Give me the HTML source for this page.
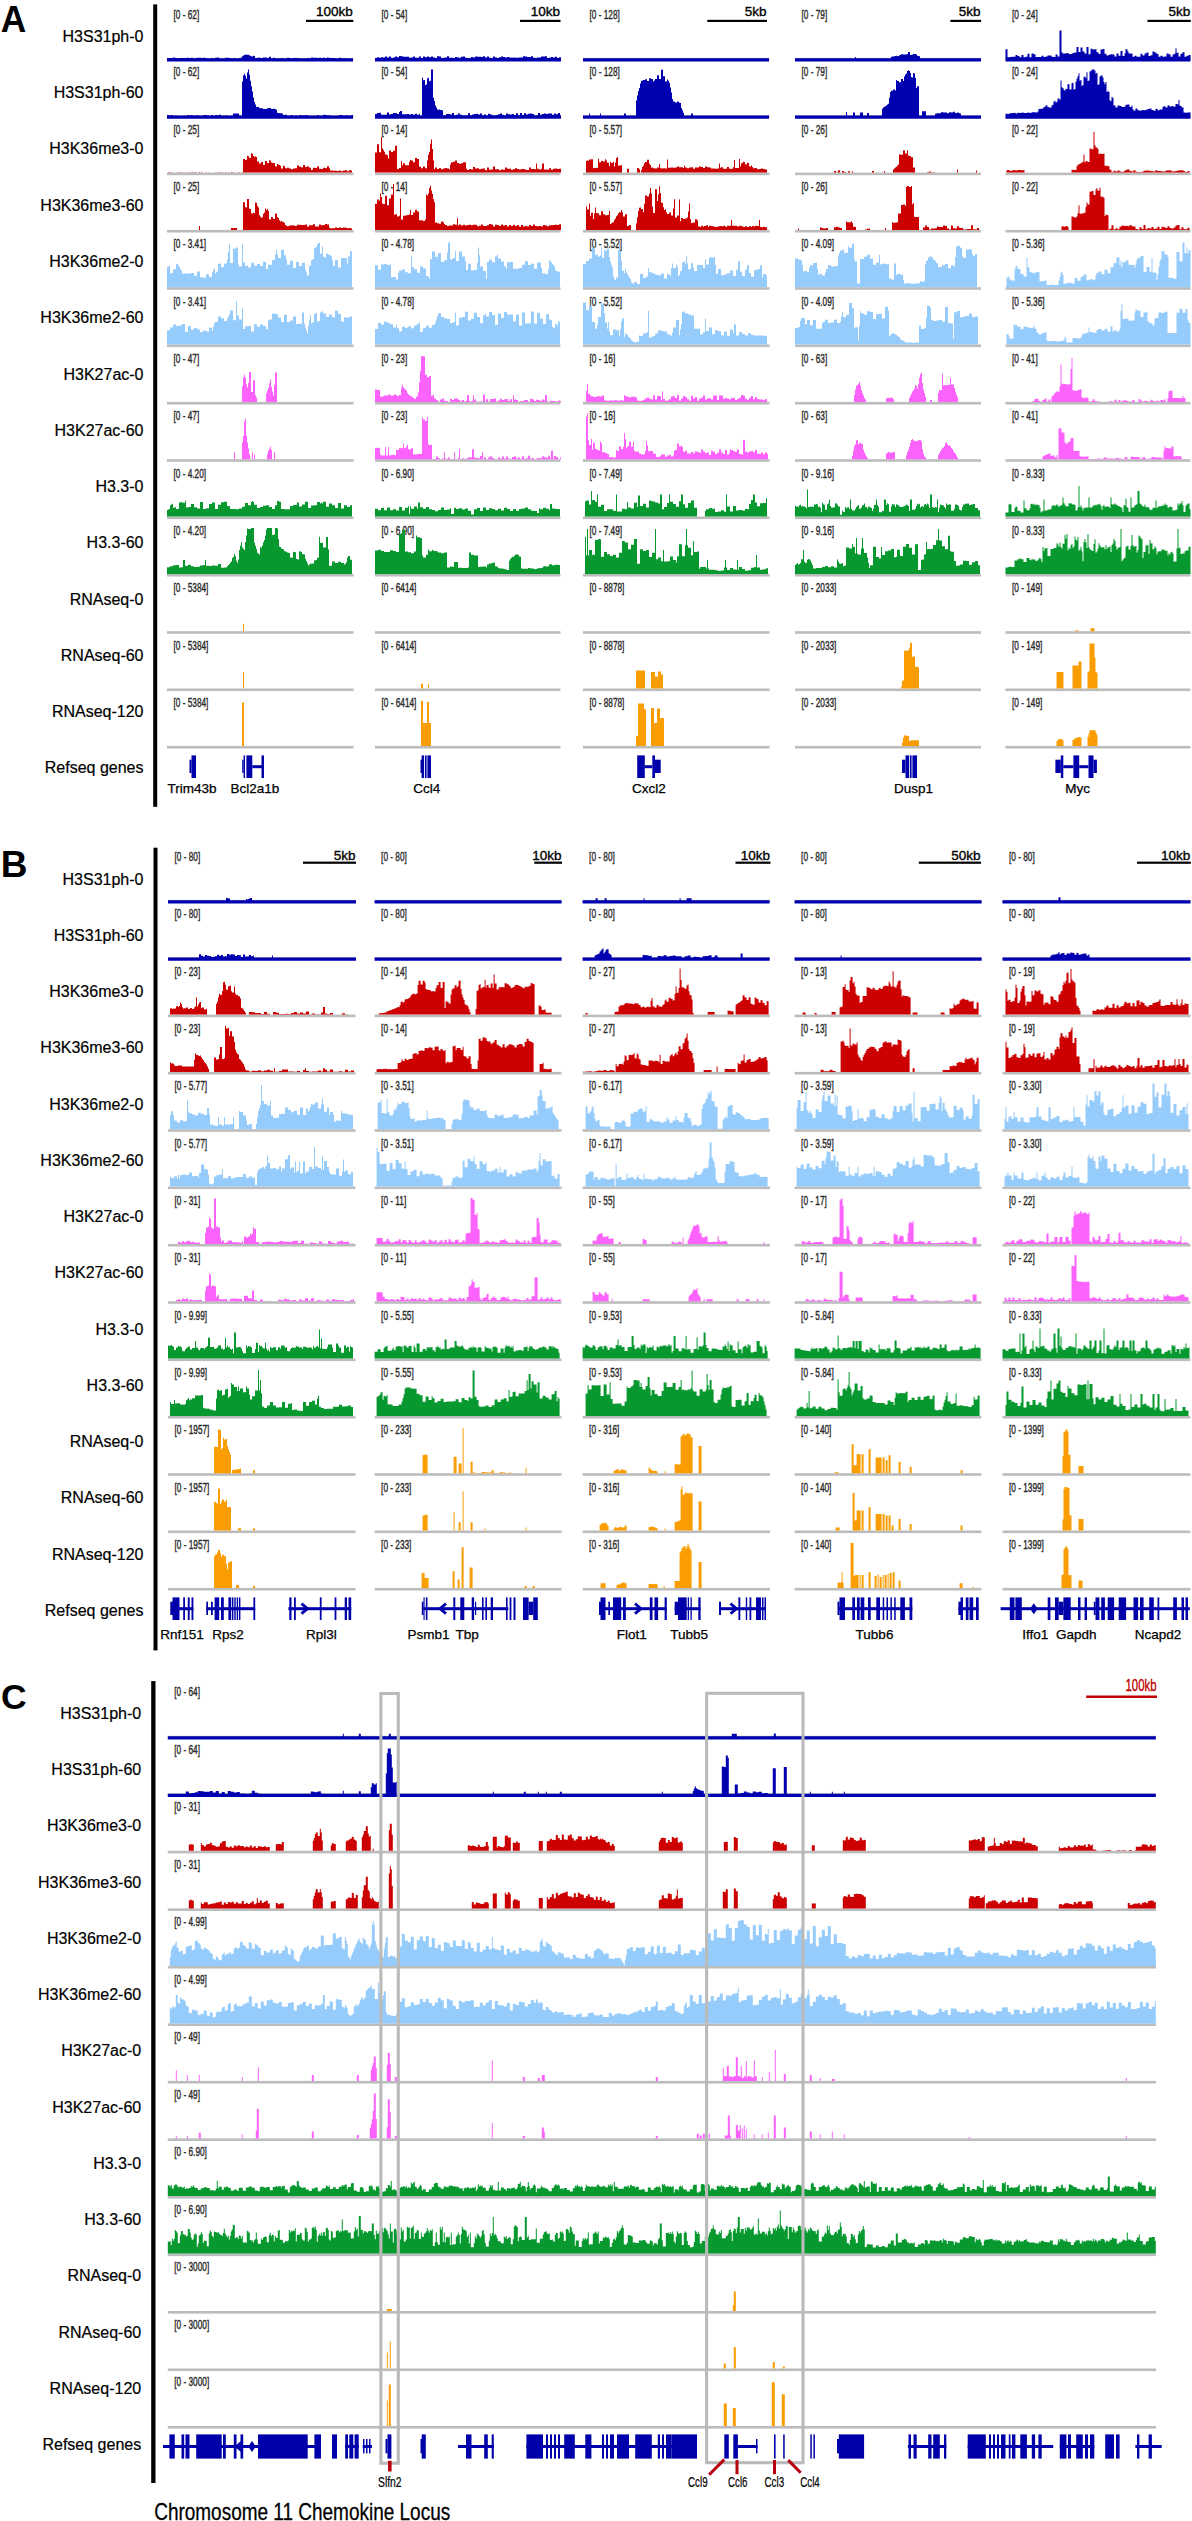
<!DOCTYPE html><html><head><meta charset="utf-8"><style>html,body{margin:0;padding:0;background:#fff;}svg{display:block;}text{font-family:"Liberation Sans",Arial,sans-serif;}</style></head><body>
<svg width="1192" height="2521" viewBox="0 0 1192 2521">
<rect width="1192" height="2521" fill="#fff"/>
<text x="0.8" y="32" font-size="37" font-weight="bold" textLength="25.5" lengthAdjust="spacingAndGlyphs">A</text>
<rect x="153.2" y="4.4" width="4" height="802.4" fill="#000"/>
<text x="143.5" y="41.9" font-size="16" text-anchor="end" stroke="#000" stroke-width="0.2">H3S31ph-0</text>
<text x="143.5" y="98.2" font-size="16" text-anchor="end" stroke="#000" stroke-width="0.2">H3S31ph-60</text>
<text x="143.5" y="154.4" font-size="16" text-anchor="end" stroke="#000" stroke-width="0.2">H3K36me3-0</text>
<text x="143.5" y="210.7" font-size="16" text-anchor="end" stroke="#000" stroke-width="0.2">H3K36me3-60</text>
<text x="143.5" y="267" font-size="16" text-anchor="end" stroke="#000" stroke-width="0.2">H3K36me2-0</text>
<text x="143.5" y="323.2" font-size="16" text-anchor="end" stroke="#000" stroke-width="0.2">H3K36me2-60</text>
<text x="143.5" y="379.5" font-size="16" text-anchor="end" stroke="#000" stroke-width="0.2">H3K27ac-0</text>
<text x="143.5" y="435.8" font-size="16" text-anchor="end" stroke="#000" stroke-width="0.2">H3K27ac-60</text>
<text x="143.5" y="492.1" font-size="16" text-anchor="end" stroke="#000" stroke-width="0.2">H3.3-0</text>
<text x="143.5" y="548.3" font-size="16" text-anchor="end" stroke="#000" stroke-width="0.2">H3.3-60</text>
<text x="143.5" y="604.6" font-size="16" text-anchor="end" stroke="#000" stroke-width="0.2">RNAseq-0</text>
<text x="143.5" y="660.9" font-size="16" text-anchor="end" stroke="#000" stroke-width="0.2">RNAseq-60</text>
<text x="143.5" y="717.1" font-size="16" text-anchor="end" stroke="#000" stroke-width="0.2">RNAseq-120</text>
<text x="143.5" y="773.4" font-size="16" text-anchor="end" stroke="#000" stroke-width="0.2">Refseq genes</text>
<text x="173.5" y="19" font-size="12.9" textLength="25.7" lengthAdjust="spacingAndGlyphs" fill="#2a2a2a" stroke="#2a2a2a" stroke-width="0.4">[0 - 62]</text>
<rect x="167" y="57.9" width="186.5" height="2.6" fill="#bcbcbc"/>
<path d="M167 61.5V58H168H169V57.9H170H171V58.1H172H173V57.6H174H175V57.9H176H177V58.3H178H179V58.1H180H181V58H182H183V58.1H184H185V58.1H186H187V57.8H188H189V57.9H190H191V57.8H192H193V58.2H194H195V58.1H196H197V57.7H198H199V57.7H200H201V58H202H203V57.8H204H205V57.9H206H207V58.3H208H209V58.2H210H211V58.1H212H213V58.2H214H215V57.8H216H217V57.6H218H219V58.2H220H221H222H223V58.3H224H225V57.7H226H227V57.8H228H229V58H230H231V58.2H232H233V58H234H235V58.2H236H237V58.3H238H239V58.1H240H241V57.6H242V56.2H243V55.6H244V55.1H245V54.6H246V54.8H247V54.7H248V54.8H249V55.5H250V55.7H251V56.3H252V56.4H253V55.7H254V55.9H255V58.1H256H257V57.7H258H259H260H261V57.9H262H263V57.6H264H265V57.6H266H267V57.9H268H269V56.8H270H271V58.3H272H273V57.8H274H275V58.2H276H277V58.3H278H279V58.2H280H281V58H282H283V58.2H284H285V58.3H286H287V57.7H288H289V58.1H290H291V58.3H292H293V58.1H294H295H296H297H298H299V58.3H300H301H302H303H304H305H306H307V58.1H308H309V58.2H310H311V57.5H312H313V57.7H314H315V57.8H316H317V58.1H318H319V57.8H320H321V58H322H323V57.8H324H325V58.1H326H327V57.5H328H329V58.1H330H331V58H332H333V57.9H334H335V58.2H336H337H338H339V57.7H340H341V58.3H342H343V58H344H345V58.3H346H347H348H349V58.2H350H351H352H353V61.5Z" fill="#0000b0"/>
<text x="173.5" y="76.3" font-size="12.9" textLength="25.7" lengthAdjust="spacingAndGlyphs" fill="#2a2a2a" stroke="#2a2a2a" stroke-width="0.4">[0 - 62]</text>
<rect x="167" y="115.2" width="186.5" height="2.6" fill="#bcbcbc"/>
<path d="M167 118.8V115H168H169V115.2H170H171V115H172H173V115.5H174H175V115.2H176H177V115.6H178H179V115.4H180H181V115.6H182H183H184H185V115.4H186H187V114.9H188H189V115.3H190H191V115H192H193V115.4H194H195V115.3H196H197H198H199V115.5H200H201V115.6H202H203V115.1H204H205H206H207V115.3H208H209V115.4H210H211V115.1H212H213V115.6H214H215V115H216H217V115.2H218H219V114.8H220H221V115.5H222H223H224H225V115.3H226H227V115.5H228H229V115.6H230H231V115.5H232H233V113.6H234H235H236H237H238H239V115.3H240H241V115.5H242V81.6H243V75.4H244V73.8H245V75.8H246V78.5H247V72.6H248V69.6H249V74.8H250V80.7H251V86.2H252V91.6H253V97.4H254V102.1H255V104.5H256V106.9H257V106.7H258V106.9H259V108.1H260V108.3H261H262H263V109.1H264H265V109H266H267V108.2H268H269V108H270H271V108.9H272H273V108.8H274H275V109.2H276V109.8H277V112.7H278V112.9H279V113.2H280V113.3H281V113.2H282V113.4H283V115H284H285V114.8H286H287V115.4H288H289V115.3H290H291V115.1H292H293V115.6H294H295V115.2H296H297V115.6H298H299V115.1H300H301V115.3H302H303H304H305V115.1H306H307V115.2H308H309V115.6H310H311V115.6H312H313H314H315H316H317V115.1H318H319V115.5H320H321V115.6H322H323V114.8H324H325V115H326H327V115.3H328H329H330H331V115.6H332H333V115.6H334H335H336H337V115.5H338H339V115.1H340H341V115.1H342H343V115.6H344H345V115.3H346H347V115.2H348H349V115.6H350H351V115H352H353V118.8Z" fill="#0000b0"/>
<text x="173.5" y="133.7" font-size="12.9" textLength="25.7" lengthAdjust="spacingAndGlyphs" fill="#2a2a2a" stroke="#2a2a2a" stroke-width="0.4">[0 - 25]</text>
<rect x="167" y="172.6" width="186.5" height="2.6" fill="#bcbcbc"/>
<path d="M167 172.6V172.4H168V172.3H169V172.3H170H171V172.2H172V172.4H173H174H175H176H177V172.1H178V172.4H179V172.3H180H181V172.3H182H183V172.4H184V172.5H185V172.2H186V172.4H187V172.5H188V172.3H189V172.5H190V172.1H191V172.4H192V172.3H193V172.3H194H195V172.1H196V172.5H197H198H199V172.1H200V172.5H201V172.1H202V172.4H203V172.5H204H205H206V172.2H207V172.6H208V172.4H209V172.2H210V172.4H211H212H213V172.5H214H215V172.2H216V172.5H217V172.1H218V172.5H219V172.3H220V172.2H221H222H223V172.5H224V172.5H225V172.2H226V172.5H227H228V172.2H229V172.5H230V172.5H231V172.1H232V172.2H233H234V172.4H235H236H237V172.5H238V172.3H239V172.2H240V172.4H241V172.3H242V172.2H243V159.1H244V158.9H245V160H246V159.8H247V155.8H248V156.2H249V157.7H250V158.1H251V153.2H252V153.7H253V156H254V156.7H255V156.4H256V157.1H257V161.4H258V161.6H259V163.4H260V163.5H261V162H262V162.1H263V164.9H264V165H265V160.9H266V161.1H267V163.1H268V163.2H269V160.3H270V160.5H271V162.6H272V162.7H273V162.9H274V163H275V166.3H276V166.5H277V163.9H278V164.6H279V165H280V165.8H281V168.4H282V168.6H283V165.7H284V166.1H285V168.1H286V168.4H287V167.8H288V167.8H289V168.6H290V168.6H291V169.2H292H293V168.5H294V168.4H295V168.3H296V168.2H297V165.6H298V165.5H299V166.7H300V166.6H301V167.4H302V167.3H303V165.1H304V165H305V166.9H306V167.1H307V166.2H308V166.6H309V167.4H310V167.7H311V169.9H312V169.8H313V167.8H314V167.7H315V168.1H316V168H317V166.5H318V166.3H319V168.7H320V168.7H321V169.1H322V169.1H323V167.8H324V167.7H325V168.2H326V168.1H327V166.3H328V166.2H329V168.3H330V170.4H331V170.5H332H333V170.7H334H335H336H337V171H338H339V170.4H340H341V171.2H342H343V170.5H344H345V170.3H346H347V171.2H348H349V170.2H350H351V170.4H352V172.6H353V172.6Z" fill="#cc0000"/>
<text x="173.5" y="191" font-size="12.9" textLength="25.7" lengthAdjust="spacingAndGlyphs" fill="#2a2a2a" stroke="#2a2a2a" stroke-width="0.4">[0 - 25]</text>
<rect x="167" y="229.9" width="186.5" height="2.6" fill="#bcbcbc"/>
<path d="M167 229.9V229.9H168H169H170H171H172H173H174H175H176H177H178H179H180H181H182H183H184H185H186H187H188H189H190H191H192H193H194H195H196H197H198H199V225.9H200V229.9H201H202H203H204H205H206H207H208H209H210H211H212H213H214H215H216H217H218H219H220H221H222H223H224H225H226H227H228H229H230H231V227.9H232H233H234H235H236H237V229.9H238H239H240H241H242H243V202.2H244H245V207.3H246H247V198.9H248H249V208.7H250V208.9H251V213.3H252V213.5H253V212.7H254V212.9H255V202.4H256V202.7H257V206H258V207.6H259V215.3H260V216.4H261V218H262V217H263V213.7H264V212.6H265V208.4H266V210.1H267V209H268V211H269V219.3H270V219.5H271V217H272V217.2H273V218.8H274V219H275V213.4H276V213.7H277V216.9H278V218.1H279V220.3H280V221.5H281V220.8H282V221.7H283V221.9H284V222.9H285V225H286V225.8H287V226.2H288H289V225.4H290H291V225.2H292H293V225.4H294H295V226H296H297V224.7H298H299V224.8H300H301V224.9H302H303H304H305V224.5H306H307V226.4H308H309V225.2H310H311H312H313V224.3H314H315V226.6H316H317V226.6H318H319V224.4H320H321V225.2H322H323V225.1H324H325V224.1H326H327V224.6H328H329V227.5H330V228.4H331V228.2H332H333H334H335V227.4H336H337V228H338H339V227.5H340H341V227.9H342H343V227.6H344H345V227.8H346H347V228.2H348H349V228.1H350H351V228.5H352V229.9H353V229.9Z" fill="#cc0000"/>
<text x="173.5" y="248.3" font-size="12.9" textLength="32.6" lengthAdjust="spacingAndGlyphs" fill="#2a2a2a" stroke="#2a2a2a" stroke-width="0.4">[0 - 3.41]</text>
<rect x="167" y="287.2" width="186.5" height="2.6" fill="#bcbcbc"/>
<path d="M167 287.2V267H168V266.5H169V266H170V273.6H171V273.3H172V273H173V269.7H174V269.3H175V268.9H176V264.2H177V263.8H178V265.6H179V266.9H180V268.8H181V270.8H182V273.6H183H184H185V273.4H186H187H188V273.6H189H190H191V273H192H193H194V275.7H195H196H197V271.4H198H199H200V277.2H201H202H203V277.8H204H205H206V274.2H207H208H209V277H210H211H212V271.9H213V270.3H214V268.6H215V273.5H216V272.3H217V271.2H218V264.1H219V263.8H220V263.6H221V267.3H222V267.2H223V267H224V263.7H225V263.5H226V263.3H227V259.3H228V251.7H229V244.1H230V263.1H231V263H232V262.9H233V248.8H234V248.7H235V248.6H236V247.6H237V247.5H238V264.5H239V266.6H240H241H242V244.2H243V262.6H244H245V265.8H246H247H248V267.4H249H250H251V262.7H252H253H254V265.8H255H256H257V263.9H258H259H260V265.9H261H262H263V261.8H264H265H266V269H267H268V264.4H269V264.8H270H271H272V260.1H273H274H275V254.2H276V249.2H277V254.2H278V258.1H279H280H281V249.8H282H283H284V255.2H285H286V259.5H287V264.8H288H289H290V260.8H291H292H293V268.1H294H295H296V261.9H297H298H299V265.9H300H301H302V262.8H303H304H305V269.6H306V272.6H307V275.7H308V275.1H309V265.9H310V265.5H311V260.2H312V259.6H313V259.1H314V248.3H315V247.6H316V246.9H317V244H318V243.2H319V242.5H320V254.1H321V253.5H322V246.2H323V256.4H324V257.1H325V257.8H326V253.2H327V254H328V254.8H329V254.6H330V255.4H331V256.2H332V260.5H333V265.9H334H335V260.1H336H337H338V267.4H339H340H341V258.1H342H343H344V257.9H345H346H347V263.5H348V256.6H349H350V250.9H351H352V287.2H353V287.2Z" fill="#96ccfc"/>
<text x="173.5" y="305.6" font-size="12.9" textLength="32.6" lengthAdjust="spacingAndGlyphs" fill="#2a2a2a" stroke="#2a2a2a" stroke-width="0.4">[0 - 3.41]</text>
<rect x="167" y="344.5" width="186.5" height="2.6" fill="#bcbcbc"/>
<path d="M167 344.5V330.2H168H169H170V327.4H171H172H173V324.6H174H175H176V325.9H177H178H179V325.6H180H181H182V324.1H183H184H185V331.8H186H187H188V326.1H189H190H191V329.6H192H193V329.7H194V327.8H195V327.9H196V328H197V329.2H198V329.3H199V329.4H200V331.9H201V331.9H202V332H203V330.6H204V330.7H205V330.8H206V331.3H207V331.4H208V331.5H209V327.6H210V327.7H211V327.8H212V330.7H213V326.8H214V322.8H215V322.2H216V322H217V321.8H218V316.8H219V316.5H220V316.3H221V318.6H222V318.4H223V318.1H224V321.3H225V321H226V320.8H227V318.7H228V316.6H229V314.6H230V310.6H231H232H233V320.3H234H235H236V301.5H237V315.4H238H239V319.5H240H241H242V308.5H243V329.1H244H245V326.2H246H247H248V326.1H249H250H251V331.5H252H253H254V324.3H255H256H257V326.8H258H259H260V324.5H261H262H263V326H264H265H266V329.3H267H268V320.3H269V319.5H270H271H272V313.4H273H274H275V314.1H276H277H278V317.6H279H280H281V322.1H282H283H284V314.7H285H286H287V322.1H288H289H290V320.5H291H292H293V316.6H294H295H296V324.1H297H298H299V323.8H300H301H302V312.5H303H304V323.7H305V327.6H306V330.6H307V333.6H308V325.6H309V320.3H310V314.9H311V323.2H312V322.8H313V322.3H314V314.2H315V313.6H316V312.9H317V321.8H318V321.3H319V320.9H320V312.4H321V311.8H322V311.2H323V313.2H324V313.4H325V313.6H326V316.7H327V316.9H328V317.1H329V314.4H330V314.6H331V314.8H332V317.1H333V317.3H334V317.6H335V310.6H336V310.8H337V311.1H338V313.7H339V313.9H340V314.1H341V321.4H342V321.6H343V321.7H344V317.2H345V317.4H346V317.7H347V317.2H348V317.4H349V317.6H350V316.1H351V316.4H352V344.5H353V344.5Z" fill="#96ccfc"/>
<text x="173.5" y="363" font-size="12.9" textLength="25.7" lengthAdjust="spacingAndGlyphs" fill="#2a2a2a" stroke="#2a2a2a" stroke-width="0.4">[0 - 47]</text>
<rect x="167" y="401.9" width="186.5" height="2.6" fill="#bcbcbc"/>
<path d="M167 401.9V401.9H168H169H170H171H172H173H174H175H176H177H178H179H180H181H182H183H184H185H186H187H188H189H190H191H192H193H194H195H196H197H198H199H200H201H202H203H204H205H206H207H208H209H210H211H212H213H214H215H216H217H218H219H220H221H222H223H224H225H226H227H228H229H230H231H232H233H234H235H236H237H238H239H240H241H242V386.2H243V377.6H244V374.7H245V377.5H246V384.2H247V387.2H248V383H249V371.9H250H251V391.9H252H253V380.2H254H255V395.2H256V397.5H257V401.9H258H259H260H261H262H263H264H265H266V393.3H267V390.8H268V388H269V383.2H270V379.5H271V386.7H272V391.5H273V395.3H274V385.1H275V372.6H276H277V401.9H278H279H280H281H282H283H284H285H286H287H288H289H290H291H292H293H294H295H296H297H298H299H300H301H302H303H304H305H306H307H308H309H310H311H312H313H314H315H316H317H318H319H320H321H322H323H324H325H326H327H328H329H330H331H332H333H334H335H336H337H338H339H340H341H342H343H344H345H346H347H348H349H350H351H352H353V401.9Z" fill="#fc62fc"/>
<text x="173.5" y="420.3" font-size="12.9" textLength="25.7" lengthAdjust="spacingAndGlyphs" fill="#2a2a2a" stroke="#2a2a2a" stroke-width="0.4">[0 - 47]</text>
<rect x="167" y="459.2" width="186.5" height="2.6" fill="#bcbcbc"/>
<path d="M167 459.2V459.2H168H169H170H171H172H173H174H175H176H177H178H179H180H181H182H183H184H185H186H187H188H189H190H191H192H193H194H195H196H197H198H199H200H201H202H203H204H205H206H207H208H209H210H211H212H213H214H215H216H217H218H219H220H221H222H223H224H225H226H227H228H229H230H231H232H233H234V452.2H235V459.2H236H237H238H239H240H241H242V442.2H243V435.9H244V421.8H245V418.8H246V435.6H247V442.5H248V448.7H249V454.2H250V459.2H251H252V452.2H253V459.2H254V454.2H255V459.2H256H257H258H259H260H261H262H263H264H265H266H267V454H268V450.5H269V448.9H270V446.7H271V450.1H272V459.2H273H274V452.2H275V459.2H276H277H278H279H280H281H282H283H284H285H286H287H288H289H290H291H292H293H294H295H296H297H298H299H300H301H302H303H304H305H306H307H308H309H310H311H312H313H314H315H316H317H318H319H320H321H322H323H324H325H326H327H328H329H330H331H332H333H334H335H336H337H338H339H340H341H342H343H344H345H346H347H348H349H350H351H352H353V459.2Z" fill="#fc62fc"/>
<text x="173.5" y="477.6" font-size="12.9" textLength="32.6" lengthAdjust="spacingAndGlyphs" fill="#2a2a2a" stroke="#2a2a2a" stroke-width="0.4">[0 - 4.20]</text>
<rect x="167" y="516.5" width="186.5" height="2.6" fill="#bcbcbc"/>
<path d="M167 516.5V510.1H168V509.6H169V509H170V505.3H171V504.6H172V503.8H173V507.7H174V507.5H175V507.3H176V509H177V508.9H178V508.7H179V502.6H180V502.4H181V502.1H182V502.6H183V502.8H184V503.1H185V500.7H186V507.4H187V507.5H188V506.9H189H190H191V503.9H192H193H194V507.2H195H196H197V508.4H198H199H200V502H201H202H203V509H204H205H206V508.2H207H208H209V503.9H210H211H212V502.4H213H214H215V509.1H216H217H218V504.8H219H220H221V502.3H222H223H224V501.7H225H226H227V505.9H228H229H230V508.9H231H232H233H234H235H236V509.3H237H238H239V508.6H240H241H242V506.7H243H244H245V502.9H246H247H248V505.2H249H250H251V501.9H252V501H253V501.9H254V504.7H255H256H257V508H258H259H260V507.1H261H262H263V505.7H264H265H266V505.3H267H268H269V507H270H271H272V509H273H274H275V505.2H276H277V501H278H279V501.8H280H281V509H282H283H284V509.2H285H286H287H288H289H290V506H291H292H293V505H294H295H296V504.7H297V502.5H298H299V506.4H300H301H302V504.5H303H304H305V501.7H306H307H308V508.1H309H310H311V505.6H312H313H314V505.3H315H316H317V501.9H318H319H320V503.6H321V502.5H322V503.6H323V501.8H324H325H326V506.8H327H328H329V503.6H330H331H332V505.2H333H334H335V507.9H336H337H338V502.9H339H340H341V508.6H342H343H344V505.2H345H346H347V507H348H349H350V505.3H351H352V516.5H353V516.5Z" fill="#07992f"/>
<text x="173.5" y="535" font-size="12.9" textLength="32.6" lengthAdjust="spacingAndGlyphs" fill="#2a2a2a" stroke="#2a2a2a" stroke-width="0.4">[0 - 4.20]</text>
<rect x="167" y="573.9" width="186.5" height="2.6" fill="#bcbcbc"/>
<path d="M167 573.9V567.3H168H169H170V566.3H171H172H173V565.3H174H175H176V565.1H177H178H179V567.4H180H181H182V567H183V559.9H184H185V565.7H186H187H188V564.8H189H190H191V566.3H192H193H194V566.9H195H196H197V566.7H198H199H200V565.5H201H202H203V564.9H204H205V559.9H206V565.7H207H208H209V566H210H211H212V565.5H213H214H215V565.7H216H217H218V564.1H219H220H221V567.8H222H223H224V567.6H225H226H227V566H228V565H229V564H230V562.6H231V561.5H232V558.1H233V556.9H234V553.9H235V556.3H236V560.7H237V562.8H238V559.6H239V550.1H240V545.8H241V542H242V547.4H243V548.8H244V550.1H245V542.2H246V535.4H247V528.6H248V529.1H249H250H251V527.9H252H253H254V542.6H255V545.7H256V548.9H257V552.7H258V553.6H259V554.4H260V547.3H261V547.6H262V545.6H263V542.2H264V540.1H265V535.6H266V529.5H267V527.9H268H269H270H271H272V535H273V534.8H274V534.6H275V527.9H276H277V528.4H278V539H279V546.6H280V546.9H281V548.6H282V548.9H283V549.2H284V551.1H285V551.4H286V551.7H287V552.4H288V552.7H289V552.9H290V557.4H291V557.6H292V557.8H293V551.7H294V551.9H295V552.3H296V558.9H297V559.2H298V559.4H299V551.2H300V551.5H301V551.9H302V553.9H303V554.2H304V554.6H305V558.7H306V560.9H307V563.2H308V565.5H309V564.5H310V563.5H311V563.7H312V563.6H313V563.5H314V560.4H315V560.2H316V560.1H317V557.8H318V557.6H319V536.7H320V542.7H321H322H323V547.5H324H325H326V536.9H327H328V549.6H329V565.8H330H331H332V561.6H333H334H335V563H336H337H338V561.7H339H340H341V563.1H342H343H344V564.4H345V563.8H346V562.2H347V557.8H348V555.9H349H350V559.7H351H352V573.9H353V573.9Z" fill="#07992f"/>
<text x="173.5" y="592.3" font-size="12.9" textLength="34.9" lengthAdjust="spacingAndGlyphs" fill="#2a2a2a" stroke="#2a2a2a" stroke-width="0.4">[0 - 5384]</text>
<rect x="167" y="631.2" width="186.5" height="2.6" fill="#bcbcbc"/>
<path d="M167 631.2V631.2H168H169H170H171H172H173H174H175H176H177H178H179H180H181H182H183H184H185H186H187H188H189H190H191H192H193H194H195H196H197H198H199H200H201H202H203H204H205H206H207H208H209H210H211H212H213H214H215H216H217H218H219H220H221H222H223H224H225H226H227H228H229H230H231H232H233H234H235H236H237H238H239H240H241H242H243V623.7H244V631.2H245H246H247H248H249H250H251H252H253H254H255H256H257H258H259H260H261H262H263H264H265H266H267H268H269H270H271H272H273H274H275H276H277H278H279H280H281H282H283H284H285H286H287H288H289H290H291H292H293H294H295H296H297H298H299H300H301H302H303H304H305H306H307H308H309H310H311H312H313H314H315H316H317H318H319H320H321H322H323H324H325H326H327H328H329H330H331H332H333H334H335H336H337H338H339H340H341H342H343H344H345H346H347H348H349H350H351H352H353V631.2Z" fill="#f99d03"/>
<text x="173.5" y="649.6" font-size="12.9" textLength="34.9" lengthAdjust="spacingAndGlyphs" fill="#2a2a2a" stroke="#2a2a2a" stroke-width="0.4">[0 - 5384]</text>
<rect x="167" y="688.5" width="186.5" height="2.6" fill="#bcbcbc"/>
<path d="M167 688.5V688.5H168H169H170H171H172H173H174H175H176H177H178H179H180H181H182H183H184H185H186H187H188H189H190H191H192H193H194H195H196H197H198H199H200H201H202H203H204H205H206H207H208H209H210H211H212H213H214H215H216H217H218H219H220H221H222H223H224H225H226H227H228H229H230H231H232H233H234H235H236H237H238H239H240H241H242H243V672.1H244V688.5H245H246H247H248H249H250H251H252H253H254H255H256H257H258H259H260H261H262H263H264H265H266H267H268H269H270H271H272H273H274H275H276H277H278H279H280H281H282H283H284H285H286H287H288H289H290H291H292H293H294H295H296H297H298H299H300H301H302H303H304H305H306H307H308H309H310H311H312H313H314H315H316H317H318H319H320H321H322H323H324H325H326H327H328H329H330H331H332H333H334H335H336H337H338H339H340H341H342H343H344H345H346H347H348H349H350H351H352H353V688.5Z" fill="#f99d03"/>
<text x="173.5" y="707" font-size="12.9" textLength="34.9" lengthAdjust="spacingAndGlyphs" fill="#2a2a2a" stroke="#2a2a2a" stroke-width="0.4">[0 - 5384]</text>
<rect x="167" y="745.9" width="186.5" height="2.6" fill="#bcbcbc"/>
<path d="M167 745.9V745.9H168H169H170H171H172H173H174H175H176H177H178H179H180H181H182H183H184H185H186H187H188H189H190H191H192H193H194H195H196H197H198H199H200H201H202H203H204H205H206H207H208H209H210H211H212H213H214H215H216H217H218H219H220H221H222H223H224H225H226H227H228H229H230H231H232H233H234H235H236H237H238H239H240H241H242V702.4H243H244V745.9H245H246H247H248H249H250H251H252H253H254H255H256H257H258H259H260H261H262H263H264H265H266H267H268H269H270H271H272H273H274H275H276H277H278H279H280H281H282H283H284H285H286H287H288H289H290H291H292H293H294H295H296H297H298H299H300H301H302H303H304H305H306H307H308H309H310H311H312H313H314H315H316H317H318H319H320H321H322H323H324H325H326H327H328H329H330H331H332H333H334H335H336H337H338H339H340H341H342H343H344H345H346H347H348H349H350H351H352H353V745.9Z" fill="#f99d03"/>
<text x="352.8" y="16.4" font-size="13.5" text-anchor="end" stroke="#000" stroke-width="0.35">100kb</text>
<rect x="306" y="19.8" width="47.3" height="2.2" fill="#000"/>
<rect x="189.5" y="759.7" width="2" height="13.3" fill="#0000aa"/>
<rect x="191.5" y="755.4" width="4.5" height="22.6" fill="#0000aa"/>
<rect x="242.2" y="759.7" width="1.4" height="13.3" fill="#0000aa"/>
<rect x="243.6" y="755.4" width="1.4" height="22.6" fill="#0000aa"/>
<rect x="246.4" y="755.4" width="5.9" height="22.6" fill="#0000aa"/>
<rect x="252.3" y="765.2" width="9.7" height="3" fill="#0000aa"/>
<rect x="261.5" y="755.4" width="2.5" height="22.6" fill="#0000aa"/>
<text x="192.1" y="793" font-size="13.5" text-anchor="middle" stroke="#000" stroke-width="0.25">Trim43b</text>
<text x="255" y="793" font-size="13.5" text-anchor="middle" stroke="#000" stroke-width="0.25">Bcl2a1b</text>
<text x="381.5" y="19" font-size="12.9" textLength="25.7" lengthAdjust="spacingAndGlyphs" fill="#2a2a2a" stroke="#2a2a2a" stroke-width="0.4">[0 - 54]</text>
<rect x="375" y="57.9" width="185.5" height="2.6" fill="#bcbcbc"/>
<path d="M375 61.5V57.9H376H377V57.3H378H379V57.8H380H381V57.2H382H383V57.5H384H385V56.4H386H387V57.6H388H389V56.5H390H391V57.9H392H393V57.4H394H395V56.4H396H397V57.2H398H399V56.1H400H401V56.3H402H403V56.8H404H405V56.7H406H407V56.7H408H409V57.8H410H411V57.5H412H413V56.6H414H415V57.8H416H417V57.7H418H419V56.4H420H421V57.9H422H423V56.6H424H425V57.3H426H427V56.6H428H429V57.2H430H431V56.6H432H433V57.4H434H435V58H436H437V56.2H438H439V56.5H440H441V58H442H443V57.8H444H445V57.5H446H447V56.3H448H449V57.8H450H451H452H453V58H454H455V57.1H456H457V57.4H458H459V57.8H460H461V56.8H462H463V56.5H464H465V57.8H466H467V57.9H468H469H470H471V56.9H472H473V57.5H474H475V56.6H476H477V56.8H478H479H480H481V56.9H482H483V56.2H484H485V57.6H486H487V56.5H488H489V57.7H490H491V57.9H492H493V56.4H494H495V57.4H496H497V57.9H498H499V57.3H500H501V56.6H502H503V57.1H504H505V57.5H506H507V57.1H508H509V57.5H510H511V57.7H512H513V57.6H514H515V57.8H516H517H518H519V57.6H520H521H522H523V56.2H524H525V56.4H526H527V57.1H528H529V57H530H531V56.3H532H533V57.8H534H535V57.9H536H537V57.4H538H539H540H541V56.4H542H543H544H545V56.2H546H547V58H548H549V57.8H550H551V57.1H552H553V57.6H554H555V56.8H556H557V57.9H558H559V57.2H560H561V61.5Z" fill="#0000b0"/>
<text x="381.5" y="76.3" font-size="12.9" textLength="25.7" lengthAdjust="spacingAndGlyphs" fill="#2a2a2a" stroke="#2a2a2a" stroke-width="0.4">[0 - 54]</text>
<rect x="375" y="115.2" width="185.5" height="2.6" fill="#bcbcbc"/>
<path d="M375 118.8V114H376H377V113.1H378H379V112.8H380H381V114.7H382H383V114.8H384H385V114.7H386H387V112.4H388H389V114.5H390H391V114H392H393V113H394H395H396H397V114.1H398H399V112.1H400V111.1H401H402V114.2H403H404H405H406H407V114.1H408H409V114.4H410H411V113.9H412H413V114.8H414H415V113.8H416H417V114.7H418H419V114.1H420V115.6H421H422V77.7H423V80.3H424V79.9H425V84.9H426V84.6H427V78.4H428V77.7H429V81.3H430V80.7H431V69.6H432H433V97.7H434V100.9H435V105.4H436V107.5H437V109.4H438V109.8H439V109.5H440V109.9H441V109.9H442V110.3H443V115.3H444V115.2H445H446V114H447H448V114.1H449H450V114.4H451H452V112.9H453H454V115.3H455H456V114.8H457H458V113.4H459H460V114.8H461H462V115.3H463H464H465H466V115.2H467H468V113.2H469H470V115.2H471H472V114.4H473H474V113.9H475H476V113.7H477H478V114.6H479H480V113.4H481H482V115.2H483H484V114.4H485H486V115.2H487H488V113.7H489H490V114.5H491H492V115.3H493H494H495H496V114.9H497H498V114.3H499H500V113.4H501H502V114.7H503H504V115.3H505H506V113.6H507H508V114.3H509H510V114.4H511H512V114.1H513H514V115.1H515H516V113.2H517H518V115.2H519H520V112.9H521H522V115H523H524V113.2H525H526V114.5H527H528V113.7H529H530V113.5H531H532V113.9H533H534V115.3H535H536V115.2H537H538V113.1H539H540V114.7H541H542V114H543H544V113.6H545H546V113.9H547H548V113.5H549H550V113.4H551H552V114.7H553H554V113.5H555H556V114.2H557H558V113H559H560V115.2H561V118.8Z" fill="#0000b0"/>
<text x="381.5" y="133.7" font-size="12.9" textLength="25.7" lengthAdjust="spacingAndGlyphs" fill="#2a2a2a" stroke="#2a2a2a" stroke-width="0.4">[0 - 14]</text>
<rect x="375" y="172.6" width="185.5" height="2.6" fill="#bcbcbc"/>
<path d="M375 172.6V152.5H376H377V144.2H378H379V152.3H380H381V137.1H382V148.2H383V149.9H384V151.8H385V154.6H386H387V155.2H388V158.4H389V150.7H390V150.2H391V151.9H392H393V150.7H394H395V145.8H396H397V168.9H398H399V167.9H400H401V161.1H402V165.3H403V163.3H404H405V165.3H406H407H408H409V161.8H410V160.1H411V160.5H412V160.4H413V162.3H414V162.2H415V158.1H416V158H417V159.1H418V158.9H419V166.8H420H421V168.2H422H423V166.4H424H425V168.3H426H427V160.6H428V154.8H429V151.7H430V143.8H431V139.6H432V149H433V160.6H434V169.2H435V167.4H436H437V169H438H439V167.9H440H441V169.2H442H443V168.4H444H445V167.9H446H447V168.6H448H449V169.3H450V164.5H451V162.3H452V162.4H453V161.7H454V161.8H455V160.4H456V160.5H457V162.9H458V163H459V163.7H460V163.8H461V163.3H462V163.3H463V162.3H464V162.3H465V162.2H466V168.5H467V170.1H468H469V168.9H470H471V169.4H472H473V167.1H474H475V168.4H476H477V168.3H478H479V169.2H480H481V168.8H482H483V168.5H484H485V170.3H486H487V167.6H488H489V169.7H490H491V169.4H492H493V166.6H494H495V169.2H496H497V169.3H498H499V170.3H500H501V169.5H502H503V169.7H504H505V167.5H506H507V168.7H508H509H510H511V169.8H512H513V169.3H514H515V168.2H516H517V169H518H519V169.6H520H521V169.1H522H523V169H524H525V169.7H526H527V169.9H528H529V167.6H530H531V169H532H533V169H534H535V169.2H536V163.6H537V168.7H538H539V169.4H540H541V168.7H542V163.6H543H544V169.5H545V169.6H546H547V169.7H548H549V168.3H550H551V169.8H552H553V168.8H554H555V168.4H556H557V169H558H559V168.8H560H561V172.6Z" fill="#cc0000"/>
<text x="381.5" y="191" font-size="12.9" textLength="25.7" lengthAdjust="spacingAndGlyphs" fill="#2a2a2a" stroke="#2a2a2a" stroke-width="0.4">[0 - 14]</text>
<rect x="375" y="229.9" width="185.5" height="2.6" fill="#bcbcbc"/>
<path d="M375 229.9V203.7H376H377V199.5H378H379V200.7H380V193.6H381V197.1H382V203.6H383V203.9H384H385V195.7H386H387V205.2H388H389V198.5H390H391V194.5H392H393V183.9H394V214.7H395V214.3H396H397V216.4H398H399V215.7H400V198.5H401V219.6H402H403V215.8H404H405V215.4H406H407V215.1H408H409V214.6H410V209.8H411V214.9H412H413V212.4H414H415V209.8H416H417V211.4H418H419V220.3H420H421V220.2H422H423V221H424H425V219.6H426V194.4H427V195.6H428V193.4H429V188.1H430V185.7H431V190.6H432V194H433V199.1H434V202.3H435V222.6H436H437V223.3H438H439V223.8H440H441V221.6H442H443V222.5H444V224H445V225H446H447V226.1H448H449V225.6H450H451V225.4H452H453V224.2H454H455V224.7H456H457V218.2H458V225.4H459V224.6H460H461V225.6H462H463V224.7H464H465V225.4H466H467V225.1H468H469V224.7H470H471V225.2H472H473V224.8H474H475H476H477V226.3H478H479V225.7H480H481V224.6H482H483V226.1H484H485V226.1H486H487V225.2H488H489V224.1H490H491V224.6H492H493V226.4H494H495V224.8H496H497V225.1H498H499V226H500H501V224.6H502H503V225.6H504H505V224.9H506H507V226.4H508H509V224.9H510H511V225.9H512H513V224.7H514H515V226H516H517V224.9H518H519V226.7H520H521V225H522H523V226.5H524H525V226H526H527V226.5H528H529V224.9H530H531V225.9H532H533V224.5H534H535V225.9H536H537V226.2H538H539V226H540H541V226.4H542H543V224.9H544H545V225.6H546H547V226.2H548H549V225.3H550H551H552H553V225H554H555V224.7H556H557V224.9H558H559V224.2H560H561V229.9Z" fill="#cc0000"/>
<text x="381.5" y="248.3" font-size="12.9" textLength="32.6" lengthAdjust="spacingAndGlyphs" fill="#2a2a2a" stroke="#2a2a2a" stroke-width="0.4">[0 - 4.78]</text>
<rect x="375" y="287.2" width="185.5" height="2.6" fill="#bcbcbc"/>
<path d="M375 287.2V265.3H376H377H378V269.8H379H380H381V264.4H382H383H384V264.1H385H386H387V265.1H388H389H390V263.9H391V277.2H392H393V277H394H395H396V279.4H397H398V273.1H399V270.4H400H401H402V269.6H403H404H405V272.3H406H407H408V273.2H409H410H411V256.2H412V267H413H414V269.3H415H416H417V272.7H418H419H420V266.6H421H422H423V268.4H424H425H426V276.3H427H428H429V278.8H430V259.2H431H432V251.4H433H434H435V256.7H436H437H438V253.3H439H440H441V261.9H442H443H444V260.2H445H446H447V252.6H448V242.6H449H450V259.3H451H452H453V258.1H454H455V251.2H456V261H457H458H459V251.5H460H461H462V256.6H463H464H465V261.3H466V269.9H467H468V263.8H469H470H471V270.5H472H473H474V270H475H476H477V263.1H478V247.4H479V255.2H480V266.5H481H482H483V271H484H485H486V278.8H487V261.9H488H489V259.7H490H491H492V262.3H493H494H495V256.6H496H497V254.2H498V258.6H499H500H501V261.6H502H503H504V266.3H505H506V268.7H507V262.2H508H509H510V262H511H512H513V268.7H514H515H516H517H518H519V268H520H521H522V264.8H523H524H525V261.2H526H527H528V265.1H529H530H531V263.8H532H533H534V268.7H535H536H537V262.4H538H539H540V262.6H541V268H542V273.3H543V273.4H544H545H546V274.3H547H548V269.3H549V260.1H550V261.3H551V262.4H552V264H553V265.1H554V266.3H555V270.3H556V271.3H557H558V271.7H559H560V287.2H561V287.2Z" fill="#96ccfc"/>
<text x="381.5" y="305.6" font-size="12.9" textLength="32.6" lengthAdjust="spacingAndGlyphs" fill="#2a2a2a" stroke="#2a2a2a" stroke-width="0.4">[0 - 4.78]</text>
<rect x="375" y="344.5" width="185.5" height="2.6" fill="#bcbcbc"/>
<path d="M375 344.5V329H376H377H378V322.8H379H380H381V324.5H382H383H384V321.7H385H386H387V322.7H388H389H390V324.2H391H392H393V327.6H394H395H396V324.5H397V328.2H398V328H399V331.6H400V331.4H401V331.2H402V327H403V326.8H404V326.6H405V327.9H406V327.7H407V327.5H408V326.6H409V326.4H410V326.1H411V328.5H412V328.3H413V328.1H414V325.7H415V325.5H416V325.3H417V323.6H418V323.4H419V323.2H420V332.1H421V332H422V331.8H423V328.2H424V328H425V327.8H426V325.8H427V325.7H428V325.5H429V328H430V327.8H431V327.6H432V325.1H433V325H434V324.8H435V322.5H436V319.2H437V315.9H438V313.2H439H440H441V317H442H443H444V318.4H445H446H447V318.9H448H449H450V323.1H451H452H453V322H454H455V312.5H456V325.4H457H458H459V317.8H460H461H462V317.1H463H464H465V311.7H466H467H468V320.4H469H470H471V318.7H472H473H474V312.8H475H476H477V317H478H479H480V323.3H481H482H483V315.2H484H485V313.5H486V316.6H487H488H489V312H490H491H492V315H493H494H495V324.7H496H497H498V313.4H499H500H501V318.1H502H503H504V312H505H506H507V314.5H508H509H510V314.6H511H512H513V321.2H514H515H516V314.4H517H518H519V325.5H520H521H522V312.6H523H524H525V323.6H526H527H528V323.2H529H530H531V311.6H532H533H534V323.6H535H536H537V312.8H538H539H540V318.5H541H542H543V324.1H544H545H546V314.3H547H548H549V319.5H550H551V320.3H552V327.1H553V327.7H554V328.4H555V323.7H556V324.6H557V325.5H558V321.1H559V322.2H560V344.5H561V344.5Z" fill="#96ccfc"/>
<text x="381.5" y="363" font-size="12.9" textLength="25.7" lengthAdjust="spacingAndGlyphs" fill="#2a2a2a" stroke="#2a2a2a" stroke-width="0.4">[0 - 23]</text>
<rect x="375" y="401.9" width="185.5" height="2.6" fill="#bcbcbc"/>
<path d="M375 401.9V389.5H376H377V390.1H378H379V389.9H380V396.7H381H382V396.4H383V395.9H384V395.6H385V395.5H386H387V395.2H388H389V393.9H390V395.1H391V395.8H392H393V394.9H394H395V393.9H396V395.3H397V395.9H398H399V394.9H400H401V387.7H402V384.7H403V387.2H404V388.8H405V389.4H406V390.6H407V393.1H408V394.2H409V395.2H410V396.3H411V396.3H412V397H413V398H414V398.5H415V399.1H416V396.9H417V395.9H418V392.3H419V382.2H420V371H421V355.9H422H423V356.6H424H425V374.8H426H427V377.3H428H429V376.1H430H431V395.7H432H433V394.8H434V398.6H435H436V400H437H438V401.7H439H440V399.5H441H442V398.6H443H444V400.7H445H446V401.1H447H448V401.9H449H450V399.1H451H452V400.1H453H454V398.5H455H456V398.4H457H458V399.8H459H460V401.2H461H462V399.9H463H464V401.6H465H466V400.5H467V394.9H468H469V401H470V401.6H471H472V400.7H473V394.9H474V399.4H475H476V401.8H477H478H479H480V401.4H481H482V401.8H483V394.4H484H485V401.8H486V399.2H487H488V401.8H489H490V399H491H492V398.9H493H494V398.5H495H496V401.4H497H498V400.6H499H500V398.7H501H502V400.1H503H504V399.2H505H506V398.9H507H508V401H509H510V399.2H511H512V401.9H513V394.9H514V399.4H515H516V400.1H517H518V401.7H519H520V401H521H522V401.2H523H524V400.1H525H526V399.9H527H528V401.8H529H530V398.7H531H532V399.6H533H534V401.1H535H536V399.8H537H538V399.9H539H540V400.9H541H542V399.5H543H544V400.4H545V394.9H546H547V401.7H548H549H550V400.8H551H552V401H553H554V401.1H555H556V401.8H557H558V400.4H559H560V401.1H561V401.9Z" fill="#fc62fc"/>
<text x="381.5" y="420.3" font-size="12.9" textLength="25.7" lengthAdjust="spacingAndGlyphs" fill="#2a2a2a" stroke="#2a2a2a" stroke-width="0.4">[0 - 23]</text>
<rect x="375" y="459.2" width="185.5" height="2.6" fill="#bcbcbc"/>
<path d="M375 459.2V447.8H376H377V448H378H379V447.8H380V454.6H381V455.4H382H383V455.6H384H385V447.2H386V455.8H387V455.3H388V447.2H389V455.6H390H391V455H392H393V454.8H394H395V455.4H396V449.8H397V450.1H398H399V447.9H400H401V448.2H402H403V443.3H404V447.9H405V448.1H406V446.4H407V444.7H408V449.1H409V449.4H410H411V448.3H412H413V454.6H414H415V454.4H416H417V454.1H418H419H420H421V453.7H422V417.2H423V419.6H424H425V421.1H426H427V417H428V444.1H429V444.9H430H431V444.7H432V459.1H433H434V459.1H435H436V456.4H437H438V458.3H439H440V459.2H441H442V458.4H443H444V452.2H445V458.8H446H447H448V457.6H449H450V459.2H451H452V458.9H453H454V452.2H455V459.1H456V459.2H457H458V458H459V449.2H460V459.2H461H462V458.3H463H464V459.1H465H466V458.6H467H468V457.3H469H470V457.5H471H472V449.2H473H474V457.5H475H476V458H477H478V458.2H479H480V456.1H481H482V452.2H483V459H484V457.3H485H486V459.2H487H488V457.6H489H490V456.2H491H492V458H493H494V458.9H495H496V459.2H497H498V457.6H499H500V458.6H501H502V456.6H503H504V458.5H505H506V456.6H507H508V458.6H509H510V459H511H512V456.9H513H514V456.5H515H516V458.4H517H518V457.6H519H520V458.8H521H522V456.2H523H524V458.8H525H526V458.2H527H528V455.8H529H530V458.4H531H532V458.1H533H534V459.2H535H536V458.4H537H538V458H539H540V458.3H541H542V456.3H543H544V457.3H545H546V457.8H547H548V455.8H549H550V458.5H551V450.7H552H553V458.5H554V456H555H556V456.9H557H558V458.9H559H560V457.5H561V459.2Z" fill="#fc62fc"/>
<text x="381.5" y="477.6" font-size="12.9" textLength="32.6" lengthAdjust="spacingAndGlyphs" fill="#2a2a2a" stroke="#2a2a2a" stroke-width="0.4">[0 - 6.90]</text>
<rect x="375" y="516.5" width="185.5" height="2.6" fill="#bcbcbc"/>
<path d="M375 516.5V508.8H376H377H378V510.3H379H380H381V507.9H382H383H384V510.2H385H386H387V507.6H388H389H390V510.2H391H392H393V509.2H394H395H396V510.6H397H398H399V507.1H400H401H402V510.4H403H404H405V507.7H406H407H408V506.2H409V513.9H410V506.2H411V508.8H412H413H414V506.4H415H416H417V508.8H418V502.5H419H420V507.2H421H422H423V508.7H424H425H426V507.1H427H428H429V509.2H430H431H432V509.9H433H434H435V511.2H436H437H438V509.9H439H440H441V507.6H442H443H444V510.1H445H446H447V509.6H448H449H450V507.9H451V514.1H452H453H454V507.8H455H456V508.9H457H458H459V508.2H460H461H462V509.5H463H464H465V508.5H466H467H468V510.7H469H470H471V514.6H472H473H474V509.3H475H476H477V508.1H478H479H480V511H481H482H483V507.5H484H485H486V510.1H487H488H489V508.3H490H491H492V508.9H493H494H495V510.3H496H497H498V508.8H499H500H501V510.6H502H503H504V507.7H505H506H507V509.1H508H509H510V511.1H511H512H513V508.9H514H515H516V510.7H517H518H519V509.1H520H521H522V508.4H523H524H525V507.5H526H527H528V509.2H529H530H531V510.7H532H533H534V510.9H535H536H537V513H538H539V508.2H540V509.3H541H542H543V507.7H544H545H546V508.8H547H548H549V510.3H550V504H551H552V508.4H553H554H555V509.1H556H557H558V509H559H560V516.5H561V516.5Z" fill="#07992f"/>
<text x="381.5" y="535" font-size="12.9" textLength="32.6" lengthAdjust="spacingAndGlyphs" fill="#2a2a2a" stroke="#2a2a2a" stroke-width="0.4">[0 - 6.90]</text>
<rect x="375" y="573.9" width="185.5" height="2.6" fill="#bcbcbc"/>
<path d="M375 573.9V550.6H376H377H378V549.8H379H380H381V551H382H383H384V552H385H386H387V551.9H388H389H390V550.3H391H392H393V551.1H394H395H396V551.9H397H398H399V534H400H401H402V529.7H403H404H405V551.4H406H407H408V552.2H409H410H411V553.2H412H413H414V551.4H415H416V535.6H417V537.2H418H419H420V538H421H422V555.4H423V557.6H424H425H426V554.8H427H428V549.5H429V551.2H430H431H432V549.7H433V550.7H434V551H435H436V551.3H437V551.6H438V552.4H439V552.5H440H441V553.3H442H443H444V552.6H445H446H447V567.4H448H449H450V566.5H451H452H453V566.9H454V561.9H455H456V562H457H458V567.9H459V567.8H460H461H462V568H463H464H465V567.9H466H467H468V567.2H469V552.6H470H471V554.7H472H473H474V555.5H475H476H477V555.2H478V567H479H480V566.7H481H482H483V566.4H484H485H486V567.6H487V564.4H488H489V563.6H490H491H492V562.7H493H494H495V566.3H496V566.6H497V566.8H498V568.1H499V568.3H500V568.5H501V568.4H502V568.6H503V568.8H504V568.9H505V569.2H506V569.4H507V569.9H508V570.1H509V560.8H510V558.9H511V557.8H512V556.7H513V556.8H514V555.8H515V554.8H516V554.2H517V554.6H518V555.1H519V556.4H520V556.8H521V568.3H522V568.7H523V568.7H524V568.8H525V568.7H526V568.8H527V568.8H528V568H529V568.1H530V568.2H531V568.4H532V568.4H533V568.5H534V569.1H535V569.2H536V568.9H537V568.4H538V568.2H539V567.9H540V568.2H541V567.9H542V567.7H543V566.5H544V566.2H545V566H546V566.7H547V566.4H548V566.2H549V564.5H550V564.2H551H552V565.3H553H554H555V564.7H556H557H558V565H559H560V573.9H561V573.9Z" fill="#07992f"/>
<text x="381.5" y="592.3" font-size="12.9" textLength="34.9" lengthAdjust="spacingAndGlyphs" fill="#2a2a2a" stroke="#2a2a2a" stroke-width="0.4">[0 - 6414]</text>
<rect x="375" y="631.2" width="185.5" height="2.6" fill="#bcbcbc"/>
<text x="381.5" y="649.6" font-size="12.9" textLength="34.9" lengthAdjust="spacingAndGlyphs" fill="#2a2a2a" stroke="#2a2a2a" stroke-width="0.4">[0 - 6414]</text>
<rect x="375" y="688.5" width="185.5" height="2.6" fill="#bcbcbc"/>
<path d="M375 688.5V688.5H376H377H378H379H380H381H382H383H384H385H386H387H388H389H390H391H392H393H394H395H396H397H398H399H400H401H402H403H404H405H406H407H408H409H410H411H412H413H414H415H416H417H418H419H420H421V683.8H422H423V688.5H424H425H426H427H428V683.8H429V688.5H430H431H432H433H434H435H436H437H438H439H440H441H442H443H444H445H446H447H448H449H450H451H452H453H454H455H456H457H458H459H460H461H462H463H464H465H466H467H468H469H470H471H472H473H474H475H476H477H478H479H480H481H482H483H484H485H486H487H488H489H490H491H492H493H494H495H496H497H498H499H500H501H502H503H504H505H506H507H508H509H510H511H512H513H514H515H516H517H518H519H520H521H522H523H524H525H526H527H528H529H530H531H532H533H534H535H536H537H538H539H540H541H542H543H544H545H546H547H548H549H550H551H552H553H554H555H556H557H558H559H560H561V688.5Z" fill="#f99d03"/>
<text x="381.5" y="707" font-size="12.9" textLength="34.9" lengthAdjust="spacingAndGlyphs" fill="#2a2a2a" stroke="#2a2a2a" stroke-width="0.4">[0 - 6414]</text>
<rect x="375" y="745.9" width="185.5" height="2.6" fill="#bcbcbc"/>
<path d="M375 745.9V745.9H376H377H378H379H380H381H382H383H384H385H386H387H388H389H390H391H392H393H394H395H396H397H398H399H400H401H402H403H404H405H406H407H408H409H410H411H412H413H414H415H416H417H418H419H420H421V700.9H422H423V722.9H424H425H426H427V701.9H428H429V722.9H430H431V745.9H432H433H434H435H436H437H438H439H440H441H442H443H444H445H446H447H448H449H450H451H452H453H454H455H456H457H458H459H460H461H462H463H464H465H466H467H468H469H470H471H472H473H474H475H476H477H478H479H480H481H482H483H484H485H486H487H488H489H490H491H492H493H494H495H496H497H498H499H500H501H502H503H504H505H506H507H508H509H510H511H512H513H514H515H516H517H518H519H520H521H522H523H524H525H526H527H528H529H530H531H532H533H534H535H536H537H538H539H540H541H542H543H544H545H546H547H548H549H550H551H552H553H554H555H556H557H558H559H560H561V745.9Z" fill="#f99d03"/>
<text x="560" y="16.4" font-size="13.5" text-anchor="end" stroke="#000" stroke-width="0.35">10kb</text>
<rect x="520" y="19.8" width="40.5" height="2.2" fill="#000"/>
<rect x="420.5" y="759.7" width="2" height="13.3" fill="#0000aa"/>
<rect x="421.6" y="755.4" width="2.4" height="22.6" fill="#0000aa"/>
<rect x="424.9" y="755.4" width="1.7" height="22.6" fill="#0000aa"/>
<rect x="427.4" y="755.4" width="3.6" height="22.6" fill="#0000aa"/>
<text x="426.7" y="793" font-size="13.5" text-anchor="middle" stroke="#000" stroke-width="0.25">Ccl4</text>
<text x="589.5" y="19" font-size="12.9" textLength="30.3" lengthAdjust="spacingAndGlyphs" fill="#2a2a2a" stroke="#2a2a2a" stroke-width="0.4">[0 - 128]</text>
<rect x="583" y="57.9" width="186.5" height="2.6" fill="#bcbcbc"/>
<path d="M583 61.5V58.3H584H585H586H587H588H589H590H591H592H593H594H595H596H597H598H599H600H601H602H603H604H605H606H607H608H609H610H611H612H613H614H615H616H617H618H619H620H621H622H623H624H625H626H627H628H629H630H631H632H633H634H635H636H637H638H639H640H641H642H643H644H645H646H647H648H649H650H651H652H653H654H655H656H657H658H659H660H661H662H663H664H665H666H667H668H669H670H671H672H673H674H675H676H677H678H679H680H681H682H683H684H685H686H687H688H689H690H691H692H693H694H695H696H697H698H699H700H701H702H703H704H705H706H707H708H709H710H711H712H713H714H715H716H717H718H719H720H721H722H723H724H725H726H727H728H729H730H731H732H733H734H735H736H737H738H739H740H741H742H743H744H745H746H747H748H749H750H751H752H753H754H755H756H757H758H759H760H761H762H763H764H765H766H767H768H769V61.5Z" fill="#0000b0"/>
<text x="589.5" y="76.3" font-size="12.9" textLength="30.3" lengthAdjust="spacingAndGlyphs" fill="#2a2a2a" stroke="#2a2a2a" stroke-width="0.4">[0 - 128]</text>
<rect x="583" y="115.2" width="186.5" height="2.6" fill="#bcbcbc"/>
<path d="M583 118.8V115.6H584H585H586H587H588H589V113.6H590V115.6H591H592H593H594H595H596H597H598H599H600V113.6H601V115.6H602H603H604H605H606H607H608H609H610H611H612H613H614H615H616H617H618H619H620H621H622H623H624V113.6H625H626V115.6H627H628H629H630H631H632H633H634H635H636V100.4H637V95.6H638V91H639V88.1H640V83.6H641V80.8H642H643V80.1H644H645V79.3H646H647V80.9H648H649V78.2H650H651V79.1H652H653V81.5H654V80.6H655V79.1H656H657V75.3H658H659V79.1H660H661V69.8H662H663V76.3H664H665V81.6H666H667V79.6H668V80.7H669V82.8H670V87.6H671V92.4H672V99H673V101.4H674V101.5H675V102.4H676V102.5H677V101.6H678V101.7H679V102.8H680V102.9H681V108.1H682V110.3H683V112.8H684V115.6H685H686H687H688H689H690H691V113.6H692H693V115.6H694H695H696H697H698H699H700H701H702H703H704H705H706H707H708H709H710H711H712H713H714H715H716H717H718H719H720H721H722H723H724H725H726H727H728H729H730H731H732H733H734H735H736H737H738H739H740H741H742H743H744H745H746H747H748H749H750H751H752H753H754H755H756H757H758H759H760H761H762H763H764H765H766H767H768H769V118.8Z" fill="#0000b0"/>
<text x="589.5" y="133.7" font-size="12.9" textLength="32.6" lengthAdjust="spacingAndGlyphs" fill="#2a2a2a" stroke="#2a2a2a" stroke-width="0.4">[0 - 5.57]</text>
<rect x="583" y="172.6" width="186.5" height="2.6" fill="#bcbcbc"/>
<path d="M583 172.6V172.6H584H585H586V161H587V160.6H588H589V159.5H590H591V159.2H592H593V168.3H594V168.1H595V167.9H596V167.7H597V167.9H598V158.8H599V162.2H600H601V161H602H603V161.6H604H605V159.2H606V160.5H607V162.7H608H609V165.8H610V161.8H611V162.9H612H613V161.7H614V166.5H615V162.4H616V158.1H617V157.1H618V165.8H619V165.6H620H621V164.9H622V172.6H623H624H625H626H627V168.8H628H629V172.6H630H631H632H633H634H635H636H637V167.9H638H639V169.2H640V172.6H641V169.9H642V167.1H643V165.6H644V163.3H645V162H646H647V159.8H648H649V163.7H650V165.1H651V167.5H652H653V168.3H654H655V168.5H656H657V167.6H658H659V163.9H660V167.9H661V168.5H662H663V168.2H664H665V168.5H666H667V159.4H668V167.8H669V167.7H670H671V167.5H672H673V167.7H674H675V167.5H676H677V166.6H678H679V167.2H680H681V167.3H682H683V167.9H684V165.4H685V167.5H686H687V168.2H688H689V167.6H690H691V167.2H692H693V168.7H694H695V167.5H696H697V167.4H698H699V166.5H700H701V166.9H702H703V168.1H704H705V166.5H706H707V167.3H708H709V167.6H710H711V168.6H712H713V168.4H714H715V168.8H716H717V168.5H718H719V163.6H720V167.7H721V167.3H722H723V168.8H724H725V168.7H726H727V166.9H728H729V168.8H730H731H732H733V167.3H734V160.1H735V167.9H736H737V168H738H739V159.1H740V166.2H741V163.4H742V162.7H743V161.8H744V162.1H745V164.2H746V164.5H747V162.7H748V163H749V166.3H750V166.5H751V165.6H752V167H753V168.3H754H755V168H756H757V169.2H758H759V168.9H760H761V168.5H762H763V168.9H764H765V169.5H766H767V172.6H768H769V172.6Z" fill="#cc0000"/>
<text x="589.5" y="191" font-size="12.9" textLength="32.6" lengthAdjust="spacingAndGlyphs" fill="#2a2a2a" stroke="#2a2a2a" stroke-width="0.4">[0 - 5.57]</text>
<rect x="583" y="229.9" width="186.5" height="2.6" fill="#bcbcbc"/>
<path d="M583 229.9V229.9H584H585H586V206.6H587V209.6H588H589V203.5H590V215.7H591V212.7H592H593V218.9H594V213.4H595V207.5H596V212.9H597V213.2H598H599V215.2H600H601V211.3H602H603V214.3H604H605V215.2H606H607V215.1H608H609V211.1H610V224H611V223.2H612V222.4H613V222H614V219.8H615V218.4H616V216.3H617V215.3H618V213.3H619V212.2H620H621V209.9H622V212.5H623V216.5H624H625V214.3H626H627V226.1H628H629V224.9H630H631V229.9H632H633H634H635H636V223.5H637V217.3H638V211.1H639V207.7H640V207.5H641V209.3H642V209.1H643V212.2H644V203.7H645V195.5H646H647V196.6H648H649V193.6H650V187.9H651V193.8H652V206.5H653V213H654H655V189.3H656H657V201H658V194.6H659V186.2H660V193H661V202.7H662H663V207.3H664V209.9H665V209.2H666V212.3H667V214.1H668H669V212.6H670H671V215.5H672H673V208.4H674V199.2H675V217.4H676H677V215.4H678H679V199.4H680V221.2H681V218H682H683V219H684H685V218.5H686H687V217.6H688V211.5H689V203.4H690V218.9H691V223H692H693V222.5H694H695V219.2H696H697V220.5H698V226.3H699V226.6H700V227H701V225.8H702H703V226.7H704V225.9H705H706V225.2H707H708V227H709V225.7H710H711V226H712H713V226.4H714H715V227.1H716H717V226.6H718H719V226.2H720V226.1H721H722V226.5H723V225.7H724H725V226.5H726V227.1H727V225.7H728H729H730H731V219.9H732V225.8H733H734H735H736H737V226.4H738H739V225.8H740H741V226.3H742H743V227.1H744H745V226.2H746H747V227.1H748H749V226.2H750H751V226.8H752V225.9H753H754V226.5H755V225.8H756H757V226H758H759V219.9H760V226.8H761V227.3H762H763V226.8H764H765V227.3H766H767V229.9H768H769V229.9Z" fill="#cc0000"/>
<text x="589.5" y="248.3" font-size="12.9" textLength="32.6" lengthAdjust="spacingAndGlyphs" fill="#2a2a2a" stroke="#2a2a2a" stroke-width="0.4">[0 - 5.52]</text>
<rect x="583" y="287.2" width="186.5" height="2.6" fill="#bcbcbc"/>
<path d="M583 287.2V264.1H584H585H586V261H587H588H589V258.5H590H591H592V247.6H593H594H595V254.7H596H597H598V256.9H599V256.2H600V255.5H601V247.2H602V257.7H603V258.1H604V250H605V250.5H606V250.9H607V248.8H608V249.3H609V257H610V261.5H611V264.7H612V268H613V276.5H614V278.7H615V280H616V277.5H617H618V250H619V243.7H620V251.3H621V260.8H622V270.8H623H624V273.2H625V268.9H626V272.6H627V274.1H628V276.1H629V277.5H630V278.9H631V282.3H632V283.1H633V283.9H634V282.1H635H636H637V284H638H639H640V273.9H641H642H643V278H644H645H646V276.4H647H648V268.3H649V272.2H650H651H652V273.2H653H654H655V274.7H656H657H658V275.3H659H660H661V273.6H662H663H664V278.6H665H666H667V274.3H668H669H670V275.8H671V268H672V263.4H673V267.9H674H675H676V264.4H677V267.1H678V276.2H679V274.8H680V271.2H681V270.9H682V262.4H683V262.1H684V261.7H685V263.8H686V256.2H687V263.2H688V269.6H689V269.3H690V269.1H691V263.2H692V262.9H693V267.6H694V271.2H695V271.1H696V271H697V265.1H698V265H699V264.8H700V265.1H701V265H702V264.9H703V268H704V267.9H705V259.2H706V264.7H707V264.6H708V264.5H709V257.5H710V257.4H711V257.2H712V257.5H713V257.4H714V257.2H715V264.7H716V274.1H717H718V269.1H719H720H721V275.3H722H723H724V274.5H725H726H727V273.3H728H729H730V270.4H731H732H733V276H734H735H736V269.8H737H738V261.2H739H740V271.8H741H742V275.9H743H744H745V269.7H746H747V265.2H748H749V273H750H751V276.8H752H753H754V270.3H755H756H757V269.2H758H759H760V265.2H761H762V277.2H763V274.1H764H765H766V275.4H767V287.2H768H769V287.2Z" fill="#96ccfc"/>
<text x="589.5" y="305.6" font-size="12.9" textLength="32.6" lengthAdjust="spacingAndGlyphs" fill="#2a2a2a" stroke="#2a2a2a" stroke-width="0.4">[0 - 5.52]</text>
<rect x="583" y="344.5" width="186.5" height="2.6" fill="#bcbcbc"/>
<path d="M583 344.5V302.4H584H585H586V310.2H587H588H589V305.7H590H591H592V322.1H593H594H595V328.8H596H597V324.4H598V317H599H600H601V303.4H602H603H604V313.6H605V322.6H606H607V328.4H608V321.9H609V331.6H610V335.2H611H612H613V329.6H614H615H616V330.3H617H618H619V336.1H620V329.6H621V321.4H622V318.6H623H624V336.7H625V333.1H626V334H627V334.9H628V336.7H629V337.5H630V338.3H631V340.2H632V341H633V341.9H634V342.2H635H636H637V341.8H638H639V335.5H640V336.1H641H642H643V333.4H644H645H646V332.5H647H648V310.7H649V337.5H650V337.4H651V337.2H652V336.4H653V336.2H654V336.1H655V333.7H656V333.6H657V333.4H658V330.5H659V330.3H660V330.1H661V331H662H663H664V331.6H665H666H667V334.3H668H669H670V335.6H671H672V332.8H673V327.6H674H675H676V319.9H677H678H679V334.9H680V329.5H681V324.1H682V311.7H683H684H685V313.4H686H687H688V314.5H689H690H691V315.5H692H693H694V328.8H695H696H697H698H699H700V334.2H701H702H703V332.2H704H705V318.4H706V331H707V331.1H708V331.2H709V327.3H710V327.4H711V327.5H712V334.2H713V334.2H714V334.3H715V330.1H716V330.2H717V330.3H718V331.1H719V331.2H720V331.3H721V335.2H722V335.3H723V335.4H724V331.6H725V331.7H726V331.8H727V335.7H728V335.7H729V335.8H730V329.5H731V329.6H732V329.7H733V333.3H734V324H735V324.8H736V335.4H737H738H739V332.1H740H741H742V334.1H743H744H745V335.5H746H747H748V333.2H749H750H751V335H752H753H754V335.5H755H756H757V335.6H758H759H760H761H762H763V335.7H764H765H766V336.1H767V344.5H768H769V344.5Z" fill="#96ccfc"/>
<text x="589.5" y="363" font-size="12.9" textLength="25.7" lengthAdjust="spacingAndGlyphs" fill="#2a2a2a" stroke="#2a2a2a" stroke-width="0.4">[0 - 16]</text>
<rect x="583" y="401.9" width="186.5" height="2.6" fill="#bcbcbc"/>
<path d="M583 401.9V401.9H584H585H586V390.7H587V383.9H588V394.1H589H590V395.5H591V396.3H592H593V396.8H594V396.9H595H596H597V396H598H599V396.6H600H601H602V395.5H603H604V400.2H605V400.4H606H607V400.8H608H609V400.5H610H611V400.6H612H613H614H615V400.1H616H617V400.7H618H619V400.4H620H621V400.2H622H623V400.8H624V394.9H625V396.2H626H627V396.7H628H629V397.6H630H631V396.7H632H633H634H635V397.3H636H637V400.6H638H639V401.1H640H641V400.8H642H643V399.7H644H645V398.3H646H647V397.6H648H649V398.7H650H651V399.6H652H653V395.2H654H655V399.4H656H657V396.1H658H659H660H661V400.3H662V391.2H663V399.1H664H665V400.8H666H667V400.4H668H669V399.3H670H671V396.3H672H673V396.2H674H675V398H676H677V395H678H679V400.7H680H681V398.4H682H683V396.1H684H685V396.9H686H687V399.3H688H689V400.7H690H691V395.7H692H693V398.6H694H695V396.9H696H697V400.8H698H699V398.4H700H701V397.8H702H703V395.4H704H705V399.4H706H707V398.5H708H709V398.2H710H711V399.4H712H713V395.6H714H715V395.4H716H717V400.1H718H719V395.3H720H721V395.6H722H723V398.8H724H725V398.1H726H727V398.7H728H729V399.2H730H731V398.1H732H733H734H735V399.9H736H737V399.1H738H739V397.8H740H741V395H742H743V395.7H744H745V398.8H746H747V399.7H748H749V397.7H750H751V396H752H753V399.2H754H755V396.9H756H757V399H758H759V399.5H760H761V399.6H762H763V400.3H764H765V399H766H767V401.9H768H769V401.9Z" fill="#fc62fc"/>
<text x="589.5" y="420.3" font-size="12.9" textLength="25.7" lengthAdjust="spacingAndGlyphs" fill="#2a2a2a" stroke="#2a2a2a" stroke-width="0.4">[0 - 16]</text>
<rect x="583" y="459.2" width="186.5" height="2.6" fill="#bcbcbc"/>
<path d="M583 459.2V459.2H584H585H586V416.5H587V413.2H588V440.4H589V444.9H590H591V439H592V449.7H593V442.3H594V443.2H595V449H596H597V450.1H598H599V450.4H600V441.6H601V443.3H602V452.3H603V452.2H604H605V452.9H606H607V453.9H608H609V457.3H610H611V456.9H612H613V457.7H614H615V457.2H616V450H617V451.3H618V451.1H619V446.5H620V446.1H621V449.2H622V448.9H623V446.8H624V432.8H625V439.3H626V447.9H627V446.2H628H629V441.4H630H631V446.7H632H633V442H634V450.8H635V451.7H636H637V451.5H638H639V453.6H640H641V454.4H642H643V454.2H644H645V450.8H646V440.8H647V445.6H648V451.3H649V451.1H650H651V451H652H653V453.5H654H655V453.8H656V456.8H657V456.9H658H659V456.6H660H661V454.5H662H663V454.6H664H665V456.7H666H667V455.6H668H669V454.9H670H671V456.4H672H673V455.3H674V450.6H675V450.1H676H677V443.4H678H679V446.4H680H681V445.6H682V446.9H683V451.8H684H685V450.7H686H687V453.4H688H689V453.6H690H691V452.1H692H693V453.2H694H695V451.3H696H697V451.9H698H699V452.7H700H701V449.5H702H703V451.5H704H705V453H706H707V452.4H708H709V455H710H711V450.7H712H713V451.8H714H715V454H716H717V452.8H718H719V449.2H720H721V452.6H722H723V453.9H724H725V450.1H726H727V454.4H728H729V452.7H730V449.2H731V449.9H732H733V451.1H734H735V452H736H737V449.4H738H739V453.9H740H741V454.4H742H743V439.7H744H745V451.4H746H747V452.4H748H749V451.5H750H751V450.9H752H753V452.3H754H755V449.9H756H757V453.8H758H759H760H761V452.5H762H763V454.3H764H765V452.2H766H767V454H768V459.2H769V459.2Z" fill="#fc62fc"/>
<text x="589.5" y="477.6" font-size="12.9" textLength="32.6" lengthAdjust="spacingAndGlyphs" fill="#2a2a2a" stroke="#2a2a2a" stroke-width="0.4">[0 - 7.49]</text>
<rect x="583" y="516.5" width="186.5" height="2.6" fill="#bcbcbc"/>
<path d="M583 516.5V516.5H584H585V501.2H586V500.7H587V500.6H588V500.5H589V504.4H590H591V491H592V500.2H593V500.1H594V500.1H595V501.8H596V501.8H597V494.5H598V506.7H599H600H601V504.8H602H603H604V511H605H606H607V509.2H608H609H610V509.3H611H612H613V510.8H614H615H616V494.5H617V511.4H618H619V511.6H620H621H622V508.7H623H624H625V509.3H626H627V502.1H628V507.6H629H630H631V508.6H632H633H634V502.7H635H636H637V506.8H638V495.5H639H640V506H641H642H643V503.7H644H645H646V507.5H647H648H649V500.8H650H651H652V501.5H653H654H655V502.5H656H657H658V503.6H659H660V494.5H661H662V509.3H663H664V506.9H665H666H667V503H668H669V494.5H670V501.7H671H672H673V504H674H675H676V506.7H677H678H679V501.2H680H681V494.5H682H683V504.2H684H685V507.8H686H687H688V502.9H689H690H691V500.5H692H693H694V507.8H695H696H697V516.5H698H699H700H701H702H703H704H705V511H706V509.3H707H708H709V507.9H710H711H712V508.8H713H714H715V512.1H716H717H718V511.6H719H720H721V510.3H722H723H724V511.8H725H726V494.5H727V506.6H728H729H730V511.5H731H732H733V505.9H734H735H736V510.5H737H738H739V509.9H740H741H742V510.4H743H744H745V509H746H747H748V509.3H749V503.9H750H751V500.1H752H753V494.5H754H755V502.5H756H757V506.3H758H759H760V503.2H761H762H763V503.1H764H765H766V498.3H767V516.5H768H769V516.5Z" fill="#07992f"/>
<text x="589.5" y="535" font-size="12.9" textLength="32.6" lengthAdjust="spacingAndGlyphs" fill="#2a2a2a" stroke="#2a2a2a" stroke-width="0.4">[0 - 7.49]</text>
<rect x="583" y="573.9" width="186.5" height="2.6" fill="#bcbcbc"/>
<path d="M583 573.9V573.9H584H585V536.8H586V555.3H587V528.9H588V555.4H589V549.9H590H591H592V554.7H593H594H595V539.8H596V539.9H597V539.9H598V539.1H599V539.1H600V539.2H601V556.7H602H603H604V551.9H605H606H607V554.2H608H609H610V556H611H612H613V554.8H614H615H616V557.6H617H618H619V552.7H620H621H622V541.1H623V541.1H624V541.2H625V542.5H626H627H628V549.3H629H630H631V544.8H632H633H634V539H635V539H636V539.1H637V563.7H638H639H640V549.3H641H642H643V551.1H644H645H646V550.1H647H648H649V557H650H651H652V552.7H653H654H655V528.9H656V559.2H657H658V557.5H659H660H661V561.2H662H663V549.9H664V561.6H665H666H667V561.3H668H669H670V556.4H671H672H673V560.1H674H675H676V562.6H677V556.2H678H679V544.3H680H681H682V556.3H683H684H685V545.2H686V528.9H687V545.2H688V547.7H689H690H691V555.3H692H693V540.9H694V551.9H695H696H697V551.5H698H699V568.8H700V566.9H701H702H703H704H705H706V568.4H707V559.9H708V568.4H709V569.7H710H711H712H713H714H715V570.2H716H717H718V571H719H720H721V570.5H722H723H724V567.4H725V559.9H726V567.4H727V570H728H729H730V568.1H731H732H733V569.5H734H735H736V569.8H737V559.9H738V569.8H739V567.1H740H741H742V568.9H743H744H745V570.8H746H747H748V570.2H749H750H751V567.8H752H753H754V566.9H755H756V554.9H757V567.5H758H759H760V569.7H761H762H763V569.3H764H765H766V568.2H767H768V573.9H769V573.9Z" fill="#07992f"/>
<text x="589.5" y="592.3" font-size="12.9" textLength="34.9" lengthAdjust="spacingAndGlyphs" fill="#2a2a2a" stroke="#2a2a2a" stroke-width="0.4">[0 - 8878]</text>
<rect x="583" y="631.2" width="186.5" height="2.6" fill="#bcbcbc"/>
<text x="589.5" y="649.6" font-size="12.9" textLength="34.9" lengthAdjust="spacingAndGlyphs" fill="#2a2a2a" stroke="#2a2a2a" stroke-width="0.4">[0 - 8878]</text>
<rect x="583" y="688.5" width="186.5" height="2.6" fill="#bcbcbc"/>
<path d="M583 688.5V688.5H584H585H586H587H588H589H590H591H592H593H594H595H596H597H598H599H600H601H602H603H604H605H606H607H608H609H610H611H612H613H614H615H616H617H618H619H620H621H622H623H624H625H626H627H628H629H630H631H632H633H634H635H636V670.5H637H638H639H640H641H642H643H644H645V688.5H646H647H648H649H650H651V672.1H652H653H654H655V676.5H656H657H658V671.5H659H660H661V674.5H662H663V688.5H664H665H666H667H668H669H670H671H672H673H674H675H676H677H678H679H680H681H682H683H684H685H686H687H688H689H690H691H692H693H694H695H696H697H698H699H700H701H702H703H704H705H706H707H708H709H710H711H712H713H714H715H716H717H718H719H720H721H722H723H724H725H726H727H728H729H730H731H732H733H734H735H736H737H738H739H740H741H742H743H744H745H746H747H748H749H750H751H752H753H754H755H756H757H758H759H760H761H762H763H764H765H766H767H768H769V688.5Z" fill="#f99d03"/>
<text x="589.5" y="707" font-size="12.9" textLength="34.9" lengthAdjust="spacingAndGlyphs" fill="#2a2a2a" stroke="#2a2a2a" stroke-width="0.4">[0 - 8878]</text>
<rect x="583" y="745.9" width="186.5" height="2.6" fill="#bcbcbc"/>
<path d="M583 745.9V745.9H584H585H586H587H588H589H590H591H592H593H594H595H596H597H598H599H600H601H602H603H604H605H606H607H608H609H610H611H612H613H614H615H616H617H618H619H620H621H622H623H624H625H626H627H628H629H630H631H632H633H634H635H636V735.9H637H638V703.4H639H640H641H642H643H644V709.3H645H646V745.9H647H648H649H650H651V707.9H652H653H654V722.9H655H656H657V708.5H658H659H660V717.9H661H662H663H664V745.9H665H666H667H668H669H670H671H672H673H674H675H676H677H678H679H680H681H682H683H684H685H686H687H688H689H690H691H692H693H694H695H696H697H698H699H700H701H702H703H704H705H706H707H708H709H710H711H712H713H714H715H716H717H718H719H720H721H722H723H724H725H726H727H728H729H730H731H732H733H734H735H736H737H738H739H740H741H742H743H744H745H746H747H748H749H750H751H752H753H754H755H756H757H758H759H760H761H762H763H764H765H766H767H768H769V745.9Z" fill="#f99d03"/>
<text x="766.5" y="16.4" font-size="13.5" text-anchor="end" stroke="#000" stroke-width="0.35">5kb</text>
<rect x="707.3" y="19.8" width="59.7" height="2.2" fill="#000"/>
<rect x="637.2" y="755.4" width="7.6" height="22.6" fill="#0000aa"/>
<rect x="644.8" y="765.2" width="7.5" height="3" fill="#0000aa"/>
<rect x="652.3" y="755.4" width="2.7" height="22.6" fill="#0000aa"/>
<rect x="655" y="759.7" width="5.7" height="13.3" fill="#0000aa"/>
<text x="649" y="793" font-size="13.5" text-anchor="middle" stroke="#000" stroke-width="0.25">Cxcl2</text>
<text x="801.5" y="19" font-size="12.9" textLength="25.7" lengthAdjust="spacingAndGlyphs" fill="#2a2a2a" stroke="#2a2a2a" stroke-width="0.4">[0 - 79]</text>
<rect x="795" y="57.9" width="186" height="2.6" fill="#bcbcbc"/>
<path d="M795 61.5V58.3H796H797H798H799H800H801H802H803H804H805H806H807H808H809H810H811H812H813H814H815H816H817H818H819H820H821H822H823H824H825H826H827H828H829H830H831H832H833H834H835H836H837H838H839H840H841H842H843H844H845H846H847H848H849H850H851H852H853H854H855V57.1H856V58.3H857H858H859H860H861H862H863H864H865H866H867H868H869H870H871H872H873H874H875H876H877H878H879H880H881H882H883H884H885H886H887H888H889H890H891V56.8H892V56.6H893V56.5H894V56.3H895V55.9H896V55.7H897V56.2H898V56H899V55.2H900V55H901V54.3H902H903V54.4H904H905H906H907V54.1H908V51.9H909H910V55H911V54.7H912H913V54.1H914H915H916V54.5H917V55.8H918V56.1H919V56.2H920V58.3H921H922H923H924H925H926H927H928H929H930H931H932H933H934H935H936H937H938H939H940H941H942H943H944H945H946H947H948H949H950H951H952H953H954H955H956H957H958H959H960H961H962H963H964H965H966H967H968H969H970H971H972H973H974H975H976H977H978H979H980H981V61.5Z" fill="#0000b0"/>
<text x="801.5" y="76.3" font-size="12.9" textLength="25.7" lengthAdjust="spacingAndGlyphs" fill="#2a2a2a" stroke="#2a2a2a" stroke-width="0.4">[0 - 79]</text>
<rect x="795" y="115.2" width="186" height="2.6" fill="#bcbcbc"/>
<path d="M795 118.8V115.6H796H797H798H799H800H801H802H803H804H805H806H807H808H809H810H811H812H813H814H815H816H817H818H819H820H821H822H823H824H825H826H827H828H829H830H831H832H833H834H835H836H837H838H839H840H841H842H843H844H845H846V112.1H847V115.6H848H849H850H851H852H853V112.6H854H855V115.6H856H857H858H859H860V112.6H861H862H863V115.6H864H865H866H867V113.1H868H869V115.6H870H871H872H873H874H875H876H877H878H879H880H881H882V108.8H883V107.5H884V106.7H885V106.3H886V105.5H887V104.6H888V103.8H889V97.7H890V92.1H891V90.7H892H893V89.4H894H895V90.5H896V80.1H897V81.1H898H899V82.3H900H901V79.1H902H903V80.9H904V76.5H905V74.4H906V73.6H907V71.1H908V70.3H909V71.1H910V73.1H911V77.1H912V77.6H913V73.1H914V73.6H915V78.1H916V87.9H917V86.3H918H919V115.6H920H921H922V111.2H923H924H925H926V115.6H927H928H929H930H931H932H933H934H935V113.7H936V113.6H937V113.3H938V113.2H939V113.3H940V113.2H941V112.2H942V112H943V112.6H944H945V112.4H946H947V113.2H948H949V112.3H950H951V112.5H952H953V111.8H954H955V112.9H956V113.1H957V112.5H958V112.7H959V113.3H960V113.5H961V115.6H962H963H964H965H966H967H968H969H970H971H972H973H974H975H976H977H978H979H980H981V118.8Z" fill="#0000b0"/>
<text x="801.5" y="133.7" font-size="12.9" textLength="25.7" lengthAdjust="spacingAndGlyphs" fill="#2a2a2a" stroke="#2a2a2a" stroke-width="0.4">[0 - 26]</text>
<rect x="795" y="172.6" width="186" height="2.6" fill="#bcbcbc"/>
<path d="M795 172.6V172.6H796H797H798H799H800H801H802H803H804H805H806H807H808H809H810H811H812H813H814H815H816H817H818H819H820H821H822H823H824H825H826H827H828H829H830H831H832H833H834V171.1H835H836V172.3H837H838V170.2H839H840V172.4H841H842V171H843H844V172H845H846V172.5H847H848V171.3H849H850V172.4H851H852V171.3H853V172.6H854H855H856H857H858H859H860H861H862H863H864H865H866H867H868H869H870H871H872V171.1H873H874V172.6H875H876H877H878H879H880H881H882H883H884V171.1H885V172.6H886H887H888H889H890H891H892H893V169.4H894V168.4H895V167.6H896V166.7H897V165.4H898V164.4H899V154.4H900H901V154.8H902H903V150.6H904H905V153.4H906H907V150.2H908V155.5H909V156H910H911V157.2H912H913V167.6H914H915V172.6H916H917H918H919H920H921H922H923H924H925H926H927V171.9H928H929V171.4H930H931V172.2H932H933V172.3H934H935V172.6H936H937H938H939H940H941H942H943H944H945H946H947H948H949H950H951H952H953H954H955H956H957V169.6H958V172.6H959H960H961H962H963H964H965H966H967H968H969H970H971H972H973H974H975H976V170.6H977V172.6H978H979H980H981V172.6Z" fill="#cc0000"/>
<text x="801.5" y="191" font-size="12.9" textLength="25.7" lengthAdjust="spacingAndGlyphs" fill="#2a2a2a" stroke="#2a2a2a" stroke-width="0.4">[0 - 26]</text>
<rect x="795" y="229.9" width="186" height="2.6" fill="#bcbcbc"/>
<path d="M795 229.9V229.9H796H797H798V228.4H799V229.9H800H801H802H803H804H805H806H807H808H809H810H811H812H813H814H815H816H817H818H819H820V227.6H821H822V228.2H823H824V228.5H825H826V227.9H827H828V229.9H829H830H831H832H833H834V227.3H835H836V226.7H837H838V227.5H839H840V228.1H841H842V229.9H843H844H845H846V221.4H847V222.3H848H849H850H851V221.3H852V222.9H853V226.7H854H855V227.1H856V229.9H857H858H859H860H861H862H863H864H865V229.5H866H867V228.7H868H869V228.6H870V229.9H871H872H873H874H875H876H877H878H879H880H881H882H883H884H885V227.9H886V229.9H887H888H889H890H891H892V222.2H893V222.7H894H895V222.4H896H897V222.2H898V213.4H899H900H901V205H902H903V204.6H904H905V205.8H906V187H907V186.1H908H909V186.9H910H911V186H912V204.3H913V202.9H914V216.8H915V217H916H917H918H919V229.9H920H921H922H923V227.4H924H925V225.5H926H927V226.9H928H929V229.4H930H931V228.6H932H933V228.6H934H935V228.3H936H937V226.6H938H939V227.1H940H941V226.9H942H943V225.5H944H945V226H946H947V228.6H948H949V229.4H950H951V225.5H952H953V228.3H954H955V228.6H956H957V226.3H958H959V227.7H960H961V227.9H962H963V229.4H964H965H966H967V229.1H968H969V228.9H970H971V225.2H972H973V229.2H974H975V229.4H976H977V228H978H979V229.9H980H981V229.9Z" fill="#cc0000"/>
<text x="801.5" y="248.3" font-size="12.9" textLength="32.6" lengthAdjust="spacingAndGlyphs" fill="#2a2a2a" stroke="#2a2a2a" stroke-width="0.4">[0 - 4.09]</text>
<rect x="795" y="287.2" width="186" height="2.6" fill="#bcbcbc"/>
<path d="M795 287.2V258.6H796H797H798V259.4H799H800H801V260.5H802V264.7H803V271.8H804V270.9H805H806H807V272.2H808H809V267.2H810V265.3H811H812H813V263.1H814H815H816V262.6H817V268.7H818V274.9H819V273.8H820H821H822V275.6H823H824H825V272.3H826V269.1H827H828V265H829H830H831V266.5H832H833H834V266.3H835H836H837V265.5H838V255.6H839V252.6H840V250.4H841H842H843V248.9H844V253.1H845H846V252.7H847H848V246.3H849V247.8H850H851H852V243.8H853H854V259.6H855V261.4H856H857V283.5H858H859H860V258.9H861H862H863H864V256.7H865H866H867V254.8H868H869H870V258.7H871H872H873V264.8H874H875H876V262.7H877H878H879V254.8H880V264.2H881V264.4H882V263.6H883V263.7H884V263.8H885V263.9H886V264.1H887V264.2H888V264.3H889V278.5H890H891V279.4H892H893H894V263.6H895H896V274.9H897V273.8H898H899H900V274.7H901H902H903V279.9H904V283.4H905H906V283.3H907H908H909V283.5H910H911H912V283.7H913H914H915V283.6H916H917H918V283.2H919H920V281.1H921V281.7H922H923H924V280.7H925V264.5H926V260.9H927V260.4H928V257.1H929V257.8H930V256.1H931V256.8H932V257.5H933V259.6H934V260.2H935V260.9H936V262.8H937V263.4H938V267.3H939V266.9H940H941H942V265H943H944H945V264H946H947H948V268.2H949H950H951V265.2H952H953H954V267.1H955V257H956V246.9H957V245.8H958H959H960V247.7H961H962V256.2H963V257.8H964H965H966V249.4H967H968H969V249.2H970H971H972V254.2H973V256H974H975V253.9H976H977V287.2H978H979H980H981V287.2Z" fill="#96ccfc"/>
<text x="801.5" y="305.6" font-size="12.9" textLength="32.6" lengthAdjust="spacingAndGlyphs" fill="#2a2a2a" stroke="#2a2a2a" stroke-width="0.4">[0 - 4.09]</text>
<rect x="795" y="344.5" width="186" height="2.6" fill="#bcbcbc"/>
<path d="M795 344.5V328.1H796H797H798V327.1H799H800V321.1H801V317.9H802H803H804V318.6H805V324.2H806H807V319.9H808H809H810V325.3H811H812H813V319.9H814H815H816V328.8H817H818H819V328.7H820H821H822V323H823V321.8H824H825V319.8H826H827H828V322.9H829H830H831V322.6H832H833H834V319.8H835H836H837V323H838H839H840V321.7H841V316.3H842V312.4H843V317.2H844H845H846V314.8H847H848H849V302.9H850H851H852V308.2H853H854V328.2H855V327.3H856H857H858V340.6H859V325.9H860V311.2H861V313.5H862H863H864V314.8H865H866H867V311.2H868H869H870V312.1H871H872H873V319H874H875H876V314.3H877H878H879V313.7H880H881H882V318.6H883H884H885V306.7H886H887H888V310.6H889V336.3H890V335.3H891V334H892V332.9H893V333.4H894V333.7H895V334.2H896V334.8H897V335.9H898V336.4H899V337.3H900V339.2H901V340H902V340.7H903H904V341.6H905V342.5H906V342.6H907H908H909V342.5H910H911H912V342.7H913H914H915V342.5H916H917H918V342.5H919V325.7H920H921V328.9H922H923H924V328.2H925H926V317.8H927V305.8H928H929H930V307.9H931V319.7H932H933V320.9H934H935H936V320.6H937H938H939V320.1H940H941H942V321.4H943H944H945V306.9H946H947H948V323H949H950H951V323.5H952H953V338.2H954V312.2H955H956H957V310.9H958H959H960V317.3H961H962H963V316.6H964H965H966V316.1H967H968H969V313.5H970H971H972V317.2H973H974H975V316.6H976H977H978V344.5H979H980H981V344.5Z" fill="#96ccfc"/>
<text x="801.5" y="363" font-size="12.9" textLength="25.7" lengthAdjust="spacingAndGlyphs" fill="#2a2a2a" stroke="#2a2a2a" stroke-width="0.4">[0 - 63]</text>
<rect x="795" y="401.9" width="186" height="2.6" fill="#bcbcbc"/>
<path d="M795 401.9V401.9H796H797H798H799H800H801H802H803H804H805H806H807H808H809H810H811H812H813H814H815H816H817H818H819H820H821H822H823H824H825H826H827H828H829H830H831H832H833H834H835H836H837H838H839H840H841H842H843H844H845H846H847H848H849H850H851H852H853H854V395H855V389.4H856V385.7H857V385.1H858V383.7H859V382.3H860V385.3H861V389.9H862V392.9H863V395.5H864V397.9H865V399.8H866V401.9H867H868H869H870H871H872H873H874H875H876H877H878H879H880H881H882H883H884H885H886V398.4H887V398.1H888H889V397.7H890H891V397.7H892H893V399.3H894V401.9H895H896H897H898H899H900H901H902H903H904H905H906H907H908H909V398.1H910V395.7H911V393.7H912V391.4H913V390.6H914V388.7H915V385.1H916V386.1H917V388.7H918V384.3H919V377.7H920V374.3H921V372.7H922V382.9H923V389.4H924V393H925V396.9H926V401.9H927H928H929H930V399.9H931H932V401.9H933H934H935H936H937H938V393.1H939V390H940H941V390.2H942V373.6H943V385.3H944H945H946H947V385H948H949V384.7H950V378.1H951V384.4H952H953V384.5H954V387.9H955V391.6H956V394.5H957V397.3H958V401.9H959H960H961H962H963H964H965H966H967H968H969H970H971H972H973H974H975H976H977H978H979H980H981V401.9Z" fill="#fc62fc"/>
<text x="801.5" y="420.3" font-size="12.9" textLength="25.7" lengthAdjust="spacingAndGlyphs" fill="#2a2a2a" stroke="#2a2a2a" stroke-width="0.4">[0 - 63]</text>
<rect x="795" y="459.2" width="186" height="2.6" fill="#bcbcbc"/>
<path d="M795 459.2V459.2H796H797H798H799H800H801H802H803H804H805H806H807H808H809H810H811H812H813H814H815H816H817H818H819H820H821H822H823H824H825H826H827H828H829H830H831H832H833H834H835H836H837H838H839H840H841H842H843H844H845H846H847H848H849H850H851H852V455.9H853V450.2H854V445.7H855V444.3H856V440.6H857V440.1H858V444.5H859V442.8H860H861V443.9H862H863V449.8H864V452.2H865V454.7H866V456.5H867V458.2H868V459.2H869H870H871H872H873H874H875H876H877H878H879H880H881H882H883H884H885H886V453.7H887V452.7H888V451.8H889V452.5H890V452.4H891H892V452.4H893V452.2H894V452.1H895V459.2H896H897H898H899H900H901H902H903H904H905H906V455.2H907V452.1H908V449.8H909V447.1H910V443.1H911V440H912V439.1H913V440.5H914H915V441.2H916H917V440.7H918V440.4H919V440.1H920V439.9H921V441.4H922V449.2H923V453.6H924V456.4H925V457.3H926V459.2H927H928H929H930H931H932H933H934H935H936H937H938V455H939V453.2H940V451.6H941V449.5H942V447.7H943V447.7H944V446H945V443.2H946V442.3H947V444.5H948V445.6H949V445.2H950V446.4H951V447.9H952V449H953V451.2H954V452.8H955V453.6H956V455.4H957V457.6H958V459.2H959H960H961H962H963H964H965H966H967H968H969H970H971H972H973H974H975H976H977H978H979H980H981V459.2Z" fill="#fc62fc"/>
<text x="801.5" y="477.6" font-size="12.9" textLength="32.6" lengthAdjust="spacingAndGlyphs" fill="#2a2a2a" stroke="#2a2a2a" stroke-width="0.4">[0 - 9.16]</text>
<rect x="795" y="516.5" width="186" height="2.6" fill="#bcbcbc"/>
<path d="M795 516.5V505.7H796V506.7H797V506.6H798V506.7H799V505.3H800V504.8H801V506.6H802V506H803V506.6H804V506.5H805V507.1H806V508.6H807V489.5H808V507H809H810V506.8H811H812V506.6H813V506.9H814V504.6H815V504.5H816V504H817V504.4H818V507.1H819V506.4H820V507.8H821V512.3H822V502.7H823V504.3H824V504.8H825V509.7H826H827V504.3H828V503.6H829V499.5H830V505.9H831V507.4H832H833H834V507.3H835V503.5H836V503.3H837V504.7H838V506.6H839V506.4H840V514.8H841H842V510.5H843V512H844H845V506.9H846V508.2H847V507.4H848V507.3H849V509H850V499.5H851V509H852V510.5H853H854H855V508.8H856V507H857V506H858V504.9H859V508.8H860V508.6H861V507.4H862V505.2H863V504.9H864V503.4H865V507.1H866V506.8H867V508.5H868V506.6H869H870V507.8H871V507.8H872V510.9H873V508.7H874V505H875V504.7H876V499.5H877V504.9H878V506.8H879V512.2H880H881H882V510.9H883H884V499.5H885H886V505H887V503.3H888V504.3H889V511.8H890H891V506.2H892V503.9H893V504.6H894H895V507H896V504.5H897H898V505.5H899V506.3H900V507.1H901H902H903V506.6H904V505.9H905V505.4H906V504.6H907V505.2H908V505.9H909V510.7H910V499.5H911H912V509.7H913H914H915V508.7H916V505.9H917V503.7H918V504.6H919V503.7H920V507.6H921V506.3H922V506.2H923V506.9H924V504.4H925V503.9H926V505H927V503.6H928V504.6H929V508H930V494.5H931H932V506.9H933V507.4H934V508.1H935V507.1H936V507.4H937V499.5H938V512.3H939V507.4H940V504.4H941V505H942V505.2H943V505.6H944V507.1H945V508.5H946V503.5H947V505.1H948V504.7H949V504.2H950V504.7H951V510.8H952H953H954V508.8H955V504.5H956V504.5H957V505H958V506.1H959V509.5H960V510.2H961H962V506.9H963V504.5H964H965V503.7H966V503.8H967V503.4H968V503.5H969V505.3H970V505.1H971V504.5H972H973V504H974H975V508.1H976H977H978V510.2H979H980V516.5H981V516.5Z" fill="#07992f"/>
<text x="801.5" y="535" font-size="12.9" textLength="32.6" lengthAdjust="spacingAndGlyphs" fill="#2a2a2a" stroke="#2a2a2a" stroke-width="0.4">[0 - 9.16]</text>
<rect x="795" y="573.9" width="186" height="2.6" fill="#bcbcbc"/>
<path d="M795 573.9V565.1H796V564.1H797V563.1H798V564.7H799V563.9H800V563.1H801V559.2H802H803V549.9H804V561.4H805V563.1H806V562.8H807V559.7H808V559.3H809V559H810V560.6H811V562.8H812V565H813V568.5H814H815H816V568H817H818H819V567.9H820H821H822V567.1H823H824H825V566.1H826H827H828V567.2H829H830H831V566.3H832H833H834V567.4H835H836H837V559.4H838V561.5H839V563.5H840V563.9H841V563.4H842V562.9H843V566.2H844V565.8H845V565.5H846V547.5H847H848H849V548.4H850H851H852V543.9H853V547.1H854H855V553.4H856V537.9H857V553.4H858V554.4H859H860H861V548.4H862V537.9H863V548.4H864V553.1H865H866H867V557.6H868V562.8H869V568H870V565.3H871H872H873V546.7H874H875H876V557.1H877H878H879V558.4H880H881V546.9H882V555.1H883H884H885V551.3H886H887H888V550.6H889H890H891V548.9H892H893H894V557.3H895H896V556.7H897V549.8H898H899H900V556H901H902H903V546.8H904H905H906V544.1H907H908H909V547.7H910H911H912V554.4H913H914H915V544.3H916H917H918V570H919H920H921V559.8H922V559.7H923V559.5H924V554.4H925V554.2H926V541.9H927V549.3H928V549.1H929V548.8H930V549.2H931V548.9H932V548.7H933V544.9H934H935H936V540.2H937H938V528.9H939V540.6H940H941H942V546.2H943H944H945V549.2H946H947H948V535.8H949H950V551H951V551.7H952H953H954V561.1H955H956V566.1H957V565.6H958H959H960V564.5H961H962H963V560.8H964H965H966V560.9H967H968H969V564.8H970H971H972V562.3H973H974H975V561H976H977H978V565.2H979H980V573.9H981V573.9Z" fill="#07992f"/>
<text x="801.5" y="592.3" font-size="12.9" textLength="34.9" lengthAdjust="spacingAndGlyphs" fill="#2a2a2a" stroke="#2a2a2a" stroke-width="0.4">[0 - 2033]</text>
<rect x="795" y="631.2" width="186" height="2.6" fill="#bcbcbc"/>
<text x="801.5" y="649.6" font-size="12.9" textLength="34.9" lengthAdjust="spacingAndGlyphs" fill="#2a2a2a" stroke="#2a2a2a" stroke-width="0.4">[0 - 2033]</text>
<rect x="795" y="688.5" width="186" height="2.6" fill="#bcbcbc"/>
<path d="M795 688.5V688.5H796H797H798H799H800H801H802H803H804H805H806H807H808H809H810H811H812H813H814H815H816H817H818H819H820H821H822H823H824H825H826H827H828H829H830H831H832H833H834H835H836H837H838H839H840H841H842H843H844H845H846H847H848H849H850H851H852H853H854H855H856H857H858H859H860H861H862H863H864H865H866H867H868H869H870H871H872H873H874H875H876H877H878H879H880H881H882H883H884H885H886H887H888H889H890H891H892H893H894H895H896H897H898H899H900H901V686.6H902V680.7H903V680.6H904V650.8H905V650.5H906H907V650.6H908H909V647.7H910V642.5H911V643.2H912V656.8H913V656.4H914H915V666.8H916H917V667.2H918H919V688.5H920H921H922H923H924H925H926H927H928H929H930H931H932H933H934H935H936H937H938H939H940H941H942H943H944H945H946H947H948H949H950H951H952H953H954H955H956H957H958H959H960H961H962H963H964H965H966H967H968H969H970H971H972H973H974H975H976H977H978H979H980H981V688.5Z" fill="#f99d03"/>
<text x="801.5" y="707" font-size="12.9" textLength="34.9" lengthAdjust="spacingAndGlyphs" fill="#2a2a2a" stroke="#2a2a2a" stroke-width="0.4">[0 - 2033]</text>
<rect x="795" y="745.9" width="186" height="2.6" fill="#bcbcbc"/>
<path d="M795 745.9V745.9H796H797H798H799H800H801H802H803H804H805H806H807H808H809H810H811H812H813H814H815H816H817H818H819H820H821H822H823H824H825H826H827H828H829H830H831H832H833H834H835H836H837H838H839H840H841H842H843H844H845H846H847H848H849H850H851H852H853H854H855H856H857H858H859H860H861H862H863H864H865H866H867H868H869H870H871H872H873H874H875H876H877H878H879H880H881H882H883H884H885H886H887H888H889H890H891H892H893H894H895H896H897H898H899H900H901H902V742.2H903V737.6H904V735.6H905V735.4H906H907V736.1H908H909V740.7H910H911V740.3H912H913H914H915V740.2H916H917V740.3H918H919V745.9H920H921H922H923H924H925H926H927H928H929H930H931H932H933H934H935H936H937H938H939H940H941H942H943H944H945H946H947H948H949H950H951H952H953H954H955H956H957H958H959H960H961H962H963H964H965H966H967H968H969H970H971H972H973H974H975H976H977H978H979H980H981V745.9Z" fill="#f99d03"/>
<text x="980.6" y="16.4" font-size="13.5" text-anchor="end" stroke="#000" stroke-width="0.35">5kb</text>
<rect x="950.4" y="19.8" width="30.7" height="2.2" fill="#000"/>
<rect x="902" y="759.7" width="3.5" height="13.3" fill="#0000aa"/>
<rect x="905.5" y="755.4" width="3.5" height="22.6" fill="#0000aa"/>
<rect x="909.8" y="755.4" width="1.8" height="22.6" fill="#0000aa"/>
<rect x="912.4" y="755.4" width="4.6" height="22.6" fill="#0000aa"/>
<text x="913.5" y="793" font-size="13.5" text-anchor="middle" stroke="#000" stroke-width="0.25">Dusp1</text>
<text x="1012" y="19" font-size="12.9" textLength="25.7" lengthAdjust="spacingAndGlyphs" fill="#2a2a2a" stroke="#2a2a2a" stroke-width="0.4">[0 - 24]</text>
<rect x="1005.5" y="57.9" width="185" height="2.6" fill="#bcbcbc"/>
<path d="M1005.5 61.5V49.3H1006.5H1007.5V57.3H1008.5H1009.5V57H1010.5H1011.5V56.8H1012.5H1013.5H1014.5H1015.5V55.1H1016.5H1017.5V56.1H1018.5H1019.5V57.3H1020.5H1021.5V54.9H1022.5H1023.5V57.3H1024.5H1025.5V56.8H1026.5H1027.5V53.7H1028.5H1029.5V57.3H1030.5H1031.5V53.6H1032.5H1033.5V54.3H1034.5H1035.5V56.9H1036.5H1037.5V57H1038.5H1039.5H1040.5H1041.5V55.8H1042.5H1043.5V56.9H1044.5H1045.5V56.4H1046.5H1047.5V55.4H1048.5H1049.5V55.4H1050.5H1051.5V56.7H1052.5H1053.5V57H1054.5H1055.5V54.4H1056.5H1057.5V56.6H1058.5H1059.5V30.6H1060.5H1061.5V52.3H1062.5V53.5H1063.5H1064.5H1065.5H1066.5V53.1H1067.5H1068.5V54.1H1069.5H1070.5V54H1071.5H1072.5V52.9H1073.5H1074.5V52.4H1075.5H1076.5V46.9H1077.5H1078.5V52H1079.5H1080.5V47.6H1081.5H1082.5V51.6H1083.5H1084.5V53.4H1085.5H1086.5V46.9H1087.5H1088.5V54.3H1089.5H1090.5V48.7H1091.5H1092.5V49.6H1093.5H1094.5V49.3H1095.5H1096.5V52.2H1097.5H1098.5V53.9H1099.5H1100.5V49.6H1101.5H1102.5V49H1103.5H1104.5V53.8H1105.5H1106.5V55.6H1107.5H1108.5V54.7H1109.5H1110.5V54.3H1111.5H1112.5V54.5H1113.5H1114.5V56.5H1115.5H1116.5V53.4H1117.5H1118.5V55.7H1119.5H1120.5V50.9H1121.5H1122.5V55.9H1123.5H1124.5V53.6H1125.5V49.3H1126.5H1127.5V51.6H1128.5V53.4H1129.5H1130.5H1131.5H1132.5V56.7H1133.5H1134.5V55.7H1135.5H1136.5V56.7H1137.5H1138.5H1139.5H1140.5V53.7H1141.5H1142.5V55.6H1143.5H1144.5V53.4H1145.5H1146.5V52.6H1147.5H1148.5V55.9H1149.5H1150.5V55.3H1151.5H1152.5V51.6H1153.5H1154.5V52.6H1155.5H1156.5V53.9H1157.5H1158.5V56.7H1159.5H1160.5V55.8H1161.5H1162.5V56.8H1163.5H1164.5V56.5H1165.5H1166.5V53.6H1167.5H1168.5V54.2H1169.5H1170.5V56.7H1171.5H1172.5V54.5H1173.5H1174.5V53.4H1175.5V48.3H1176.5V52.8H1177.5H1178.5V56.6H1179.5H1180.5V53.7H1181.5H1182.5V52.2H1183.5H1184.5V56.7H1185.5H1186.5V55.7H1187.5H1188.5V54.9H1189.5H1190.5V61.5Z" fill="#0000b0"/>
<text x="1012" y="76.3" font-size="12.9" textLength="25.7" lengthAdjust="spacingAndGlyphs" fill="#2a2a2a" stroke="#2a2a2a" stroke-width="0.4">[0 - 24]</text>
<rect x="1005.5" y="115.2" width="185" height="2.6" fill="#bcbcbc"/>
<path d="M1005.5 118.8V113.8H1006.5H1007.5V113.9H1008.5H1009.5V113.2H1010.5V113.2H1011.5V113H1012.5V113H1013.5V112.9H1014.5V112.8H1015.5V113.4H1016.5H1017.5V112.8H1018.5V112.7H1019.5V112.9H1020.5H1021.5V112.6H1022.5V112.5H1023.5V113H1024.5H1025.5V113.1H1026.5H1027.5V112.6H1028.5H1029.5V112.9H1030.5H1031.5V112.3H1032.5H1033.5V112.3H1034.5H1035.5V112.5H1036.5H1037.5V111.4H1038.5V109.1H1039.5V109.1H1040.5V108.8H1041.5V108.7H1042.5V108.5H1043.5V106.9H1044.5V106.7H1045.5V105.5H1046.5V105.2H1047.5V107.2H1048.5V107H1049.5V107.7H1050.5V107.5H1051.5V105.4H1052.5V104.7H1053.5V101.5H1054.5V100.7H1055.5V102.5H1056.5V101.8H1057.5V98.4H1058.5H1059.5V99.7H1060.5V80.4H1061.5V87.2H1062.5V87.9H1063.5V89.9H1064.5V90.6H1065.5V88.7H1066.5V88.9H1067.5V84.1H1068.5V84.3H1069.5V89.4H1070.5V89.6H1071.5V83.3H1072.5V82.8H1073.5V89.6H1074.5V89.2H1075.5V81.8H1076.5V78.8H1077.5V76.3H1078.5V73.3H1079.5V80.8H1080.5V79.9H1081.5V85.9H1082.5V85.1H1083.5V77.3H1084.5V76.3H1085.5V78H1086.5V72.3H1087.5V81H1088.5V80.5H1089.5V71.6H1090.5V71H1091.5V69.6H1092.5H1093.5H1094.5V70.7H1095.5V73.8H1096.5V72.8H1097.5V84.9H1098.5V84.2H1099.5V76.5H1100.5V75.7H1101.5V75.3H1102.5V77.5H1103.5V82.1H1104.5V84.2H1105.5V81.9H1106.5V91.9H1107.5V90.7H1108.5V92.1H1109.5V100.2H1110.5V101.2H1111.5V96.7H1112.5V98H1113.5V105.6H1114.5H1115.5V107.6H1116.5H1117.5V105.6H1118.5H1119.5V106.1H1120.5H1121.5V106.9H1122.5H1123.5V106.7H1124.5H1125.5V104.8H1126.5H1127.5V104.6H1128.5H1129.5V107H1130.5H1131.5V105.6H1132.5V109.2H1133.5V110.5H1134.5H1135.5V108.6H1136.5H1137.5V110.2H1138.5H1139.5V110.8H1140.5H1141.5V110H1142.5H1143.5V110.2H1144.5H1145.5V109.7H1146.5H1147.5V108.9H1148.5H1149.5V108.5H1150.5H1151.5V110.1H1152.5H1153.5V110.7H1154.5H1155.5V108.7H1156.5H1157.5V110.2H1158.5H1159.5V109.6H1160.5H1161.5V109.5H1162.5V107H1163.5V106.3H1164.5V106.2H1165.5V107.5H1166.5V107.4H1167.5V105.5H1168.5V105.5H1169.5V106.5H1170.5V106.5H1171.5V106.2H1172.5V106.1H1173.5V106.8H1174.5V106.8H1175.5V104H1176.5V103.9H1177.5V104.4H1178.5V99.9H1179.5V105.8H1180.5V106.1H1181.5V107.3H1182.5V107.6H1183.5V112.6H1184.5H1185.5V112.7H1186.5H1187.5V112.4H1188.5H1189.5V112.3H1190.5V118.8Z" fill="#0000b0"/>
<text x="1012" y="133.7" font-size="12.9" textLength="25.7" lengthAdjust="spacingAndGlyphs" fill="#2a2a2a" stroke="#2a2a2a" stroke-width="0.4">[0 - 22]</text>
<rect x="1005.5" y="172.6" width="185" height="2.6" fill="#bcbcbc"/>
<path d="M1005.5 172.6V172.6H1006.5V170.2H1007.5V170.1H1008.5H1009.5V170.9H1010.5H1011.5V170.4H1012.5H1013.5V170.1H1014.5H1015.5V170.4H1016.5H1017.5V170H1018.5H1019.5V170H1020.5H1021.5V170.2H1022.5H1023.5V170.1H1024.5V172.6H1025.5H1026.5H1027.5H1028.5H1029.5H1030.5H1031.5H1032.5H1033.5H1034.5H1035.5H1036.5H1037.5H1038.5H1039.5H1040.5H1041.5H1042.5H1043.5H1044.5H1045.5H1046.5H1047.5H1048.5H1049.5H1050.5H1051.5H1052.5H1053.5H1054.5H1055.5H1056.5H1057.5H1058.5H1059.5H1060.5H1061.5H1062.5H1063.5H1064.5H1065.5H1066.5H1067.5H1068.5H1069.5H1070.5H1071.5V169.8H1072.5H1073.5V170.1H1074.5H1075.5H1076.5V166.2H1077.5V164.8H1078.5V164.3H1079.5V163.7H1080.5V163.2H1081.5V162.4H1082.5V161.8H1083.5V154.5H1084.5V162.4H1085.5V160.9H1086.5H1087.5V162H1088.5H1089.5V148.4H1090.5H1091.5V149.2H1092.5H1093.5V131.7H1094.5V145.3H1095.5V147.5H1096.5H1097.5V149.1H1098.5V154.3H1099.5V153.6H1100.5H1101.5V153.9H1102.5H1103.5V153.4H1104.5V165.7H1105.5H1106.5H1107.5V166.2H1108.5H1109.5V169.7H1110.5H1111.5V171.9H1112.5H1113.5V170.8H1114.5H1115.5V171.4H1116.5H1117.5V170.4H1118.5H1119.5V171.6H1120.5H1121.5V172H1122.5H1123.5V171.1H1124.5H1125.5V169.7H1126.5H1127.5V169.6H1128.5H1129.5V170.9H1130.5H1131.5V171.4H1132.5H1133.5V170.2H1134.5H1135.5V171.7H1136.5H1137.5V171.9H1138.5H1139.5V172H1140.5H1141.5V171.7H1142.5H1143.5V170.8H1144.5H1145.5V170.6H1146.5H1147.5V170.5H1148.5H1149.5V170.9H1150.5H1151.5V171.3H1152.5H1153.5V171.4H1154.5H1155.5V170.2H1156.5H1157.5V171.1H1158.5H1159.5V171H1160.5H1161.5V171.5H1162.5H1163.5V171.4H1164.5H1165.5V170.5H1166.5H1167.5V170.6H1168.5H1169.5V170.3H1170.5H1171.5V171.5H1172.5H1173.5V171.2H1174.5H1175.5V171.1H1176.5H1177.5V170.5H1178.5H1179.5V170.2H1180.5H1181.5V170.3H1182.5H1183.5V171.3H1184.5H1185.5V172H1186.5H1187.5V171H1188.5H1189.5V172.6H1190.5V172.6Z" fill="#cc0000"/>
<text x="1012" y="191" font-size="12.9" textLength="25.7" lengthAdjust="spacingAndGlyphs" fill="#2a2a2a" stroke="#2a2a2a" stroke-width="0.4">[0 - 22]</text>
<rect x="1005.5" y="229.9" width="185" height="2.6" fill="#bcbcbc"/>
<path d="M1005.5 229.9V229.9H1006.5H1007.5H1008.5H1009.5H1010.5H1011.5H1012.5H1013.5H1014.5H1015.5H1016.5H1017.5H1018.5H1019.5H1020.5H1021.5H1022.5H1023.5H1024.5H1025.5H1026.5H1027.5H1028.5H1029.5H1030.5H1031.5H1032.5H1033.5H1034.5H1035.5H1036.5H1037.5H1038.5H1039.5H1040.5H1041.5H1042.5H1043.5H1044.5H1045.5H1046.5H1047.5H1048.5H1049.5H1050.5H1051.5H1052.5H1053.5H1054.5H1055.5H1056.5H1057.5H1058.5H1059.5H1060.5H1061.5V226.2H1062.5H1063.5V226.7H1064.5H1065.5V226.1H1066.5H1067.5V227.1H1068.5V229.9H1069.5H1070.5H1071.5V216.4H1072.5H1073.5V217.2H1074.5H1075.5V217.8H1076.5V216.2H1077.5V213.2H1078.5V205.3H1079.5V213.7H1080.5H1081.5V213.5H1082.5H1083.5V212.8H1084.5H1085.5V207H1086.5V202.5H1087.5V204.6H1088.5H1089.5V191.7H1090.5H1091.5V191H1092.5H1093.5V195H1094.5H1095.5V189.6H1096.5V187.9H1097.5V190.9H1098.5V190.3H1099.5V187.8H1100.5V196.4H1101.5V196.7H1102.5H1103.5V197.8H1104.5V215.9H1105.5V214.8H1106.5H1107.5V215.3H1108.5V229.9H1109.5V228.8H1110.5H1111.5V225.3H1112.5H1113.5V229.4H1114.5H1115.5V228.2H1116.5H1117.5V229.3H1118.5H1119.5V226.8H1120.5H1121.5V225.5H1122.5H1123.5V226H1124.5H1125.5V225.8H1126.5H1127.5V226.3H1128.5H1129.5V224.9H1130.5H1131.5V226.2H1132.5H1133.5V226.5H1134.5H1135.5V229.1H1136.5H1137.5V229.4H1138.5H1139.5V227.2H1140.5H1141.5V229.1H1142.5H1143.5V225.1H1144.5H1145.5V229.3H1146.5H1147.5V228H1148.5H1149.5V228.6H1150.5H1151.5V226.9H1152.5H1153.5V229H1154.5H1155.5V228.6H1156.5H1157.5V226.7H1158.5H1159.5V228.9H1160.5H1161.5V226.7H1162.5H1163.5V227.2H1164.5H1165.5V228H1166.5H1167.5V226.2H1168.5H1169.5V228.1H1170.5H1171.5V228.7H1172.5H1173.5V227.5H1174.5H1175.5V225.4H1176.5H1177.5V225.1H1178.5H1179.5V229.2H1180.5H1181.5V227.2H1182.5H1183.5V229.3H1184.5H1185.5H1186.5H1187.5V227.8H1188.5H1189.5V229.9H1190.5V229.9Z" fill="#cc0000"/>
<text x="1012" y="248.3" font-size="12.9" textLength="32.6" lengthAdjust="spacingAndGlyphs" fill="#2a2a2a" stroke="#2a2a2a" stroke-width="0.4">[0 - 5.36]</text>
<rect x="1005.5" y="287.2" width="185" height="2.6" fill="#bcbcbc"/>
<path d="M1005.5 287.2V287.2H1006.5V277.6H1007.5H1008.5V276.2H1009.5V279.5H1010.5H1011.5V280.6H1012.5H1013.5H1014.5V269.5H1015.5V266.1H1016.5H1017.5V268.9H1018.5H1019.5H1020.5V273.8H1021.5H1022.5H1023.5V276.6H1024.5H1025.5H1026.5V257.7H1027.5V267.2H1028.5V267.5H1029.5V272.1H1030.5V272.3H1031.5V272.5H1032.5V272.9H1033.5V273.1H1034.5V273.4H1035.5V271.9H1036.5V272.1H1037.5V272.4H1038.5V272H1039.5V281.2H1040.5H1041.5H1042.5H1043.5H1044.5V280.4H1045.5H1046.5V285H1047.5H1048.5H1049.5H1050.5V284.8H1051.5H1052.5H1053.5V285H1054.5H1055.5H1056.5H1057.5H1058.5V280.7H1059.5V276.9H1060.5V272.7H1061.5V271.5H1062.5V274.7H1063.5V283.9H1064.5H1065.5V283H1066.5H1067.5H1068.5V282.8H1069.5H1070.5H1071.5V283.6H1072.5H1073.5H1074.5V278H1075.5H1076.5H1077.5V280.7H1078.5H1079.5H1080.5V277.5H1081.5V276.3H1082.5H1083.5V274.4H1084.5H1085.5H1086.5V280.6H1087.5V280.3H1088.5V280H1089.5V279.5H1090.5V279.2H1091.5V279H1092.5V279.9H1093.5V279.7H1094.5V279.4H1095.5V275.1H1096.5V272.9H1097.5H1098.5V271.5H1099.5H1100.5H1101.5V274.2H1102.5H1103.5H1104.5V269.8H1105.5H1106.5H1107.5V273.3H1108.5H1109.5H1110.5V267.4H1111.5V267.2H1112.5V267H1113.5V263.2H1114.5V263H1115.5V262.8H1116.5V257.8H1117.5V257.5H1118.5V257.3H1119.5V265.3H1120.5V260.6H1121.5V266.9H1122.5V262.1H1123.5V262.2H1124.5V262.3H1125.5V260.3H1126.5V260.4H1127.5V260.5H1128.5V264.8H1129.5V264.8H1130.5V264.9H1131.5H1132.5V264.9H1133.5V265H1134.5V267.8H1135.5V263.6H1136.5V259.4H1137.5V257.9H1138.5H1139.5H1140.5V256.1H1141.5H1142.5H1143.5V272H1144.5H1145.5H1146.5V267.1H1147.5H1148.5H1149.5V271.7H1150.5H1151.5V257.7H1152.5V272.6H1153.5H1154.5H1155.5V272.9H1156.5V279.7H1157.5V274.3H1158.5V266.9H1159.5V260.9H1160.5V259.1H1161.5V251.3H1162.5H1163.5H1164.5V254.5H1165.5H1166.5H1167.5V256.9H1168.5V278.1H1169.5H1170.5V277.7H1171.5H1172.5H1173.5V278.7H1174.5H1175.5H1176.5V251.9H1177.5H1178.5H1179.5V261.5H1180.5H1181.5H1182.5V242.6H1183.5H1184.5V252.9H1185.5V253.6H1186.5V247.6H1187.5V253.6H1188.5V250.2H1189.5H1190.5V287.2Z" fill="#96ccfc"/>
<text x="1012" y="305.6" font-size="12.9" textLength="32.6" lengthAdjust="spacingAndGlyphs" fill="#2a2a2a" stroke="#2a2a2a" stroke-width="0.4">[0 - 5.36]</text>
<rect x="1005.5" y="344.5" width="185" height="2.6" fill="#bcbcbc"/>
<path d="M1005.5 344.5V344.5H1006.5V334H1007.5H1008.5V335.7H1009.5V339H1010.5H1011.5V338.5H1012.5H1013.5V324H1014.5V325.2H1015.5H1016.5H1017.5V326.8H1018.5H1019.5H1020.5V329.2H1021.5H1022.5H1023.5V326.6H1024.5H1025.5H1026.5V327.3H1027.5H1028.5H1029.5V328.1H1030.5H1031.5H1032.5V327.7H1033.5V326H1034.5V328.5H1035.5V328.7H1036.5V332.5H1037.5H1038.5V334.6H1039.5H1040.5H1041.5V333.3H1042.5H1043.5H1044.5V332H1045.5H1046.5V340.3H1047.5V341.3H1048.5H1049.5H1050.5V340.9H1051.5H1052.5H1053.5V341H1054.5H1055.5H1056.5V341.4H1057.5H1058.5H1059.5V341.1H1060.5H1061.5H1062.5V340.4H1063.5H1064.5V336.8H1065.5V338.6H1066.5V342.7H1067.5H1068.5V342.3H1069.5H1070.5H1071.5V342.7H1072.5V338H1073.5H1074.5V337.9H1075.5H1076.5H1077.5V338.4H1078.5H1079.5H1080.5V337.4H1081.5V335.4H1082.5V333.4H1083.5H1084.5H1085.5H1086.5V332.7H1087.5H1088.5V327.5H1089.5V331.9H1090.5H1091.5H1092.5V332.7H1093.5H1094.5H1095.5V333H1096.5V329.9H1097.5H1098.5V329.1H1099.5H1100.5H1101.5V330.7H1102.5H1103.5H1104.5V328.7H1105.5H1106.5H1107.5V331.7H1108.5H1109.5H1110.5V326.3H1111.5V326.7H1112.5V331.7H1113.5V330.5H1114.5H1115.5H1116.5V331.6H1117.5H1118.5H1119.5V328.8H1120.5V310.9H1121.5V304.3H1122.5V318.9H1123.5H1124.5H1125.5V318.6H1126.5H1127.5H1128.5V320.7H1129.5H1130.5H1131.5V320.4H1132.5H1133.5H1134.5V312.5H1135.5V309H1136.5V310.2H1137.5V310.8H1138.5H1139.5H1140.5V316.9H1141.5H1142.5H1143.5V312.5H1144.5H1145.5H1146.5V311.8H1147.5V321.6H1148.5H1149.5V323.3H1150.5H1151.5H1152.5V325.4H1153.5H1154.5V318.6H1155.5V318.1H1156.5H1157.5H1158.5V312.5H1159.5H1160.5H1161.5V312.9H1162.5H1163.5H1164.5V311.7H1165.5H1166.5H1167.5V332.9H1168.5H1169.5H1170.5V333.1H1171.5H1172.5H1173.5V333H1174.5H1175.5H1176.5V312.8H1177.5H1178.5H1179.5V308.7H1180.5H1181.5H1182.5V312.8H1183.5H1184.5H1185.5V309.1H1186.5H1187.5V319.9H1188.5V322.7H1189.5H1190.5V344.5Z" fill="#96ccfc"/>
<text x="1012" y="363" font-size="12.9" textLength="25.7" lengthAdjust="spacingAndGlyphs" fill="#2a2a2a" stroke="#2a2a2a" stroke-width="0.4">[0 - 41]</text>
<rect x="1005.5" y="401.9" width="185" height="2.6" fill="#bcbcbc"/>
<path d="M1005.5 401.9V401.9H1006.5H1007.5H1008.5H1009.5H1010.5H1011.5H1012.5H1013.5H1014.5H1015.5H1016.5H1017.5H1018.5H1019.5H1020.5H1021.5H1022.5H1023.5H1024.5H1025.5H1026.5H1027.5H1028.5H1029.5H1030.5H1031.5H1032.5V401.2H1033.5H1034.5V399H1035.5H1036.5V398.7H1037.5H1038.5V401.1H1039.5H1040.5V401.9H1041.5H1042.5V400.1H1043.5H1044.5V398.6H1045.5H1046.5V401.4H1047.5H1048.5V399.5H1049.5H1050.5V401.9H1051.5V396.6H1052.5V395.8H1053.5V394.2H1054.5V393.3H1055.5V392H1056.5V391.1H1057.5V391.8H1058.5H1059.5V385.9H1060.5V364.5H1061.5V383.8H1062.5H1063.5V384.1H1064.5H1065.5V384.3H1066.5H1067.5V384.4H1068.5H1069.5V384.1H1070.5V369.1H1071.5V357.9H1072.5V390.3H1073.5V390.4H1074.5H1075.5V390.9H1076.5H1077.5V390H1078.5H1079.5V389.2H1080.5H1081.5V397.6H1082.5H1083.5V398.3H1084.5H1085.5V397.6H1086.5H1087.5V397.8H1088.5V401.6H1089.5H1090.5V401.5H1091.5H1092.5V399.3H1093.5H1094.5V400.9H1095.5H1096.5V401.4H1097.5H1098.5V401.8H1099.5H1100.5V401.7H1101.5H1102.5V401.9H1103.5H1104.5V401.7H1105.5H1106.5V401.9H1107.5H1108.5V401.6H1109.5H1110.5V401.3H1111.5H1112.5V401.8H1113.5H1114.5V399.8H1115.5H1116.5V401.8H1117.5H1118.5V400H1119.5H1120.5V401.8H1121.5H1122.5V400.6H1123.5H1124.5V400.3H1125.5H1126.5V400.9H1127.5H1128.5V401.8H1129.5H1130.5V401.5H1131.5H1132.5V400.1H1133.5H1134.5V401.9H1135.5H1136.5H1137.5H1138.5V399.2H1139.5H1140.5V400.8H1141.5H1142.5V401.7H1143.5H1144.5V400.8H1145.5H1146.5V401.2H1147.5H1148.5V401.8H1149.5H1150.5V399.8H1151.5H1152.5V401H1153.5H1154.5V401.7H1155.5H1156.5V400.4H1157.5H1158.5V401.4H1159.5H1160.5V399.9H1161.5H1162.5V400.6H1163.5H1164.5V399H1165.5V401.9H1166.5H1167.5V398H1168.5V391.5H1169.5V390.5H1170.5H1171.5V391.3H1172.5V397.9H1173.5H1174.5H1175.5V398.1H1176.5H1177.5V397.9H1178.5H1179.5V398.2H1180.5H1181.5V398H1182.5V395.9H1183.5V397.9H1184.5H1185.5V401.9H1186.5H1187.5H1188.5H1189.5H1190.5V401.9Z" fill="#fc62fc"/>
<text x="1012" y="420.3" font-size="12.9" textLength="25.7" lengthAdjust="spacingAndGlyphs" fill="#2a2a2a" stroke="#2a2a2a" stroke-width="0.4">[0 - 41]</text>
<rect x="1005.5" y="459.2" width="185" height="2.6" fill="#bcbcbc"/>
<path d="M1005.5 459.2V459.2H1006.5H1007.5H1008.5H1009.5H1010.5H1011.5H1012.5H1013.5H1014.5H1015.5H1016.5H1017.5H1018.5H1019.5H1020.5H1021.5H1022.5H1023.5H1024.5H1025.5H1026.5H1027.5H1028.5H1029.5H1030.5H1031.5H1032.5H1033.5H1034.5H1035.5H1036.5H1037.5H1038.5H1039.5H1040.5H1041.5H1042.5V456.2H1043.5H1044.5V455.1H1045.5H1046.5V454.3H1047.5H1048.5V453.5H1049.5H1050.5V455.8H1051.5H1052.5V455.6H1053.5H1054.5V457.2H1055.5H1056.5V454.9H1057.5V459.2H1058.5V428.3H1059.5V428.5H1060.5H1061.5V432.5H1062.5H1063.5V432.4H1064.5V442.3H1065.5V443.8H1066.5H1067.5V442.2H1068.5H1069.5V441.3H1070.5V438.2H1071.5V437.9H1072.5H1073.5V450.9H1074.5H1075.5H1076.5H1077.5V451.1H1078.5H1079.5V456.5H1080.5H1081.5V456.5H1082.5H1083.5V456.7H1084.5H1085.5V456.4H1086.5H1087.5V456.2H1088.5V458.9H1089.5H1090.5H1091.5H1092.5H1093.5H1094.5H1095.5H1096.5H1097.5V458.4H1098.5H1099.5H1100.5V459.1H1101.5H1102.5H1103.5V457.5H1104.5H1105.5H1106.5V458.6H1107.5H1108.5H1109.5H1110.5H1111.5H1112.5V458.8H1113.5H1114.5H1115.5V458.1H1116.5H1117.5H1118.5V458.6H1119.5H1120.5H1121.5V459H1122.5H1123.5H1124.5V457.2H1125.5H1126.5H1127.5V459.2H1128.5H1129.5H1130.5V456.8H1131.5H1132.5H1133.5V456.9H1134.5H1135.5H1136.5V457.1H1137.5H1138.5H1139.5V458.8H1140.5H1141.5H1142.5V457.2H1143.5H1144.5H1145.5V459.1H1146.5H1147.5H1148.5V458.4H1149.5H1150.5H1151.5V457.1H1152.5H1153.5H1154.5V457.5H1155.5H1156.5H1157.5V457.6H1158.5H1159.5H1160.5V457.8H1161.5H1162.5V459.2H1163.5V450.8H1164.5V446.3H1165.5V448.1H1166.5H1167.5V448.2H1168.5H1169.5V448.4H1170.5H1171.5V446.4H1172.5H1173.5V456.5H1174.5H1175.5V456H1176.5H1177.5V456.3H1178.5H1179.5V456.2H1180.5H1181.5V459.2H1182.5H1183.5H1184.5H1185.5H1186.5H1187.5H1188.5H1189.5H1190.5V459.2Z" fill="#fc62fc"/>
<text x="1012" y="477.6" font-size="12.9" textLength="32.6" lengthAdjust="spacingAndGlyphs" fill="#2a2a2a" stroke="#2a2a2a" stroke-width="0.4">[0 - 8.33]</text>
<rect x="1005.5" y="516.5" width="185" height="2.6" fill="#bcbcbc"/>
<path d="M1005.5 516.5V512.6H1006.5H1007.5H1008.5V504.4H1009.5V503.8H1010.5V504.6H1011.5V512.1H1012.5H1013.5H1014.5V507.9H1015.5V506.3H1016.5V507H1017.5V510.8H1018.5H1019.5H1020.5V512.5H1021.5H1022.5H1023.5V500.5H1024.5V508.2H1025.5H1026.5V510.2H1027.5H1028.5H1029.5V508.3H1030.5V503.9H1031.5V503.8H1032.5V504.5H1033.5V503.8H1034.5V505.2H1035.5V504.6H1036.5H1037.5V505.3H1038.5V505.1H1039.5V507.4H1040.5V512.6H1041.5V511.2H1042.5H1043.5V499.5H1044.5V510.6H1045.5H1046.5H1047.5V509.6H1048.5H1049.5H1050.5V509H1051.5V506.1H1052.5V505.5H1053.5V504.9H1054.5V506.2H1055.5V505.1H1056.5V504.3H1057.5V505.7H1058.5V507.1H1059.5V505.5H1060.5V505.8H1061.5V504.7H1062.5V497.5H1063.5V503.1H1064.5V504.8H1065.5V506.6H1066.5V506H1067.5V506.4H1068.5V503.3H1069.5V503.5H1070.5V503.3H1071.5V503.7H1072.5V504.7H1073.5V504.3H1074.5V504.9H1075.5V510.4H1076.5H1077.5V507.5H1078.5V486H1079.5V507.1H1080.5V505.6H1081.5V507.7H1082.5V510.4H1083.5V507.8H1084.5H1085.5H1086.5V507.6H1087.5H1088.5V497.5H1089.5V507.5H1090.5H1091.5H1092.5V505.4H1093.5V505.8H1094.5V504.8H1095.5V505.6H1096.5V504.7H1097.5V504.1H1098.5V504.7H1099.5V503.8H1100.5V505.9H1101.5V509.8H1102.5V506.1H1103.5V504.7H1104.5V507H1105.5V506.4H1106.5V506.5H1107.5V506.4H1108.5H1109.5V508H1110.5V497.5H1111.5V504.1H1112.5V505.1H1113.5V504.1H1114.5V503.2H1115.5V504.9H1116.5V504.5H1117.5V505.9H1118.5H1119.5V506.9H1120.5H1121.5V508.4H1122.5V512H1123.5V505.3H1124.5H1125.5V498.5H1126.5V507H1127.5V507.9H1128.5V511.7H1129.5H1130.5V497.5H1131.5V507.5H1132.5H1133.5H1134.5V505.3H1135.5V505.1H1136.5V503.9H1137.5V491H1138.5H1139.5V503.5H1140.5V504.2H1141.5V505.3H1142.5V506.4H1143.5H1144.5V504.4H1145.5V507.2H1146.5H1147.5V506.9H1148.5V507.8H1149.5V509.8H1150.5H1151.5H1152.5V507.8H1153.5H1154.5H1155.5V500.5H1156.5V508.2H1157.5V506.6H1158.5H1159.5V506.2H1160.5H1161.5V505.9H1162.5V504.8H1163.5V505.8H1164.5V503.5H1165.5V504.8H1166.5V504.9H1167.5V507.6H1168.5H1169.5V506.2H1170.5V507.1H1171.5V507.2H1172.5V510.8H1173.5V510.3H1174.5H1175.5H1176.5V509.5H1177.5V503.4H1178.5V505.6H1179.5V503.6H1180.5H1181.5V501H1182.5V505.2H1183.5V512.1H1184.5H1185.5V505.4H1186.5V504.6H1187.5V503.5H1188.5H1189.5V509.3H1190.5V516.5Z" fill="#07992f"/>
<text x="1012" y="535" font-size="12.9" textLength="32.6" lengthAdjust="spacingAndGlyphs" fill="#2a2a2a" stroke="#2a2a2a" stroke-width="0.4">[0 - 8.33]</text>
<rect x="1005.5" y="573.9" width="185" height="2.6" fill="#bcbcbc"/>
<path d="M1005.5 573.9V567.6H1006.5H1007.5H1008.5V566.7H1009.5H1010.5H1011.5V566.9H1012.5H1013.5H1014.5V560.4H1015.5H1016.5H1017.5V559.3H1018.5H1019.5V558H1020.5V559.2H1021.5H1022.5H1023.5V562H1024.5H1025.5H1026.5V558.1H1027.5H1028.5H1029.5V560.1H1030.5V560.3H1031.5V558.8H1032.5V559.4H1033.5H1034.5H1035.5V561H1036.5H1037.5V560.1H1038.5V558.4H1039.5V557.8H1040.5V559.3H1041.5V562.2H1042.5V547.1H1043.5V550.9H1044.5V548.3H1045.5H1046.5H1047.5V556H1048.5H1049.5H1050.5V549.1H1051.5H1052.5H1053.5V548.1H1054.5H1055.5V547.8H1056.5V543.3H1057.5V544.5H1058.5V546.7H1059.5V542.6H1060.5V546.9H1061.5V548.7H1062.5V543.6H1063.5V543.9H1064.5V535.1H1065.5V538.7H1066.5V533.9H1067.5V550.3H1068.5V547.8H1069.5V549.1H1070.5V545.2H1071.5V543.9H1072.5V548.1H1073.5V546.2H1074.5V536.4H1075.5V539.7H1076.5V540.5H1077.5V537H1078.5V550.5H1079.5V549.6H1080.5V546.7H1081.5V551.2H1082.5V561.2H1083.5V542H1084.5V538.9H1085.5V542.6H1086.5V548.1H1087.5V533.9H1088.5V547.3H1089.5V548.9H1090.5V550H1091.5V550.7H1092.5V551H1093.5V544H1094.5V539.2H1095.5V552.7H1096.5V551.6H1097.5V548.4H1098.5V543.2H1099.5V545.6H1100.5V547.2H1101.5H1102.5H1103.5H1104.5V549.4H1105.5V544.9H1106.5V549H1107.5V547.3H1108.5V547.2H1109.5V546.6H1110.5V552H1111.5V545.3H1112.5V543.4H1113.5V538.8H1114.5V541.1H1115.5V546.2H1116.5V549.8H1117.5V548.1H1118.5V547.5H1119.5V547.1H1120.5V528.9H1121.5V561.2H1122.5V559.4H1123.5V558.5H1124.5V557.5H1125.5V547.3H1126.5V546.1H1127.5V545.8H1128.5V549.5H1129.5V549.8H1130.5V546H1131.5V534.9H1132.5V545H1133.5V546.7H1134.5V546.5H1135.5V546.1H1136.5V552.6H1137.5V549.9H1138.5V535.6H1139.5V536.5H1140.5V538H1141.5V539.3H1142.5V557.9H1143.5V551.9H1144.5H1145.5V544.7H1146.5V546H1147.5V544.8H1148.5V554.1H1149.5V540H1150.5V543.4H1151.5V543.3H1152.5V549.5H1153.5V548.8H1154.5V546.2H1155.5V547.9H1156.5V554.2H1157.5V551.5H1158.5V551.6H1159.5V551.1H1160.5V551.6H1161.5V549.4H1162.5H1163.5H1164.5V550.8H1165.5H1166.5H1167.5V555.3H1168.5V553.1H1169.5V554.4H1170.5V552.2H1171.5V551.7H1172.5V553.6H1173.5V561.5H1174.5H1175.5H1176.5V548.5H1177.5V528.9H1178.5V548.3H1179.5V547.6H1180.5V554.1H1181.5H1182.5V552.7H1183.5V554H1184.5V551.4H1185.5V550.4H1186.5H1187.5H1188.5V546.8H1189.5H1190.5V573.9Z" fill="#07992f"/>
<text x="1012" y="592.3" font-size="12.9" textLength="30.3" lengthAdjust="spacingAndGlyphs" fill="#2a2a2a" stroke="#2a2a2a" stroke-width="0.4">[0 - 149]</text>
<rect x="1005.5" y="631.2" width="185" height="2.6" fill="#bcbcbc"/>
<path d="M1005.5 631.2V631.2H1006.5H1007.5H1008.5H1009.5H1010.5H1011.5H1012.5H1013.5H1014.5H1015.5H1016.5H1017.5H1018.5H1019.5H1020.5H1021.5H1022.5H1023.5H1024.5H1025.5H1026.5H1027.5H1028.5H1029.5H1030.5H1031.5H1032.5H1033.5H1034.5H1035.5H1036.5H1037.5H1038.5H1039.5H1040.5H1041.5H1042.5H1043.5H1044.5H1045.5H1046.5H1047.5H1048.5H1049.5H1050.5H1051.5H1052.5H1053.5H1054.5H1055.5H1056.5H1057.5H1058.5H1059.5H1060.5H1061.5H1062.5H1063.5H1064.5H1065.5H1066.5H1067.5H1068.5H1069.5H1070.5H1071.5H1072.5H1073.5H1074.5H1075.5V630.2H1076.5H1077.5H1078.5V631.2H1079.5H1080.5H1081.5H1082.5H1083.5H1084.5H1085.5H1086.5H1087.5H1088.5H1089.5H1090.5V628.2H1091.5H1092.5H1093.5H1094.5V631.2H1095.5H1096.5H1097.5H1098.5H1099.5H1100.5H1101.5H1102.5H1103.5H1104.5H1105.5H1106.5H1107.5H1108.5H1109.5H1110.5H1111.5H1112.5H1113.5H1114.5H1115.5H1116.5H1117.5H1118.5H1119.5H1120.5H1121.5H1122.5H1123.5H1124.5H1125.5H1126.5H1127.5H1128.5H1129.5H1130.5H1131.5H1132.5H1133.5H1134.5H1135.5H1136.5H1137.5H1138.5H1139.5H1140.5H1141.5H1142.5H1143.5H1144.5H1145.5H1146.5H1147.5H1148.5H1149.5H1150.5H1151.5H1152.5H1153.5H1154.5H1155.5H1156.5H1157.5H1158.5H1159.5H1160.5H1161.5H1162.5H1163.5H1164.5H1165.5H1166.5H1167.5H1168.5H1169.5H1170.5H1171.5H1172.5H1173.5H1174.5H1175.5H1176.5H1177.5H1178.5H1179.5H1180.5H1181.5H1182.5H1183.5H1184.5H1185.5H1186.5H1187.5H1188.5H1189.5H1190.5V631.2Z" fill="#f99d03"/>
<text x="1012" y="649.6" font-size="12.9" textLength="30.3" lengthAdjust="spacingAndGlyphs" fill="#2a2a2a" stroke="#2a2a2a" stroke-width="0.4">[0 - 149]</text>
<rect x="1005.5" y="688.5" width="185" height="2.6" fill="#bcbcbc"/>
<path d="M1005.5 688.5V688.5H1006.5H1007.5H1008.5H1009.5H1010.5H1011.5H1012.5H1013.5H1014.5H1015.5H1016.5H1017.5H1018.5H1019.5H1020.5H1021.5H1022.5H1023.5H1024.5H1025.5H1026.5H1027.5H1028.5H1029.5H1030.5H1031.5H1032.5H1033.5H1034.5H1035.5H1036.5H1037.5H1038.5H1039.5H1040.5H1041.5H1042.5H1043.5H1044.5H1045.5H1046.5H1047.5H1048.5H1049.5H1050.5H1051.5H1052.5H1053.5H1054.5H1055.5H1056.5V672.1H1057.5H1058.5H1059.5H1060.5H1061.5H1062.5H1063.5V688.5H1064.5H1065.5H1066.5H1067.5H1068.5H1069.5H1070.5H1071.5H1072.5V665.5H1073.5H1074.5H1075.5H1076.5H1077.5H1078.5V661.5H1079.5H1080.5H1081.5V688.5H1082.5H1083.5H1084.5H1085.5H1086.5H1087.5V671.5H1088.5H1089.5V643.5H1090.5H1091.5H1092.5H1093.5H1094.5V657.5H1095.5V672.5H1096.5H1097.5V688.5H1098.5H1099.5H1100.5H1101.5H1102.5H1103.5H1104.5H1105.5H1106.5H1107.5H1108.5H1109.5H1110.5H1111.5H1112.5H1113.5H1114.5H1115.5H1116.5H1117.5H1118.5H1119.5H1120.5H1121.5H1122.5H1123.5H1124.5H1125.5H1126.5H1127.5H1128.5H1129.5H1130.5H1131.5H1132.5H1133.5H1134.5H1135.5H1136.5H1137.5H1138.5H1139.5H1140.5H1141.5H1142.5H1143.5H1144.5H1145.5H1146.5H1147.5H1148.5H1149.5H1150.5H1151.5H1152.5H1153.5H1154.5H1155.5H1156.5H1157.5H1158.5H1159.5H1160.5H1161.5H1162.5H1163.5H1164.5H1165.5H1166.5H1167.5H1168.5H1169.5H1170.5H1171.5H1172.5H1173.5H1174.5H1175.5H1176.5H1177.5H1178.5H1179.5H1180.5H1181.5H1182.5H1183.5H1184.5H1185.5H1186.5H1187.5H1188.5H1189.5H1190.5V688.5Z" fill="#f99d03"/>
<text x="1012" y="707" font-size="12.9" textLength="30.3" lengthAdjust="spacingAndGlyphs" fill="#2a2a2a" stroke="#2a2a2a" stroke-width="0.4">[0 - 149]</text>
<rect x="1005.5" y="745.9" width="185" height="2.6" fill="#bcbcbc"/>
<path d="M1005.5 745.9V745.9H1006.5H1007.5H1008.5H1009.5H1010.5H1011.5H1012.5H1013.5H1014.5H1015.5H1016.5H1017.5H1018.5H1019.5H1020.5H1021.5H1022.5H1023.5H1024.5H1025.5H1026.5H1027.5H1028.5H1029.5H1030.5H1031.5H1032.5H1033.5H1034.5H1035.5H1036.5H1037.5H1038.5H1039.5H1040.5H1041.5H1042.5H1043.5H1044.5H1045.5H1046.5H1047.5H1048.5H1049.5H1050.5H1051.5H1052.5H1053.5H1054.5H1055.5H1056.5V740.9H1057.5V739.9H1058.5V738.9H1059.5H1060.5H1061.5H1062.5V740.5H1063.5V745.9H1064.5H1065.5H1066.5H1067.5H1068.5H1069.5H1070.5H1071.5H1072.5V739.9H1073.5V739.2H1074.5V738.5H1075.5V737.9H1076.5V737.5H1077.5V737.2H1078.5V736.9H1079.5V737.3H1080.5V737.7H1081.5V745.9H1082.5H1083.5H1084.5H1085.5H1086.5H1087.5V736.9H1088.5V733.6H1089.5V730.3H1090.5H1091.5H1092.5H1093.5H1094.5H1095.5V732.6H1096.5V734.9H1097.5V745.9H1098.5H1099.5H1100.5H1101.5H1102.5H1103.5H1104.5H1105.5H1106.5H1107.5H1108.5H1109.5H1110.5H1111.5H1112.5H1113.5H1114.5H1115.5H1116.5H1117.5H1118.5H1119.5H1120.5H1121.5H1122.5H1123.5H1124.5H1125.5H1126.5H1127.5H1128.5H1129.5H1130.5H1131.5H1132.5H1133.5H1134.5H1135.5H1136.5H1137.5H1138.5H1139.5H1140.5H1141.5H1142.5H1143.5H1144.5H1145.5H1146.5H1147.5H1148.5H1149.5H1150.5H1151.5H1152.5H1153.5H1154.5H1155.5H1156.5H1157.5H1158.5H1159.5H1160.5H1161.5H1162.5H1163.5H1164.5H1165.5H1166.5H1167.5H1168.5H1169.5H1170.5H1171.5H1172.5H1173.5H1174.5H1175.5H1176.5H1177.5H1178.5H1179.5H1180.5H1181.5H1182.5H1183.5H1184.5H1185.5H1186.5H1187.5H1188.5H1189.5H1190.5V745.9Z" fill="#f99d03"/>
<text x="1190.3" y="16.4" font-size="13.5" text-anchor="end" stroke="#000" stroke-width="0.35">5kb</text>
<rect x="1147.5" y="19.8" width="43.3" height="2.2" fill="#000"/>
<rect x="1055.4" y="759.7" width="5.4" height="13.3" fill="#0000aa"/>
<rect x="1060.8" y="755.4" width="2.5" height="22.6" fill="#0000aa"/>
<rect x="1063.3" y="765.2" width="10.1" height="3" fill="#0000aa"/>
<rect x="1073.4" y="755.4" width="5.8" height="22.6" fill="#0000aa"/>
<rect x="1079.2" y="765.2" width="9.3" height="3" fill="#0000aa"/>
<rect x="1088.5" y="755.4" width="5" height="22.6" fill="#0000aa"/>
<rect x="1093.5" y="759.7" width="3.4" height="13.3" fill="#0000aa"/>
<text x="1077.6" y="793" font-size="13.5" text-anchor="middle" stroke="#000" stroke-width="0.25">Myc</text>
<text x="0.8" y="876.6" font-size="37" font-weight="bold">B</text>
<rect x="153.5" y="847.7" width="4" height="802.7" fill="#000"/>
<text x="143.5" y="884.5" font-size="16" text-anchor="end" stroke="#000" stroke-width="0.2">H3S31ph-0</text>
<text x="143.5" y="940.8" font-size="16" text-anchor="end" stroke="#000" stroke-width="0.2">H3S31ph-60</text>
<text x="143.5" y="997" font-size="16" text-anchor="end" stroke="#000" stroke-width="0.2">H3K36me3-0</text>
<text x="143.5" y="1053.2" font-size="16" text-anchor="end" stroke="#000" stroke-width="0.2">H3K36me3-60</text>
<text x="143.5" y="1109.5" font-size="16" text-anchor="end" stroke="#000" stroke-width="0.2">H3K36me2-0</text>
<text x="143.5" y="1165.8" font-size="16" text-anchor="end" stroke="#000" stroke-width="0.2">H3K36me2-60</text>
<text x="143.5" y="1222" font-size="16" text-anchor="end" stroke="#000" stroke-width="0.2">H3K27ac-0</text>
<text x="143.5" y="1278.2" font-size="16" text-anchor="end" stroke="#000" stroke-width="0.2">H3K27ac-60</text>
<text x="143.5" y="1334.5" font-size="16" text-anchor="end" stroke="#000" stroke-width="0.2">H3.3-0</text>
<text x="143.5" y="1390.8" font-size="16" text-anchor="end" stroke="#000" stroke-width="0.2">H3.3-60</text>
<text x="143.5" y="1447" font-size="16" text-anchor="end" stroke="#000" stroke-width="0.2">RNAseq-0</text>
<text x="143.5" y="1503.2" font-size="16" text-anchor="end" stroke="#000" stroke-width="0.2">RNAseq-60</text>
<text x="143.5" y="1559.5" font-size="16" text-anchor="end" stroke="#000" stroke-width="0.2">RNAseq-120</text>
<text x="143.5" y="1615.8" font-size="16" text-anchor="end" stroke="#000" stroke-width="0.2">Refseq genes</text>
<text x="174.5" y="861" font-size="12.9" textLength="25.7" lengthAdjust="spacingAndGlyphs" fill="#2a2a2a" stroke="#2a2a2a" stroke-width="0.4">[0 - 80]</text>
<rect x="168" y="899.9" width="187.5" height="2.6" fill="#bcbcbc"/>
<path d="M168 903.5V900.3H169H170H171H172H173H174H175H176H177H178H179H180H181H182H183H184H185H186H187H188H189H190H191H192H193H194H195H196H197H198H199H200H201H202H203H204H205H206H207H208H209H210H211H212H213H214H215H216H217H218H219H220H221H222H223H224H225H226V898H227H228V898.6H229H230V900.3H231H232H233H234H235H236H237H238H239H240H241H242H243H244H245H246V898.9H247V899.5H248V899H249V898.5H250V898.1H251H252V900.3H253H254H255H256H257H258H259H260H261H262H263H264H265H266H267H268H269H270H271H272H273H274H275H276H277H278H279H280H281H282H283H284H285H286H287H288H289H290H291H292H293H294H295H296H297H298H299H300H301H302H303H304H305H306H307H308H309H310H311H312H313H314H315H316H317H318H319H320H321H322H323H324H325H326H327H328H329H330H331H332H333H334H335H336H337H338H339H340H341H342H343H344H345H346H347H348H349H350H351H352H353H354H355H356V903.5Z" fill="#0000b0"/>
<text x="174.5" y="918.3" font-size="12.9" textLength="25.7" lengthAdjust="spacingAndGlyphs" fill="#2a2a2a" stroke="#2a2a2a" stroke-width="0.4">[0 - 80]</text>
<rect x="168" y="957.2" width="187.5" height="2.6" fill="#bcbcbc"/>
<path d="M168 960.8V957.6H169H170H171H172H173H174H175H176H177H178H179H180H181H182H183H184H185H186H187H188H189H190H191H192H193H194H195H196H197H198H199V954.2H200H201V955.7H202H203V956.6H204H205V955H206H207V955.8H208H209V956H210H211V957H212H213V956.7H214H215V956.2H216H217V954.8H218H219V955.8H220H221V955H222H223V956.6H224H225V956.2H226H227V953.9H228H229V954.7H230H231V954.3H232H233V954.5H234H235V955.9H236H237V955.1H238H239V955.2H240H241V957H242H243V954.4H244H245V956.6H246H247H248H249V955.1H250H251V956.3H252H253V955.4H254V957.6H255H256H257H258H259H260H261H262H263H264H265H266H267H268H269H270H271H272V955.6H273V957.6H274H275H276H277H278H279H280H281H282H283H284H285H286H287H288H289H290H291H292H293H294H295H296H297H298H299H300H301H302H303H304H305H306H307H308H309H310H311H312H313H314H315H316H317H318H319H320H321H322H323H324H325H326H327H328H329H330H331H332H333H334H335H336H337H338H339H340H341H342H343H344H345H346H347H348H349H350H351H352H353H354H355H356V960.8Z" fill="#0000b0"/>
<text x="174.5" y="975.7" font-size="12.9" textLength="25.7" lengthAdjust="spacingAndGlyphs" fill="#2a2a2a" stroke="#2a2a2a" stroke-width="0.4">[0 - 23]</text>
<rect x="168" y="1014.6" width="187.5" height="2.6" fill="#bcbcbc"/>
<path d="M168 1014.6V1014.6H169H170V1008.6H171V1008.2H172V1008.9H173V1008.5H174V1008.7H175V1008.4H176V1006.3H177V1005.9H178V1007H179V1006H180V1002.6H181V1004.2H182V1007.3H183V1008.6H184V1008.2H185H186V1007.4H187H188V1008.9H189H190V1008.1H191H192V1009.1H193H194V1007.5H195V1006.5H196V997.6H197V1006.6H198V1004.4H199V1002.4H200V1002H201V1008.3H202V1007.5H203H204V1009.4H205H206V1008.7H207V1014.6H208H209H210H211H212H213H214H215H216V1004H217V1001.7H218V997.2H219V993.4H220V995H221V994.8H222V990.9H223V982.3H224V981.8H225V984.7H226V989.6H227V989.8H228V986.3H229H230V985.6H231V991.3H232V992.5H233H234V986.4H235V993.4H236V995H237H238V996.3H239H240V998.5H241V1007.7H242V1008.2H243V1009.5H244V1010.9H245V1012.7H246V1014.5H247H248H249V1012H250H251H252V1012.3H253H254H255V1013.1H256H257H258V1013.1H259H260H261V1014H262H263H264V1012.1H265H266H267V1013.7H268H269H270V1014.5H271H272H273V1011.9H274H275H276V1012.8H277H278H279V1014H280H281H282V1014.1H283H284H285V1013.7H286H287H288V1013.9H289H290H291V1012.9H292H293H294V1012.1H295H296H297V1013.6H298H299H300V1012.5H301H302H303V1013.5H304H305H306V1011.6H307H308H309V1014.2H310H311H312V1013.4H313H314H315V1014.2H316H317H318V1014.2H319H320H321V1012.4H322H323V1006.9H324H325V1013.4H326H327V1014H328H329H330V1013.1H331H332H333V1014.5H334H335H336H337H338H339H340H341H342V1013.3H343H344H345V1014.3H346H347H348V1014.5H349H350H351V1014.4H352H353H354V1014.6H355H356V1014.6Z" fill="#cc0000"/>
<text x="174.5" y="1033" font-size="12.9" textLength="25.7" lengthAdjust="spacingAndGlyphs" fill="#2a2a2a" stroke="#2a2a2a" stroke-width="0.4">[0 - 23]</text>
<rect x="168" y="1071.9" width="187.5" height="2.6" fill="#bcbcbc"/>
<path d="M168 1071.9V1071.9H169H170V1062.6H171V1063.5H172V1063.2H173V1063.7H174V1065.6H175V1066.1H176H177V1066.1H178V1065.6H179V1065.6H180V1065.5H181V1065.5H182V1066.4H183V1066.5H184H185V1066.5H186H187V1066.6H188V1066.5H189V1066.5H190V1066.4H191V1066.4H192V1066.5H193V1066.6H194V1059.8H195V1053.2H196V1055.1H197H198V1055.5H199V1056.1H200V1055.6H201V1057.2H202V1058.9H203V1060.3H204V1062H205V1063.3H206V1064.5H207V1066.6H208V1068.7H209V1071.9H210H211H212H213H214V1057.4H215H216V1059.5H217H218V1059.1H219V1054.6H220V1047.1H221H222V1058.9H223H224V1058.3H225V1025.9H226V1028.5H227H228V1027.8H229V1036.1H230V1031.3H231H232V1036.5H233H234V1042H235V1049.4H236V1052.3H237V1054H238V1054.2H239V1059.1H240V1059.8H241V1061.2H242V1062.6H243V1064H244V1066.4H245V1069.2H246V1070.4H247H248H249V1071.5H250H251H252V1070.7H253H254H255V1070.9H256H257H258V1070.2H259H260H261V1071.3H262H263H264V1070.5H265H266H267V1069.8H268H269H270V1070.7H271H272H273V1071.8H274V1068.2H275V1071.8H276V1071.7H277H278H279V1071H280H281H282V1069.6H283H284H285H286H287H288V1071.5H289H290H291H292H293H294V1071.7H295H296H297V1071H298H299H300V1071.9H301H302H303V1070.1H304H305V1068.2H306V1071H307H308H309V1071.7H310H311H312V1071.5H313H314H315V1071.4H316H317H318V1070.5H319H320H321V1071.4H322H323V1068.2H324H325V1069.8H326H327V1071.5H328H329H330V1069.5H331H332H333V1071.7H334H335H336V1071.8H337H338H339V1071.2H340H341H342V1071.7H343H344H345V1069.8H346H347H348V1071.5H349H350H351V1070.4H352H353H354V1071.9H355H356V1071.9Z" fill="#cc0000"/>
<text x="174.5" y="1090.3" font-size="12.9" textLength="32.6" lengthAdjust="spacingAndGlyphs" fill="#2a2a2a" stroke="#2a2a2a" stroke-width="0.4">[0 - 5.77]</text>
<rect x="168" y="1129.2" width="187.5" height="2.6" fill="#bcbcbc"/>
<path d="M168 1129.2V1129.2H169H170V1115.1H171V1111.3H172H173V1115.4H174V1120.5H175H176H177V1122.6H178H179H180V1120.3H181H182H183V1121.5H184H185H186V1120.8H187V1100.5H188V1111.4H189V1113.2H190H191H192V1114.4H193H194H195V1115.4H196H197H198V1112.8H199H200H201V1113.8H202H203H204V1115H205H206H207V1108.3H208H209V1114.3H210V1124.4H211H212H213V1125.5H214H215H216V1126H217H218V1117.2H219V1124.4H220H221H222V1125.7H223H224V1117.2H225V1124.6H226H227H228H229H230H231V1124.3H232H233V1117.2H234V1129.2H235H236H237H238H239V1111.1H240V1111.9H241H242H243V1115.4H244H245H246V1120.4H247V1125H248H249V1124.1H250H251H252V1129.2H253H254H255H256V1124.1H257V1117.8H258V1111.1H259V1108.1H260V1105.1H261V1085.2H262V1101.1H263H264V1103.9H265H266H267V1105.4H268H269H270V1101.2H271V1115.4H272H273V1117.9H274H275H276V1117.8H277H278H279V1114.1H280H281H282V1113.8H283H284H285V1107.4H286H287H288V1110.1H289H290H291V1112.2H292H293H294V1110.7H295H296H297V1114.8H298H299H300V1107.5H301H302H303V1114.9H304H305H306V1108.4H307H308V1111.8H309V1109.9H310V1107H311V1104.1H312V1104.6H313H314H315V1102.4H316H317H318V1108.6H319H320H321V1104.3H322V1098.5H323V1104.3H324V1111.7H325H326H327V1107.4H328H329V1115H330V1112.1H331H332H333V1114.5H334V1121.4H335H336V1120.6H337H338H339V1120.7H340H341V1111.1H342V1113.2H343H344H345V1113.7H346H347H348V1114.5H349H350H351V1115H352H353V1129.2H354H355H356V1129.2Z" fill="#96ccfc"/>
<text x="174.5" y="1147.6" font-size="12.9" textLength="32.6" lengthAdjust="spacingAndGlyphs" fill="#2a2a2a" stroke="#2a2a2a" stroke-width="0.4">[0 - 5.77]</text>
<rect x="168" y="1186.5" width="187.5" height="2.6" fill="#bcbcbc"/>
<path d="M168 1186.5V1186.5H169H170V1176.5H171V1178.1H172H173H174V1176.2H175H176H177V1178.5H178V1174.4H179V1178.4H180V1175.1H181V1175H182V1174.8H183V1174.7H184V1174.6H185V1174.5H186V1175.2H187V1175.1H188V1175H189V1172.7H190V1172.6H191V1172.4H192V1176.2H193V1176.1H194V1176H195V1176.1H196V1176.1H197V1176H198V1177.7H199V1172.9H200H201V1164.6H202H203H204V1169.1H205H206H207V1170.1H208V1174.6H209V1183.5H210V1184.2H211H212H213V1183.1H214V1176.5H215H216V1175.2H217H218H219V1174.4H220H221H222V1169.5H223V1178.3H224H225V1178.2H226H227H228V1176.2H229H230H231V1178.5H232H233H234V1177.5H235H236H237V1177.1H238H239H240V1177H241H242H243V1174.1H244H245H246V1177.7H247H248H249V1176.4H250H251H252V1177.8H253H254H255V1184.9H256H257V1172.4H258V1169.8H259V1168.9H260V1168H261V1168.4H262V1167.5H263V1166.7H264V1168.9H265V1167.1H266V1165.3H267V1155.4H268V1162.7H269H270V1168.4H271H272H273V1167.9H274H275H276V1169.2H277H278H279V1166.5H280H281V1171.5H282V1168.6H283H284H285V1159.2H286H287H288V1155.1H289H290V1168.9H291V1167.6H292V1167.5H293V1167.3H294V1172.6H295V1161.5H296V1172.4H297V1170.8H298V1170.7H299V1161.5H300V1173.4H301V1173.3H302V1173.3H303V1161.5H304H305V1173.5H306V1171.6H307V1171.5H308V1171.4H309V1167H310V1166.9H311V1166.8H312V1169H313H314V1147.1H315V1166.4H316H317H318V1167.9H319H320H321V1169.8H322V1156.5H323V1169.8H324V1161.1H325H326H327V1167H328H329V1171.9H330V1174.3H331H332H333V1174.5H334H335H336V1168.5H337H338H339V1175.8H340H341H342V1171.7H343V1159.5H344V1171.7H345V1170.4H346H347H348V1174.3H349H350H351V1171.7H352H353V1186.5H354H355H356V1186.5Z" fill="#96ccfc"/>
<text x="174.5" y="1205" font-size="12.9" textLength="25.7" lengthAdjust="spacingAndGlyphs" fill="#2a2a2a" stroke="#2a2a2a" stroke-width="0.4">[0 - 31]</text>
<rect x="168" y="1243.9" width="187.5" height="2.6" fill="#bcbcbc"/>
<path d="M168 1243.9V1243.9H169H170H171H172H173H174H175H176H177H178V1241.8H179H180V1242.7H181H182V1241.3H183H184V1242.2H185H186V1241.3H187H188V1240.7H189H190V1242.3H191H192V1241.8H193H194V1242.5H195H196V1242.8H197H198V1242.6H199H200V1243.9H201H202H203H204H205V1233.1H206V1227.5H207H208V1226.5H209V1217.8H210V1219H211V1227.3H212V1228.6H213H214V1198.4H215H216V1226.6H217H218V1227.6H219H220V1237.4H221V1242.1H222V1240.6H223H224V1242.9H225H226V1242.3H227H228V1240.4H229H230V1240.7H231H232V1242.3H233H234H235H236H237H238V1242.5H239H240V1242.8H241H242V1241.2H243V1243.9H244V1236.4H245H246V1237.5H247H248V1236.6H249H250V1233.6H251V1234.9H252V1233.6H253V1227.2H254V1228.7H255H256V1241.9H257H258H259V1243.8H260H261H262V1242.3H263H264H265V1241.8H266H267H268V1241.4H269H270H271V1242H272H273H274V1242.5H275H276H277V1241.8H278H279H280V1241H281H282H283V1241.8H284H285H286V1241.8H287H288H289V1242H290H291H292V1241.1H293H294H295V1240.8H296H297H298V1243.1H299H300H301V1240.8H302H303H304V1243.8H305H306H307H308H309H310V1242.5H311H312H313V1242.9H314H315H316V1243.8H317H318H319V1241.5H320H321H322V1243.5H323H324H325V1243.8H326H327H328V1241.1H329H330H331V1242.4H332H333H334V1243.5H335H336H337V1241.6H338H339H340V1240.8H341H342H343V1242H344H345H346V1241.7H347H348H349V1243.8H350H351H352V1243.7H353H354V1243.9H355H356V1243.9Z" fill="#fc62fc"/>
<text x="174.5" y="1262.3" font-size="12.9" textLength="25.7" lengthAdjust="spacingAndGlyphs" fill="#2a2a2a" stroke="#2a2a2a" stroke-width="0.4">[0 - 31]</text>
<rect x="168" y="1301.2" width="187.5" height="2.6" fill="#bcbcbc"/>
<path d="M168 1301.2V1301.2H169H170H171H172H173H174H175H176V1300.1H177H178V1299.2H179H180V1300.2H181H182V1298.6H183H184V1299.2H185H186V1298.4H187H188V1300.2H189H190V1299.6H191H192V1300.2H193H194H195H196V1300H197H198V1300.1H199H200V1299.9H201H202V1301.2H203H204H205V1290.6H206V1286.2H207H208V1285.5H209V1273.4H210V1275.1H211V1286.4H212V1285.5H213V1285.8H214V1286.3H215H216V1297.3H217V1295.8H218V1294.8H219V1299.4H220V1299.2H221H222H223H224V1299.2H225H226V1299.1H227V1300.8H228H229H230V1298.8H231H232H233V1298.6H234H235H236V1298.8H237H238H239V1299H240H241H242V1301.1H243H244V1295.7H245H246H247H248V1298.3H249H250H251V1298.4H252V1290.6H253H254V1300.1H255H256H257V1301H258H259H260V1299.6H261H262H263V1301.2H264H265H266V1300.9H267H268H269V1301.2H270H271H272H273H274H275H276H277H278V1299.7H279H280H281V1300.2H282H283H284V1298.8H285H286H287V1299.5H288H289H290V1300.4H291H292H293V1300.1H294H295H296V1301H297H298H299V1299.4H300H301H302V1300.5H303H304H305V1298.3H306H307H308V1300.5H309H310H311V1298.3H312H313H314V1300.9H315H316H317V1300H318H319H320V1300.6H321H322H323V1301H324H325H326V1299.6H327H328H329V1300.7H330H331H332V1299.3H333H334H335V1299.7H336H337H338V1300.3H339H340H341V1300.1H342H343H344V1301H345H346H347V1301.1H348H349H350V1300.1H351H352H353V1299.1H354V1301.2H355H356V1301.2Z" fill="#fc62fc"/>
<text x="174.5" y="1319.6" font-size="12.9" textLength="32.6" lengthAdjust="spacingAndGlyphs" fill="#2a2a2a" stroke="#2a2a2a" stroke-width="0.4">[0 - 9.99]</text>
<rect x="168" y="1358.5" width="187.5" height="2.6" fill="#bcbcbc"/>
<path d="M168 1358.5V1345.5H169V1345.7H170V1345.6H171V1345H172V1346H173V1347.1H174V1350H175H176V1347.5H177V1347.4H178V1345.7H179V1346.5H180H181V1347.3H182V1350.7H183V1351.2H184H185V1349.3H186V1348.3H187V1347.5H188V1346.5H189H190V1349.4H191H192V1347.9H193H194H195V1341H196V1347.5H197H198V1349.4H199V1350.2H200V1348.4H201V1347.9H202H203H204V1349.3H205V1347.8H206V1347.1H207V1346.1H208V1337.7H209H210V1347H211V1347.1H212H213V1346.7H214V1348.5H215V1348.7H216V1348.2H217V1347.5H218V1345.5H219H220H221V1348.8H222V1348.4H223V1349.8H224V1349H225V1337.7H226V1347.6H227V1345.4H228V1347.6H229V1346.7H230V1348.9H231V1349.4H232V1348.7H233V1353.3H234V1332.5H235H236V1347.6H237V1347.4H238V1347H239H240V1347.2H241V1348.8H242V1351.2H243V1353.3H244H245H246V1345.5H247V1347.5H248V1346.1H249V1346.5H250H251V1347.4H252V1352.9H253H254H255V1348.9H256V1342.7H257H258V1351.9H259V1345.1H260V1346.2H261V1346.1H262V1347.4H263V1348.2H264V1348.5H265V1342.7H266V1348.5H267V1350.5H268V1349.5H269V1351.4H270V1347.1H271V1347.9H272V1348.1H273V1347.3H274H275H276V1350.2H277H278V1347H279V1347.5H280V1348.8H281V1345.5H282H283H284V1346.3H285V1347.9H286V1347H287V1350.9H288V1351.2H289H290V1349.2H291V1348H292V1347.3H293V1348H294V1347.8H295V1347.4H296V1346H297V1346.7H298V1346.5H299V1347.5H300H301V1347.3H302V1349H303V1346.7H304H305H306V1347.3H307V1348.1H308V1347.5H309H310H311V1347.7H312V1349.3H313V1346.1H314V1347.8H315V1347.4H316V1346.6H317V1345.7H318V1347.2H319V1329.5H320V1348.3H321V1338.5H322V1348.8H323H324V1349.1H325H326H327V1347.3H328V1344.5H329H330H331H332V1347.6H333V1352.1H334H335H336V1343.5H337H338V1345.6H339V1347.7H340V1347.6H341V1352.7H342V1352.8H343H344V1345.5H345H346V1347.9H347V1346.8H348V1347H349V1351.6H350V1346.2H351V1346.9H352V1347.4H353V1358.5H354H355H356V1358.5Z" fill="#07992f"/>
<text x="174.5" y="1377" font-size="12.9" textLength="32.6" lengthAdjust="spacingAndGlyphs" fill="#2a2a2a" stroke="#2a2a2a" stroke-width="0.4">[0 - 9.99]</text>
<rect x="168" y="1415.9" width="187.5" height="2.6" fill="#bcbcbc"/>
<path d="M168 1415.9V1415.9H169H170V1401.9H171V1403.9H172H173H174V1399.9H175V1403.5H176H177V1403.3H178H179H180V1404.5H181H182H183V1404.7H184H185V1403.8H186V1400.3H187V1399.2H188V1398.1H189V1400.3H190V1399.4H191H192V1398.2H193H194H195V1395.5H196H197H198V1395.4H199H200H201V1395H202H203V1407.7H204V1408.5H205H206H207V1408.8H208H209H210V1409.7H211H212H213V1410.6H214H215H216V1398.6H217V1389.9H218V1389.6H219V1391H220V1390.6H221V1390.3H222V1395.4H223V1395.1H224V1394.8H225V1389.5H226V1389.2H227V1388.8H228V1397.8H229V1396.8H230V1395.7H231V1383H232V1384.6H233H234V1386.9H235H236H237V1390.9H238V1386.4H239V1390.9H240V1388.4H241H242H243V1392.2H244H245H246V1386.4H247V1388.5H248H249V1394.5H250V1399.4H251H252V1396.3H253H254H255V1390.5H256H257H258V1369.9H259V1390.2H260V1379.9H261V1393.2H262V1406.4H263V1406.7H264V1407.8H265V1408H266H267V1405.5H268H269H270V1402H271H272H273V1405.5H274H275H276V1407.5H277H278H279V1407.3H280H281H282V1402H283H284H285V1407.8H286H287H288V1403.7H289H290H291V1402.9H292V1410H293H294V1409.5H295H296H297V1410.6H298H299H300V1411H301H302H303V1401.9H304H305H306V1405.8H307H308H309V1401.9H310H311H312V1400.7H313H314H315V1404.6H316H317V1398.7H318V1395.8H319V1406.7H320H321V1408.1H322H323H324V1408.9H325H326H327V1408.7H328H329H330H331H332H333V1406.7H334H335H336H337H338H339V1404.8H340H341H342V1406.6H343H344H345V1406.3H346H347H348V1405.5H349H350H351V1407.1H352H353V1415.9H354H355H356V1415.9Z" fill="#07992f"/>
<text x="174.5" y="1434.3" font-size="12.9" textLength="34.9" lengthAdjust="spacingAndGlyphs" fill="#2a2a2a" stroke="#2a2a2a" stroke-width="0.4">[0 - 1957]</text>
<rect x="168" y="1473.2" width="187.5" height="2.6" fill="#bcbcbc"/>
<path d="M168 1473.2V1473.2H169H170H171H172H173H174H175H176H177H178H179H180H181H182H183H184H185H186H187H188H189H190H191H192H193H194H195H196H197H198H199H200H201H202H203H204H205H206H207H208H209H210H211H212H213H214V1446.7H215H216V1446.9H217H218V1429.5H219H220V1430.3H221V1449.4H222V1447.9H223V1437.7H224V1439.5H225H226V1439.1H227V1445.9H228V1449H229V1451.9H230V1454.7H231V1473.2H232V1470.1H233V1469.9H234V1469.8H235V1469.5H236V1469.6H237V1469.5H238V1469.1H239V1469H240V1468.6H241V1473.2H242H243H244H245H246H247H248H249H250H251H252H253V1470.2H254H255V1473.2H256H257H258H259H260H261H262H263H264H265H266H267H268H269H270H271H272H273H274H275H276H277H278H279H280H281H282H283H284H285H286H287H288H289H290H291H292H293H294H295H296H297H298H299H300H301H302H303H304H305H306H307H308H309H310H311H312H313H314H315H316H317H318H319H320H321H322H323H324H325H326H327H328H329H330H331H332H333H334H335H336H337H338H339H340H341H342H343H344H345H346H347H348H349H350H351H352H353H354H355H356V1473.2Z" fill="#f99d03"/>
<text x="174.5" y="1491.6" font-size="12.9" textLength="34.9" lengthAdjust="spacingAndGlyphs" fill="#2a2a2a" stroke="#2a2a2a" stroke-width="0.4">[0 - 1957]</text>
<rect x="168" y="1530.5" width="187.5" height="2.6" fill="#bcbcbc"/>
<path d="M168 1530.5V1530.5H169H170H171H172H173H174H175H176H177H178H179H180H181H182H183H184H185H186H187H188H189H190H191H192H193H194H195H196H197H198H199H200H201H202H203H204H205H206H207H208H209H210H211H212H213H214V1501.9H215H216V1503.2H217H218V1488.6H219H220V1504.3H221V1501.7H222V1499.5H223H224V1501.6H225H226V1499.4H227V1507.2H228V1507.1H229H230V1507H231V1530.5H232H233H234H235H236H237H238V1528.2H239H240H241V1530.5H242H243H244H245H246H247H248H249H250H251H252H253V1528.5H254H255V1530.5H256H257H258H259H260H261H262H263H264H265H266H267H268H269H270H271H272H273H274H275H276H277H278H279H280H281H282H283H284H285H286H287H288H289H290H291H292H293H294H295H296H297H298H299H300H301H302H303H304H305H306H307H308H309H310H311H312H313H314H315H316H317H318H319H320H321H322H323H324H325H326H327H328H329H330H331H332H333H334H335H336H337H338H339H340H341H342H343H344H345H346H347H348H349H350H351H352H353H354H355H356V1530.5Z" fill="#f99d03"/>
<text x="174.5" y="1549" font-size="12.9" textLength="34.9" lengthAdjust="spacingAndGlyphs" fill="#2a2a2a" stroke="#2a2a2a" stroke-width="0.4">[0 - 1957]</text>
<rect x="168" y="1587.9" width="187.5" height="2.6" fill="#bcbcbc"/>
<path d="M168 1587.9V1587.9H169H170H171H172H173H174H175H176H177H178H179H180H181H182H183H184H185H186H187H188H189H190H191H192H193H194H195H196H197H198H199H200H201H202H203H204H205H206H207H208H209H210H211H212H213H214V1556.2H215V1554.4H216V1554.3H217V1552.3H218V1549.8H219V1550.1H220V1553H221V1557.1H222V1554.7H223H224V1556.2H225H226V1564H227V1569.3H228V1562.6H229H230V1561.3H231H232V1587.9H233H234H235H236V1584.9H237H238H239V1587.9H240H241H242H243H244H245H246H247H248H249H250H251H252H253V1585.9H254H255V1587.9H256H257H258H259H260H261H262H263H264H265H266H267H268H269H270H271H272H273H274H275H276H277H278H279H280H281H282H283H284H285H286H287H288H289H290H291H292H293H294H295H296H297H298H299H300H301H302H303H304H305H306H307H308H309H310H311H312H313H314H315H316H317H318H319H320H321H322H323H324H325H326H327H328H329H330H331H332H333H334H335H336H337H338H339H340H341H342H343H344H345H346H347H348H349H350H351H352H353H354H355H356V1587.9Z" fill="#f99d03"/>
<text x="355.5" y="860.4" font-size="13.5" text-anchor="end" stroke="#000" stroke-width="0.35">5kb</text>
<rect x="303" y="861.6" width="53" height="2.2" fill="#000"/>
<rect x="172" y="1607.2" width="21.4" height="3" fill="#0000aa"/>
<rect x="170.3" y="1601.7" width="2.7" height="13.3" fill="#0000aa"/>
<rect x="172.5" y="1597.4" width="7" height="22.6" fill="#0000aa"/>
<rect x="183.2" y="1597.4" width="1.8" height="22.6" fill="#0000aa"/>
<rect x="187.8" y="1597.4" width="1.9" height="22.6" fill="#0000aa"/>
<rect x="191.5" y="1597.4" width="1.9" height="22.6" fill="#0000aa"/>
<rect x="206.3" y="1607.2" width="48.9" height="3" fill="#0000aa"/>
<rect x="206.3" y="1601.7" width="1.7" height="13.3" fill="#0000aa"/>
<rect x="211" y="1601.7" width="1.8" height="13.3" fill="#0000aa"/>
<rect x="214.6" y="1597.4" width="4.6" height="22.6" fill="#0000aa"/>
<rect x="221" y="1597.4" width="2.8" height="22.6" fill="#0000aa"/>
<rect x="228.4" y="1597.4" width="2.8" height="22.6" fill="#0000aa"/>
<rect x="232" y="1597.4" width="1.4" height="22.6" fill="#0000aa"/>
<rect x="234.3" y="1597.4" width="1.4" height="22.6" fill="#0000aa"/>
<rect x="236.7" y="1597.4" width="1.4" height="22.6" fill="#0000aa"/>
<rect x="239" y="1597.4" width="1.4" height="22.6" fill="#0000aa"/>
<rect x="253.4" y="1597.4" width="1.8" height="22.6" fill="#0000aa"/>
<rect x="288.4" y="1607.2" width="62.8" height="3" fill="#0000aa"/>
<rect x="289.3" y="1597.4" width="2.2" height="22.6" fill="#0000aa"/>
<rect x="294" y="1597.4" width="1.8" height="22.6" fill="#0000aa"/>
<polyline points="301.5,1603.7 307.5,1608.7 301.5,1613.7" fill="none" stroke="#0000aa" stroke-width="2.8"/>
<rect x="319.8" y="1597.4" width="1.8" height="22.6" fill="#0000aa"/>
<rect x="334.6" y="1597.4" width="1.8" height="22.6" fill="#0000aa"/>
<rect x="344.7" y="1597.4" width="2.3" height="22.6" fill="#0000aa"/>
<rect x="348.5" y="1597.4" width="2.7" height="22.6" fill="#0000aa"/>
<text x="182.1" y="1639.2" font-size="13.5" text-anchor="middle" stroke="#000" stroke-width="0.25">Rnf151</text>
<text x="228" y="1639.2" font-size="13.5" text-anchor="middle" stroke="#000" stroke-width="0.25">Rps2</text>
<text x="321.5" y="1639.2" font-size="13.5" text-anchor="middle" stroke="#000" stroke-width="0.25">Rpl3l</text>
<text x="381.1" y="861" font-size="12.9" textLength="25.7" lengthAdjust="spacingAndGlyphs" fill="#2a2a2a" stroke="#2a2a2a" stroke-width="0.4">[0 - 80]</text>
<rect x="374.6" y="899.9" width="186.9" height="2.6" fill="#bcbcbc"/>
<path d="M374.6 903.5V900.3H375.6H376.6H377.6H378.6H379.6H380.6H381.6H382.6H383.6H384.6H385.6H386.6H387.6H388.6H389.6H390.6H391.6H392.6H393.6H394.6H395.6H396.6H397.6H398.6H399.6H400.6H401.6H402.6H403.6H404.6H405.6H406.6H407.6H408.6H409.6H410.6H411.6H412.6H413.6H414.6H415.6H416.6H417.6H418.6H419.6H420.6H421.6H422.6H423.6H424.6H425.6H426.6H427.6H428.6H429.6H430.6H431.6H432.6H433.6H434.6H435.6H436.6H437.6H438.6H439.6H440.6H441.6H442.6H443.6H444.6H445.6H446.6H447.6H448.6H449.6H450.6H451.6H452.6H453.6H454.6H455.6H456.6H457.6H458.6H459.6H460.6H461.6H462.6H463.6H464.6H465.6H466.6H467.6H468.6H469.6H470.6H471.6H472.6H473.6H474.6H475.6H476.6H477.6H478.6H479.6H480.6H481.6H482.6H483.6H484.6H485.6H486.6H487.6H488.6H489.6H490.6H491.6H492.6H493.6H494.6H495.6H496.6H497.6H498.6H499.6H500.6H501.6H502.6H503.6H504.6H505.6H506.6H507.6H508.6H509.6H510.6H511.6H512.6H513.6H514.6H515.6H516.6H517.6H518.6H519.6H520.6H521.6H522.6H523.6H524.6H525.6H526.6H527.6H528.6H529.6H530.6H531.6H532.6H533.6H534.6H535.6H536.6H537.6H538.6H539.6H540.6H541.6H542.6H543.6H544.6H545.6H546.6H547.6H548.6H549.6H550.6H551.6H552.6H553.6H554.6H555.6H556.6H557.6H558.6H559.6H560.6H561.6V903.5Z" fill="#0000b0"/>
<text x="381.1" y="918.3" font-size="12.9" textLength="25.7" lengthAdjust="spacingAndGlyphs" fill="#2a2a2a" stroke="#2a2a2a" stroke-width="0.4">[0 - 80]</text>
<rect x="374.6" y="957.2" width="186.9" height="2.6" fill="#bcbcbc"/>
<path d="M374.6 960.8V957.6H375.6H376.6H377.6H378.6H379.6H380.6H381.6H382.6H383.6H384.6H385.6H386.6H387.6H388.6H389.6H390.6H391.6H392.6H393.6H394.6H395.6H396.6H397.6H398.6H399.6H400.6H401.6H402.6H403.6H404.6H405.6H406.6H407.6H408.6H409.6H410.6H411.6H412.6H413.6H414.6H415.6H416.6H417.6H418.6H419.6H420.6H421.6H422.6H423.6H424.6H425.6H426.6H427.6H428.6H429.6H430.6H431.6H432.6H433.6H434.6H435.6H436.6H437.6H438.6H439.6H440.6H441.6H442.6H443.6H444.6H445.6H446.6H447.6H448.6H449.6H450.6H451.6H452.6H453.6H454.6H455.6H456.6H457.6H458.6H459.6H460.6H461.6H462.6H463.6H464.6H465.6H466.6H467.6H468.6H469.6H470.6H471.6H472.6H473.6H474.6H475.6H476.6H477.6H478.6H479.6H480.6H481.6H482.6H483.6H484.6H485.6H486.6H487.6H488.6H489.6H490.6H491.6H492.6H493.6H494.6H495.6H496.6H497.6H498.6H499.6H500.6H501.6H502.6H503.6H504.6H505.6H506.6H507.6H508.6H509.6H510.6H511.6H512.6H513.6H514.6H515.6H516.6H517.6H518.6H519.6H520.6H521.6H522.6H523.6H524.6H525.6H526.6H527.6H528.6H529.6H530.6H531.6H532.6H533.6H534.6H535.6H536.6H537.6H538.6H539.6H540.6H541.6H542.6H543.6H544.6H545.6H546.6H547.6H548.6H549.6H550.6H551.6H552.6H553.6H554.6H555.6H556.6H557.6H558.6H559.6H560.6H561.6V960.8Z" fill="#0000b0"/>
<text x="381.1" y="975.7" font-size="12.9" textLength="25.7" lengthAdjust="spacingAndGlyphs" fill="#2a2a2a" stroke="#2a2a2a" stroke-width="0.4">[0 - 14]</text>
<rect x="374.6" y="1014.6" width="186.9" height="2.6" fill="#bcbcbc"/>
<path d="M374.6 1014.6V1014.6H375.6H376.6H377.6H378.6V1013.5H379.6V1013.3H380.6V1013.2H381.6V1013.1H382.6V1012.9H383.6V1012.7H384.6H385.6V1012.3H386.6V1011.5H387.6V1011.1H388.6V1010.7H389.6V1010.3H390.6V1010.1H391.6V1009.7H392.6V1009.1H393.6V1008.7H394.6V1008.4H395.6V1008.1H396.6V1007.4H397.6V1007H398.6V1007.3H399.6V1005.2H400.6V1001.9H401.6V1001.2H402.6V1002.7H403.6V1002.1H404.6V999.4H405.6V998.9H406.6V999.3H407.6V998.8H408.6V998.1H409.6V997.3H410.6V995.3H411.6V994.5H412.6V993.9H413.6V993.2H414.6V994.6H415.6V993.9H416.6V993.6H417.6V985H418.6V980.8H419.6H420.6V984.5H421.6H422.6V980.7H423.6H424.6V982.7H425.6V988.9H426.6V989.8H427.6V989.7H428.6V990H429.6V989.9H430.6V991.2H431.6V991.2H432.6V991.3H433.6V991.2H434.6V991.5H435.6V987.9H436.6V985.2H437.6H438.6V981.9H439.6H440.6V988.1H441.6H442.6V982H443.6H444.6V1007.9H445.6V1001.3H446.6V1001.8H447.6H448.6V1003.5H449.6H450.6V994.4H451.6V989.6H452.6V988.6H453.6H454.6V985.2H455.6H456.6V987.4H457.6V985.9H458.6V980.7H459.6V980.4H460.6V989.1H461.6V994.6H462.6V997.7H463.6V1000H464.6V1003.9H465.6V1005.2H466.6V1004.9H467.6V1006.5H468.6V1009.2H469.6V1012.2H470.6V1014.6H471.6H472.6H473.6H474.6H475.6V1008.9H476.6V991H477.6V990.2H478.6V985H479.6V984H480.6V988.4H481.6V987.6H482.6V987.5H483.6V986.8H484.6V979.7H485.6V987.5H486.6V985.1H487.6H488.6V987.8H489.6H490.6V983.5H491.6H492.6V988.1H493.6V974.5H494.6V983.5H495.6H496.6V989.4H497.6H498.6V987.3H499.6V987.2H500.6H501.6V987.1H502.6V987.3H503.6V987.2H504.6V983.2H505.6V983H506.6V984.2H507.6V984H508.6V985.8H509.6V985.7H510.6V988.2H511.6V988.1H512.6V987.2H513.6V987.1H514.6V985.1H515.6V985.2H516.6V984.8H517.6V984.9H518.6V985.8H519.6V985.9H520.6V986.8H521.6V986.9H522.6V988.2H523.6V988.3H524.6V986.7H525.6V986.8H526.6H527.6V986.9H528.6V985.8H529.6V985.9H530.6V983.1H531.6V983.3H532.6V984H533.6V984.1H534.6V1014.6H535.6H536.6H537.6H538.6V1005.5H539.6H540.6V1006.7H541.6V1009.9H542.6V1010H543.6H544.6V1009.3H545.6V1012.5H546.6V1012.7H547.6H548.6V1012.7H549.6H550.6V1012.7H551.6V1014.6H552.6H553.6H554.6H555.6H556.6H557.6H558.6H559.6H560.6H561.6V1014.6Z" fill="#cc0000"/>
<text x="381.1" y="1033" font-size="12.9" textLength="25.7" lengthAdjust="spacingAndGlyphs" fill="#2a2a2a" stroke="#2a2a2a" stroke-width="0.4">[0 - 14]</text>
<rect x="374.6" y="1071.9" width="186.9" height="2.6" fill="#bcbcbc"/>
<path d="M374.6 1071.9V1071.9H375.6H376.6V1069.2H377.6H378.6V1069.1H379.6H380.6V1069.2H381.6H382.6V1069H383.6H384.6V1068.8H385.6H386.6V1069.2H387.6H388.6V1069.1H389.6H390.6V1069.2H391.6H392.6H393.6H394.6V1069.1H395.6H396.6H397.6V1063.1H398.6V1062.9H399.6H400.6V1061.8H401.6V1059.2H402.6V1061H403.6H404.6V1058.8H405.6H406.6V1059.9H407.6H408.6V1058.9H409.6H410.6V1058.8H411.6H412.6V1053.9H413.6V1053.7H414.6V1053.3H415.6V1053H416.6V1054.5H417.6V1054.3H418.6V1051.1H419.6V1050.8H420.6V1050.5H421.6V1050.2H422.6V1051.1H423.6V1050.8H424.6V1048.1H425.6H426.6V1048.3H427.6H428.6V1047.3H429.6H430.6V1047.8H431.6H432.6V1050.3H433.6H434.6V1046.7H435.6H436.6V1046.5H437.6H438.6V1050.4H439.6H440.6V1048.9H441.6H442.6V1050.8H443.6H444.6V1050.2H445.6V1063.2H446.6V1061.7H447.6H448.6V1062.6H449.6H450.6V1062.1H451.6H452.6V1046.3H453.6H454.6V1045.6H455.6V1050.3H456.6V1047.9H457.6H458.6V1048H459.6H460.6V1050.1H461.6H462.6V1046.8H463.6V1056H464.6V1056.4H465.6H466.6V1058.4H467.6H468.6V1056.2H469.6H470.6V1064H471.6V1068.7H472.6V1069.1H473.6H474.6V1068.9H475.6H476.6V1069.1H477.6V1060.6H478.6V1039.1H479.6V1038.6H480.6V1040.9H481.6V1040.4H482.6V1037.5H483.6V1037H484.6V1038.3H485.6V1037.9H486.6V1040.9H487.6V1041.6H488.6V1041.5H489.6H490.6V1043.7H491.6H492.6V1042.6H493.6H494.6V1040.1H495.6H496.6V1044.5H497.6H498.6V1045.9H499.6H500.6V1047.4H501.6H502.6V1044.2H503.6H504.6V1047.5H505.6H506.6V1045.8H507.6H508.6V1044.3H509.6H510.6V1044.4H511.6H512.6V1045.6H513.6H514.6V1047.5H515.6H516.6V1045.1H517.6H518.6V1044.1H519.6H520.6H521.6H522.6V1046.4H523.6H524.6V1041.9H525.6H526.6V1038.8H527.6H528.6V1041.1H529.6H530.6V1042.1H531.6H532.6V1043H533.6V1071.9H534.6H535.6H536.6H537.6H538.6H539.6V1064.1H540.6V1064H541.6H542.6V1062.8H543.6V1068.8H544.6V1068.9H545.6H546.6V1069.2H547.6H548.6H549.6H550.6V1068.6H551.6V1071.9H552.6H553.6H554.6H555.6H556.6H557.6H558.6H559.6H560.6H561.6V1071.9Z" fill="#cc0000"/>
<text x="381.1" y="1090.3" font-size="12.9" textLength="32.6" lengthAdjust="spacingAndGlyphs" fill="#2a2a2a" stroke="#2a2a2a" stroke-width="0.4">[0 - 3.51]</text>
<rect x="374.6" y="1129.2" width="186.9" height="2.6" fill="#bcbcbc"/>
<path d="M374.6 1129.2V1129.2H375.6H376.6H377.6V1102.4H378.6H379.6H380.6V1099.8H381.6V1113.1H382.6H383.6V1113.5H384.6H385.6H386.6V1099H387.6V1112.3H388.6H389.6V1115.5H390.6H391.6H392.6V1114.5H393.6V1110.1H394.6V1108.8H395.6V1110.3H396.6V1106H397.6V1102.6H398.6V1104.3H399.6H400.6H401.6V1101.7H402.6H403.6H404.6V1103H405.6H406.6H407.6V1102.6H408.6V1107.9H409.6V1116.6H410.6V1119.1H411.6H412.6H413.6V1118.1H414.6V1121.4H415.6H416.6V1120.5H417.6H418.6H419.6V1120.5H420.6H421.6H422.6V1120.1H423.6H424.6H425.6V1120.4H426.6V1110.6H427.6V1118.2H428.6V1119H429.6H430.6H431.6V1118.5H432.6H433.6H434.6V1118H435.6H436.6H437.6V1117.7H438.6H439.6H440.6V1118.3H441.6H442.6H443.6V1120.3H444.6H445.6V1129.2H446.6H447.6H448.6H449.6H450.6H451.6V1123.7H452.6V1119.8H453.6V1119.6H454.6V1119.3H455.6H456.6V1119H457.6V1118.8H458.6V1120H459.6V1119.8H460.6V1120H461.6V1113.7H462.6V1101.4H463.6V1099H464.6V1099.8H465.6H466.6H467.6V1100.5H468.6H469.6V1105.8H470.6V1107.5H471.6H472.6H473.6V1110.1H474.6H475.6H476.6V1108.5H477.6H478.6H479.6V1111H480.6H481.6H482.6V1110.9H483.6H484.6H485.6V1110H486.6V1114.8H487.6V1117.3H488.6V1118H489.6H490.6H491.6V1118.2H492.6H493.6H494.6V1114.4H495.6H496.6H497.6V1116.1H498.6H499.6H500.6V1114.8H501.6H502.6H503.6V1117.9H504.6H505.6H506.6V1117.7H507.6H508.6H509.6V1117H510.6H511.6H512.6V1114.6H513.6H514.6H515.6V1114.8H516.6H517.6H518.6V1118.3H519.6H520.6H521.6V1117.9H522.6H523.6H524.6V1116.7H525.6H526.6H527.6V1118.1H528.6H529.6V1115.6H530.6V1115.6H531.6H532.6H533.6V1110.4H534.6H535.6H536.6V1114.8H537.6V1096.2H538.6H539.6V1090H540.6H541.6V1095.5H542.6V1101H543.6H544.6H545.6V1108.5H546.6H547.6H548.6V1107.6H549.6H550.6H551.6V1106.2H552.6V1112.7H553.6V1114.2H554.6V1116.1H555.6V1117.6H556.6V1119.1H557.6V1120H558.6V1129.2H559.6H560.6H561.6V1129.2Z" fill="#96ccfc"/>
<text x="381.1" y="1147.6" font-size="12.9" textLength="32.6" lengthAdjust="spacingAndGlyphs" fill="#2a2a2a" stroke="#2a2a2a" stroke-width="0.4">[0 - 3.51]</text>
<rect x="374.6" y="1186.5" width="186.9" height="2.6" fill="#bcbcbc"/>
<path d="M374.6 1186.5V1186.5H375.6H376.6V1147.7H377.6V1152.2H378.6H379.6V1164H380.6V1164H381.6V1164.1H382.6V1164.2H383.6V1163.6H384.6V1163.7H385.6V1163.8H386.6V1170.7H387.6V1170.8H388.6V1170.9H389.6V1162.9H390.6V1163H391.6V1163.1H392.6V1169.2H393.6V1169.3H394.6V1169.3H395.6V1159.7H396.6V1159.8H397.6V1159.9H398.6V1163.1H399.6V1163.2H400.6V1163.3H401.6V1168.6H402.6V1168.7H403.6V1168.7H404.6V1161.8H405.6V1169.2H406.6V1169.3H407.6V1175.1H408.6H409.6H410.6V1171.3H411.6V1171.4H412.6V1171.4H413.6V1169.7H414.6V1169.7H415.6V1169.8H416.6V1176.3H417.6H418.6H419.6V1171.2H420.6V1171.2H421.6V1171.3H422.6V1174.4H423.6V1174.5H424.6V1174.5H425.6V1173.6H426.6V1173.7H427.6V1173.8H428.6V1174.2H429.6V1174.3H430.6V1174.3H431.6V1173.7H432.6V1173.8H433.6V1173.9H434.6V1175.6H435.6H436.6H437.6V1175.5H438.6H439.6H440.6V1178H441.6H442.6V1185.8H443.6V1185.7H444.6H445.6H446.6V1185.5H447.6H448.6H449.6V1185.6H450.6H451.6V1181.5H452.6V1177.8H453.6H454.6H455.6V1176.4H456.6H457.6H458.6V1178.1H459.6H460.6H461.6V1177.1H462.6V1160.7H463.6H464.6V1167.3H465.6H466.6H467.6V1158.5H468.6V1159.3H469.6H470.6V1161.2H471.6H472.6H473.6V1156.5H474.6V1164H475.6H476.6V1168.7H477.6H478.6H479.6V1161.2H480.6H481.6H482.6V1164.2H483.6H484.6H485.6V1162.1H486.6V1171H487.6H488.6V1171.6H489.6H490.6H491.6V1170.5H492.6H493.6H494.6V1168.8H495.6H496.6H497.6V1172.4H498.6H499.6V1166.5H500.6V1172.5H501.6H502.6H503.6V1169.5H504.6H505.6H506.6V1176.6H507.6H508.6H509.6V1174.3H510.6H511.6H512.6V1176.5H513.6H514.6H515.6V1172.2H516.6H517.6H518.6V1173.4H519.6H520.6H521.6V1170.7H522.6H523.6H524.6V1170.6H525.6H526.6H527.6V1169.5H528.6H529.6H530.6V1169.6H531.6H532.6H533.6V1168.4H534.6H535.6H536.6V1172.1H537.6V1169.5H538.6V1161H539.6V1153.1H540.6V1165.5H541.6H542.6V1159.2H543.6H544.6H545.6V1161.6H546.6H547.6H548.6V1161.3H549.6H550.6H551.6V1175.7H552.6H553.6H554.6V1178.5H555.6H556.6H557.6V1173.9H558.6H559.6V1186.5H560.6H561.6V1186.5Z" fill="#96ccfc"/>
<text x="381.1" y="1205" font-size="12.9" textLength="25.1" lengthAdjust="spacingAndGlyphs" fill="#2a2a2a" stroke="#2a2a2a" stroke-width="0.4">[0 - 11]</text>
<rect x="374.6" y="1243.9" width="186.9" height="2.6" fill="#bcbcbc"/>
<path d="M374.6 1243.9V1243.9H375.6H376.6V1237.9H377.6H378.6H379.6H380.6H381.6H382.6V1241.8H383.6H384.6V1241.6H385.6H386.6V1238.9H387.6H388.6V1241.3H389.6H390.6V1242.8H391.6H392.6V1242.2H393.6H394.6V1241.3H395.6H396.6H397.6H398.6V1239.3H399.6H400.6V1242.2H401.6H402.6V1239.9H403.6H404.6V1240.4H405.6H406.6V1242.7H407.6H408.6V1240.1H409.6H410.6V1241.7H411.6H412.6V1242.8H413.6H414.6V1240.4H415.6H416.6V1242.6H417.6H418.6V1242.3H419.6H420.6V1241.3H421.6H422.6V1240.2H423.6H424.6V1241.4H425.6H426.6V1242.9H427.6H428.6V1239.4H429.6H430.6V1240.6H431.6H432.6V1241.7H433.6H434.6V1240.3H435.6H436.6V1242.8H437.6H438.6V1241.5H439.6H440.6V1240.3H441.6H442.6V1242.4H443.6H444.6V1239.7H445.6H446.6V1242.3H447.6H448.6V1239.2H449.6H450.6V1241.6H451.6H452.6V1242.3H453.6H454.6V1240.2H455.6H456.6V1239.5H457.6H458.6V1242.6H459.6H460.6V1242H461.6H462.6V1240.3H463.6H464.6V1241.9H465.6V1233.7H466.6V1232.9H467.6H468.6V1232.7H469.6H470.6V1197.9H471.6H472.6V1199.7H473.6H474.6V1214.9H475.6H476.6V1212.9H477.6V1228.5H478.6V1229.4H479.6V1242.9H480.6H481.6V1242.7H482.6H483.6V1241.9H484.6H485.6V1240.5H486.6H487.6V1241.6H488.6H489.6V1242.7H490.6H491.6V1241.3H492.6H493.6V1242.2H494.6H495.6H496.6H497.6V1242.9H498.6H499.6V1240.3H500.6H501.6V1239.9H502.6H503.6V1239.2H504.6H505.6V1241H506.6H507.6V1242.4H508.6H509.6V1242.7H510.6H511.6V1242.5H512.6H513.6V1242.7H514.6H515.6V1239.6H516.6H517.6V1241H518.6H519.6V1242.3H520.6H521.6V1242.5H522.6H523.6V1240.6H524.6H525.6V1242.9H526.6H527.6V1240.7H528.6H529.6V1242.8H530.6H531.6V1237.4H532.6V1237H533.6H534.6V1236.7H535.6H536.6V1218H537.6H538.6V1222.4H539.6V1234.8H540.6V1241.7H541.6V1242.6H542.6H543.6V1239.6H544.6H545.6V1239.4H546.6H547.6V1242.9H548.6H549.6V1242H550.6H551.6V1240.2H552.6H553.6V1240.3H554.6H555.6V1240.8H556.6H557.6V1242.8H558.6H559.6H560.6V1243.9H561.6V1243.9Z" fill="#fc62fc"/>
<text x="381.1" y="1262.3" font-size="12.9" textLength="25.1" lengthAdjust="spacingAndGlyphs" fill="#2a2a2a" stroke="#2a2a2a" stroke-width="0.4">[0 - 11]</text>
<rect x="374.6" y="1301.2" width="186.9" height="2.6" fill="#bcbcbc"/>
<path d="M374.6 1301.2V1301.2H375.6H376.6V1292.2H377.6H378.6H379.6H380.6H381.6H382.6V1296.8H383.6H384.6V1299H385.6H386.6V1298.9H387.6H388.6V1300H389.6H390.6V1299H391.6H392.6V1299.5H393.6H394.6V1300.2H395.6H396.6V1299.1H397.6H398.6V1300H399.6H400.6V1296.8H401.6H402.6V1297.2H403.6H404.6V1300.1H405.6H406.6V1298.6H407.6H408.6V1300.2H409.6H410.6V1298.3H411.6H412.6V1299.1H413.6H414.6V1298.7H415.6H416.6V1300H417.6H418.6V1298.2H419.6H420.6V1299.7H421.6H422.6V1298.7H423.6H424.6V1300.1H425.6H426.6V1300.2H427.6H428.6V1297.2H429.6H430.6V1298.2H431.6H432.6V1300.2H433.6H434.6V1299.3H435.6H436.6V1299.7H437.6H438.6V1298.8H439.6H440.6V1298H441.6H442.6V1300.2H443.6H444.6H445.6H446.6H447.6H448.6V1297.5H449.6H450.6V1298.5H451.6H452.6V1298.7H453.6H454.6V1298.6H455.6H456.6V1300.1H457.6H458.6V1297.6H459.6H460.6V1299.3H461.6H462.6V1298H463.6H464.6V1300.2H465.6H466.6V1297H467.6H468.6V1286.2H469.6H470.6V1284.6H471.6V1279.3H472.6V1281.7H473.6H474.6V1287.7H475.6H476.6V1287.4H477.6H478.6V1286.8H479.6V1297.9H480.6V1300H481.6H482.6V1298.1H483.6H484.6V1297H485.6H486.6V1294H487.6H488.6V1300H489.6H490.6V1298.3H491.6H492.6V1296.8H493.6H494.6V1298H495.6H496.6V1300.1H497.6H498.6H499.6H500.6V1297.4H501.6H502.6V1296.8H503.6H504.6V1297.4H505.6H506.6V1299H507.6V1296.2H508.6V1299.5H509.6H510.6V1300.2H511.6H512.6V1299H513.6H514.6V1298.6H515.6H516.6V1299.6H517.6H518.6V1299.8H519.6H520.6V1300.2H521.6H522.6H523.6H524.6V1299.8H525.6H526.6V1298H527.6H528.6V1299.9H529.6H530.6V1298.9H531.6V1296.2H532.6H533.6H534.6V1277.2H535.6H536.6H537.6V1300.1H538.6V1299.4H539.6H540.6V1297.6H541.6H542.6V1299.5H543.6H544.6V1298.7H545.6H546.6V1297.4H547.6H548.6V1299.3H549.6H550.6V1297.5H551.6H552.6V1299.8H553.6H554.6V1300.2H555.6H556.6V1299.9H557.6H558.6V1299H559.6H560.6V1301.2H561.6V1301.2Z" fill="#fc62fc"/>
<text x="381.1" y="1319.6" font-size="12.9" textLength="32.6" lengthAdjust="spacingAndGlyphs" fill="#2a2a2a" stroke="#2a2a2a" stroke-width="0.4">[0 - 5.55]</text>
<rect x="374.6" y="1358.5" width="186.9" height="2.6" fill="#bcbcbc"/>
<path d="M374.6 1358.5V1351.7H375.6H376.6H377.6V1349.3H378.6H379.6H380.6V1352H381.6H382.6H383.6V1348.3H384.6V1346.8H385.6V1346.6H386.6V1345.8H387.6V1350.7H388.6H389.6V1350.8H390.6H391.6V1349.6H392.6V1347.8H393.6V1349.5H394.6V1350.6H395.6V1346.7H396.6V1346.4H397.6V1346.1H398.6V1346H399.6V1346.5H400.6H401.6H402.6V1352.3H403.6V1345.8H404.6V1345.5H405.6V1345.9H406.6V1347.4H407.6V1347.6H408.6V1345.9H409.6V1345.8H410.6V1346H411.6V1352H412.6H413.6V1345.4H414.6V1347.6H415.6V1352.3H416.6V1343.5H417.6H418.6H419.6V1351.7H420.6H421.6H422.6V1349H423.6H424.6H425.6V1350.8H426.6V1347.2H427.6V1347.7H428.6V1347H429.6V1347.5H430.6H431.6V1346.9H432.6V1350.3H433.6H434.6V1351.8H435.6V1347.3H436.6V1346.5H437.6H438.6V1348.1H439.6V1347.3H440.6V1349.6H441.6V1349.3H442.6V1348.6H443.6V1349.3H444.6V1339.5H445.6H446.6V1348.9H447.6V1348.8H448.6V1349H449.6V1347.4H450.6H451.6H452.6V1347.6H453.6H454.6V1341H455.6H456.6V1345.5H457.6V1345.9H458.6V1347.3H459.6V1346H460.6V1346.7H461.6V1345H462.6V1346.8H463.6V1348.2H464.6V1349.6H465.6H466.6H467.6V1349.7H468.6V1347.5H469.6V1348.1H470.6V1346.7H471.6V1347.9H472.6V1346.2H473.6V1347.2H474.6V1347.5H475.6H476.6V1351.7H477.6V1347.8H478.6V1347.3H479.6V1346.9H480.6V1348H481.6V1351.4H482.6V1351.6H483.6H484.6V1346.3H485.6V1347.5H486.6V1347.9H487.6V1347.7H488.6V1348.6H489.6H490.6H491.6V1351.4H492.6V1346.7H493.6V1346.8H494.6V1346.5H495.6V1347.2H496.6V1347.6H497.6V1352.7H498.6H499.6H500.6V1348.6H501.6H502.6H503.6V1352.7H504.6V1347.5H505.6V1345.1H506.6V1346.5H507.6V1346.1H508.6V1345.8H509.6V1347.6H510.6V1346.5H511.6V1348H512.6V1345.9H513.6V1351.6H514.6H515.6V1350.5H516.6H517.6H518.6V1349.9H519.6H520.6H521.6V1350.7H522.6H523.6V1346.9H524.6V1347.5H525.6V1346.5H526.6V1346.8H527.6V1351H528.6V1347.5H529.6V1346.1H530.6V1346.6H531.6V1346.5H532.6V1348.6H533.6V1348.7H534.6V1349.6H535.6V1350.1H536.6V1348.9H537.6H538.6V1347.7H539.6V1347.6H540.6V1347.8H541.6V1347.3H542.6V1346.5H543.6V1346.6H544.6V1347.5H545.6H546.6V1349.4H547.6H548.6V1346.3H549.6V1346.5H550.6V1345.9H551.6V1347.8H552.6V1346.1H553.6V1347.2H554.6V1347.7H555.6V1348.3H556.6V1348.9H557.6V1349H558.6V1352.8H559.6V1358.5H560.6H561.6V1358.5Z" fill="#07992f"/>
<text x="381.1" y="1377" font-size="12.9" textLength="32.6" lengthAdjust="spacingAndGlyphs" fill="#2a2a2a" stroke="#2a2a2a" stroke-width="0.4">[0 - 5.55]</text>
<rect x="374.6" y="1415.9" width="186.9" height="2.6" fill="#bcbcbc"/>
<path d="M374.6 1415.9V1415.9H375.6H376.6V1396.8H377.6V1396.6H378.6V1395.5H379.6V1394.4H380.6V1392.3H381.6H382.6V1399.7H383.6V1395.8H384.6V1396.2H385.6V1396.5H386.6V1395.1H387.6V1404.3H388.6H389.6V1404.6H390.6H391.6H392.6V1406H393.6H394.6H395.6V1405.9H396.6H397.6H398.6V1404.4H399.6H400.6H401.6V1401.6H402.6V1397.9H403.6V1394.3H404.6V1388.7H405.6V1387.5H406.6H407.6H408.6H409.6H410.6V1388.4H411.6H412.6H413.6V1388.8H414.6H415.6H416.6V1393.7H417.6H418.6H419.6V1395.3H420.6H421.6H422.6V1401.8H423.6H424.6H425.6V1396.5H426.6H427.6H428.6V1399.9H429.6H430.6H431.6V1396H432.6V1398.2H433.6H434.6V1402.6H435.6H436.6H437.6V1401H438.6H439.6H440.6V1398.8H441.6H442.6H443.6V1402.1H444.6H445.6H446.6V1401.4H447.6H448.6H449.6H450.6H451.6H452.6V1401.3H453.6H454.6H455.6V1399.2H456.6H457.6H458.6V1402.2H459.6H460.6H461.6V1398H462.6H463.6H464.6V1400.1H465.6H466.6H467.6V1401.1H468.6V1397.3H469.6H470.6V1398.6H471.6H472.6V1370.4H473.6H474.6V1396.7H475.6H476.6V1400H477.6H478.6V1406H479.6V1406.8H480.6H481.6H482.6V1406.6H483.6H484.6H485.6V1405.6H486.6H487.6H488.6V1407.1H489.6H490.6H491.6V1405.3H492.6H493.6H494.6V1399.4H495.6H496.6H497.6V1401.9H498.6H499.6H500.6V1399.5H501.6H502.6H503.6V1398.3H504.6H505.6H506.6V1401.6H507.6H508.6V1389.9H509.6V1396.9H510.6V1396.7H511.6V1396.5H512.6V1392.1H513.6V1391.8H514.6H515.6V1396.2H516.6H517.6H518.6V1393.6H519.6H520.6H521.6V1393.5H522.6H523.6H524.6V1391H525.6H526.6V1380.3H527.6V1389.9H528.6V1373.9H529.6H530.6V1388.5H531.6V1381.3H532.6H533.6V1384.4H534.6H535.6H536.6V1392.5H537.6V1382.2H538.6H539.6V1398.4H540.6H541.6H542.6V1395.7H543.6H544.6H545.6V1397.4H546.6H547.6H548.6V1399.5H549.6H550.6H551.6V1394.3H552.6H553.6H554.6V1390.9H555.6H556.6V1401.2H557.6V1397H558.6V1398.7H559.6V1415.9H560.6H561.6V1415.9Z" fill="#07992f"/>
<text x="381.1" y="1434.3" font-size="12.9" textLength="30.3" lengthAdjust="spacingAndGlyphs" fill="#2a2a2a" stroke="#2a2a2a" stroke-width="0.4">[0 - 233]</text>
<rect x="374.6" y="1473.2" width="186.9" height="2.6" fill="#bcbcbc"/>
<path d="M374.6 1473.2V1473.2H375.6H376.6H377.6H378.6H379.6H380.6H381.6H382.6H383.6H384.6H385.6H386.6H387.6H388.6H389.6H390.6H391.6H392.6H393.6H394.6H395.6H396.6H397.6H398.6H399.6H400.6H401.6H402.6H403.6H404.6H405.6H406.6H407.6H408.6H409.6H410.6H411.6H412.6H413.6H414.6H415.6H416.6H417.6H418.6H419.6H420.6H421.6H422.6V1455.1H423.6H424.6V1454.6H425.6H426.6V1455.2H427.6V1473.2H428.6H429.6H430.6H431.6H432.6H433.6H434.6H435.6H436.6H437.6H438.6H439.6H440.6H441.6H442.6H443.6H444.6H445.6H446.6H447.6H448.6H449.6H450.6H451.6H452.6H453.6V1456.8H454.6H455.6H456.6V1473.2H457.6H458.6V1463.5H459.6H460.6H461.6V1473.2H462.6V1428.2H463.6V1473.2H464.6H465.6H466.6H467.6H468.6H469.6H470.6V1461.8H471.6H472.6V1472.4H473.6H474.6H475.6V1473H476.6H477.6H478.6H479.6H480.6H481.6V1472.1H482.6H483.6H484.6V1472.3H485.6H486.6H487.6V1472.6H488.6H489.6H490.6V1472.4H491.6V1470.2H492.6H493.6V1473H494.6H495.6H496.6V1473.1H497.6H498.6H499.6V1472.3H500.6H501.6H502.6V1472.4H503.6H504.6H505.6V1473H506.6H507.6H508.6V1472.7H509.6H510.6H511.6V1473.2H512.6H513.6H514.6H515.6H516.6H517.6H518.6H519.6H520.6H521.6H522.6H523.6H524.6H525.6V1467.7H526.6V1473.2H527.6H528.6H529.6H530.6H531.6H532.6H533.6H534.6H535.6H536.6H537.6H538.6H539.6H540.6H541.6H542.6H543.6H544.6H545.6H546.6H547.6H548.6H549.6H550.6H551.6H552.6H553.6H554.6H555.6H556.6H557.6H558.6H559.6H560.6H561.6V1473.2Z" fill="#f99d03"/>
<text x="381.1" y="1491.6" font-size="12.9" textLength="30.3" lengthAdjust="spacingAndGlyphs" fill="#2a2a2a" stroke="#2a2a2a" stroke-width="0.4">[0 - 233]</text>
<rect x="374.6" y="1530.5" width="186.9" height="2.6" fill="#bcbcbc"/>
<path d="M374.6 1530.5V1530.5H375.6H376.6H377.6H378.6H379.6H380.6H381.6H382.6H383.6H384.6H385.6H386.6H387.6H388.6H389.6H390.6H391.6H392.6H393.6H394.6H395.6H396.6H397.6H398.6H399.6H400.6H401.6H402.6H403.6H404.6H405.6H406.6H407.6H408.6H409.6H410.6H411.6H412.6H413.6H414.6H415.6H416.6H417.6H418.6H419.6H420.6H421.6H422.6V1515.5H423.6H424.6V1514.7H425.6H426.6H427.6V1530.5H428.6H429.6H430.6H431.6H432.6H433.6H434.6H435.6H436.6H437.6H438.6H439.6H440.6H441.6H442.6H443.6H444.6H445.6H446.6H447.6H448.6H449.6H450.6H451.6H452.6H453.6V1512.2H454.6V1530.5H455.6H456.6H457.6H458.6V1522.3H459.6H460.6V1530.5H461.6H462.6V1491.2H463.6V1530.5H464.6H465.6H466.6H467.6H468.6H469.6H470.6V1522.3H471.6H472.6V1530.5H473.6H474.6H475.6H476.6H477.6H478.6H479.6H480.6H481.6H482.6H483.6H484.6V1528.5H485.6V1530.5H486.6H487.6H488.6H489.6H490.6H491.6H492.6H493.6H494.6H495.6H496.6H497.6H498.6H499.6H500.6H501.6H502.6H503.6H504.6H505.6H506.6H507.6H508.6H509.6H510.6H511.6H512.6H513.6H514.6H515.6H516.6H517.6H518.6H519.6H520.6H521.6H522.6H523.6H524.6H525.6V1527.5H526.6V1530.5H527.6H528.6H529.6H530.6H531.6H532.6H533.6H534.6H535.6H536.6H537.6H538.6H539.6H540.6H541.6H542.6H543.6H544.6H545.6H546.6H547.6H548.6H549.6H550.6H551.6H552.6H553.6H554.6H555.6H556.6H557.6H558.6H559.6H560.6H561.6V1530.5Z" fill="#f99d03"/>
<text x="381.1" y="1549" font-size="12.9" textLength="30.3" lengthAdjust="spacingAndGlyphs" fill="#2a2a2a" stroke="#2a2a2a" stroke-width="0.4">[0 - 233]</text>
<rect x="374.6" y="1587.9" width="186.9" height="2.6" fill="#bcbcbc"/>
<path d="M374.6 1587.9V1587.9H375.6H376.6H377.6H378.6H379.6H380.6H381.6H382.6H383.6H384.6H385.6H386.6H387.6H388.6H389.6H390.6H391.6H392.6H393.6H394.6H395.6H396.6H397.6H398.6H399.6H400.6H401.6H402.6H403.6H404.6H405.6H406.6H407.6H408.6H409.6H410.6H411.6H412.6H413.6H414.6H415.6H416.6H417.6H418.6H419.6H420.6H421.6V1573.1H422.6H423.6H424.6V1577.9H425.6H426.6H427.6H428.6V1587.9H429.6H430.6H431.6H432.6H433.6H434.6H435.6H436.6H437.6H438.6H439.6H440.6H441.6H442.6H443.6H444.6H445.6H446.6H447.6H448.6H449.6H450.6H451.6H452.6V1571.3H453.6H454.6V1587.9H455.6H456.6H457.6V1579.6H458.6H459.6V1587.9H460.6H461.6V1547.3H462.6H463.6V1587.9H464.6H465.6H466.6H467.6H468.6H469.6V1567.6H470.6H471.6H472.6V1587.9H473.6H474.6H475.6H476.6H477.6H478.6H479.6H480.6H481.6H482.6H483.6H484.6H485.6H486.6H487.6H488.6H489.6H490.6H491.6H492.6H493.6H494.6H495.6H496.6H497.6H498.6H499.6H500.6H501.6H502.6H503.6H504.6H505.6H506.6H507.6H508.6H509.6H510.6H511.6H512.6H513.6H514.6H515.6H516.6H517.6H518.6H519.6H520.6H521.6H522.6H523.6H524.6V1585.9H525.6H526.6V1587.9H527.6H528.6H529.6H530.6H531.6H532.6V1585.9H533.6H534.6V1587.9H535.6H536.6H537.6H538.6H539.6H540.6H541.6H542.6H543.6H544.6H545.6H546.6H547.6H548.6H549.6H550.6H551.6H552.6H553.6H554.6H555.6H556.6H557.6H558.6H559.6H560.6H561.6V1587.9Z" fill="#f99d03"/>
<text x="561.5" y="860.4" font-size="13.5" text-anchor="end" stroke="#000" stroke-width="0.35">10kb</text>
<rect x="534.3" y="861.6" width="27.7" height="2.2" fill="#000"/>
<rect x="423.4" y="1607.2" width="84.9" height="3" fill="#0000aa"/>
<rect x="421.8" y="1601.7" width="1.7" height="13.3" fill="#0000aa"/>
<rect x="423.5" y="1597.4" width="1.1" height="22.6" fill="#0000aa"/>
<rect x="425.8" y="1597.4" width="1.7" height="22.6" fill="#0000aa"/>
<polyline points="446,1603.7 440,1608.7 446,1613.7" fill="none" stroke="#0000aa" stroke-width="2.8"/>
<rect x="453.3" y="1597.4" width="2" height="22.6" fill="#0000aa"/>
<rect x="460.3" y="1597.4" width="4" height="22.6" fill="#0000aa"/>
<rect x="471.7" y="1597.4" width="2.4" height="22.6" fill="#0000aa"/>
<rect x="475" y="1601.7" width="1.2" height="13.3" fill="#0000aa"/>
<rect x="482" y="1597.4" width="1.6" height="22.6" fill="#0000aa"/>
<rect x="485.4" y="1597.4" width="1.6" height="22.6" fill="#0000aa"/>
<rect x="490.7" y="1597.4" width="2.3" height="22.6" fill="#0000aa"/>
<rect x="506" y="1597.4" width="1.6" height="22.6" fill="#0000aa"/>
<rect x="509.6" y="1597.4" width="1.8" height="22.6" fill="#0000aa"/>
<rect x="513.5" y="1597.4" width="2" height="22.6" fill="#0000aa"/>
<rect x="523" y="1597.4" width="5.6" height="22.6" fill="#0000aa"/>
<rect x="528.6" y="1601.7" width="4.6" height="13.3" fill="#0000aa"/>
<rect x="533.2" y="1597.4" width="4.6" height="22.6" fill="#0000aa"/>
<text x="428.5" y="1639.2" font-size="13.5" text-anchor="middle" stroke="#000" stroke-width="0.25">Psmb1</text>
<text x="467.2" y="1639.2" font-size="13.5" text-anchor="middle" stroke="#000" stroke-width="0.25">Tbp</text>
<text x="589.1" y="861" font-size="12.9" textLength="25.7" lengthAdjust="spacingAndGlyphs" fill="#2a2a2a" stroke="#2a2a2a" stroke-width="0.4">[0 - 80]</text>
<rect x="582.6" y="899.9" width="187.4" height="2.6" fill="#bcbcbc"/>
<path d="M582.6 903.5V900.3H583.6H584.6H585.6H586.6H587.6H588.6H589.6H590.6H591.6H592.6H593.6H594.6H595.6V898.3H596.6H597.6V900.3H598.6H599.6H600.6H601.6H602.6H603.6H604.6V898.3H605.6H606.6V900.3H607.6H608.6H609.6H610.6H611.6H612.6H613.6H614.6H615.6H616.6H617.6H618.6H619.6H620.6H621.6H622.6H623.6H624.6H625.6H626.6H627.6H628.6H629.6H630.6H631.6H632.6H633.6H634.6H635.6H636.6H637.6H638.6H639.6H640.6H641.6H642.6H643.6V898.3H644.6V900.3H645.6H646.6H647.6H648.6H649.6H650.6H651.6H652.6H653.6H654.6H655.6H656.6H657.6H658.6H659.6H660.6H661.6H662.6H663.6H664.6H665.6H666.6H667.6H668.6H669.6H670.6H671.6H672.6H673.6H674.6H675.6H676.6H677.6H678.6H679.6V898.3H680.6V900.3H681.6H682.6H683.6H684.6H685.6H686.6V898.3H687.6H688.6H689.6H690.6H691.6V900.3H692.6H693.6H694.6H695.6H696.6H697.6H698.6H699.6H700.6H701.6H702.6H703.6H704.6H705.6H706.6H707.6H708.6H709.6H710.6H711.6H712.6H713.6H714.6H715.6H716.6H717.6H718.6H719.6H720.6H721.6H722.6H723.6H724.6H725.6H726.6H727.6H728.6H729.6H730.6H731.6H732.6H733.6H734.6H735.6H736.6H737.6H738.6H739.6H740.6H741.6H742.6H743.6H744.6H745.6H746.6H747.6H748.6H749.6H750.6H751.6H752.6H753.6H754.6H755.6H756.6H757.6H758.6H759.6H760.6H761.6H762.6H763.6H764.6H765.6H766.6H767.6H768.6H769.6V903.5Z" fill="#0000b0"/>
<text x="589.1" y="918.3" font-size="12.9" textLength="25.7" lengthAdjust="spacingAndGlyphs" fill="#2a2a2a" stroke="#2a2a2a" stroke-width="0.4">[0 - 80]</text>
<rect x="582.6" y="957.2" width="187.4" height="2.6" fill="#bcbcbc"/>
<path d="M582.6 960.8V957.6H583.6H584.6H585.6H586.6H587.6H588.6H589.6H590.6H591.6H592.6H593.6H594.6V955.4H595.6V954.9H596.6V954.4H597.6V953.9H598.6V953.5H599.6V951.5H600.6V950.4H601.6V949.3H602.6V948.5H603.6V953.6H604.6V951.7H605.6V949.8H606.6V949.2H607.6H608.6V953.3H609.6V954.1H610.6V955.1H611.6V957.6H612.6H613.6H614.6H615.6H616.6H617.6H618.6H619.6H620.6H621.6H622.6H623.6H624.6H625.6H626.6H627.6H628.6H629.6H630.6H631.6H632.6H633.6H634.6H635.6H636.6H637.6H638.6H639.6H640.6H641.6H642.6V955H643.6H644.6H645.6V955.2H646.6H647.6H648.6V955.9H649.6H650.6V955.6H651.6V957.5H652.6H653.6H654.6V957.6H655.6H656.6H657.6V956.1H658.6H659.6H660.6V956.3H661.6H662.6H663.6V955.2H664.6H665.6H666.6V956.4H667.6H668.6H669.6V956.1H670.6H671.6H672.6V955.4H673.6H674.6H675.6V956.3H676.6H677.6H678.6H679.6H680.6H681.6V957.5H682.6H683.6H684.6V956.2H685.6H686.6H687.6V955.5H688.6H689.6H690.6V957.6H691.6H692.6H693.6V956.8H694.6H695.6H696.6V956.9H697.6H698.6H699.6V957.5H700.6H701.6H702.6V956.2H703.6H704.6H705.6V956H706.6H707.6H708.6V955.2H709.6H710.6H711.6V957.2H712.6H713.6H714.6V955.5H715.6H716.6H717.6V957.6H718.6H719.6H720.6H721.6H722.6H723.6H724.6H725.6H726.6H727.6H728.6H729.6H730.6H731.6H732.6H733.6H734.6H735.6H736.6H737.6H738.6H739.6H740.6V953.6H741.6H742.6V957.6H743.6H744.6H745.6H746.6H747.6H748.6H749.6H750.6H751.6H752.6H753.6H754.6H755.6H756.6H757.6H758.6H759.6H760.6H761.6H762.6H763.6H764.6H765.6H766.6H767.6H768.6H769.6V960.8Z" fill="#0000b0"/>
<text x="589.1" y="975.7" font-size="12.9" textLength="25.7" lengthAdjust="spacingAndGlyphs" fill="#2a2a2a" stroke="#2a2a2a" stroke-width="0.4">[0 - 27]</text>
<rect x="582.6" y="1014.6" width="187.4" height="2.6" fill="#bcbcbc"/>
<path d="M582.6 1014.6V1014.6H583.6H584.6H585.6V1013.1H586.6H587.6V1014.6H588.6H589.6H590.6H591.6H592.6H593.6H594.6H595.6H596.6H597.6H598.6H599.6H600.6H601.6H602.6H603.6H604.6H605.6H606.6H607.6H608.6H609.6H610.6H611.6H612.6H613.6H614.6V1012H615.6V1011.9H616.6V1011.6H617.6V1011.5H618.6V1006.8H619.6V1005.4H620.6V1005.6H621.6V1004.9H622.6V1005.2H623.6V1004.5H624.6V1003.6H625.6V1003H626.6V1003.2H627.6V1002.9H628.6V1003.4H629.6V1003.6H630.6V1003.5H631.6V1003.8H632.6V1004H633.6V1004.2H634.6V1003H635.6V1003.3H636.6V1003.4H637.6V1003.6H638.6V1005H639.6V1005.3H640.6V1007.3H641.6V1007.2H642.6V1006.8H643.6V1006.6H644.6V1007.7H645.6V1007.5H646.6V1006.7H647.6V1006.6H648.6V1007.2H649.6V1007.1H650.6V1000.7H651.6V998H652.6V1006.5H653.6V1006.3H654.6V1007.7H655.6V1007.6H656.6V1004.9H657.6V1004.7H658.6V1006.5H659.6V1006.3H660.6V1006.9H661.6V1006.3H662.6V1004.8H663.6V1004.2H664.6V1000.4H665.6V999.6H666.6V1002.1H667.6V1001.5H668.6V998H669.6V997.4H670.6V999.1H671.6V998.6H672.6V1000.6H673.6V1000.2H674.6V994.1H675.6V986.4H676.6V992.7H677.6H678.6V988H679.6V968.6H680.6V979.9H681.6V987.2H682.6V987.4H683.6H684.6V989.1H685.6V988.6H686.6V985.5H687.6V984.4H688.6V991.3H689.6V995H690.6V995.2H691.6V999.6H692.6V1012.9H693.6V1014.6H694.6H695.6H696.6H697.6H698.6H699.6H700.6H701.6H702.6H703.6H704.6H705.6H706.6H707.6V1011.9H708.6H709.6H710.6H711.6H712.6H713.6H714.6V1014.6H715.6H716.6H717.6H718.6H719.6H720.6H721.6H722.6H723.6H724.6H725.6H726.6H727.6V1010.4H728.6V1010.7H729.6H730.6V1011.2H731.6H732.6V1011.6H733.6V1014.6H734.6H735.6V1004.7H736.6V1003.9H737.6V1003.1H738.6V1002.8H739.6V1002.1H740.6V1001H741.6V1000.3H742.6V995.3H743.6V995.5H744.6V997.4H745.6V997.6H746.6V1000H747.6V1000.1H748.6V997.3H749.6V997.4H750.6V1003.7H751.6V1003.8H752.6V1004.7H753.6V1004.8H754.6V997.5H755.6V997.7H756.6V999H757.6V999.2H758.6V1002.5H759.6V1002.6H760.6V1000H761.6V1000.2H762.6V1003H763.6V1003.1H764.6V1005.2H765.6V1005.3H766.6V1001.2H767.6V1001.3H768.6V1014.6H769.6V1014.6Z" fill="#cc0000"/>
<text x="589.1" y="1033" font-size="12.9" textLength="25.7" lengthAdjust="spacingAndGlyphs" fill="#2a2a2a" stroke="#2a2a2a" stroke-width="0.4">[0 - 27]</text>
<rect x="582.6" y="1071.9" width="187.4" height="2.6" fill="#bcbcbc"/>
<path d="M582.6 1071.9V1071.7H583.6H584.6H585.6V1071.5H586.6H587.6H588.6V1071.2H589.6H590.6H591.6V1071.7H592.6H593.6H594.6V1071.3H595.6H596.6H597.6V1070.5H598.6H599.6H600.6V1070.8H601.6H602.6H603.6V1069.9H604.6H605.6H606.6V1070.9H607.6H608.6H609.6V1070H610.6H611.6H612.6V1070.6H613.6H614.6V1071.9H615.6V1063.9H616.6V1066.2H617.6H618.6V1063.9H619.6H620.6V1063.7H621.6H622.6V1064.8H623.6V1061.6H624.6V1055.2H625.6V1056.1H626.6V1060.2H627.6V1060H628.6V1055H629.6V1054.8H630.6V1055.3H631.6V1055.1H632.6V1054.4H633.6V1053.3H634.6V1058.1H635.6V1058.7H636.6V1053.5H637.6V1054.4H638.6V1058.8H639.6V1059.5H640.6V1064.5H641.6H642.6V1065.1H643.6H644.6V1065.2H645.6H646.6V1066H647.6H648.6V1060.5H649.6H650.6H651.6H652.6V1061.2H653.6H654.6V1060.8H655.6H656.6V1060.9H657.6H658.6V1062.3H659.6V1054.7H660.6V1063.9H661.6H662.6V1060.8H663.6H664.6V1061.5H665.6H666.6V1061.6H667.6H668.6V1061.4H669.6V1056.3H670.6V1054.9H671.6V1054.1H672.6V1056.2H673.6V1055.5H674.6V1053.5H675.6V1052.8H676.6V1054.9H677.6V1051.4H678.6V1046.6H679.6V1046H680.6V1049.4H681.6V1048.9H682.6V1043.4H683.6V1042.8H684.6V1038.8H685.6V1037.4H686.6V1033.5H687.6V1040.7H688.6V1049.1H689.6V1050.9H690.6V1051.2H691.6V1053.1H692.6V1058.2H693.6V1063H694.6V1071.9H695.6H696.6H697.6H698.6H699.6H700.6H701.6H702.6H703.6V1069.9H704.6H705.6H706.6H707.6H708.6H709.6H710.6H711.6V1071.9H712.6H713.6H714.6H715.6H716.6V1066.5H717.6V1071.9H718.6H719.6H720.6H721.6H722.6H723.6H724.6V1068.9H725.6H726.6H727.6H728.6H729.6H730.6H731.6H732.6H733.6H734.6H735.6V1071.9H736.6H737.6V1062.8H738.6V1064.3H739.6V1063.9H740.6V1061.2H741.6V1060.6H742.6V1060.5H743.6V1054.5H744.6V1062.4H745.6V1062.4H746.6V1060.1H747.6V1060H748.6V1059H749.6V1058.9H750.6V1061.9H751.6V1061.8H752.6V1061.7H753.6V1061.6H754.6V1060.7H755.6V1060.6H756.6V1059.3H757.6V1059.2H758.6V1057H759.6V1056.9H760.6V1058.6H761.6V1058.5H762.6V1057.8H763.6V1057.7H764.6V1057.1H765.6V1057H766.6V1060.2H767.6V1071.9H768.6H769.6V1071.9Z" fill="#cc0000"/>
<text x="589.1" y="1090.3" font-size="12.9" textLength="32.6" lengthAdjust="spacingAndGlyphs" fill="#2a2a2a" stroke="#2a2a2a" stroke-width="0.4">[0 - 6.17]</text>
<rect x="582.6" y="1129.2" width="187.4" height="2.6" fill="#bcbcbc"/>
<path d="M582.6 1129.2V1129.2H583.6H584.6H585.6V1106.5H586.6H587.6V1113.3H588.6V1113.4H589.6V1112.2H590.6V1111H591.6V1107.5H592.6V1106.2H593.6V1112.9H594.6V1119.2H595.6V1121.2H596.6H597.6V1120H598.6H599.6V1125.8H600.6V1126.6H601.6H602.6H603.6V1126.6H604.6H605.6H606.6V1126.8H607.6H608.6H609.6V1126.4H610.6V1129.2H611.6H612.6H613.6H614.6V1122.4H615.6V1122.1H616.6H617.6H618.6V1122.8H619.6H620.6H621.6V1120.4H622.6H623.6H624.6V1122.1H625.6V1126.6H626.6H627.6V1126.7H628.6H629.6H630.6V1113.5H631.6H632.6H633.6V1111.8H634.6H635.6H636.6V1112.2H637.6V1109.6H638.6H639.6V1108.4H640.6H641.6H642.6V1111.4H643.6H644.6H645.6V1106.3H646.6V1121.9H647.6H648.6V1122.1H649.6V1118.5H650.6V1119.5H651.6V1119.7H652.6V1120.8H653.6V1121.5H654.6V1121.4H655.6H656.6H657.6H658.6H659.6H660.6V1122.7H661.6H662.6H663.6V1121.6H664.6H665.6H666.6V1117.2H667.6V1119.6H668.6H669.6V1122.7H670.6H671.6H672.6V1120.5H673.6H674.6H675.6V1116.2H676.6V1120.1H677.6H678.6V1122.1H679.6H680.6H681.6V1122.4H682.6H683.6V1117.3H684.6V1113.1H685.6H686.6H687.6V1117.9H688.6H689.6H690.6V1121.5H691.6V1125.8H692.6H693.6V1124.8H694.6H695.6H696.6V1125.7H697.6H698.6H699.6V1124.4H700.6H701.6V1109H702.6V1104.5H703.6V1103.6H704.6V1102.6H705.6V1099.4H706.6V1098.3H707.6V1092.1H708.6V1094.6H709.6V1092.5H710.6V1090.5H711.6V1100.7H712.6V1101.1H713.6V1101.5H714.6V1106.2H715.6V1106.6H716.6V1107H717.6V1128.8H718.6H719.6H720.6V1128.7H721.6H722.6V1119.7H723.6V1118.6H724.6V1117.4H725.6V1116.2H726.6V1118.2H727.6V1106.3H728.6H729.6V1105.1H730.6H731.6H732.6V1114.1H733.6V1114.5H734.6V1114.8H735.6V1112.1H736.6V1112.5H737.6V1112.9H738.6V1113H739.6V1114H740.6V1115H741.6V1115.5H742.6V1116.5H743.6V1117.5H744.6V1119.2H745.6H746.6H747.6V1119H748.6H749.6H750.6V1120H751.6H752.6H753.6H754.6H755.6H756.6V1119.7H757.6H758.6H759.6V1118.5H760.6H761.6H762.6V1117.7H763.6H764.6H765.6V1117.9H766.6H767.6H768.6V1129.2H769.6V1129.2Z" fill="#96ccfc"/>
<text x="589.1" y="1147.6" font-size="12.9" textLength="32.6" lengthAdjust="spacingAndGlyphs" fill="#2a2a2a" stroke="#2a2a2a" stroke-width="0.4">[0 - 6.17]</text>
<rect x="582.6" y="1186.5" width="187.4" height="2.6" fill="#bcbcbc"/>
<path d="M582.6 1186.5V1186.5H583.6H584.6H585.6V1174.4H586.6V1174.2H587.6V1174H588.6V1171.9H589.6V1171.6H590.6V1171.4H591.6V1171.7H592.6V1171.4H593.6V1179.4H594.6V1176.9H595.6H596.6H597.6V1179.4H598.6H599.6H600.6V1177.7H601.6H602.6H603.6V1178.6H604.6H605.6H606.6V1179.7H607.6H608.6H609.6V1178.7H610.6H611.6H612.6V1178.3H613.6H614.6V1186H615.6V1164H616.6V1178.6H617.6H618.6V1177.1H619.6H620.6H621.6V1180.1H622.6H623.6H624.6V1179.5H625.6H626.6V1173.5H627.6V1178H628.6H629.6H630.6V1177.3H631.6H632.6H633.6V1179.2H634.6H635.6H636.6V1176.9H637.6V1174.7H638.6V1178.6H639.6V1179.1H640.6H641.6H642.6V1180.3H643.6V1174.1H644.6V1179H645.6V1178.2H646.6V1178.7H647.6V1179.3H648.6V1178.9H649.6H650.6H651.6V1180.2H652.6H653.6H654.6V1179.1H655.6H656.6H657.6V1177H658.6V1176.5H659.6V1177H660.6V1178.2H661.6H662.6H663.6V1178.4H664.6H665.6H666.6V1177.8H667.6H668.6H669.6V1179.5H670.6H671.6H672.6V1178.2H673.6H674.6V1176.5H675.6V1179.5H676.6H677.6H678.6V1179.8H679.6H680.6H681.6V1179.6H682.6H683.6H684.6V1179.5H685.6H686.6H687.6V1177.3H688.6H689.6H690.6V1178H691.6H692.6H693.6V1175.3H694.6V1173.2H695.6V1171.1H696.6V1174.9H697.6H698.6H699.6V1174.7H700.6V1173.9H701.6V1171.9H702.6V1169.5H703.6V1168.6H704.6V1167.7H705.6V1168.8H706.6V1168H707.6V1167.2H708.6V1158.6H709.6V1142.6H710.6V1142.6H711.6V1157.3H712.6V1159.5H713.6V1161.8H714.6V1167.4H715.6V1178.9H716.6V1181.1H717.6V1183.1H718.6H719.6H720.6V1182.9H721.6H722.6H723.6V1183H724.6V1171.7H725.6V1163.9H726.6V1164H727.6H728.6H729.6V1161.2H730.6H731.6H732.6V1162.1H733.6H734.6V1171.9H735.6V1172.6H736.6H737.6H738.6V1176.3H739.6H740.6H741.6H742.6H743.6H744.6V1175.4H745.6H746.6H747.6V1175H748.6H749.6H750.6V1174.6H751.6H752.6H753.6V1173.6H754.6H755.6H756.6V1174.8H757.6H758.6H759.6V1176.9H760.6H761.6H762.6V1176.7H763.6H764.6H765.6V1177.1H766.6H767.6V1186.5H768.6H769.6V1186.5Z" fill="#96ccfc"/>
<text x="589.1" y="1205" font-size="12.9" textLength="25.7" lengthAdjust="spacingAndGlyphs" fill="#2a2a2a" stroke="#2a2a2a" stroke-width="0.4">[0 - 55]</text>
<rect x="582.6" y="1243.9" width="187.4" height="2.6" fill="#bcbcbc"/>
<path d="M582.6 1243.9V1243.9H583.6H584.6H585.6H586.6H587.6H588.6H589.6H590.6H591.6H592.6V1240.4H593.6H594.6V1240.7H595.6H596.6V1236.6H597.6V1234.8H598.6V1234.1H599.6V1233.7H600.6V1233.4H601.6V1233H602.6V1236.7H603.6H604.6H605.6H606.6V1236.2H607.6H608.6V1239H609.6H610.6V1238.5H611.6H612.6V1238.4H613.6V1243.9H614.6H615.6H616.6H617.6H618.6V1241.9H619.6H620.6V1243.9H621.6H622.6H623.6H624.6H625.6H626.6H627.6H628.6H629.6H630.6H631.6H632.6H633.6H634.6H635.6H636.6H637.6H638.6H639.6H640.6H641.6H642.6V1238.9H643.6H644.6V1240.1H645.6H646.6V1243.9H647.6H648.6H649.6H650.6H651.6H652.6H653.6H654.6H655.6H656.6H657.6H658.6H659.6H660.6H661.6H662.6H663.6H664.6H665.6H666.6H667.6H668.6H669.6H670.6H671.6V1241.5H672.6H673.6V1242.7H674.6H675.6V1243.3H676.6H677.6V1241.8H678.6H679.6V1241.9H680.6H681.6V1243.9H682.6V1237.7H683.6V1243.9H684.6H685.6H686.6H687.6V1240.6H688.6V1238.1H689.6V1235H690.6V1232.2H691.6V1229.7H692.6V1227.1H693.6V1225.4H694.6H695.6H696.6V1224.4H697.6H698.6V1226.4H699.6V1233.5H700.6V1232.7H701.6V1236.9H702.6V1237.5H703.6H704.6V1236.4H705.6H706.6V1236.6H707.6V1241.8H708.6V1241.9H709.6H710.6H711.6H712.6V1241.7H713.6H714.6H715.6H716.6V1241.9H717.6V1236.1H718.6V1240H719.6V1241.9H720.6V1241.4H721.6V1241.2H722.6V1241.5H723.6V1241.3H724.6V1241H725.6V1240.8H726.6V1242.4H727.6V1243.9H728.6H729.6H730.6H731.6H732.6H733.6H734.6H735.6H736.6H737.6H738.6H739.6H740.6H741.6H742.6H743.6H744.6H745.6H746.6H747.6H748.6H749.6H750.6H751.6H752.6H753.6H754.6H755.6H756.6H757.6H758.6H759.6H760.6H761.6H762.6H763.6V1241.9H764.6V1243.9H765.6H766.6H767.6H768.6H769.6V1243.9Z" fill="#fc62fc"/>
<text x="589.1" y="1262.3" font-size="12.9" textLength="25.7" lengthAdjust="spacingAndGlyphs" fill="#2a2a2a" stroke="#2a2a2a" stroke-width="0.4">[0 - 55]</text>
<rect x="582.6" y="1301.2" width="187.4" height="2.6" fill="#bcbcbc"/>
<path d="M582.6 1301.2V1301.2H583.6H584.6H585.6H586.6H587.6H588.6H589.6H590.6H591.6H592.6V1291.9H593.6H594.6V1294.4H595.6H596.6V1295.1H597.6H598.6V1292.3H599.6H600.6V1294H601.6H602.6V1295.8H603.6H604.6V1292.3H605.6H606.6V1294.2H607.6H608.6V1301.2H609.6H610.6H611.6V1298.7H612.6V1301.2H613.6H614.6H615.6H616.6H617.6H618.6H619.6H620.6H621.6H622.6H623.6H624.6H625.6H626.6H627.6H628.6H629.6H630.6H631.6H632.6H633.6H634.6H635.6H636.6H637.6H638.6H639.6H640.6H641.6H642.6V1299.2H643.6H644.6H645.6H646.6H647.6H648.6H649.6V1301.2H650.6H651.6H652.6H653.6H654.6H655.6H656.6H657.6H658.6H659.6H660.6H661.6H662.6H663.6H664.6H665.6H666.6H667.6H668.6H669.6H670.6H671.6H672.6H673.6H674.6H675.6H676.6H677.6H678.6H679.6H680.6H681.6H682.6H683.6H684.6H685.6H686.6H687.6H688.6V1296.5H689.6V1295H690.6V1294.3H691.6V1292.9H692.6V1290.7H693.6V1289.2H694.6V1290H695.6H696.6V1288.2H697.6V1293.7H698.6V1295.6H699.6V1296.7H700.6V1301.2H701.6H702.6H703.6V1298.7H704.6V1301.2H705.6H706.6V1299.2H707.6H708.6H709.6H710.6H711.6H712.6V1301.2H713.6H714.6H715.6H716.6H717.6H718.6H719.6H720.6H721.6H722.6H723.6H724.6H725.6H726.6H727.6H728.6H729.6H730.6H731.6H732.6H733.6H734.6H735.6H736.6V1299.2H737.6H738.6V1301.2H739.6H740.6H741.6H742.6H743.6H744.6H745.6V1299.2H746.6H747.6H748.6H749.6V1301.2H750.6H751.6H752.6H753.6H754.6H755.6H756.6V1299.2H757.6H758.6V1301.2H759.6H760.6H761.6H762.6H763.6V1299.2H764.6V1301.2H765.6H766.6H767.6H768.6H769.6V1301.2Z" fill="#fc62fc"/>
<text x="589.1" y="1319.6" font-size="12.9" textLength="32.6" lengthAdjust="spacingAndGlyphs" fill="#2a2a2a" stroke="#2a2a2a" stroke-width="0.4">[0 - 9.53]</text>
<rect x="582.6" y="1358.5" width="187.4" height="2.6" fill="#bcbcbc"/>
<path d="M582.6 1358.5V1346.9H583.6V1348.2H584.6V1346.3H585.6V1344.5H586.6V1345.3H587.6V1346H588.6V1346.5H589.6V1347.5H590.6V1347.8H591.6V1347.4H592.6V1345.2H593.6V1345.5H594.6V1346.2H595.6V1350H596.6H597.6V1347.8H598.6V1346.8H599.6H600.6V1345.9H601.6V1346.6H602.6V1349.2H603.6V1346.3H604.6V1345.6H605.6V1345.9H606.6V1347.5H607.6V1349.9H608.6H609.6V1347.4H610.6H611.6H612.6V1348.5H613.6H614.6V1348.4H615.6V1345.2H616.6V1344.9H617.6V1339.5H618.6V1345.7H619.6V1345.5H620.6V1345H621.6V1347.1H622.6H623.6H624.6V1351H625.6H626.6H627.6V1347.1H628.6V1346.9H629.6H630.6V1347H631.6V1336H632.6H633.6V1345.1H634.6V1349.1H635.6H636.6V1347.4H637.6H638.6H639.6V1349H640.6V1344.6H641.6V1346.1H642.6V1344.5H643.6H644.6H645.6V1353.1H646.6V1346.7H647.6V1348.2H648.6V1347.7H649.6V1346.8H650.6V1347.7H651.6V1347.2H652.6V1345.6H653.6V1350.1H654.6V1350.5H655.6H656.6V1346.8H657.6H658.6V1347.8H659.6V1346.1H660.6V1345.9H661.6V1346.4H662.6V1345.5H663.6H664.6H665.6V1345.4H666.6V1346.7H667.6V1345.5H668.6V1344.1H669.6V1346H670.6V1345H671.6V1352.7H672.6V1351.1H673.6V1336H674.6H675.6V1348.6H676.6H677.6H678.6V1351.3H679.6H680.6H681.6V1348.3H682.6H683.6H684.6V1349.4H685.6V1336H686.6V1349.4H687.6V1349.2H688.6H689.6H690.6V1352.8H691.6H692.6H693.6V1349.1H694.6H695.6H696.6V1337.5H697.6V1349.7H698.6V1346.7H699.6V1346.1H700.6V1346.4H701.6V1346.7H702.6V1345.2H703.6V1332.5H704.6H705.6V1345H706.6V1348H707.6H708.6V1351.2H709.6H710.6H711.6V1348.5H712.6H713.6H714.6V1348.8H715.6H716.6H717.6V1349.7H718.6H719.6H720.6V1350H721.6H722.6V1346.3H723.6V1346.9H724.6V1344.6H725.6V1346H726.6V1348.9H727.6V1341.5H728.6V1351H729.6V1344.3H730.6V1345.6H731.6V1345.3H732.6V1350.3H733.6H734.6H735.6V1353H736.6H737.6V1341.5H738.6V1349.3H739.6H740.6H741.6V1353.2H742.6V1347.3H743.6V1346.6H744.6V1345.9H745.6V1345.4H746.6V1347.9H747.6V1344.1H748.6V1345.8H749.6V1344.7H750.6V1352.4H751.6H752.6H753.6V1351.8H754.6H755.6H756.6V1341H757.6H758.6H759.6V1345.7H760.6V1346.5H761.6V1347.5H762.6V1353.2H763.6H764.6V1345.6H765.6V1346.6H766.6V1351.1H767.6V1358.5H768.6H769.6V1358.5Z" fill="#07992f"/>
<text x="589.1" y="1377" font-size="12.9" textLength="32.6" lengthAdjust="spacingAndGlyphs" fill="#2a2a2a" stroke="#2a2a2a" stroke-width="0.4">[0 - 9.53]</text>
<rect x="582.6" y="1415.9" width="187.4" height="2.6" fill="#bcbcbc"/>
<path d="M582.6 1415.9V1415.9H583.6H584.6H585.6V1393.5H586.6H587.6V1384.9H588.6V1389.6H589.6H590.6H591.6V1385.3H592.6H593.6H594.6V1385.6H595.6H596.6H597.6V1384.9H598.6V1385.3H599.6H600.6V1396H601.6H602.6H603.6V1384.6H604.6H605.6H606.6V1394.4H607.6H608.6H609.6V1382.3H610.6V1399.1H611.6H612.6V1403.8H613.6H614.6H615.6V1403.5H616.6H617.6H618.6V1403.5H619.6H620.6H621.6V1405.7H622.6H623.6H624.6V1401.6H625.6H626.6V1386.4H627.6V1388H628.6H629.6H630.6V1386.4H631.6H632.6V1384.9H633.6V1380.1H634.6H635.6H636.6V1380.6H637.6H638.6H639.6V1387.1H640.6V1382.9H641.6V1387.1H642.6V1389.5H643.6H644.6H645.6V1386H646.6H647.6V1377.1H648.6H649.6V1388.6H650.6V1395.4H651.6V1390.1H652.6H653.6H654.6V1393.9H655.6H656.6H657.6V1396.1H658.6H659.6H660.6V1395.9H661.6V1391.1H662.6H663.6V1382.4H664.6H665.6H666.6V1387H667.6H668.6H669.6V1387.1H670.6H671.6H672.6V1383.1H673.6H674.6H675.6V1389.8H676.6H677.6H678.6V1387H679.6H680.6V1379.9H681.6V1389.8H682.6H683.6H684.6V1390.3H685.6H686.6H687.6V1389.4H688.6H689.6H690.6V1387.9H691.6V1370.4H692.6V1390.2H693.6V1391.5H694.6H695.6H696.6V1395.7H697.6H698.6H699.6V1389.3H700.6H701.6H702.6V1391.6H703.6H704.6H705.6V1389.6H706.6V1373.9H707.6V1384.9H708.6V1390.1H709.6V1379.9H710.6H711.6V1389.5H712.6H713.6V1401.7H714.6V1403H715.6H716.6H717.6V1399.8H718.6H719.6H720.6V1394.5H721.6V1389.4H722.6V1387.3H723.6V1388H724.6H725.6H726.6V1387.2H727.6H728.6H729.6V1385.9H730.6H731.6V1406.2H732.6V1406.9H733.6H734.6H735.6V1400.1H736.6H737.6H738.6V1399.7H739.6H740.6H741.6V1405.4H742.6H743.6H744.6V1401.3H745.6H746.6V1392.9H747.6H748.6V1405.1H749.6H750.6V1401.3H751.6H752.6H753.6V1397.9H754.6V1394.8H755.6V1395.1H756.6V1401H757.6V1401.2H758.6V1392.9H759.6V1395H760.6V1395.4H761.6V1395.7H762.6V1397.6H763.6V1401.4H764.6V1405.2H765.6V1409.6H766.6V1415.9H767.6H768.6H769.6V1415.9Z" fill="#07992f"/>
<text x="589.1" y="1434.3" font-size="12.9" textLength="30.3" lengthAdjust="spacingAndGlyphs" fill="#2a2a2a" stroke="#2a2a2a" stroke-width="0.4">[0 - 316]</text>
<rect x="582.6" y="1473.2" width="187.4" height="2.6" fill="#bcbcbc"/>
<path d="M582.6 1473.2V1473.2H583.6H584.6H585.6H586.6H587.6H588.6H589.6H590.6H591.6H592.6H593.6H594.6H595.6H596.6H597.6H598.6H599.6H600.6H601.6H602.6H603.6H604.6H605.6H606.6H607.6H608.6H609.6H610.6H611.6H612.6H613.6V1470.9H614.6V1470.2H615.6V1470.1H616.6V1469H617.6V1468.9H618.6V1470.8H619.6V1470.7H620.6V1469.3H621.6V1469.2H622.6V1469.9H623.6V1469.8H624.6V1470.4H625.6V1470.3H626.6V1473.2H627.6H628.6H629.6H630.6H631.6H632.6H633.6H634.6H635.6H636.6H637.6H638.6H639.6H640.6H641.6H642.6H643.6H644.6H645.6H646.6H647.6H648.6V1467.4H649.6V1468.6H650.6V1469.7H651.6V1469.9H652.6V1470.9H653.6V1471.1H654.6V1470.7H655.6V1470.9H656.6V1471.4H657.6V1473.2H658.6H659.6H660.6H661.6H662.6H663.6H664.6V1471.2H665.6V1473.2H666.6H667.6H668.6H669.6H670.6H671.6H672.6H673.6H674.6V1464.3H675.6H676.6H677.6H678.6V1464.5H679.6H680.6V1436.2H681.6V1436.1H682.6V1434.1H683.6V1434H684.6V1435.2H685.6V1435.1H686.6V1433.4H687.6V1433.3H688.6V1434.2H689.6V1434.1H690.6V1437.3H691.6V1437.2H692.6V1473.2H693.6H694.6H695.6H696.6H697.6H698.6V1445.9H699.6H700.6H701.6V1473.2H702.6H703.6H704.6H705.6H706.6H707.6H708.6H709.6H710.6H711.6H712.6H713.6H714.6H715.6H716.6H717.6H718.6H719.6H720.6H721.6H722.6H723.6H724.6H725.6H726.6H727.6H728.6H729.6H730.6H731.6H732.6H733.6H734.6H735.6H736.6H737.6H738.6H739.6H740.6H741.6H742.6H743.6H744.6H745.6H746.6H747.6H748.6H749.6H750.6H751.6H752.6H753.6H754.6H755.6H756.6H757.6H758.6H759.6H760.6H761.6H762.6H763.6H764.6H765.6H766.6H767.6H768.6H769.6V1473.2Z" fill="#f99d03"/>
<text x="589.1" y="1491.6" font-size="12.9" textLength="30.3" lengthAdjust="spacingAndGlyphs" fill="#2a2a2a" stroke="#2a2a2a" stroke-width="0.4">[0 - 316]</text>
<rect x="582.6" y="1530.5" width="187.4" height="2.6" fill="#bcbcbc"/>
<path d="M582.6 1530.5V1530.5H583.6H584.6H585.6H586.6H587.6H588.6H589.6H590.6H591.6H592.6H593.6H594.6H595.6H596.6H597.6H598.6H599.6V1525H600.6V1524.2H601.6V1523H602.6V1523.3H603.6H604.6V1522.8H605.6H606.6V1524.6H607.6V1526.1H608.6V1530.5H609.6H610.6H611.6H612.6H613.6V1528.5H614.6V1527.2H615.6V1527.1H616.6V1528H617.6V1527.9H618.6V1526.9H619.6V1526.8H620.6V1527.3H621.6V1527.2H622.6V1527.6H623.6V1527.5H624.6V1525.6H625.6V1525.5H626.6V1530.5H627.6H628.6H629.6H630.6H631.6H632.6H633.6H634.6H635.6H636.6H637.6H638.6H639.6H640.6H641.6H642.6H643.6H644.6H645.6H646.6H647.6H648.6V1527.1H649.6V1527.3H650.6V1526.4H651.6V1526.6H652.6V1526.9H653.6V1527.1H654.6V1527.6H655.6V1527.8H656.6V1528.5H657.6V1530.5H658.6H659.6H660.6H661.6H662.6H663.6H664.6V1528.5H665.6V1530.5H666.6H667.6H668.6H669.6H670.6H671.6H672.6H673.6H674.6V1522.3H675.6V1521.9H676.6V1521.6H677.6V1521.3H678.6V1520.7H679.6V1520.3H680.6V1489.4H681.6V1486.3H682.6V1495.1H683.6V1494.7H684.6V1492.8H685.6V1492.4H686.6V1493.5H687.6V1493.1H688.6V1492.9H689.6V1493.6H690.6V1492.7H691.6V1493.4H692.6V1530.5H693.6H694.6H695.6H696.6H697.6H698.6V1501.5H699.6H700.6H701.6V1530.5H702.6H703.6H704.6H705.6H706.6H707.6H708.6H709.6H710.6H711.6H712.6H713.6H714.6H715.6H716.6H717.6H718.6H719.6H720.6H721.6H722.6H723.6H724.6H725.6H726.6H727.6H728.6H729.6H730.6H731.6H732.6H733.6H734.6H735.6H736.6H737.6H738.6H739.6H740.6H741.6H742.6H743.6H744.6H745.6H746.6H747.6H748.6H749.6H750.6H751.6H752.6H753.6H754.6H755.6H756.6H757.6H758.6H759.6H760.6H761.6H762.6H763.6H764.6H765.6H766.6H767.6H768.6H769.6V1530.5Z" fill="#f99d03"/>
<text x="589.1" y="1549" font-size="12.9" textLength="30.3" lengthAdjust="spacingAndGlyphs" fill="#2a2a2a" stroke="#2a2a2a" stroke-width="0.4">[0 - 316]</text>
<rect x="582.6" y="1587.9" width="187.4" height="2.6" fill="#bcbcbc"/>
<path d="M582.6 1587.9V1587.9H583.6H584.6H585.6H586.6H587.6H588.6H589.6H590.6H591.6H592.6H593.6H594.6H595.6H596.6H597.6H598.6H599.6H600.6V1583.3H601.6H602.6H603.6H604.6H605.6V1587.9H606.6H607.6H608.6H609.6H610.6H611.6H612.6H613.6H614.6H615.6H616.6V1584.7H617.6V1584.4H618.6V1584.5H619.6V1584.3H620.6V1583.2H621.6V1582.9H622.6V1582.6H623.6V1582.3H624.6V1583.4H625.6V1583.1H626.6V1587.9H627.6H628.6H629.6H630.6H631.6H632.6H633.6H634.6H635.6H636.6H637.6H638.6H639.6H640.6H641.6H642.6H643.6H644.6H645.6H646.6H647.6H648.6V1583.8H649.6V1583.9H650.6V1584.1H651.6V1584.2H652.6V1584H653.6V1584.2H654.6V1583.9H655.6V1584.1H656.6V1584.6H657.6V1587.9H658.6H659.6H660.6H661.6H662.6H663.6V1585.9H664.6V1587.9H665.6H666.6H667.6H668.6H669.6H670.6H671.6H672.6H673.6H674.6V1581.1H675.6H676.6V1581H677.6H678.6V1581H679.6V1552.6H680.6V1551.1H681.6V1547.8H682.6H683.6V1545.9H684.6V1546H685.6V1549H686.6V1546.6H687.6V1543.6H688.6V1546.6H689.6V1548.7H690.6V1550.5H691.6V1587.9H692.6H693.6H694.6H695.6H696.6H697.6H698.6V1561.9H699.6H700.6H701.6V1587.9H702.6H703.6H704.6H705.6H706.6H707.6H708.6H709.6H710.6H711.6H712.6H713.6H714.6H715.6H716.6H717.6H718.6H719.6H720.6H721.6H722.6H723.6H724.6H725.6H726.6H727.6H728.6H729.6H730.6H731.6H732.6H733.6H734.6H735.6H736.6H737.6H738.6H739.6H740.6H741.6H742.6H743.6H744.6H745.6H746.6H747.6H748.6H749.6H750.6H751.6H752.6H753.6H754.6H755.6H756.6H757.6H758.6H759.6H760.6H761.6H762.6H763.6H764.6H765.6H766.6H767.6H768.6H769.6V1587.9Z" fill="#f99d03"/>
<text x="770" y="860.4" font-size="13.5" text-anchor="end" stroke="#000" stroke-width="0.35">10kb</text>
<rect x="735.5" y="861.6" width="35" height="2.2" fill="#000"/>
<rect x="600" y="1607.2" width="66.8" height="3" fill="#0000aa"/>
<rect x="599" y="1601.7" width="2" height="13.3" fill="#0000aa"/>
<rect x="600.5" y="1597.4" width="5" height="22.6" fill="#0000aa"/>
<rect x="608.3" y="1601.7" width="1.7" height="13.3" fill="#0000aa"/>
<rect x="613" y="1597.4" width="8.2" height="22.6" fill="#0000aa"/>
<rect x="623" y="1597.4" width="2.8" height="22.6" fill="#0000aa"/>
<polyline points="635,1603.7 641,1608.7 635,1613.7" fill="none" stroke="#0000aa" stroke-width="2.8"/>
<rect x="649.8" y="1597.4" width="2.7" height="22.6" fill="#0000aa"/>
<rect x="654.5" y="1597.4" width="3.6" height="22.6" fill="#0000aa"/>
<rect x="664.6" y="1597.4" width="2.2" height="22.6" fill="#0000aa"/>
<rect x="674.7" y="1607.2" width="25.9" height="3" fill="#0000aa"/>
<rect x="674.7" y="1601.7" width="3.3" height="13.3" fill="#0000aa"/>
<rect x="678" y="1597.4" width="8.7" height="22.6" fill="#0000aa"/>
<rect x="687.7" y="1597.4" width="1.3" height="22.6" fill="#0000aa"/>
<rect x="690.5" y="1597.4" width="1.3" height="22.6" fill="#0000aa"/>
<rect x="698.3" y="1597.4" width="2.3" height="22.6" fill="#0000aa"/>
<rect x="719" y="1607.2" width="47" height="3" fill="#0000aa"/>
<rect x="719" y="1601.7" width="2" height="13.3" fill="#0000aa"/>
<polyline points="730.5,1603.7 736.5,1608.7 730.5,1613.7" fill="none" stroke="#0000aa" stroke-width="2.8"/>
<rect x="738.4" y="1597.4" width="1.9" height="22.6" fill="#0000aa"/>
<rect x="745.8" y="1597.4" width="1.4" height="22.6" fill="#0000aa"/>
<rect x="749.5" y="1597.4" width="1.8" height="22.6" fill="#0000aa"/>
<rect x="756" y="1597.4" width="5" height="22.6" fill="#0000aa"/>
<rect x="762" y="1597.4" width="1.5" height="22.6" fill="#0000aa"/>
<rect x="764.5" y="1597.4" width="1.5" height="22.6" fill="#0000aa"/>
<text x="631.8" y="1639.2" font-size="13.5" text-anchor="middle" stroke="#000" stroke-width="0.25">Flot1</text>
<text x="689.2" y="1639.2" font-size="13.5" text-anchor="middle" stroke="#000" stroke-width="0.25">Tubb5</text>
<text x="801.1" y="861" font-size="12.9" textLength="25.7" lengthAdjust="spacingAndGlyphs" fill="#2a2a2a" stroke="#2a2a2a" stroke-width="0.4">[0 - 80]</text>
<rect x="794.6" y="899.9" width="186.8" height="2.6" fill="#bcbcbc"/>
<path d="M794.6 903.5V900.3H795.6H796.6H797.6H798.6H799.6H800.6H801.6H802.6H803.6H804.6H805.6H806.6H807.6H808.6H809.6H810.6H811.6H812.6H813.6H814.6H815.6H816.6H817.6H818.6H819.6H820.6H821.6H822.6H823.6H824.6H825.6H826.6H827.6H828.6H829.6H830.6H831.6H832.6H833.6H834.6H835.6H836.6H837.6H838.6H839.6H840.6H841.6H842.6H843.6H844.6H845.6H846.6H847.6H848.6H849.6H850.6H851.6H852.6H853.6H854.6H855.6H856.6H857.6H858.6H859.6H860.6H861.6H862.6H863.6H864.6H865.6H866.6H867.6H868.6H869.6H870.6H871.6H872.6H873.6H874.6H875.6H876.6H877.6H878.6H879.6H880.6H881.6H882.6H883.6H884.6H885.6H886.6H887.6H888.6H889.6H890.6H891.6H892.6H893.6H894.6H895.6H896.6H897.6H898.6H899.6H900.6H901.6H902.6H903.6H904.6H905.6H906.6H907.6H908.6H909.6H910.6H911.6H912.6H913.6H914.6H915.6H916.6H917.6H918.6H919.6H920.6H921.6H922.6H923.6H924.6H925.6H926.6H927.6H928.6H929.6H930.6H931.6H932.6H933.6H934.6H935.6H936.6H937.6H938.6H939.6H940.6H941.6H942.6H943.6H944.6H945.6H946.6H947.6H948.6H949.6H950.6H951.6H952.6H953.6H954.6H955.6H956.6H957.6H958.6H959.6H960.6H961.6H962.6H963.6H964.6H965.6H966.6H967.6H968.6H969.6H970.6H971.6H972.6H973.6H974.6H975.6H976.6H977.6H978.6H979.6H980.6H981.6V903.5Z" fill="#0000b0"/>
<text x="801.1" y="918.3" font-size="12.9" textLength="25.7" lengthAdjust="spacingAndGlyphs" fill="#2a2a2a" stroke="#2a2a2a" stroke-width="0.4">[0 - 80]</text>
<rect x="794.6" y="957.2" width="186.8" height="2.6" fill="#bcbcbc"/>
<path d="M794.6 960.8V957.6H795.6H796.6H797.6H798.6H799.6H800.6H801.6H802.6H803.6H804.6H805.6H806.6H807.6H808.6H809.6H810.6H811.6H812.6H813.6H814.6H815.6H816.6H817.6H818.6H819.6H820.6H821.6H822.6H823.6H824.6H825.6H826.6H827.6H828.6H829.6H830.6H831.6H832.6H833.6H834.6H835.6H836.6H837.6H838.6H839.6H840.6V955.6H841.6V957.6H842.6H843.6H844.6H845.6H846.6H847.6H848.6H849.6H850.6H851.6H852.6H853.6H854.6H855.6H856.6H857.6H858.6H859.6H860.6H861.6H862.6H863.6H864.6H865.6H866.6H867.6H868.6H869.6H870.6H871.6H872.6H873.6H874.6H875.6H876.6H877.6H878.6H879.6H880.6H881.6H882.6H883.6H884.6H885.6H886.6H887.6H888.6H889.6H890.6H891.6H892.6H893.6H894.6H895.6H896.6H897.6H898.6H899.6H900.6H901.6H902.6H903.6H904.6H905.6H906.6H907.6H908.6H909.6H910.6H911.6H912.6H913.6H914.6H915.6H916.6H917.6H918.6H919.6H920.6H921.6H922.6H923.6H924.6H925.6H926.6H927.6H928.6H929.6H930.6H931.6H932.6H933.6H934.6H935.6H936.6H937.6H938.6H939.6H940.6H941.6H942.6H943.6H944.6H945.6H946.6H947.6H948.6H949.6H950.6H951.6H952.6H953.6H954.6H955.6H956.6H957.6H958.6H959.6H960.6H961.6H962.6H963.6H964.6H965.6H966.6H967.6H968.6H969.6H970.6H971.6H972.6H973.6H974.6H975.6H976.6H977.6H978.6H979.6H980.6H981.6V960.8Z" fill="#0000b0"/>
<text x="801.1" y="975.7" font-size="12.9" textLength="25.7" lengthAdjust="spacingAndGlyphs" fill="#2a2a2a" stroke="#2a2a2a" stroke-width="0.4">[0 - 13]</text>
<rect x="794.6" y="1014.6" width="186.8" height="2.6" fill="#bcbcbc"/>
<path d="M794.6 1014.6V1014.6H795.6H796.6H797.6H798.6H799.6H800.6H801.6H802.6V1012.6H803.6H804.6H805.6V1014.6H806.6H807.6H808.6H809.6H810.6H811.6H812.6H813.6H814.6V1013.1H815.6H816.6V1014.6H817.6H818.6H819.6H820.6H821.6H822.6H823.6H824.6H825.6H826.6H827.6H828.6H829.6H830.6H831.6V1011.9H832.6H833.6H834.6H835.6V1014.6H836.6H837.6H838.6H839.6V1007.4H840.6V1006.8H841.6H842.6V986.9H843.6H844.6V984.3H845.6V989.7H846.6V989.9H847.6H848.6V991.9H849.6V980.5H850.6V976.9H851.6H852.6V983.6H853.6V981.8H854.6V986.4H855.6V993.8H856.6V995.6H857.6H858.6V995.6H859.6V1003.1H860.6V1002.1H861.6H862.6V995.9H863.6H864.6V996.1H865.6H866.6V987.2H867.6H868.6V988.1H869.6H870.6V989.3H871.6H872.6V987.7H873.6H874.6V989.7H875.6H876.6V990.1H877.6H878.6V988.1H879.6H880.6V988.9H881.6H882.6V987.1H883.6V985.8H884.6H885.6H886.6V986H887.6H888.6V981.4H889.6V983.6H890.6V986.5H891.6H892.6V971.3H893.6V986.4H894.6V987.4H895.6H896.6V984.7H897.6V981.5H898.6V980.6H899.6H900.6V989.2H901.6V996.6H902.6V995.2H903.6V995.8H904.6V995.9H905.6V996.1H906.6V996.2H907.6H908.6V997.3H909.6H910.6V1014.6H911.6H912.6V1012.6H913.6H914.6H915.6H916.6H917.6V1014.6H918.6H919.6H920.6H921.6H922.6H923.6H924.6H925.6H926.6H927.6H928.6H929.6H930.6H931.6H932.6H933.6H934.6H935.6H936.6H937.6H938.6H939.6H940.6V1012.6H941.6H942.6H943.6H944.6V1014.6H945.6H946.6H947.6H948.6H949.6V1008.3H950.6V1008.7H951.6H952.6V1008H953.6V1003.7H954.6V1005.5H955.6H956.6V1004.2H957.6H958.6V1003.7H959.6V1000.5H960.6V999.5H961.6H962.6V998.2H963.6V998.9H964.6V999.7H965.6H966.6H967.6H968.6V1001.4H969.6H970.6V1001.5H971.6H972.6V1000.7H973.6V1008.4H974.6V1008.8H975.6H976.6V1002.4H977.6H978.6V1014.6H979.6H980.6H981.6V1014.6Z" fill="#cc0000"/>
<text x="801.1" y="1033" font-size="12.9" textLength="25.7" lengthAdjust="spacingAndGlyphs" fill="#2a2a2a" stroke="#2a2a2a" stroke-width="0.4">[0 - 13]</text>
<rect x="794.6" y="1071.9" width="186.8" height="2.6" fill="#bcbcbc"/>
<path d="M794.6 1071.9V1071.9H795.6H796.6H797.6H798.6H799.6H800.6H801.6H802.6H803.6H804.6H805.6H806.6H807.6H808.6H809.6H810.6H811.6H812.6H813.6H814.6H815.6H816.6H817.6H818.6H819.6H820.6V1069.7H821.6H822.6H823.6V1071.2H824.6H825.6H826.6H827.6H828.6H829.6V1069.7H830.6H831.6H832.6V1071H833.6H834.6H835.6V1071.9H836.6H837.6H838.6H839.6H840.6V1041.5H841.6H842.6V1040.6H843.6V1042.5H844.6V1045.8H845.6H846.6H847.6H848.6V1048H849.6V1028.5H850.6V1045.4H851.6V1045.7H852.6V1043.5H853.6V1043.8H854.6V1044.6H855.6H856.6V1042.3H857.6V1054.5H858.6V1056.8H859.6V1058H860.6V1060H861.6V1061.1H862.6V1057H863.6V1055.1H864.6V1053.1H865.6V1051.1H866.6V1049H867.6H868.6V1047.5H869.6H870.6V1046.8H871.6H872.6V1047H873.6H874.6V1048.7H875.6H876.6V1051.2H877.6H878.6V1048.3H879.6H880.6V1046.9H881.6H882.6V1042.6H883.6V1042.4H884.6V1041.5H885.6V1041.2H886.6V1042.7H887.6V1042.5H888.6V1042.6H889.6V1042.4H890.6V1042.5H891.6V1046.6H892.6V1044.6H893.6H894.6V1044.5H895.6H896.6V1045.1H897.6V1039.6H898.6V1039.9H899.6H900.6V1041H901.6V1054.8H902.6V1056.4H903.6H904.6V1057.2H905.6V1054.9H906.6V1051.2H907.6V1050H908.6V1049.1H909.6V1071.9H910.6H911.6H912.6V1068.2H913.6H914.6V1071.9H915.6H916.6H917.6H918.6H919.6H920.6H921.6H922.6H923.6H924.6H925.6H926.6H927.6H928.6H929.6H930.6H931.6H932.6H933.6H934.6H935.6H936.6H937.6H938.6H939.6H940.6H941.6H942.6V1069.9H943.6H944.6V1070H945.6H946.6V1069.9H947.6H948.6H949.6V1066H950.6V1066.3H951.6H952.6V1065.5H953.6H954.6V1066H955.6H956.6V1062.7H957.6H958.6V1062.1H959.6H960.6V1062.3H961.6H962.6V1063.1H963.6H964.6V1059.6H965.6V1057.7H966.6V1059.3H967.6H968.6V1058.5H969.6H970.6V1057.8H971.6H972.6V1059.7H973.6H974.6V1064.2H975.6V1061.7H976.6V1058.1H977.6V1057.5H978.6V1071.9H979.6H980.6H981.6V1071.9Z" fill="#cc0000"/>
<text x="801.1" y="1090.3" font-size="12.9" textLength="32.6" lengthAdjust="spacingAndGlyphs" fill="#2a2a2a" stroke="#2a2a2a" stroke-width="0.4">[0 - 3.59]</text>
<rect x="794.6" y="1129.2" width="186.8" height="2.6" fill="#bcbcbc"/>
<path d="M794.6 1129.2V1129.2H795.6H796.6V1108.1H797.6V1100.1H798.6H799.6H800.6V1111.1H801.6H802.6H803.6V1102H804.6H805.6V1091.8H806.6V1110H807.6V1111.6H808.6V1113.2H809.6V1110.5H810.6V1112.6H811.6V1114.6H812.6V1118.1H813.6H814.6H815.6V1109.4H816.6H817.6H818.6V1111.9H819.6H820.6H821.6V1100.5H822.6V1095.1H823.6V1091.8H824.6V1101.1H825.6H826.6H827.6V1095.4H828.6H829.6H830.6V1103.6H831.6H832.6H833.6V1105.8H834.6V1094.2H835.6V1105.8H836.6V1095.6H837.6V1114.6H838.6H839.6V1115.3H840.6H841.6H842.6V1118.4H843.6H844.6H845.6V1106.4H846.6H847.6H848.6V1105.7H849.6H850.6H851.6V1111.3H852.6V1121.1H853.6H854.6V1119.8H855.6H856.6H857.6V1109.2H858.6V1118.6H859.6H860.6V1117.9H861.6H862.6H863.6V1121.3H864.6H865.6H866.6V1117.2H867.6H868.6H869.6V1109.3H870.6V1109.7H871.6V1110.1H872.6V1108.6H873.6V1109.1H874.6V1109.5H875.6V1116.7H876.6H877.6H878.6V1118.1H879.6H880.6H881.6V1114.3H882.6H883.6H884.6V1118.3H885.6H886.6H887.6V1119.4H888.6H889.6H890.6V1118.2H891.6H892.6V1111.3H893.6V1105.9H894.6H895.6H896.6V1111.8H897.6H898.6H899.6V1106.1H900.6H901.6H902.6V1110.2H903.6H904.6H905.6V1105.5H906.6H907.6H908.6V1103.5H909.6H910.6H911.6V1112.9H912.6V1121.4H913.6V1091.8H914.6V1117.9H915.6H916.6H917.6V1121.2H918.6H919.6H920.6V1107.2H921.6H922.6H923.6V1106.9H924.6H925.6H926.6V1110.7H927.6H928.6H929.6V1104H930.6H931.6H932.6V1103.7H933.6H934.6H935.6V1109.4H936.6H937.6H938.6V1103H939.6V1096.2H940.6V1097.8H941.6V1111.2H942.6V1102.7H943.6H944.6V1108.7H945.6V1110.3H946.6V1112H947.6V1115.1H948.6V1116.5H949.6V1118H950.6V1117.3H951.6H952.6H953.6V1105.8H954.6H955.6H956.6V1109.9H957.6H958.6H959.6V1107.7H960.6H961.6H962.6V1110.4H963.6V1119.8H964.6H965.6V1116.5H966.6H967.6H968.6V1118.8H969.6H970.6H971.6V1115.7H972.6V1094.8H973.6H974.6V1103.9H975.6H976.6H977.6V1099.2H978.6H979.6V1129.2H980.6H981.6V1129.2Z" fill="#96ccfc"/>
<text x="801.1" y="1147.6" font-size="12.9" textLength="32.6" lengthAdjust="spacingAndGlyphs" fill="#2a2a2a" stroke="#2a2a2a" stroke-width="0.4">[0 - 3.59]</text>
<rect x="794.6" y="1186.5" width="186.8" height="2.6" fill="#bcbcbc"/>
<path d="M794.6 1186.5V1186.5H795.6H796.6V1167.1H797.6V1168.1H798.6V1168H799.6V1168H800.6V1164.5H801.6V1164.4H802.6V1164.4H803.6V1169H804.6V1168.9H805.6V1168.8H806.6V1163.7H807.6V1163.7H808.6V1163.6H809.6V1167.5H810.6V1167.4H811.6V1167.4H812.6V1169.5H813.6V1169.4H814.6V1169.4H815.6V1166.1H816.6V1166H817.6V1165.9H818.6V1168.3H819.6V1168.2H820.6V1168.2H821.6V1160.8H822.6V1160.7H823.6V1160.6H824.6V1164.2H825.6V1157.6H826.6V1151H827.6V1152H828.6H829.6H830.6V1160.5H831.6H832.6H833.6V1155.5H834.6H835.6V1167H836.6V1160.9H837.6V1161.8H838.6V1172.1H839.6V1171.3H840.6H841.6H842.6V1171.5H843.6H844.6H845.6V1175.7H846.6H847.6H848.6V1166.5H849.6V1174.5H850.6H851.6V1175.8H852.6H853.6H854.6V1172.9H855.6H856.6H857.6V1166.5H858.6V1176.4H859.6H860.6V1174.7H861.6H862.6H863.6V1173.5H864.6H865.6H866.6V1174.1H867.6H868.6H869.6V1173.1H870.6H871.6H872.6V1176.1H873.6V1166.5H874.6V1176.1H875.6V1171.3H876.6H877.6H878.6V1171.9H879.6H880.6H881.6V1174.7H882.6H883.6H884.6V1176.7H885.6H886.6H887.6V1173.7H888.6H889.6H890.6V1176.1H891.6H892.6V1169.2H893.6V1168.6H894.6H895.6H896.6V1162.2H897.6H898.6H899.6V1163.8H900.6H901.6H902.6V1165.3H903.6H904.6H905.6V1161.1H906.6H907.6H908.6V1167.7H909.6H910.6H911.6V1165.9H912.6V1159.7H913.6V1157.5H914.6V1164.8H915.6H916.6H917.6V1164.4H918.6H919.6H920.6V1166.4H921.6H922.6H923.6V1154.9H924.6H925.6H926.6V1155.4H927.6H928.6H929.6V1155.5H930.6H931.6H932.6V1157.2H933.6H934.6V1165.4H935.6V1165.5H936.6H937.6H938.6V1165.4H939.6H940.6H941.6V1164.2H942.6H943.6H944.6V1153H945.6H946.6H947.6V1162.2H948.6H949.6V1173.5H950.6V1172.7H951.6V1172.6H952.6V1172.6H953.6V1169.9H954.6V1169.9H955.6V1169.8H956.6V1166.1H957.6V1166.1H958.6V1166H959.6V1167.9H960.6V1167.8H961.6V1167.7H962.6V1167.1H963.6V1167H964.6V1167H965.6V1168.9H966.6V1168.8H967.6V1168.8H968.6V1169.3H969.6V1169.2H970.6V1169.1H971.6V1168.2H972.6V1168.1H973.6V1168H974.6V1163.2H975.6V1163.1H976.6V1163H977.6V1171.4H978.6V1171.3H979.6V1186.5H980.6H981.6V1186.5Z" fill="#96ccfc"/>
<text x="801.1" y="1205" font-size="12.9" textLength="25.7" lengthAdjust="spacingAndGlyphs" fill="#2a2a2a" stroke="#2a2a2a" stroke-width="0.4">[0 - 17]</text>
<rect x="794.6" y="1243.9" width="186.8" height="2.6" fill="#bcbcbc"/>
<path d="M794.6 1243.9V1243.9H795.6H796.6H797.6H798.6H799.6H800.6H801.6V1241.2H802.6H803.6H804.6V1242.6H805.6H806.6H807.6V1241.2H808.6H809.6H810.6V1242.9H811.6H812.6H813.6V1242H814.6H815.6H816.6V1241.9H817.6H818.6H819.6V1241.7H820.6H821.6H822.6V1242.8H823.6V1243.9H824.6H825.6H826.6H827.6H828.6H829.6H830.6H831.6H832.6V1237.2H833.6H834.6V1236.6H835.6H836.6V1237.2H837.6H838.6V1237.1H839.6V1200.4H840.6V1198.7H841.6H842.6V1205.8H843.6V1238.9H844.6V1238.8H845.6H846.6V1226.3H847.6H848.6V1230.6H849.6V1240.3H850.6V1241.2H851.6V1242H852.6V1243.9H853.6H854.6H855.6H856.6H857.6V1238.7H858.6V1236.8H859.6H860.6V1237.4H861.6H862.6V1243.9H863.6H864.6H865.6H866.6H867.6H868.6H869.6H870.6H871.6V1243.4H872.6H873.6V1241.7H874.6H875.6V1243.2H876.6H877.6V1242.7H878.6H879.6V1240.9H880.6H881.6V1241.3H882.6H883.6H884.6H885.6V1243.1H886.6H887.6V1242.4H888.6H889.6V1243.9H890.6H891.6H892.6H893.6V1233.8H894.6V1234.3H895.6H896.6V1234.9H897.6V1241.1H898.6V1238.1H899.6V1235.5H900.6V1235.7H901.6H902.6V1236.2H903.6V1241.9H904.6V1241.8H905.6H906.6V1241.9H907.6V1233H908.6V1223.6H909.6V1221.8H910.6V1223.1H911.6H912.6V1220.7H913.6V1241.8H914.6V1242H915.6H916.6H917.6H918.6V1241H919.6H920.6H921.6V1241.7H922.6H923.6H924.6V1243.3H925.6H926.6H927.6V1240.9H928.6H929.6H930.6V1243H931.6H932.6H933.6V1243.2H934.6H935.6H936.6V1243.1H937.6H938.6H939.6V1242.4H940.6H941.6H942.6V1242.7H943.6H944.6H945.6V1241.6H946.6H947.6H948.6V1242.7H949.6H950.6H951.6V1242.8H952.6H953.6H954.6V1241.2H955.6H956.6H957.6V1243H958.6H959.6H960.6V1241H961.6H962.6H963.6V1242.2H964.6H965.6H966.6V1243.3H967.6H968.6H969.6V1243.9H970.6H971.6H972.6V1237.3H973.6H974.6V1237.2H975.6H976.6V1243.9H977.6H978.6H979.6H980.6H981.6V1243.9Z" fill="#fc62fc"/>
<text x="801.1" y="1262.3" font-size="12.9" textLength="25.7" lengthAdjust="spacingAndGlyphs" fill="#2a2a2a" stroke="#2a2a2a" stroke-width="0.4">[0 - 17]</text>
<rect x="794.6" y="1301.2" width="186.8" height="2.6" fill="#bcbcbc"/>
<path d="M794.6 1301.2V1301.2H795.6H796.6H797.6H798.6H799.6H800.6H801.6H802.6H803.6H804.6H805.6V1299.2H806.6H807.6H808.6V1300.5H809.6H810.6H811.6V1299.5H812.6H813.6H814.6V1300.7H815.6H816.6H817.6V1299.9H818.6H819.6H820.6V1300.7H821.6H822.6H823.6V1298.8H824.6H825.6H826.6V1300H827.6H828.6H829.6H830.6H831.6H832.6V1300.7H833.6H834.6H835.6V1299.4H836.6V1301.2H837.6H838.6V1298.1H839.6V1271.2H840.6V1272.1H841.6H842.6V1297.4H843.6V1296H844.6V1294.6H845.6H846.6V1295.1H847.6H848.6V1299.2H849.6V1301.2H850.6H851.6H852.6H853.6H854.6H855.6V1297.6H856.6V1297.5H857.6H858.6H859.6H860.6H861.6H862.6V1301.2H863.6H864.6H865.6H866.6H867.6H868.6H869.6H870.6H871.6H872.6H873.6H874.6H875.6H876.6H877.6H878.6H879.6H880.6H881.6H882.6H883.6H884.6H885.6H886.6H887.6H888.6H889.6H890.6H891.6H892.6V1296H893.6H894.6V1296.2H895.6H896.6V1295.3H897.6V1298H898.6V1298.4H899.6H900.6V1298.2H901.6H902.6V1298.5H903.6H904.6H905.6H906.6V1298.3H907.6H908.6V1298.4H909.6H910.6V1294.8H911.6H912.6V1295H913.6V1299.2H914.6H915.6H916.6V1301H917.6H918.6H919.6V1301.2H920.6H921.6H922.6V1300.5H923.6H924.6H925.6V1300.4H926.6H927.6H928.6V1300.8H929.6H930.6H931.6V1301H932.6H933.6H934.6V1300.6H935.6H936.6H937.6V1300.9H938.6H939.6H940.6V1301.2H941.6H942.6H943.6V1300.7H944.6H945.6H946.6V1300.5H947.6H948.6H949.6V1300.3H950.6H951.6H952.6V1301.2H953.6H954.6H955.6H956.6H957.6H958.6H959.6H960.6H961.6V1301.1H962.6H963.6H964.6V1299.5H965.6H966.6H967.6V1299.7H968.6H969.6H970.6V1301.2H971.6H972.6V1294.4H973.6H974.6V1294.6H975.6H976.6V1301.2H977.6H978.6H979.6H980.6H981.6V1301.2Z" fill="#fc62fc"/>
<text x="801.1" y="1319.6" font-size="12.9" textLength="32.6" lengthAdjust="spacingAndGlyphs" fill="#2a2a2a" stroke="#2a2a2a" stroke-width="0.4">[0 - 5.84]</text>
<rect x="794.6" y="1358.5" width="186.8" height="2.6" fill="#bcbcbc"/>
<path d="M794.6 1358.5V1348.4H795.6H796.6H797.6V1348.5H798.6H799.6H800.6V1350H801.6H802.6H803.6V1350.4H804.6H805.6H806.6V1350.9H807.6H808.6H809.6V1351.5H810.6V1349.1H811.6V1347.5H812.6V1349.3H813.6V1348.2H814.6V1349H815.6V1348H816.6V1348.3H817.6V1351.7H818.6V1348.2H819.6H820.6H821.6V1348.9H822.6V1348.3H823.6V1347.9H824.6V1346.6H825.6V1346.7H826.6V1347.5H827.6V1349.7H828.6V1349.6H829.6V1352.8H830.6V1352.3H831.6V1350.7H832.6V1347.4H833.6V1347.8H834.6V1348.4H835.6V1349.7H836.6V1349.1H837.6V1335.5H838.6V1348.3H839.6V1348.3H840.6V1350.2H841.6V1349.3H842.6V1348H843.6H844.6V1347.9H845.6V1348.2H846.6V1348.3H847.6V1347H848.6V1347.9H849.6V1346.9H850.6V1346.8H851.6V1347.9H852.6V1341H853.6H854.6V1348.1H855.6V1341H856.6H857.6V1348.8H858.6V1341H859.6H860.6H861.6V1350.9H862.6H863.6V1352.3H864.6H865.6V1349.2H866.6V1349.7H867.6V1350.1H868.6V1352.5H869.6V1347.3H870.6V1348.6H871.6V1348.2H872.6V1350.1H873.6H874.6H875.6V1352.6H876.6H877.6H878.6V1344.5H879.6V1349.2H880.6H881.6V1348.7H882.6V1349.6H883.6V1349H884.6V1349.3H885.6V1350.8H886.6V1348.1H887.6V1348.8H888.6V1347.8H889.6V1348.8H890.6V1352.4H891.6H892.6H893.6V1350.2H894.6V1340.5H895.6H896.6V1347.9H897.6V1348.3H898.6V1347.8H899.6V1348.8H900.6V1353.2H901.6H902.6V1350.4H903.6H904.6H905.6V1350.5H906.6V1349.7H907.6V1348.1H908.6V1349H909.6V1348H910.6V1346.8H911.6V1350.7H912.6V1349.9H913.6V1350.9H914.6V1347.5H915.6H916.6H917.6V1346.8H918.6V1347.8H919.6V1347.1H920.6V1348.5H921.6V1347.5H922.6V1348.3H923.6V1346.5H924.6V1347.8H925.6V1348H926.6V1347.4H927.6V1346.2H928.6V1346.7H929.6V1349.4H930.6H931.6H932.6V1347.8H933.6H934.6H935.6V1347.7H936.6V1348.5H937.6V1349.1H938.6V1348.9H939.6V1344.5H940.6H941.6V1348.1H942.6V1347.8H943.6V1347.4H944.6V1344.5H945.6H946.6V1350.2H947.6V1351.2H948.6H949.6H950.6V1350.2H951.6H952.6V1349.7H953.6V1350.2H954.6V1350.7H955.6V1349.6H956.6V1350.3H957.6H958.6V1349.8H959.6V1346.5H960.6H961.6H962.6V1349.9H963.6H964.6H965.6V1349.8H966.6H967.6H968.6V1348.3H969.6V1349.2H970.6V1348.7H971.6V1348.1H972.6H973.6H974.6V1344.5H975.6V1347.5H976.6V1348H977.6V1347.1H978.6V1348H979.6V1347.9H980.6V1358.5H981.6V1358.5Z" fill="#07992f"/>
<text x="801.1" y="1377" font-size="12.9" textLength="32.6" lengthAdjust="spacingAndGlyphs" fill="#2a2a2a" stroke="#2a2a2a" stroke-width="0.4">[0 - 5.84]</text>
<rect x="794.6" y="1415.9" width="186.8" height="2.6" fill="#bcbcbc"/>
<path d="M794.6 1415.9V1415.9H795.6H796.6V1409.7H797.6V1408.7H798.6V1408H799.6V1407.2H800.6V1406.6H801.6V1407H802.6V1407.3H803.6V1408.4H804.6V1408.7H805.6V1408H806.6V1403H807.6V1407.3H808.6V1390.9H809.6V1408.3H810.6H811.6H812.6V1406.5H813.6H814.6H815.6V1408.8H816.6H817.6H818.6V1406.8H819.6H820.6H821.6V1408.5H822.6H823.6H824.6V1410.3H825.6H826.6H827.6V1408.9H828.6H829.6H830.6V1407.7H831.6H832.6H833.6V1408H834.6H835.6H836.6V1409.8H837.6V1379.3H838.6V1392.2H839.6V1395.9H840.6V1395.7H841.6V1395.4H842.6V1389.1H843.6V1388.8H844.6V1388.4H845.6V1390.6H846.6V1387.9H847.6V1385.3H848.6V1372.1H849.6V1387.1H850.6V1389.2H851.6V1395.2H852.6V1392.4H853.6V1390.1H854.6V1383.4H855.6H856.6H857.6V1390.6H858.6H859.6H860.6V1385.9H861.6H862.6V1397.9H863.6V1399.5H864.6V1399.6H865.6V1399.7H866.6V1398.4H867.6V1398.5H868.6V1398.6H869.6V1395.4H870.6V1395.6H871.6V1395.7H872.6V1401.9H873.6H874.6H875.6V1403.1H876.6H877.6H878.6V1402.9H879.6H880.6H881.6V1403H882.6H883.6H884.6V1404.6H885.6H886.6H887.6V1400.5H888.6H889.6H890.6V1402.1H891.6H892.6H893.6V1404.9H894.6V1397.8H895.6V1392.2H896.6V1393.4H897.6H898.6H899.6V1393.1H900.6H901.6H902.6V1393.3H903.6H904.6H905.6V1391.8H906.6H907.6V1402.1H908.6V1400.1H909.6H910.6H911.6V1397.7H912.6H913.6H914.6V1400H915.6H916.6H917.6V1396.8H918.6H919.6H920.6V1400H921.6V1399.8H922.6V1399.7H923.6V1396.9H924.6V1396.7H925.6V1396.5H926.6V1396H927.6V1395.8H928.6V1395.7H929.6V1399.3H930.6V1399.1H931.6V1399H932.6V1395.7H933.6V1395.6H934.6V1409.4H935.6V1410.3H936.6H937.6H938.6V1409.8H939.6H940.6H941.6V1410.3H942.6V1406.5H943.6V1402.6H944.6V1399.7H945.6V1396H946.6V1392.2H947.6V1401.5H948.6H949.6H950.6V1404H951.6H952.6H953.6V1403.1H954.6H955.6V1393.6H956.6V1405.8H957.6H958.6H959.6V1405.3H960.6H961.6H962.6V1406H963.6H964.6H965.6V1406.2H966.6H967.6H968.6V1407H969.6H970.6H971.6V1405.2H972.6H973.6V1396.7H974.6V1399.4H975.6H976.6H977.6V1395.5H978.6H979.6V1415.9H980.6H981.6V1415.9Z" fill="#07992f"/>
<text x="801.1" y="1434.3" font-size="12.9" textLength="30.3" lengthAdjust="spacingAndGlyphs" fill="#2a2a2a" stroke="#2a2a2a" stroke-width="0.4">[0 - 140]</text>
<rect x="794.6" y="1473.2" width="186.8" height="2.6" fill="#bcbcbc"/>
<path d="M794.6 1473.2V1473.2H795.6H796.6H797.6H798.6H799.6H800.6H801.6H802.6H803.6H804.6H805.6H806.6H807.6H808.6H809.6H810.6H811.6H812.6H813.6H814.6H815.6H816.6H817.6H818.6H819.6H820.6H821.6H822.6H823.6H824.6H825.6H826.6H827.6H828.6H829.6H830.6H831.6H832.6H833.6H834.6V1472.2H835.6H836.6H837.6H838.6V1473.2H839.6H840.6H841.6H842.6H843.6H844.6H845.6H846.6H847.6H848.6H849.6H850.6H851.6V1444.2H852.6H853.6V1465.2H854.6H855.6H856.6V1454.2H857.6H858.6H859.6H860.6V1473.2H861.6V1454.2H862.6H863.6V1473.2H864.6H865.6H866.6H867.6H868.6V1449.2H869.6H870.6V1473.2H871.6H872.6H873.6H874.6H875.6V1457.6H876.6H877.6H878.6H879.6H880.6H881.6V1473.2H882.6V1457.6H883.6H884.6V1473.2H885.6V1460.2H886.6H887.6V1473.2H888.6V1455.2H889.6H890.6V1473.2H891.6H892.6H893.6H894.6H895.6H896.6H897.6H898.6V1461.8H899.6H900.6V1473.2H901.6H902.6H903.6H904.6H905.6H906.6H907.6H908.6H909.6V1466.8H910.6H911.6V1473.2H912.6H913.6H914.6H915.6H916.6H917.6H918.6H919.6H920.6H921.6H922.6H923.6H924.6H925.6H926.6H927.6H928.6H929.6H930.6H931.6H932.6H933.6H934.6H935.6H936.6H937.6H938.6H939.6H940.6H941.6H942.6H943.6H944.6H945.6H946.6H947.6H948.6H949.6H950.6H951.6H952.6H953.6H954.6H955.6H956.6H957.6H958.6H959.6H960.6V1470.2H961.6H962.6V1473.2H963.6H964.6H965.6H966.6H967.6H968.6H969.6H970.6H971.6H972.6H973.6H974.6H975.6H976.6H977.6H978.6H979.6H980.6H981.6V1473.2Z" fill="#f99d03"/>
<text x="801.1" y="1491.6" font-size="12.9" textLength="30.3" lengthAdjust="spacingAndGlyphs" fill="#2a2a2a" stroke="#2a2a2a" stroke-width="0.4">[0 - 140]</text>
<rect x="794.6" y="1530.5" width="186.8" height="2.6" fill="#bcbcbc"/>
<path d="M794.6 1530.5V1530.5H795.6H796.6H797.6H798.6H799.6H800.6H801.6H802.6H803.6H804.6H805.6H806.6H807.6H808.6H809.6H810.6H811.6H812.6H813.6H814.6H815.6H816.6H817.6H818.6H819.6H820.6H821.6H822.6H823.6H824.6H825.6H826.6H827.6H828.6H829.6H830.6H831.6H832.6H833.6H834.6H835.6V1527.5H836.6H837.6H838.6H839.6V1530.5H840.6H841.6H842.6H843.6H844.6H845.6H846.6H847.6H848.6H849.6H850.6H851.6H852.6V1492.9H853.6H854.6V1520.5H855.6H856.6V1510.5H857.6H858.6H859.6H860.6V1530.5H861.6V1510.5H862.6H863.6V1530.5H864.6H865.6H866.6H867.6H868.6V1507.2H869.6H870.6V1530.5H871.6H872.6H873.6H874.6H875.6V1513.9H876.6H877.6H878.6H879.6H880.6H881.6V1530.5H882.6V1513.9H883.6H884.6V1530.5H885.6V1515.5H886.6H887.6V1530.5H888.6V1515.5H889.6H890.6V1530.5H891.6V1525.5H892.6H893.6V1530.5H894.6H895.6H896.6H897.6H898.6V1518.9H899.6H900.6V1530.5H901.6H902.6H903.6H904.6H905.6H906.6H907.6H908.6H909.6V1524H910.6H911.6V1530.5H912.6H913.6H914.6H915.6H916.6H917.6H918.6H919.6H920.6H921.6H922.6H923.6H924.6H925.6H926.6H927.6H928.6H929.6H930.6H931.6H932.6H933.6H934.6H935.6H936.6H937.6H938.6H939.6H940.6H941.6H942.6H943.6H944.6H945.6H946.6H947.6H948.6H949.6H950.6H951.6H952.6H953.6H954.6H955.6H956.6H957.6H958.6H959.6H960.6V1525.5H961.6H962.6V1530.5H963.6H964.6H965.6H966.6H967.6H968.6H969.6H970.6H971.6H972.6H973.6H974.6H975.6H976.6H977.6H978.6H979.6H980.6H981.6V1530.5Z" fill="#f99d03"/>
<text x="801.1" y="1549" font-size="12.9" textLength="30.3" lengthAdjust="spacingAndGlyphs" fill="#2a2a2a" stroke="#2a2a2a" stroke-width="0.4">[0 - 140]</text>
<rect x="794.6" y="1587.9" width="186.8" height="2.6" fill="#bcbcbc"/>
<path d="M794.6 1587.9V1587.9H795.6H796.6H797.6H798.6H799.6H800.6H801.6H802.6H803.6H804.6H805.6H806.6H807.6H808.6H809.6H810.6H811.6H812.6H813.6H814.6H815.6H816.6H817.6H818.6H819.6H820.6H821.6H822.6H823.6H824.6H825.6H826.6H827.6H828.6H829.6H830.6H831.6H832.6H833.6H834.6H835.6H836.6H837.6V1582.4H838.6H839.6H840.6H841.6V1572.2H842.6V1582.4H843.6V1587.9H844.6H845.6H846.6H847.6H848.6H849.6H850.6V1542.9H851.6H852.6H853.6V1575.9H854.6V1574.9H855.6H856.6H857.6H858.6V1587.9H859.6V1574.9H860.6V1587.9H861.6V1574.9H862.6H863.6V1587.9H864.6H865.6H866.6H867.6H868.6V1572.2H869.6H870.6V1587.9H871.6H872.6H873.6H874.6V1575.9H875.6H876.6V1587.9H877.6V1573.9H878.6V1587.9H879.6V1576.9H880.6H881.6V1587.9H882.6V1574.9H883.6V1587.9H884.6V1574.9H885.6H886.6V1587.9H887.6V1573.9H888.6V1587.9H889.6V1572.9H890.6H891.6V1587.9H892.6V1572.2H893.6H894.6V1587.9H895.6H896.6H897.6H898.6V1580.5H899.6H900.6V1587.9H901.6H902.6H903.6H904.6H905.6H906.6H907.6H908.6H909.6H910.6H911.6H912.6H913.6H914.6H915.6H916.6H917.6H918.6H919.6H920.6H921.6H922.6H923.6H924.6H925.6H926.6H927.6H928.6H929.6H930.6H931.6H932.6H933.6H934.6H935.6H936.6H937.6H938.6H939.6H940.6H941.6H942.6H943.6H944.6H945.6H946.6H947.6H948.6H949.6H950.6H951.6H952.6H953.6H954.6H955.6H956.6H957.6H958.6H959.6V1583.3H960.6H961.6H962.6V1587.9H963.6H964.6H965.6H966.6H967.6H968.6H969.6H970.6H971.6H972.6V1586.4H973.6V1587.9H974.6H975.6H976.6H977.6H978.6H979.6H980.6H981.6V1587.9Z" fill="#f99d03"/>
<text x="980.5" y="860.4" font-size="13.5" text-anchor="end" stroke="#000" stroke-width="0.35">50kb</text>
<rect x="918.8" y="861.6" width="62.2" height="2.2" fill="#000"/>
<rect x="838.4" y="1607.2" width="73.9" height="3" fill="#0000aa"/>
<rect x="837.5" y="1601.7" width="2" height="13.3" fill="#0000aa"/>
<rect x="839.5" y="1597.4" width="5.5" height="22.6" fill="#0000aa"/>
<rect x="852.3" y="1597.4" width="2.7" height="22.6" fill="#0000aa"/>
<rect x="857" y="1597.4" width="2.7" height="22.6" fill="#0000aa"/>
<rect x="860.6" y="1597.4" width="3.7" height="22.6" fill="#0000aa"/>
<rect x="868" y="1597.4" width="2.7" height="22.6" fill="#0000aa"/>
<rect x="876.3" y="1597.4" width="3.7" height="22.6" fill="#0000aa"/>
<rect x="882.7" y="1597.4" width="1.5" height="22.6" fill="#0000aa"/>
<rect x="886.5" y="1597.4" width="1.5" height="22.6" fill="#0000aa"/>
<rect x="890.4" y="1597.4" width="1.5" height="22.6" fill="#0000aa"/>
<rect x="894.2" y="1597.4" width="1.5" height="22.6" fill="#0000aa"/>
<rect x="900.3" y="1597.4" width="4.6" height="22.6" fill="#0000aa"/>
<rect x="909.5" y="1597.4" width="2.8" height="22.6" fill="#0000aa"/>
<rect x="958.4" y="1607.2" width="20.3" height="3" fill="#0000aa"/>
<rect x="958.4" y="1601.7" width="2.6" height="13.3" fill="#0000aa"/>
<rect x="960.5" y="1597.4" width="2.5" height="22.6" fill="#0000aa"/>
<rect x="965.8" y="1597.4" width="2.7" height="22.6" fill="#0000aa"/>
<rect x="969.5" y="1597.4" width="3.7" height="22.6" fill="#0000aa"/>
<rect x="976" y="1597.4" width="2.7" height="22.6" fill="#0000aa"/>
<text x="874.5" y="1639.2" font-size="13.5" text-anchor="middle" stroke="#000" stroke-width="0.25">Tubb6</text>
<text x="1009" y="861" font-size="12.9" textLength="25.7" lengthAdjust="spacingAndGlyphs" fill="#2a2a2a" stroke="#2a2a2a" stroke-width="0.4">[0 - 80]</text>
<rect x="1002.5" y="899.9" width="188" height="2.6" fill="#bcbcbc"/>
<path d="M1002.5 903.5V900.3H1003.5H1004.5H1005.5H1006.5H1007.5H1008.5H1009.5H1010.5H1011.5H1012.5H1013.5H1014.5H1015.5H1016.5H1017.5H1018.5H1019.5H1020.5H1021.5H1022.5H1023.5H1024.5H1025.5H1026.5H1027.5H1028.5H1029.5H1030.5H1031.5H1032.5H1033.5H1034.5H1035.5H1036.5H1037.5H1038.5H1039.5H1040.5H1041.5H1042.5H1043.5H1044.5H1045.5H1046.5H1047.5H1048.5H1049.5H1050.5H1051.5H1052.5H1053.5H1054.5H1055.5H1056.5H1057.5H1058.5V897.3H1059.5H1060.5V900.3H1061.5H1062.5H1063.5H1064.5H1065.5H1066.5H1067.5H1068.5H1069.5H1070.5H1071.5H1072.5H1073.5H1074.5H1075.5H1076.5H1077.5H1078.5H1079.5H1080.5H1081.5H1082.5H1083.5H1084.5H1085.5H1086.5H1087.5H1088.5H1089.5H1090.5H1091.5H1092.5H1093.5H1094.5H1095.5H1096.5H1097.5H1098.5H1099.5H1100.5H1101.5H1102.5H1103.5H1104.5H1105.5H1106.5H1107.5H1108.5H1109.5H1110.5H1111.5H1112.5H1113.5H1114.5H1115.5H1116.5H1117.5H1118.5H1119.5H1120.5H1121.5H1122.5H1123.5H1124.5H1125.5H1126.5H1127.5H1128.5H1129.5H1130.5H1131.5H1132.5H1133.5H1134.5H1135.5H1136.5H1137.5H1138.5H1139.5H1140.5H1141.5H1142.5H1143.5H1144.5H1145.5H1146.5H1147.5H1148.5H1149.5H1150.5H1151.5H1152.5H1153.5H1154.5H1155.5H1156.5H1157.5H1158.5H1159.5H1160.5H1161.5H1162.5H1163.5H1164.5H1165.5H1166.5H1167.5H1168.5H1169.5H1170.5H1171.5H1172.5H1173.5H1174.5H1175.5H1176.5H1177.5H1178.5H1179.5H1180.5H1181.5H1182.5H1183.5H1184.5H1185.5H1186.5H1187.5H1188.5H1189.5H1190.5V903.5Z" fill="#0000b0"/>
<text x="1009" y="918.3" font-size="12.9" textLength="25.7" lengthAdjust="spacingAndGlyphs" fill="#2a2a2a" stroke="#2a2a2a" stroke-width="0.4">[0 - 80]</text>
<rect x="1002.5" y="957.2" width="188" height="2.6" fill="#bcbcbc"/>
<path d="M1002.5 960.8V957.6H1003.5H1004.5H1005.5H1006.5H1007.5H1008.5H1009.5H1010.5H1011.5H1012.5H1013.5H1014.5H1015.5H1016.5H1017.5H1018.5H1019.5H1020.5H1021.5H1022.5H1023.5H1024.5H1025.5H1026.5H1027.5H1028.5H1029.5H1030.5H1031.5H1032.5H1033.5H1034.5H1035.5H1036.5H1037.5H1038.5H1039.5H1040.5H1041.5H1042.5H1043.5H1044.5H1045.5H1046.5H1047.5H1048.5H1049.5H1050.5V955.4H1051.5V955.3H1052.5V954.6H1053.5V954.5H1054.5H1055.5V954.4H1056.5V953.7H1057.5V953.6H1058.5V952.1H1059.5V954.5H1060.5V953.6H1061.5H1062.5V953.1H1063.5H1064.5V955H1065.5H1066.5V953.5H1067.5H1068.5H1069.5H1070.5V952.4H1071.5H1072.5V952.9H1073.5V952.9H1074.5V954.8H1075.5H1076.5V952.8H1077.5V952.9H1078.5V954.8H1079.5H1080.5V954.3H1081.5V954.3H1082.5V953.6H1083.5V953.7H1084.5V953.4H1085.5V953.5H1086.5V955.5H1087.5H1088.5V954.3H1089.5V957.6H1090.5H1091.5H1092.5H1093.5H1094.5H1095.5H1096.5H1097.5H1098.5H1099.5H1100.5H1101.5H1102.5H1103.5H1104.5H1105.5H1106.5H1107.5H1108.5H1109.5H1110.5H1111.5H1112.5H1113.5H1114.5H1115.5H1116.5H1117.5H1118.5H1119.5H1120.5H1121.5H1122.5H1123.5H1124.5H1125.5H1126.5H1127.5H1128.5H1129.5H1130.5H1131.5H1132.5H1133.5H1134.5H1135.5H1136.5H1137.5H1138.5H1139.5H1140.5H1141.5H1142.5H1143.5H1144.5H1145.5H1146.5H1147.5H1148.5H1149.5H1150.5H1151.5H1152.5H1153.5H1154.5H1155.5H1156.5H1157.5H1158.5H1159.5H1160.5H1161.5H1162.5H1163.5H1164.5H1165.5H1166.5H1167.5H1168.5H1169.5H1170.5H1171.5H1172.5H1173.5H1174.5H1175.5H1176.5H1177.5H1178.5H1179.5H1180.5H1181.5H1182.5H1183.5H1184.5H1185.5H1186.5H1187.5H1188.5H1189.5H1190.5V960.8Z" fill="#0000b0"/>
<text x="1009" y="975.7" font-size="12.9" textLength="25.7" lengthAdjust="spacingAndGlyphs" fill="#2a2a2a" stroke="#2a2a2a" stroke-width="0.4">[0 - 19]</text>
<rect x="1002.5" y="1014.6" width="188" height="2.6" fill="#bcbcbc"/>
<path d="M1002.5 1014.6V1014.6H1003.5H1004.5H1005.5V989.6H1006.5V992H1007.5V1000.7H1008.5V999.7H1009.5V999.8H1010.5V1001.9H1011.5V1002H1012.5V1001.1H1013.5V1001.2H1014.5V997.8H1015.5V984.7H1016.5V987.9H1017.5V1003.1H1018.5V1003.1H1019.5V1000.6H1020.5V991.8H1021.5V988.7H1022.5V986H1023.5H1024.5V995.3H1025.5V1005.6H1026.5V1001.5H1027.5H1028.5V1001.8H1029.5H1030.5V1001.5H1031.5V990.9H1032.5V995.2H1033.5H1034.5V990.5H1035.5H1036.5V991.5H1037.5H1038.5V990.2H1039.5H1040.5V993.7H1041.5H1042.5V994.5H1043.5V1004.7H1044.5V1002.7H1045.5H1046.5V1002.5H1047.5H1048.5V1004.3H1049.5H1050.5V996.3H1051.5H1052.5V997.1H1053.5V999.5H1054.5V1000H1055.5H1056.5V1001.7H1057.5H1058.5V994.7H1059.5V994H1060.5V991.5H1061.5V990.8H1062.5V985H1063.5V981.8H1064.5V983.4H1065.5V980.7H1066.5V973.1H1067.5V972.6H1068.5V983.2H1069.5V982.8H1070.5V968.9H1071.5V979.3H1072.5V981.2H1073.5H1074.5V983H1075.5V998.1H1076.5V1005.4H1077.5V1006.3H1078.5V1008H1079.5V1010.8H1080.5V1014.6H1081.5H1082.5H1083.5H1084.5H1085.5H1086.5H1087.5H1088.5H1089.5H1090.5H1091.5H1092.5V1010.7H1093.5V1010.6H1094.5V1010.9H1095.5V1010.7H1096.5V1009.2H1097.5V1009H1098.5V1009.9H1099.5V1009.7H1100.5V1009.4H1101.5V1009.2H1102.5V1009.8H1103.5V1009.7H1104.5V1007.5H1105.5V1007.3H1106.5V1005.5H1107.5H1108.5V1007.7H1109.5H1110.5V1007.8H1111.5H1112.5V1003.8H1113.5H1114.5V1008.2H1115.5H1116.5V1005.2H1117.5H1118.5V1007.5H1119.5H1120.5V1006.2H1121.5H1122.5V1006.1H1123.5V1004.2H1124.5V1001.8H1125.5H1126.5V1003.3H1127.5H1128.5V1002.7H1129.5H1130.5V1006.3H1131.5H1132.5V1003H1133.5H1134.5V1006.5H1135.5H1136.5V1000.6H1137.5H1138.5V1000.2H1139.5V1004.7H1140.5V1001.8H1141.5H1142.5V1003.1H1143.5H1144.5V1005.6H1145.5H1146.5V1006.7H1147.5H1148.5V1005.3H1149.5H1150.5V1005.1H1151.5H1152.5V1003.1H1153.5H1154.5V1002.4H1155.5H1156.5V1001.9H1157.5H1158.5V1000.7H1159.5V999.3H1160.5V1005.7H1161.5H1162.5V1006H1163.5H1164.5V1005.3H1165.5H1166.5V1005.1H1167.5H1168.5H1169.5H1170.5V1002.1H1171.5H1172.5V1004.4H1173.5H1174.5V1004.7H1175.5H1176.5V999.3H1177.5V1004.3H1178.5V1005.8H1179.5H1180.5V1003.6H1181.5V999.3H1182.5V1004.9H1183.5H1184.5V1003.5H1185.5H1186.5V1004.1H1187.5H1188.5V1014.6H1189.5H1190.5V1014.6Z" fill="#cc0000"/>
<text x="1009" y="1033" font-size="12.9" textLength="25.7" lengthAdjust="spacingAndGlyphs" fill="#2a2a2a" stroke="#2a2a2a" stroke-width="0.4">[0 - 19]</text>
<rect x="1002.5" y="1071.9" width="188" height="2.6" fill="#bcbcbc"/>
<path d="M1002.5 1071.9V1071.9H1003.5H1004.5H1005.5V1041.7H1006.5V1047.4H1007.5H1008.5V1058H1009.5H1010.5V1056.7H1011.5H1012.5V1055.1H1013.5H1014.5V1053.7H1015.5H1016.5V1057.3H1017.5H1018.5V1057.9H1019.5H1020.5V1055.3H1021.5H1022.5V1053.8H1023.5V1043.7H1024.5V1047.2H1025.5V1057.9H1026.5V1057.4H1027.5V1057.4H1028.5V1054H1029.5V1053.9H1030.5V1055.7H1031.5V1055.7H1032.5V1053.4H1033.5V1053.3H1034.5V1057.3H1035.5V1057.2H1036.5V1053.7H1037.5V1053.6H1038.5V1053.2H1039.5V1053.2H1040.5V1057.1H1041.5V1057.1H1042.5V1055.6H1043.5V1051.9H1044.5V1059.5H1045.5H1046.5V1058H1047.5H1048.5V1059.5H1049.5H1050.5V1053H1051.5H1052.5V1055.6H1053.5V1054.4H1054.5V1049.4H1055.5H1056.5V1046.8H1057.5H1058.5V1049H1059.5V1037.4H1060.5V1033.3H1061.5H1062.5V1036.4H1063.5H1064.5V1037.9H1065.5V1035.6H1066.5V1037.7H1067.5V1037.4H1068.5V1032.1H1069.5V1031.7H1070.5V1030.1H1071.5V1027.2H1072.5V1043H1073.5H1074.5V1038H1075.5H1076.5V1056.4H1077.5H1078.5H1079.5V1064.1H1080.5V1071.9H1081.5H1082.5H1083.5H1084.5H1085.5H1086.5H1087.5H1088.5V1068.2H1089.5H1090.5H1091.5H1092.5H1093.5V1058.9H1094.5V1071.9H1095.5V1065.8H1096.5V1067.8H1097.5H1098.5V1067.6H1099.5H1100.5V1065.6H1101.5H1102.5V1067.6H1103.5H1104.5V1065.8H1105.5H1106.5V1067.1H1107.5H1108.5H1109.5H1110.5V1065.8H1111.5H1112.5V1065.2H1113.5H1114.5V1066.5H1115.5H1116.5V1068.4H1117.5H1118.5V1065.1H1119.5H1120.5V1066.7H1121.5H1122.5V1068.2H1123.5H1124.5V1066.8H1125.5H1126.5V1065H1127.5H1128.5V1066H1129.5H1130.5V1067H1131.5H1132.5V1066H1133.5H1134.5V1068.3H1135.5H1136.5V1065.7H1137.5V1058.1H1138.5H1139.5V1067.3H1140.5V1065.2H1141.5H1142.5V1067.7H1143.5H1144.5V1066.2H1145.5H1146.5V1066.3H1147.5H1148.5V1066H1149.5H1150.5V1065.6H1151.5H1152.5V1067.8H1153.5H1154.5V1065H1155.5H1156.5V1065H1157.5V1059.9H1158.5H1159.5V1067.6H1160.5V1066.7H1161.5H1162.5V1059.9H1163.5H1164.5V1066.1H1165.5H1166.5V1066.5H1167.5H1168.5V1065.6H1169.5H1170.5V1065.8H1171.5H1172.5V1065.2H1173.5H1174.5V1058.9H1175.5V1067.3H1176.5V1064.9H1177.5H1178.5V1058.9H1179.5V1064.1H1180.5V1066.1H1181.5H1182.5V1058.9H1183.5H1184.5V1067.5H1185.5H1186.5V1064.8H1187.5H1188.5V1071.9H1189.5H1190.5V1071.9Z" fill="#cc0000"/>
<text x="1009" y="1090.3" font-size="12.9" textLength="32.6" lengthAdjust="spacingAndGlyphs" fill="#2a2a2a" stroke="#2a2a2a" stroke-width="0.4">[0 - 3.30]</text>
<rect x="1002.5" y="1129.2" width="188" height="2.6" fill="#bcbcbc"/>
<path d="M1002.5 1129.2V1129.2H1003.5H1004.5V1118.9H1005.5V1107.2H1006.5V1121.6H1007.5H1008.5V1116.6H1009.5H1010.5H1011.5V1119.1H1012.5H1013.5V1112.2H1014.5V1117.2H1015.5H1016.5H1017.5V1121.6H1018.5H1019.5H1020.5V1117.4H1021.5H1022.5H1023.5V1122.1H1024.5H1025.5H1026.5V1122.4H1027.5H1028.5H1029.5V1117.4H1030.5H1031.5H1032.5V1117.2H1033.5H1034.5H1035.5V1116.6H1036.5V1107.2H1037.5H1038.5V1116.5H1039.5H1040.5H1041.5V1119.7H1042.5H1043.5H1044.5V1120.9H1045.5H1046.5H1047.5V1121.5H1048.5V1107.2H1049.5H1050.5V1118.9H1051.5H1052.5H1053.5V1117.6H1054.5H1055.5H1056.5V1116.1H1057.5H1058.5H1059.5V1122H1060.5H1061.5H1062.5V1120.6H1063.5H1064.5H1065.5V1119.8H1066.5H1067.5H1068.5V1121.6H1069.5H1070.5H1071.5V1120.9H1072.5H1073.5V1107.2H1074.5V1117H1075.5H1076.5H1077.5V1116.9H1078.5H1079.5H1080.5V1121.8H1081.5H1082.5H1083.5V1125.7H1084.5H1085.5V1104.4H1086.5V1095.2H1087.5V1106.5H1088.5H1089.5V1099.9H1090.5H1091.5H1092.5V1101.5H1093.5H1094.5V1091.2H1095.5H1096.5V1095.5H1097.5H1098.5V1091.2H1099.5H1100.5V1105.1H1101.5V1102.4H1102.5H1103.5V1112.9H1104.5V1115.2H1105.5H1106.5H1107.5V1109.7H1108.5H1109.5H1110.5V1108.8H1111.5H1112.5H1113.5V1116.3H1114.5H1115.5H1116.5V1114H1117.5H1118.5H1119.5V1112.3H1120.5H1121.5V1108.3H1122.5V1095.2H1123.5V1107.6H1124.5H1125.5V1105.4H1126.5H1127.5H1128.5V1113.8H1129.5H1130.5H1131.5V1105.2H1132.5H1133.5H1134.5V1112.8H1135.5H1136.5H1137.5V1106.8H1138.5H1139.5H1140.5V1102.2H1141.5H1142.5H1143.5V1103.8H1144.5H1145.5H1146.5V1113.9H1147.5H1148.5H1149.5V1112.9H1150.5H1151.5H1152.5V1083.4H1153.5H1154.5V1097H1155.5V1096.7H1156.5V1092.6H1157.5H1158.5V1107.6H1159.5H1160.5H1161.5V1094.7H1162.5H1163.5H1164.5V1083.4H1165.5H1166.5V1096.5H1167.5V1091.2H1168.5H1169.5V1096.5H1170.5V1112.8H1171.5H1172.5H1173.5V1104.1H1174.5H1175.5H1176.5V1115.5H1177.5H1178.5H1179.5V1110.3H1180.5H1181.5H1182.5V1107H1183.5H1184.5H1185.5V1114H1186.5V1103.2H1187.5V1114H1188.5V1129.2H1189.5H1190.5V1129.2Z" fill="#96ccfc"/>
<text x="1009" y="1147.6" font-size="12.9" textLength="32.6" lengthAdjust="spacingAndGlyphs" fill="#2a2a2a" stroke="#2a2a2a" stroke-width="0.4">[0 - 3.30]</text>
<rect x="1002.5" y="1186.5" width="188" height="2.6" fill="#bcbcbc"/>
<path d="M1002.5 1186.5V1186.5H1003.5H1004.5V1176.8H1005.5V1175.5H1006.5H1007.5V1172.5H1008.5V1175.5H1009.5H1010.5H1011.5V1179.9H1012.5H1013.5V1172.5H1014.5V1175.6H1015.5H1016.5H1017.5V1178.5H1018.5H1019.5H1020.5V1178.6H1021.5V1172.5H1022.5H1023.5V1179.7H1024.5H1025.5H1026.5V1180.2H1027.5H1028.5H1029.5V1179.1H1030.5H1031.5H1032.5V1177.8H1033.5H1034.5H1035.5V1178.9H1036.5V1172.5H1037.5V1178.9H1038.5V1180.3H1039.5H1040.5H1041.5V1175.7H1042.5H1043.5H1044.5V1172.5H1045.5V1177.6H1046.5H1047.5V1179.7H1048.5H1049.5H1050.5V1177.2H1051.5H1052.5H1053.5V1178.6H1054.5H1055.5H1056.5V1176.7H1057.5H1058.5H1059.5V1179.9H1060.5H1061.5H1062.5V1176.6H1063.5V1172.5H1064.5H1065.5V1177.5H1066.5H1067.5H1068.5V1176H1069.5H1070.5H1071.5V1166.5H1072.5V1177.6H1073.5H1074.5V1177.7H1075.5H1076.5H1077.5V1177.1H1078.5H1079.5V1182.8H1080.5H1081.5H1082.5H1083.5V1183.4H1084.5H1085.5H1086.5V1182.2H1087.5V1157H1088.5V1154.5H1089.5V1158.5H1090.5H1091.5H1092.5V1156.5H1093.5V1160.9H1094.5H1095.5V1168.8H1096.5H1097.5H1098.5V1156.5H1099.5H1100.5V1161.1H1101.5V1155.4H1102.5H1103.5H1104.5V1158.7H1105.5H1106.5H1107.5V1168.6H1108.5H1109.5H1110.5V1171.9H1111.5H1112.5H1113.5V1163.8H1114.5H1115.5H1116.5V1171H1117.5H1118.5H1119.5V1173.2H1120.5H1121.5H1122.5V1168.8H1123.5H1124.5H1125.5V1163.4H1126.5H1127.5H1128.5V1170.4H1129.5H1130.5H1131.5V1166H1132.5H1133.5H1134.5V1168.9H1135.5H1136.5H1137.5V1171.4H1138.5H1139.5H1140.5V1170.9H1141.5H1142.5H1143.5V1173.9H1144.5H1145.5H1146.5V1171.4H1147.5H1148.5H1149.5V1170.4H1150.5H1151.5H1152.5V1153.8H1153.5H1154.5V1173.9H1155.5V1171.4H1156.5H1157.5H1158.5V1170.1H1159.5H1160.5H1161.5V1166.2H1162.5H1163.5V1158H1164.5H1165.5V1173.2H1166.5H1167.5V1168.7H1168.5H1169.5H1170.5V1167.1H1171.5H1172.5H1173.5V1168.9H1174.5H1175.5H1176.5V1165.9H1177.5H1178.5H1179.5V1173.3H1180.5H1181.5H1182.5V1165.3H1183.5H1184.5H1185.5V1169H1186.5H1187.5H1188.5V1186.5H1189.5H1190.5V1186.5Z" fill="#96ccfc"/>
<text x="1009" y="1205" font-size="12.9" textLength="25.7" lengthAdjust="spacingAndGlyphs" fill="#2a2a2a" stroke="#2a2a2a" stroke-width="0.4">[0 - 22]</text>
<rect x="1002.5" y="1243.9" width="188" height="2.6" fill="#bcbcbc"/>
<path d="M1002.5 1243.9V1243.9H1003.5H1004.5V1242.8H1005.5H1006.5V1241.7H1007.5H1008.5V1242.8H1009.5H1010.5V1241.3H1011.5H1012.5V1240.3H1013.5H1014.5V1242.9H1015.5H1016.5V1241H1017.5H1018.5V1239.5H1019.5H1020.5V1239.2H1021.5H1022.5V1242.2H1023.5H1024.5V1241.9H1025.5H1026.5V1240.8H1027.5H1028.5V1240.7H1029.5H1030.5V1239.6H1031.5H1032.5V1239.7H1033.5H1034.5V1242.3H1035.5H1036.5V1242.6H1037.5H1038.5V1241.2H1039.5H1040.5V1241.3H1041.5H1042.5V1241.7H1043.5H1044.5V1242.4H1045.5H1046.5V1233.5H1047.5H1048.5V1242.8H1049.5H1050.5V1241.4H1051.5H1052.5V1241.7H1053.5H1054.5V1236.9H1055.5H1056.5H1057.5V1242.8H1058.5V1241.3H1059.5V1236.9H1060.5H1061.5H1062.5V1241.9H1063.5H1064.5H1065.5V1236.9H1066.5H1067.5H1068.5V1240.7H1069.5H1070.5V1243.9H1071.5V1227.6H1072.5V1227.5H1073.5V1215.9H1074.5V1211.2H1075.5V1214.3H1076.5V1214.7H1077.5V1213.2H1078.5V1213.9H1079.5V1212.4H1080.5V1211H1081.5V1212.6H1082.5V1213.9H1083.5V1212.4H1084.5H1085.5V1212.6H1086.5V1213.9H1087.5V1214.2H1088.5V1212.4H1089.5V1241.6H1090.5H1091.5V1242.6H1092.5V1236.9H1093.5H1094.5V1239.4H1095.5V1240.5H1096.5H1097.5V1240.1H1098.5V1235.9H1099.5H1100.5V1242.5H1101.5V1241.7H1102.5H1103.5V1242.1H1104.5H1105.5V1239.1H1106.5H1107.5V1233.9H1108.5H1109.5V1242.6H1110.5H1111.5V1242.8H1112.5H1113.5V1240.9H1114.5H1115.5V1242.6H1116.5H1117.5V1241.4H1118.5V1232.7H1119.5H1120.5V1240.6H1121.5V1240H1122.5H1123.5V1242.1H1124.5H1125.5V1242.6H1126.5H1127.5V1240.9H1128.5H1129.5V1242.3H1130.5H1131.5V1242.8H1132.5H1133.5V1240.7H1134.5H1135.5V1242.6H1136.5H1137.5V1242.4H1138.5H1139.5H1140.5H1141.5V1240H1142.5H1143.5V1241.3H1144.5H1145.5V1241.4H1146.5H1147.5V1241.8H1148.5H1149.5V1239.3H1150.5H1151.5V1242.9H1152.5H1153.5V1239.5H1154.5H1155.5V1239.3H1156.5H1157.5V1241.1H1158.5H1159.5V1239.6H1160.5H1161.5V1240.5H1162.5H1163.5V1241.2H1164.5H1165.5V1242.8H1166.5H1167.5V1240H1168.5H1169.5V1240.2H1170.5H1171.5V1241.4H1172.5H1173.5V1241.1H1174.5H1175.5V1242.3H1176.5H1177.5V1241.7H1178.5H1179.5V1241.1H1180.5V1235.9H1181.5V1242.9H1182.5H1183.5V1242.5H1184.5H1185.5V1242.7H1186.5H1187.5V1242.8H1188.5V1243.9H1189.5H1190.5V1243.9Z" fill="#fc62fc"/>
<text x="1009" y="1262.3" font-size="12.9" textLength="25.7" lengthAdjust="spacingAndGlyphs" fill="#2a2a2a" stroke="#2a2a2a" stroke-width="0.4">[0 - 22]</text>
<rect x="1002.5" y="1301.2" width="188" height="2.6" fill="#bcbcbc"/>
<path d="M1002.5 1301.2V1301.2H1003.5H1004.5V1297.7H1005.5H1006.5V1300H1007.5H1008.5V1297.5H1009.5H1010.5V1300.1H1011.5H1012.5V1297.4H1013.5H1014.5V1300.1H1015.5H1016.5H1017.5H1018.5V1298H1019.5H1020.5V1300.2H1021.5H1022.5V1299.7H1023.5H1024.5V1299.9H1025.5H1026.5V1299.9H1027.5H1028.5V1299.1H1029.5H1030.5V1299.9H1031.5H1032.5V1300.2H1033.5H1034.5V1297.2H1035.5H1036.5V1300.2H1037.5H1038.5V1298H1039.5H1040.5V1297.6H1041.5H1042.5V1298.6H1043.5H1044.5V1299.8H1045.5H1046.5V1299.3H1047.5H1048.5V1299.8H1049.5H1050.5V1297.5H1051.5H1052.5V1299.7H1053.5H1054.5V1300.1H1055.5H1056.5V1299.7H1057.5H1058.5V1298.1H1059.5H1060.5V1299.2H1061.5H1062.5V1297.4H1063.5H1064.5V1300.1H1065.5H1066.5V1300H1067.5H1068.5V1298.3H1069.5H1070.5V1301.2H1071.5V1265.8H1072.5V1265.9H1073.5H1074.5V1255.2H1075.5H1076.5V1280.9H1077.5H1078.5V1281.2H1079.5V1282H1080.5V1281.6H1081.5H1082.5V1281.9H1083.5H1084.5H1085.5H1086.5V1281.7H1087.5H1088.5H1089.5V1298.3H1090.5H1091.5H1092.5V1297.2H1093.5H1094.5V1297.7H1095.5H1096.5V1299H1097.5H1098.5V1297.5H1099.5H1100.5V1299.5H1101.5H1102.5V1300.2H1103.5H1104.5H1105.5H1106.5V1298.9H1107.5H1108.5V1300.2H1109.5H1110.5V1300H1111.5H1112.5V1298.1H1113.5H1114.5V1298.8H1115.5H1116.5V1300.2H1117.5H1118.5V1298H1119.5H1120.5V1300.1H1121.5H1122.5V1298.7H1123.5H1124.5V1298.6H1125.5H1126.5V1294.2H1127.5H1128.5V1297.8H1129.5H1130.5V1297.5H1131.5H1132.5V1298.2H1133.5H1134.5V1299.9H1135.5H1136.5H1137.5H1138.5V1298H1139.5H1140.5V1297.3H1141.5H1142.5V1298.4H1143.5H1144.5V1300.1H1145.5H1146.5V1298.4H1147.5H1148.5V1299.6H1149.5H1150.5V1299.1H1151.5H1152.5V1297.6H1153.5H1154.5V1299.8H1155.5H1156.5V1298.6H1157.5H1158.5V1299.9H1159.5H1160.5V1300.1H1161.5H1162.5V1300.1H1163.5V1294.4H1164.5V1296.3H1165.5H1166.5V1294.6H1167.5H1168.5V1296H1169.5H1170.5V1296.7H1171.5H1172.5V1296.4H1173.5H1174.5V1296.7H1175.5H1176.5V1296.3H1177.5H1178.5V1295.4H1179.5H1180.5V1294.4H1181.5H1182.5V1294.6H1183.5H1184.5V1296.7H1185.5H1186.5V1297.3H1187.5H1188.5V1301.2H1189.5H1190.5V1301.2Z" fill="#fc62fc"/>
<text x="1009" y="1319.6" font-size="12.9" textLength="32.6" lengthAdjust="spacingAndGlyphs" fill="#2a2a2a" stroke="#2a2a2a" stroke-width="0.4">[0 - 8.33]</text>
<rect x="1002.5" y="1358.5" width="188" height="2.6" fill="#bcbcbc"/>
<path d="M1002.5 1358.5V1349.3H1003.5H1004.5H1005.5V1350.8H1006.5H1007.5H1008.5V1349.1H1009.5H1010.5V1348.7H1011.5V1348.5H1012.5V1348.5H1013.5H1014.5H1015.5V1352.1H1016.5H1017.5V1351.7H1018.5H1019.5V1333.5H1020.5V1353.9H1021.5V1350.5H1022.5V1333.5H1023.5H1024.5V1347.4H1025.5V1345.8H1026.5V1354H1027.5H1028.5H1029.5V1349.6H1030.5V1349H1031.5V1348.6H1032.5V1340.5H1033.5V1349.6H1034.5V1352.3H1035.5V1346.3H1036.5V1346.5H1037.5V1347.7H1038.5V1348.1H1039.5V1328.5H1040.5V1346.7H1041.5V1345.7H1042.5V1346.4H1043.5V1345.5H1044.5V1348.5H1045.5V1348.8H1046.5V1349.1H1047.5V1350.9H1048.5V1349.9H1049.5V1351.9H1050.5V1350.8H1051.5V1348.5H1052.5V1348.7H1053.5V1333.5H1054.5H1055.5V1348.1H1056.5V1352.8H1057.5V1328.5H1058.5H1059.5V1345.9H1060.5V1336.5H1061.5V1347.8H1062.5V1349.8H1063.5V1350H1064.5H1065.5V1347.8H1066.5V1348.3H1067.5V1347.6H1068.5V1346.1H1069.5V1346.7H1070.5V1346H1071.5V1347.3H1072.5V1346.5H1073.5V1347.6H1074.5V1347.4H1075.5V1333.5H1076.5V1353.8H1077.5V1348.4H1078.5H1079.5H1080.5V1348.8H1081.5V1350.4H1082.5V1348.9H1083.5V1345.5H1084.5H1085.5V1347.1H1086.5V1347.8H1087.5V1348.8H1088.5H1089.5V1340.5H1090.5H1091.5V1349.6H1092.5V1348H1093.5V1346.2H1094.5V1340.5H1095.5H1096.5V1353H1097.5H1098.5V1350.4H1099.5V1340.5H1100.5H1101.5V1353.3H1102.5H1103.5V1328.5H1104.5V1353.6H1105.5H1106.5V1345.4H1107.5V1345.3H1108.5V1345.3H1109.5V1348.9H1110.5V1349.4H1111.5H1112.5H1113.5V1347.1H1114.5V1345.2H1115.5V1347.2H1116.5V1340.5H1117.5H1118.5V1349.9H1119.5V1347.7H1120.5V1347.7H1121.5V1347.2H1122.5V1340.5H1123.5H1124.5V1348.2H1125.5V1347.1H1126.5V1347.5H1127.5V1347.7H1128.5V1350.5H1129.5V1340.5H1130.5H1131.5V1351.1H1132.5V1340.5H1133.5H1134.5V1350.3H1135.5V1350.2H1136.5V1353.4H1137.5V1351.2H1138.5H1139.5H1140.5V1348.6H1141.5V1347.9H1142.5V1347.6H1143.5V1347.5H1144.5V1348.7H1145.5V1340.5H1146.5H1147.5V1348.2H1148.5H1149.5V1349.3H1150.5V1350.5H1151.5V1353.7H1152.5V1353.3H1153.5V1349.4H1154.5H1155.5V1348.6H1156.5H1157.5V1347.3H1158.5V1348.8H1159.5V1347.7H1160.5V1348.9H1161.5V1353.7H1162.5H1163.5H1164.5V1351.8H1165.5H1166.5H1167.5V1350.3H1168.5H1169.5H1170.5V1353.6H1171.5V1345.2H1172.5V1345.2H1173.5V1346.4H1174.5V1345.4H1175.5V1351.9H1176.5V1349.1H1177.5H1178.5H1179.5V1353.8H1180.5V1348.8H1181.5V1349.2H1182.5V1349.6H1183.5V1347.1H1184.5V1348.5H1185.5V1343.5H1186.5V1348.1H1187.5V1348.3H1188.5V1347.3H1189.5V1358.5H1190.5V1358.5Z" fill="#07992f"/>
<text x="1009" y="1377" font-size="12.9" textLength="32.6" lengthAdjust="spacingAndGlyphs" fill="#2a2a2a" stroke="#2a2a2a" stroke-width="0.4">[0 - 8.33]</text>
<rect x="1002.5" y="1415.9" width="188" height="2.6" fill="#bcbcbc"/>
<path d="M1002.5 1415.9V1415.9H1003.5H1004.5H1005.5V1405.1H1006.5V1391.4H1007.5H1008.5V1399.8H1009.5H1010.5H1011.5V1401.8H1012.5H1013.5H1014.5V1403.1H1015.5H1016.5H1017.5V1406H1018.5H1019.5H1020.5V1402.8H1021.5V1386.4H1022.5H1023.5V1407.5H1024.5H1025.5H1026.5V1401.4H1027.5H1028.5H1029.5V1405H1030.5H1031.5H1032.5V1399.9H1033.5H1034.5H1035.5V1404.7H1036.5H1037.5H1038.5V1402.5H1039.5H1040.5H1041.5V1405.4H1042.5H1043.5H1044.5V1407.1H1045.5H1046.5V1398.4H1047.5V1391.6H1048.5H1049.5H1050.5V1380.5H1051.5V1399.4H1052.5H1053.5V1388.8H1054.5H1055.5H1056.5V1383.5H1057.5H1058.5V1380.5H1059.5H1060.5V1391.8H1061.5H1062.5V1392.9H1063.5H1064.5H1065.5V1396.9H1066.5H1067.5V1385.9H1068.5V1388.5H1069.5H1070.5H1071.5V1393.2H1072.5H1073.5H1074.5V1395.2H1075.5H1076.5H1077.5V1384.6H1078.5H1079.5H1080.5V1384.9H1081.5H1082.5H1083.5V1384.3H1084.5H1085.5H1086.5V1399.2H1087.5V1380.5H1088.5V1399.2H1089.5V1384.1H1090.5H1091.5H1092.5V1398.6H1093.5V1404.3H1094.5H1095.5V1397.2H1096.5H1097.5H1098.5V1399.4H1099.5H1100.5H1101.5V1397.8H1102.5H1103.5H1104.5V1401.9H1105.5H1106.5H1107.5V1399.5H1108.5H1109.5H1110.5V1395.9H1111.5H1112.5H1113.5V1404.7H1114.5H1115.5H1116.5V1406.5H1117.5H1118.5H1119.5V1393.9H1120.5V1403.7H1121.5H1122.5V1406.1H1123.5H1124.5H1125.5V1409.9H1126.5H1127.5H1128.5V1409.4H1129.5H1130.5V1393.9H1131.5V1407H1132.5H1133.5H1134.5V1404.4H1135.5H1136.5H1137.5V1407.6H1138.5H1139.5H1140.5V1393.9H1141.5H1142.5V1404.8H1143.5V1403.8H1144.5H1145.5H1146.5V1405.8H1147.5H1148.5H1149.5V1407.5H1150.5H1151.5H1152.5V1393.9H1153.5H1154.5V1410H1155.5V1407.6H1156.5H1157.5V1393.9H1158.5H1159.5V1409.5H1160.5V1410.9H1161.5V1411.2H1162.5H1163.5H1164.5V1398.9H1165.5V1409.8H1166.5H1167.5V1409.6H1168.5H1169.5H1170.5V1407.9H1171.5H1172.5H1173.5V1411H1174.5H1175.5V1398.9H1176.5V1411H1177.5H1178.5H1179.5V1411.1H1180.5H1181.5H1182.5V1406.9H1183.5H1184.5H1185.5V1410.4H1186.5H1187.5H1188.5V1415.9H1189.5H1190.5V1415.9Z" fill="#07992f"/>
<text x="1009" y="1434.3" font-size="12.9" textLength="34.9" lengthAdjust="spacingAndGlyphs" fill="#2a2a2a" stroke="#2a2a2a" stroke-width="0.4">[0 - 1399]</text>
<rect x="1002.5" y="1473.2" width="188" height="2.6" fill="#bcbcbc"/>
<path d="M1002.5 1473.2V1473.2H1003.5H1004.5H1005.5H1006.5H1007.5H1008.5H1009.5H1010.5H1011.5H1012.5H1013.5H1014.5H1015.5H1016.5H1017.5H1018.5H1019.5H1020.5H1021.5H1022.5H1023.5H1024.5H1025.5H1026.5H1027.5H1028.5H1029.5H1030.5H1031.5H1032.5H1033.5H1034.5H1035.5H1036.5H1037.5H1038.5H1039.5H1040.5H1041.5H1042.5H1043.5H1044.5H1045.5H1046.5H1047.5H1048.5H1049.5H1050.5H1051.5H1052.5H1053.5H1054.5H1055.5H1056.5H1057.5H1058.5H1059.5H1060.5H1061.5H1062.5V1456.3H1063.5V1431.7H1064.5V1431.5H1065.5V1429.2H1066.5V1430H1067.5V1431.7H1068.5V1454.8H1069.5H1070.5V1473.2H1071.5H1072.5H1073.5H1074.5H1075.5H1076.5H1077.5H1078.5V1466H1079.5H1080.5H1081.5H1082.5H1083.5V1473.2H1084.5H1085.5H1086.5H1087.5H1088.5H1089.5H1090.5H1091.5H1092.5H1093.5H1094.5H1095.5H1096.5H1097.5H1098.5H1099.5H1100.5H1101.5H1102.5H1103.5H1104.5H1105.5H1106.5H1107.5H1108.5H1109.5H1110.5H1111.5H1112.5H1113.5H1114.5H1115.5H1116.5H1117.5H1118.5H1119.5H1120.5H1121.5H1122.5H1123.5H1124.5H1125.5H1126.5H1127.5H1128.5H1129.5H1130.5H1131.5H1132.5H1133.5H1134.5H1135.5H1136.5H1137.5H1138.5H1139.5H1140.5H1141.5H1142.5H1143.5H1144.5H1145.5H1146.5H1147.5H1148.5H1149.5H1150.5H1151.5H1152.5H1153.5H1154.5H1155.5H1156.5H1157.5H1158.5H1159.5H1160.5H1161.5H1162.5H1163.5H1164.5H1165.5H1166.5H1167.5H1168.5H1169.5H1170.5H1171.5H1172.5H1173.5H1174.5H1175.5H1176.5H1177.5H1178.5H1179.5H1180.5H1181.5H1182.5H1183.5H1184.5H1185.5H1186.5H1187.5H1188.5H1189.5H1190.5V1473.2Z" fill="#f99d03"/>
<text x="1009" y="1491.6" font-size="12.9" textLength="34.9" lengthAdjust="spacingAndGlyphs" fill="#2a2a2a" stroke="#2a2a2a" stroke-width="0.4">[0 - 1399]</text>
<rect x="1002.5" y="1530.5" width="188" height="2.6" fill="#bcbcbc"/>
<path d="M1002.5 1530.5V1530.5H1003.5H1004.5H1005.5H1006.5H1007.5H1008.5H1009.5H1010.5H1011.5H1012.5H1013.5H1014.5H1015.5H1016.5H1017.5H1018.5H1019.5H1020.5H1021.5H1022.5H1023.5H1024.5H1025.5H1026.5H1027.5H1028.5H1029.5H1030.5H1031.5H1032.5H1033.5H1034.5H1035.5H1036.5H1037.5H1038.5H1039.5H1040.5H1041.5H1042.5H1043.5H1044.5H1045.5H1046.5H1047.5H1048.5H1049.5H1050.5H1051.5H1052.5H1053.5H1054.5H1055.5H1056.5H1057.5H1058.5H1059.5H1060.5H1061.5H1062.5V1519.6H1063.5V1489.1H1064.5V1487.1H1065.5H1066.5V1487.5H1067.5H1068.5V1488H1069.5V1515.3H1070.5V1515.5H1071.5V1530.5H1072.5H1073.5H1074.5H1075.5H1076.5H1077.5H1078.5V1518.9H1079.5H1080.5H1081.5H1082.5H1083.5V1530.5H1084.5H1085.5H1086.5H1087.5H1088.5H1089.5H1090.5H1091.5H1092.5H1093.5H1094.5H1095.5H1096.5H1097.5H1098.5H1099.5H1100.5H1101.5H1102.5H1103.5H1104.5H1105.5H1106.5H1107.5H1108.5H1109.5H1110.5H1111.5H1112.5H1113.5H1114.5H1115.5H1116.5H1117.5H1118.5H1119.5H1120.5H1121.5H1122.5H1123.5H1124.5H1125.5H1126.5H1127.5H1128.5H1129.5H1130.5H1131.5H1132.5H1133.5H1134.5H1135.5H1136.5H1137.5H1138.5H1139.5H1140.5H1141.5H1142.5H1143.5H1144.5H1145.5H1146.5H1147.5H1148.5H1149.5H1150.5H1151.5H1152.5H1153.5H1154.5H1155.5H1156.5H1157.5H1158.5H1159.5H1160.5H1161.5H1162.5H1163.5H1164.5H1165.5H1166.5H1167.5H1168.5H1169.5H1170.5H1171.5H1172.5H1173.5H1174.5H1175.5H1176.5H1177.5H1178.5H1179.5H1180.5H1181.5H1182.5H1183.5H1184.5H1185.5H1186.5H1187.5H1188.5H1189.5H1190.5V1530.5Z" fill="#f99d03"/>
<text x="1009" y="1549" font-size="12.9" textLength="34.9" lengthAdjust="spacingAndGlyphs" fill="#2a2a2a" stroke="#2a2a2a" stroke-width="0.4">[0 - 1399]</text>
<rect x="1002.5" y="1587.9" width="188" height="2.6" fill="#bcbcbc"/>
<path d="M1002.5 1587.9V1587.9H1003.5H1004.5H1005.5H1006.5H1007.5H1008.5H1009.5H1010.5H1011.5H1012.5H1013.5H1014.5H1015.5H1016.5H1017.5H1018.5H1019.5H1020.5H1021.5H1022.5H1023.5H1024.5H1025.5H1026.5H1027.5H1028.5H1029.5H1030.5H1031.5H1032.5H1033.5H1034.5H1035.5H1036.5H1037.5H1038.5H1039.5H1040.5H1041.5H1042.5H1043.5H1044.5H1045.5H1046.5H1047.5H1048.5H1049.5H1050.5H1051.5H1052.5H1053.5H1054.5H1055.5H1056.5H1057.5H1058.5H1059.5H1060.5H1061.5V1574.7H1062.5H1063.5V1549.3H1064.5V1547.8H1065.5V1546H1066.5V1547.3H1067.5V1548.7H1068.5V1575.2H1069.5H1070.5V1574.9H1071.5V1587.9H1072.5H1073.5H1074.5H1075.5H1076.5H1077.5H1078.5V1580.5H1079.5H1080.5H1081.5H1082.5V1587.9H1083.5H1084.5H1085.5H1086.5H1087.5H1088.5H1089.5H1090.5H1091.5H1092.5H1093.5H1094.5H1095.5H1096.5H1097.5H1098.5H1099.5H1100.5H1101.5H1102.5H1103.5H1104.5H1105.5H1106.5H1107.5H1108.5H1109.5H1110.5H1111.5H1112.5H1113.5H1114.5H1115.5H1116.5H1117.5H1118.5H1119.5H1120.5H1121.5H1122.5H1123.5H1124.5H1125.5H1126.5H1127.5H1128.5H1129.5H1130.5H1131.5H1132.5H1133.5H1134.5H1135.5H1136.5H1137.5H1138.5H1139.5H1140.5H1141.5H1142.5H1143.5H1144.5H1145.5H1146.5H1147.5H1148.5H1149.5H1150.5H1151.5H1152.5H1153.5H1154.5H1155.5H1156.5H1157.5H1158.5H1159.5H1160.5H1161.5H1162.5H1163.5H1164.5H1165.5H1166.5H1167.5H1168.5H1169.5H1170.5H1171.5H1172.5H1173.5H1174.5H1175.5H1176.5H1177.5H1178.5H1179.5H1180.5H1181.5H1182.5H1183.5H1184.5H1185.5H1186.5H1187.5H1188.5H1189.5H1190.5V1587.9Z" fill="#f99d03"/>
<text x="1190.3" y="860.4" font-size="13.5" text-anchor="end" stroke="#000" stroke-width="0.35">10kb</text>
<rect x="1137" y="861.6" width="53.8" height="2.2" fill="#000"/>
<rect x="1000.6" y="1607.2" width="189.2" height="3" fill="#0000aa"/>
<rect x="1009.8" y="1597.4" width="4.7" height="22.6" fill="#0000aa"/>
<rect x="1015.4" y="1597.4" width="6.4" height="22.6" fill="#0000aa"/>
<polygon points="1030,1608.7 1033.8,1603.2 1037.6,1608.7 1033.8,1614.2" fill="#0000aa"/>
<rect x="1047.7" y="1597.4" width="2.7" height="22.6" fill="#0000aa"/>
<rect x="1055" y="1597.4" width="3.7" height="22.6" fill="#0000aa"/>
<rect x="1058.7" y="1601.7" width="4.7" height="13.3" fill="#0000aa"/>
<rect x="1063.4" y="1597.4" width="7.3" height="22.6" fill="#0000aa"/>
<rect x="1078" y="1597.4" width="2.5" height="22.6" fill="#0000aa"/>
<rect x="1084.6" y="1597.4" width="2.4" height="22.6" fill="#0000aa"/>
<rect x="1093.8" y="1601.7" width="1.7" height="13.3" fill="#0000aa"/>
<rect x="1095.5" y="1597.4" width="3.9" height="22.6" fill="#0000aa"/>
<rect x="1101.2" y="1597.4" width="3.7" height="22.6" fill="#0000aa"/>
<rect x="1107.7" y="1597.4" width="6.4" height="22.6" fill="#0000aa"/>
<rect x="1118.7" y="1597.4" width="7.4" height="22.6" fill="#0000aa"/>
<rect x="1133.5" y="1597.4" width="4.6" height="22.6" fill="#0000aa"/>
<rect x="1140" y="1597.4" width="3.6" height="22.6" fill="#0000aa"/>
<rect x="1149.2" y="1597.4" width="4.6" height="22.6" fill="#0000aa"/>
<rect x="1157.5" y="1597.4" width="1.8" height="22.6" fill="#0000aa"/>
<rect x="1173.2" y="1597.4" width="3.7" height="22.6" fill="#0000aa"/>
<rect x="1181.5" y="1597.4" width="2.5" height="22.6" fill="#0000aa"/>
<rect x="1185.5" y="1597.4" width="2.5" height="22.6" fill="#0000aa"/>
<text x="1035.2" y="1639.2" font-size="13.5" text-anchor="middle" stroke="#000" stroke-width="0.25">Iffo1</text>
<text x="1076.3" y="1639.2" font-size="13.5" text-anchor="middle" stroke="#000" stroke-width="0.25">Gapdh</text>
<text x="1158" y="1639.2" font-size="13.5" text-anchor="middle" stroke="#000" stroke-width="0.25">Ncapd2</text>
<text x="1" y="1709.4" font-size="35.5" font-weight="bold">C</text>
<rect x="151.2" y="1681.1" width="4.3" height="801.9" fill="#000"/>
<text x="141.2" y="1718.9" font-size="16" text-anchor="end" stroke="#000" stroke-width="0.2">H3S31ph-0</text>
<text x="141.2" y="1775.1" font-size="16" text-anchor="end" stroke="#000" stroke-width="0.2">H3S31ph-60</text>
<text x="141.2" y="1831.4" font-size="16" text-anchor="end" stroke="#000" stroke-width="0.2">H3K36me3-0</text>
<text x="141.2" y="1887.6" font-size="16" text-anchor="end" stroke="#000" stroke-width="0.2">H3K36me3-60</text>
<text x="141.2" y="1943.9" font-size="16" text-anchor="end" stroke="#000" stroke-width="0.2">H3K36me2-0</text>
<text x="141.2" y="2000.1" font-size="16" text-anchor="end" stroke="#000" stroke-width="0.2">H3K36me2-60</text>
<text x="141.2" y="2056.3" font-size="16" text-anchor="end" stroke="#000" stroke-width="0.2">H3K27ac-0</text>
<text x="141.2" y="2112.6" font-size="16" text-anchor="end" stroke="#000" stroke-width="0.2">H3K27ac-60</text>
<text x="141.2" y="2168.8" font-size="16" text-anchor="end" stroke="#000" stroke-width="0.2">H3.3-0</text>
<text x="141.2" y="2225.1" font-size="16" text-anchor="end" stroke="#000" stroke-width="0.2">H3.3-60</text>
<text x="141.2" y="2281.3" font-size="16" text-anchor="end" stroke="#000" stroke-width="0.2">RNAseq-0</text>
<text x="141.2" y="2337.5" font-size="16" text-anchor="end" stroke="#000" stroke-width="0.2">RNAseq-60</text>
<text x="141.2" y="2393.8" font-size="16" text-anchor="end" stroke="#000" stroke-width="0.2">RNAseq-120</text>
<text x="141.2" y="2450" font-size="16" text-anchor="end" stroke="#000" stroke-width="0.2">Refseq genes</text>
<text x="174.3" y="1696.2" font-size="12.9" textLength="25.7" lengthAdjust="spacingAndGlyphs" fill="#2a2a2a" stroke="#2a2a2a" stroke-width="0.4">[0 - 64]</text>
<rect x="167.8" y="1735.8" width="988.2" height="2.6" fill="#bcbcbc"/>
<path d="M167.8 1739.4V1736.2H168.8H169.8H170.8H171.8H172.8H173.8H174.8H175.8H176.8H177.8H178.8H179.8H180.8H181.8H182.8H183.8H184.8H185.8H186.8H187.8H188.8H189.8H190.8H191.8H192.8H193.8H194.8H195.8H196.8H197.8H198.8H199.8H200.8H201.8H202.8H203.8H204.8H205.8H206.8H207.8H208.8H209.8H210.8H211.8H212.8H213.8H214.8H215.8H216.8H217.8H218.8H219.8H220.8H221.8H222.8H223.8H224.8H225.8H226.8H227.8H228.8H229.8H230.8H231.8H232.8H233.8H234.8H235.8H236.8H237.8H238.8H239.8H240.8H241.8H242.8H243.8H244.8H245.8H246.8H247.8H248.8H249.8H250.8H251.8H252.8H253.8H254.8H255.8H256.8H257.8H258.8H259.8H260.8H261.8H262.8H263.8H264.8H265.8H266.8H267.8H268.8H269.8H270.8H271.8H272.8H273.8H274.8H275.8H276.8H277.8H278.8H279.8H280.8H281.8H282.8H283.8H284.8H285.8H286.8H287.8H288.8H289.8H290.8H291.8H292.8H293.8H294.8H295.8H296.8H297.8H298.8H299.8H300.8H301.8H302.8H303.8H304.8H305.8H306.8H307.8H308.8H309.8H310.8H311.8H312.8H313.8H314.8H315.8H316.8H317.8H318.8H319.8H320.8H321.8H322.8H323.8H324.8H325.8H326.8H327.8H328.8H329.8H330.8H331.8H332.8H333.8H334.8H335.8H336.8H337.8H338.8H339.8H340.8H341.8H342.8V1733.7H343.8V1736.2H344.8H345.8H346.8H347.8H348.8H349.8H350.8H351.8H352.8H353.8H354.8H355.8H356.8H357.8H358.8V1733.7H359.8H360.8V1736.2H361.8H362.8H363.8H364.8H365.8H366.8H367.8H368.8H369.8H370.8H371.8H372.8H373.8H374.8H375.8H376.8H377.8H378.8H379.8H380.8H381.8H382.8H383.8H384.8H385.8H386.8H387.8H388.8V1733.7H389.8H390.8V1736.2H391.8H392.8H393.8H394.8H395.8H396.8H397.8H398.8H399.8H400.8H401.8H402.8H403.8H404.8H405.8H406.8H407.8H408.8H409.8H410.8H411.8H412.8H413.8H414.8H415.8H416.8H417.8H418.8H419.8H420.8H421.8H422.8H423.8H424.8H425.8H426.8H427.8H428.8H429.8H430.8H431.8H432.8H433.8H434.8H435.8H436.8H437.8H438.8H439.8H440.8H441.8H442.8H443.8H444.8H445.8H446.8H447.8H448.8H449.8H450.8H451.8H452.8H453.8H454.8H455.8H456.8H457.8H458.8H459.8H460.8H461.8H462.8H463.8H464.8H465.8H466.8H467.8H468.8H469.8H470.8H471.8H472.8H473.8H474.8H475.8H476.8H477.8H478.8H479.8H480.8H481.8H482.8H483.8H484.8H485.8H486.8H487.8H488.8H489.8H490.8H491.8H492.8H493.8H494.8H495.8H496.8H497.8H498.8H499.8H500.8H501.8H502.8H503.8H504.8H505.8H506.8H507.8H508.8H509.8H510.8H511.8H512.8H513.8H514.8H515.8H516.8H517.8H518.8H519.8H520.8H521.8H522.8H523.8H524.8H525.8H526.8H527.8H528.8H529.8H530.8H531.8H532.8H533.8H534.8H535.8H536.8H537.8H538.8H539.8H540.8H541.8H542.8H543.8H544.8H545.8H546.8H547.8H548.8H549.8H550.8H551.8H552.8H553.8H554.8H555.8H556.8H557.8H558.8H559.8H560.8H561.8H562.8H563.8H564.8H565.8H566.8H567.8H568.8H569.8H570.8H571.8H572.8H573.8H574.8H575.8H576.8H577.8H578.8H579.8H580.8H581.8H582.8H583.8H584.8H585.8H586.8H587.8H588.8H589.8H590.8H591.8H592.8H593.8H594.8H595.8H596.8H597.8H598.8H599.8H600.8H601.8H602.8H603.8H604.8H605.8H606.8H607.8H608.8H609.8H610.8H611.8H612.8H613.8H614.8H615.8H616.8H617.8H618.8H619.8H620.8H621.8H622.8H623.8H624.8H625.8H626.8H627.8H628.8H629.8H630.8H631.8H632.8H633.8H634.8H635.8H636.8H637.8H638.8H639.8H640.8H641.8H642.8H643.8H644.8H645.8H646.8H647.8H648.8H649.8H650.8H651.8H652.8H653.8H654.8H655.8H656.8H657.8H658.8H659.8H660.8H661.8H662.8H663.8H664.8H665.8H666.8H667.8H668.8H669.8H670.8H671.8H672.8H673.8H674.8H675.8H676.8H677.8H678.8H679.8H680.8H681.8H682.8H683.8H684.8H685.8H686.8H687.8H688.8H689.8H690.8H691.8H692.8H693.8H694.8H695.8H696.8H697.8H698.8H699.8H700.8H701.8H702.8H703.8H704.8H705.8H706.8H707.8H708.8H709.8H710.8H711.8H712.8H713.8H714.8H715.8H716.8H717.8H718.8H719.8H720.8H721.8H722.8H723.8H724.8H725.8H726.8H727.8H728.8H729.8H730.8H731.8V1733.7H732.8H733.8H734.8H735.8H736.8V1736.2H737.8H738.8H739.8H740.8H741.8H742.8H743.8H744.8H745.8H746.8H747.8H748.8H749.8H750.8H751.8H752.8H753.8H754.8H755.8H756.8H757.8H758.8H759.8H760.8H761.8H762.8H763.8H764.8H765.8H766.8H767.8H768.8H769.8H770.8H771.8H772.8H773.8V1733.6H774.8H775.8V1736.2H776.8H777.8H778.8H779.8H780.8H781.8H782.8H783.8H784.8H785.8H786.8H787.8H788.8H789.8H790.8H791.8H792.8H793.8H794.8H795.8H796.8H797.8H798.8H799.8H800.8H801.8H802.8H803.8H804.8H805.8H806.8H807.8H808.8H809.8H810.8H811.8H812.8H813.8H814.8H815.8H816.8H817.8H818.8H819.8H820.8H821.8H822.8H823.8H824.8H825.8H826.8H827.8H828.8H829.8H830.8H831.8H832.8H833.8H834.8H835.8H836.8H837.8H838.8H839.8H840.8H841.8H842.8H843.8H844.8H845.8H846.8H847.8H848.8H849.8H850.8H851.8H852.8H853.8H854.8H855.8H856.8H857.8H858.8H859.8H860.8H861.8H862.8H863.8H864.8H865.8H866.8H867.8H868.8H869.8H870.8H871.8H872.8H873.8H874.8H875.8H876.8H877.8H878.8H879.8H880.8H881.8H882.8H883.8H884.8H885.8H886.8H887.8H888.8H889.8H890.8H891.8H892.8H893.8H894.8H895.8H896.8H897.8H898.8H899.8H900.8H901.8H902.8H903.8H904.8H905.8H906.8H907.8H908.8H909.8H910.8H911.8H912.8H913.8H914.8H915.8H916.8H917.8H918.8H919.8H920.8H921.8H922.8H923.8H924.8H925.8H926.8H927.8H928.8H929.8H930.8H931.8H932.8H933.8H934.8H935.8H936.8H937.8H938.8H939.8H940.8H941.8H942.8H943.8H944.8H945.8H946.8H947.8H948.8H949.8H950.8H951.8H952.8H953.8H954.8H955.8H956.8H957.8H958.8H959.8H960.8H961.8H962.8H963.8H964.8H965.8H966.8H967.8H968.8H969.8H970.8H971.8H972.8H973.8H974.8H975.8H976.8H977.8H978.8H979.8H980.8H981.8H982.8H983.8H984.8H985.8H986.8H987.8H988.8H989.8H990.8H991.8H992.8H993.8H994.8H995.8H996.8H997.8H998.8H999.8H1000.8H1001.8H1002.8H1003.8H1004.8H1005.8H1006.8H1007.8H1008.8H1009.8H1010.8H1011.8H1012.8H1013.8H1014.8H1015.8H1016.8H1017.8H1018.8H1019.8H1020.8H1021.8H1022.8H1023.8H1024.8H1025.8H1026.8H1027.8H1028.8H1029.8H1030.8H1031.8H1032.8H1033.8H1034.8H1035.8H1036.8H1037.8H1038.8H1039.8H1040.8H1041.8H1042.8H1043.8H1044.8H1045.8H1046.8H1047.8H1048.8H1049.8H1050.8H1051.8H1052.8H1053.8H1054.8H1055.8H1056.8H1057.8H1058.8H1059.8H1060.8H1061.8H1062.8H1063.8H1064.8H1065.8H1066.8H1067.8H1068.8H1069.8H1070.8H1071.8H1072.8H1073.8H1074.8H1075.8H1076.8H1077.8H1078.8H1079.8H1080.8H1081.8H1082.8H1083.8H1084.8H1085.8H1086.8H1087.8H1088.8H1089.8H1090.8H1091.8H1092.8H1093.8H1094.8H1095.8H1096.8H1097.8H1098.8H1099.8H1100.8H1101.8H1102.8H1103.8H1104.8H1105.8H1106.8H1107.8H1108.8H1109.8H1110.8H1111.8H1112.8H1113.8H1114.8H1115.8H1116.8H1117.8H1118.8H1119.8H1120.8H1121.8H1122.8H1123.8H1124.8H1125.8H1126.8H1127.8H1128.8H1129.8H1130.8H1131.8H1132.8H1133.8H1134.8H1135.8H1136.8H1137.8H1138.8H1139.8H1140.8H1141.8H1142.8H1143.8H1144.8H1145.8H1146.8H1147.8H1148.8H1149.8H1150.8H1151.8H1152.8H1153.8H1154.8H1155.8V1739.4Z" fill="#0000b0"/>
<text x="174.3" y="1753.7" font-size="12.9" textLength="25.7" lengthAdjust="spacingAndGlyphs" fill="#2a2a2a" stroke="#2a2a2a" stroke-width="0.4">[0 - 64]</text>
<rect x="167.8" y="1793.3" width="988.2" height="2.6" fill="#bcbcbc"/>
<path d="M167.8 1796.9V1793.7H168.8H169.8H170.8H171.8H172.8H173.8H174.8H175.8H176.8H177.8H178.8H179.8H180.8H181.8H182.8H183.8H184.8H185.8V1791.6H186.8H187.8H188.8V1793.2H189.8H190.8H191.8V1793H192.8H193.8H194.8V1792.2H195.8H196.8H197.8V1791H198.8H199.8H200.8V1791.3H201.8H202.8H203.8V1791.8H204.8H205.8H206.8H207.8H208.8H209.8V1790.9H210.8H211.8H212.8V1792.6H213.8H214.8H215.8V1791H216.8H217.8H218.8V1793.5H219.8H220.8H221.8V1791.9H222.8H223.8H224.8V1793.7H225.8H226.8H227.8V1791H228.8H229.8H230.8V1791.7H231.8H232.8H233.8V1792.5H234.8H235.8H236.8V1791.9H237.8H238.8H239.8V1793.6H240.8H241.8H242.8V1793.5H243.8H244.8H245.8V1793.7H246.8H247.8H248.8V1793.4H249.8H250.8H251.8V1790.8H252.8H253.8H254.8V1792.7H255.8H256.8H257.8V1793.6H258.8H259.8V1793.7H260.8H261.8H262.8H263.8H264.8H265.8H266.8H267.8H268.8H269.8H270.8H271.8H272.8H273.8H274.8H275.8H276.8H277.8H278.8H279.8H280.8H281.8H282.8H283.8H284.8H285.8H286.8H287.8H288.8H289.8H290.8H291.8H292.8H293.8H294.8H295.8H296.8H297.8H298.8H299.8H300.8H301.8H302.8H303.8H304.8H305.8H306.8H307.8H308.8H309.8H310.8V1791.6H311.8H312.8V1791.8H313.8H314.8V1792.2H315.8H316.8V1791.7H317.8H318.8V1791.3H319.8H320.8V1793.2H321.8V1793.7H322.8H323.8H324.8H325.8H326.8H327.8H328.8H329.8H330.8H331.8H332.8H333.8H334.8H335.8H336.8H337.8H338.8H339.8H340.8H341.8H342.8V1790.7H343.8V1793.7H344.8H345.8H346.8H347.8H348.8H349.8H350.8H351.8H352.8H353.8H354.8H355.8H356.8H357.8H358.8V1791.2H359.8H360.8V1793.7H361.8H362.8H363.8H364.8H365.8H366.8H367.8H368.8H369.8H370.8V1787.1H371.8V1783.2H372.8H373.8V1784.6H374.8H375.8V1783.3H376.8V1793.7H377.8H378.8H379.8H380.8H381.8H382.8H383.8H384.8H385.8V1773.4H386.8V1753.2H387.8V1748.4H388.8H389.8V1748.4H390.8V1754.6H391.8V1767.6H392.8V1782.4H393.8V1782.6H394.8H395.8V1781.9H396.8V1793.7H397.8H398.8H399.8H400.8H401.8H402.8H403.8H404.8H405.8H406.8H407.8H408.8H409.8H410.8H411.8H412.8H413.8H414.8H415.8H416.8H417.8H418.8H419.8H420.8H421.8H422.8H423.8H424.8H425.8H426.8H427.8H428.8H429.8H430.8H431.8H432.8H433.8H434.8H435.8H436.8H437.8H438.8H439.8H440.8H441.8H442.8H443.8H444.8H445.8H446.8H447.8H448.8H449.8H450.8H451.8H452.8H453.8H454.8H455.8H456.8H457.8H458.8H459.8H460.8H461.8H462.8H463.8H464.8H465.8H466.8H467.8H468.8H469.8H470.8H471.8H472.8H473.8H474.8H475.8H476.8H477.8H478.8H479.8H480.8H481.8H482.8H483.8H484.8H485.8H486.8H487.8H488.8H489.8H490.8H491.8H492.8V1791.7H493.8V1793.7H494.8H495.8H496.8H497.8H498.8H499.8H500.8H501.8H502.8H503.8H504.8H505.8H506.8H507.8H508.8H509.8H510.8H511.8H512.8H513.8H514.8H515.8H516.8H517.8H518.8H519.8H520.8H521.8H522.8H523.8V1791.7H524.8H525.8V1793.7H526.8H527.8H528.8H529.8H530.8H531.8H532.8H533.8H534.8H535.8H536.8H537.8V1791.7H538.8V1793.7H539.8H540.8H541.8H542.8H543.8H544.8H545.8V1791.7H546.8V1793.7H547.8H548.8H549.8H550.8H551.8H552.8H553.8H554.8H555.8H556.8H557.8H558.8H559.8V1791.7H560.8H561.8V1793.7H562.8H563.8H564.8H565.8H566.8H567.8H568.8H569.8H570.8H571.8H572.8H573.8H574.8H575.8H576.8H577.8H578.8H579.8H580.8H581.8H582.8H583.8H584.8H585.8H586.8H587.8H588.8H589.8H590.8H591.8H592.8H593.8H594.8H595.8H596.8H597.8H598.8H599.8H600.8H601.8H602.8H603.8H604.8H605.8H606.8H607.8H608.8H609.8H610.8H611.8H612.8H613.8H614.8H615.8H616.8H617.8H618.8H619.8H620.8H621.8H622.8H623.8H624.8H625.8H626.8H627.8H628.8H629.8H630.8H631.8H632.8H633.8H634.8H635.8H636.8H637.8H638.8H639.8H640.8H641.8H642.8H643.8H644.8H645.8H646.8H647.8H648.8H649.8H650.8H651.8H652.8H653.8H654.8H655.8H656.8H657.8H658.8H659.8H660.8H661.8V1791.7H662.8V1793.7H663.8H664.8H665.8H666.8H667.8H668.8H669.8H670.8H671.8H672.8H673.8H674.8H675.8H676.8H677.8H678.8H679.8H680.8H681.8H682.8H683.8H684.8H685.8H686.8H687.8H688.8H689.8H690.8H691.8H692.8V1790.9H693.8V1788.5H694.8V1786.2H695.8V1787.9H696.8V1788.9H697.8V1789.6H698.8V1789.8H699.8V1790.3H700.8V1790.5H701.8V1790.8H702.8V1791H703.8V1793.7H704.8H705.8H706.8H707.8H708.8H709.8H710.8H711.8H712.8H713.8H714.8H715.8H716.8H717.8H718.8H719.8H720.8H721.8V1766.6H722.8H723.8V1767.1H724.8H725.8V1755.6H726.8H727.8V1757.7H728.8V1793.7H729.8H730.8H731.8H732.8H733.8H734.8V1784.5H735.8H736.8H737.8V1793.6H738.8H739.8H740.8V1793H741.8H742.8H743.8V1791.4H744.8H745.8H746.8V1792.4H747.8H748.8H749.8V1793.3H750.8H751.8H752.8V1791.6H753.8H754.8H755.8V1792.2H756.8H757.8H758.8V1791.7H759.8H760.8H761.8V1793.2H762.8H763.8H764.8V1793.1H765.8H766.8H767.8V1793.7H768.8H769.8H770.8H771.8H772.8V1768.2H773.8H774.8H775.8V1793.7H776.8H777.8H778.8H779.8H780.8H781.8H782.8H783.8V1767.1H784.8H785.8H786.8V1793.7H787.8H788.8H789.8H790.8H791.8H792.8H793.8H794.8H795.8H796.8H797.8H798.8H799.8H800.8H801.8H802.8H803.8H804.8H805.8H806.8H807.8H808.8H809.8V1791.7H810.8V1793.7H811.8H812.8H813.8H814.8H815.8H816.8H817.8H818.8H819.8H820.8H821.8H822.8H823.8H824.8H825.8H826.8H827.8H828.8H829.8H830.8H831.8V1791.7H832.8V1793.7H833.8H834.8H835.8H836.8H837.8H838.8H839.8H840.8H841.8H842.8H843.8V1791.7H844.8V1793.7H845.8H846.8H847.8H848.8H849.8H850.8H851.8H852.8H853.8H854.8H855.8H856.8H857.8H858.8H859.8H860.8H861.8H862.8H863.8H864.8H865.8H866.8H867.8H868.8H869.8H870.8H871.8H872.8H873.8H874.8H875.8H876.8H877.8H878.8H879.8H880.8H881.8H882.8H883.8H884.8H885.8H886.8H887.8H888.8H889.8H890.8H891.8H892.8H893.8H894.8H895.8H896.8H897.8H898.8H899.8H900.8H901.8H902.8H903.8H904.8H905.8H906.8H907.8H908.8H909.8H910.8H911.8H912.8H913.8H914.8H915.8H916.8H917.8H918.8H919.8H920.8H921.8H922.8H923.8H924.8H925.8H926.8H927.8H928.8H929.8H930.8H931.8H932.8H933.8H934.8H935.8H936.8H937.8H938.8H939.8H940.8H941.8H942.8H943.8H944.8H945.8H946.8H947.8H948.8H949.8H950.8H951.8H952.8H953.8H954.8H955.8H956.8H957.8H958.8H959.8H960.8H961.8H962.8H963.8H964.8H965.8H966.8H967.8H968.8H969.8H970.8H971.8H972.8H973.8H974.8H975.8H976.8H977.8H978.8H979.8H980.8H981.8H982.8H983.8H984.8H985.8H986.8H987.8H988.8H989.8H990.8H991.8H992.8H993.8H994.8H995.8H996.8H997.8H998.8H999.8H1000.8H1001.8H1002.8H1003.8H1004.8H1005.8H1006.8H1007.8H1008.8H1009.8H1010.8H1011.8H1012.8H1013.8H1014.8H1015.8H1016.8H1017.8H1018.8H1019.8H1020.8H1021.8H1022.8H1023.8H1024.8H1025.8H1026.8H1027.8H1028.8H1029.8H1030.8H1031.8H1032.8H1033.8H1034.8H1035.8H1036.8H1037.8H1038.8H1039.8H1040.8H1041.8H1042.8H1043.8H1044.8H1045.8H1046.8H1047.8H1048.8H1049.8H1050.8H1051.8H1052.8H1053.8H1054.8H1055.8H1056.8H1057.8H1058.8H1059.8H1060.8H1061.8H1062.8H1063.8H1064.8H1065.8H1066.8H1067.8H1068.8H1069.8H1070.8H1071.8H1072.8H1073.8H1074.8H1075.8H1076.8H1077.8H1078.8H1079.8H1080.8H1081.8H1082.8H1083.8H1084.8H1085.8H1086.8H1087.8H1088.8H1089.8H1090.8H1091.8H1092.8H1093.8H1094.8H1095.8H1096.8H1097.8H1098.8H1099.8H1100.8H1101.8H1102.8H1103.8H1104.8H1105.8H1106.8H1107.8H1108.8H1109.8H1110.8H1111.8H1112.8H1113.8H1114.8H1115.8H1116.8H1117.8H1118.8H1119.8H1120.8H1121.8H1122.8H1123.8H1124.8H1125.8H1126.8H1127.8H1128.8H1129.8H1130.8H1131.8H1132.8H1133.8H1134.8H1135.8H1136.8H1137.8H1138.8H1139.8H1140.8H1141.8H1142.8H1143.8H1144.8H1145.8H1146.8H1147.8H1148.8H1149.8H1150.8H1151.8H1152.8H1153.8H1154.8H1155.8V1796.9Z" fill="#0000b0"/>
<text x="174.3" y="1811.2" font-size="12.9" textLength="25.7" lengthAdjust="spacingAndGlyphs" fill="#2a2a2a" stroke="#2a2a2a" stroke-width="0.4">[0 - 31]</text>
<rect x="167.8" y="1850.8" width="988.2" height="2.6" fill="#bcbcbc"/>
<path d="M167.8 1850.8V1850.8H168.8H169.8H170.8H171.8H172.8H173.8H174.8H175.8H176.8H177.8H178.8H179.8H180.8H181.8H182.8H183.8H184.8H185.8H186.8H187.8H188.8V1844.8H189.8V1844.3H190.8H191.8V1844.6H192.8H193.8V1850.8H194.8H195.8H196.8H197.8H198.8H199.8H200.8V1842.9H201.8V1844.9H202.8H203.8V1846.6H204.8H205.8V1844.5H206.8H207.8V1843.9H208.8H209.8V1842.8H210.8V1842.7H211.8V1845.1H212.8H213.8V1845.7H214.8H215.8V1846.8H216.8H217.8V1846.6H218.8H219.8V1843.3H220.8H221.8V1841.4H222.8V1841.3H223.8V1841.1H224.8V1841.1H225.8V1846.8H226.8H227.8V1847.4H228.8H229.8V1846.5H230.8H231.8V1847.8H232.8H233.8V1845.6H234.8H235.8V1846.3H236.8H237.8V1845.3H238.8H239.8V1845.9H240.8H241.8V1845.9H242.8H243.8V1847.2H244.8H245.8V1846.4H246.8H247.8V1847.3H248.8H249.8V1845.4H250.8H251.8V1847.5H252.8H253.8V1846.2H254.8H255.8V1848.1H256.8H257.8V1846.2H258.8H259.8V1846.6H260.8H261.8V1847.1H262.8H263.8V1846.3H264.8H265.8V1847.2H266.8H267.8V1847H268.8H269.8V1850.8H270.8H271.8H272.8H273.8H274.8H275.8V1844.2H276.8H277.8V1844H278.8H279.8V1844.3H280.8H281.8V1842.1H282.8H283.8V1850.8H284.8H285.8H286.8H287.8H288.8H289.8H290.8H291.8H292.8H293.8H294.8H295.8H296.8H297.8H298.8H299.8H300.8H301.8H302.8H303.8H304.8H305.8H306.8H307.8H308.8H309.8H310.8H311.8H312.8V1840.7H313.8V1837.9H314.8V1834.3H315.8V1832.5H316.8H317.8V1835.9H318.8H319.8V1828.8H320.8V1832.5H321.8V1840.4H322.8V1850.8H323.8H324.8H325.8H326.8H327.8H328.8H329.8H330.8V1845.6H331.8V1843.3H332.8H333.8V1843.9H334.8H335.8V1850.8H336.8H337.8H338.8H339.8H340.8H341.8H342.8H343.8H344.8H345.8V1841.2H346.8V1840.5H347.8V1840.5H348.8V1839.8H349.8V1838.6H350.8V1838.8H351.8V1836.8H352.8V1837.1H353.8V1839.6H354.8V1839.9H355.8V1841H356.8V1850.8H357.8H358.8H359.8H360.8H361.8V1837.1H362.8V1834.5H363.8V1830.9H364.8H365.8V1826.2H366.8H367.8V1833.4H368.8V1836.8H369.8V1835.8H370.8V1850.8H371.8H372.8V1848.8H373.8V1850.8H374.8H375.8H376.8H377.8H378.8H379.8H380.8H381.8H382.8H383.8H384.8H385.8H386.8H387.8H388.8V1830H389.8V1823.8H390.8H391.8V1834.5H392.8V1850.8H393.8H394.8H395.8H396.8H397.8H398.8H399.8H400.8H401.8H402.8H403.8H404.8H405.8H406.8H407.8H408.8H409.8H410.8H411.8H412.8H413.8H414.8H415.8H416.8H417.8H418.8H419.8H420.8H421.8H422.8H423.8H424.8H425.8H426.8H427.8H428.8H429.8H430.8H431.8H432.8H433.8H434.8H435.8H436.8H437.8H438.8H439.8H440.8H441.8H442.8H443.8H444.8H445.8H446.8H447.8H448.8H449.8H450.8H451.8H452.8H453.8H454.8H455.8H456.8H457.8H458.8H459.8H460.8H461.8H462.8H463.8H464.8H465.8H466.8H467.8V1845.3H468.8V1845.2H469.8V1846.1H470.8H471.8V1845.6H472.8V1845.6H473.8V1846H474.8H475.8V1846.9H476.8H477.8V1844.8H478.8V1844.7H479.8V1846.8H480.8H481.8V1847H482.8H483.8V1846.2H484.8H485.8V1842.1H486.8H487.8V1845.8H488.8V1850.8H489.8H490.8H491.8H492.8V1836.8H493.8H494.8H495.8H496.8V1847.5H497.8V1846.1H498.8H499.8V1847H500.8H501.8V1847.3H502.8H503.8V1846.2H504.8V1835.9H505.8V1835.5H506.8H507.8V1837.5H508.8H509.8V1837.5H510.8V1850.8H511.8H512.8V1842.5H513.8V1842.9H514.8H515.8V1841.6H516.8H517.8V1842.7H518.8H519.8V1850.8H520.8H521.8H522.8H523.8H524.8H525.8H526.8H527.8H528.8H529.8H530.8H531.8H532.8H533.8H534.8H535.8H536.8H537.8H538.8V1841H539.8H540.8H541.8H542.8V1850.8H543.8H544.8H545.8H546.8V1841.6H547.8V1841H548.8V1840.8H549.8V1838.9H550.8V1838.7H551.8V1840H552.8V1839.8H553.8V1840.1H554.8V1840H555.8V1835.1H556.8V1834.9H557.8V1838.2H558.8V1838H559.8V1840H560.8V1839.9H561.8V1834.6H562.8V1834.4H563.8V1839.5H564.8V1839.6H565.8V1839.7H566.8V1839.8H567.8V1835.6H568.8V1835.7H569.8V1834.5H570.8V1834.6H571.8V1838.2H572.8V1838.3H573.8V1840.4H574.8V1840.5H575.8V1839.3H576.8V1839.3H577.8V1836.3H578.8V1836.4H579.8V1836.3H580.8V1836.4H581.8V1840.1H582.8V1840.2H583.8V1839.8H584.8V1839.9H585.8V1836.7H586.8V1836.8H587.8V1839.3H588.8V1839.2H589.8V1835.6H590.8V1835.5H591.8V1837H592.8V1836.9H593.8V1836.9H594.8V1836.8H595.8V1836.2H596.8V1836.1H597.8V1839.1H598.8V1839.8H599.8V1838.6H600.8V1839.4H601.8V1838.6H602.8V1839.4H603.8V1840H604.8V1840.4H605.8V1842.3H606.8V1842.7H607.8V1841.7H608.8V1842.1H609.8V1845.4H610.8V1845.7H611.8V1843.7H612.8V1844.1H613.8V1846.1H614.8V1850.8H615.8H616.8H617.8H618.8H619.8H620.8H621.8H622.8H623.8H624.8H625.8H626.8H627.8H628.8H629.8H630.8H631.8H632.8H633.8H634.8H635.8H636.8H637.8H638.8H639.8H640.8H641.8H642.8H643.8H644.8H645.8H646.8H647.8H648.8H649.8H650.8H651.8H652.8H653.8H654.8H655.8H656.8H657.8H658.8V1841.7H659.8V1839.7H660.8V1838.1H661.8V1837.7H662.8H663.8V1838.1H664.8H665.8V1842.8H666.8H667.8V1839.9H668.8H669.8V1842H670.8H671.8V1836.9H672.8H673.8V1838.2H674.8H675.8V1837.4H676.8H677.8V1842.5H678.8H679.8V1841.4H680.8H681.8V1842.7H682.8V1850.8H683.8H684.8H685.8H686.8H687.8H688.8H689.8H690.8H691.8H692.8H693.8H694.8H695.8H696.8H697.8H698.8H699.8H700.8H701.8H702.8H703.8H704.8H705.8H706.8H707.8H708.8H709.8H710.8H711.8H712.8H713.8H714.8H715.8H716.8H717.8H718.8H719.8H720.8H721.8H722.8H723.8V1841.9H724.8H725.8V1841.7H726.8H727.8V1850.8H728.8H729.8H730.8H731.8H732.8H733.8V1836.9H734.8H735.8V1838.1H736.8H737.8V1850.8H738.8H739.8H740.8H741.8H742.8H743.8H744.8H745.8H746.8H747.8H748.8H749.8H750.8H751.8H752.8H753.8H754.8H755.8H756.8H757.8H758.8H759.8H760.8H761.8H762.8H763.8H764.8H765.8H766.8H767.8H768.8H769.8H770.8H771.8H772.8V1842.6H773.8V1841H774.8V1841.1H775.8V1841.8H776.8V1842H777.8V1841.7H778.8V1841.9H779.8V1843.6H780.8V1843.7H781.8V1842.8H782.8V1843H783.8V1844.7H784.8V1844.8H785.8V1844.4H786.8V1850.8H787.8H788.8H789.8H790.8H791.8H792.8H793.8H794.8H795.8H796.8H797.8H798.8H799.8H800.8H801.8H802.8H803.8H804.8H805.8H806.8H807.8H808.8H809.8H810.8H811.8V1845.3H812.8H813.8H814.8V1850.8H815.8H816.8H817.8H818.8H819.8H820.8H821.8H822.8H823.8H824.8H825.8H826.8H827.8H828.8H829.8H830.8H831.8H832.8H833.8H834.8H835.8H836.8H837.8H838.8H839.8H840.8H841.8H842.8V1840.1H843.8V1840.8H844.8V1840.3H845.8V1837.2H846.8V1836.5H847.8V1839.6H848.8V1839.7H849.8V1837.5H850.8V1837.6H851.8V1838H852.8V1838.1H853.8V1839.8H854.8V1839.9H855.8V1840.9H856.8V1841H857.8V1840.3H858.8V1840.4H859.8V1837.6H860.8V1837.7H861.8V1840.2H862.8V1840.3H863.8V1839.8H864.8V1839.9H865.8V1850.8H866.8H867.8H868.8H869.8H870.8H871.8H872.8H873.8H874.8H875.8H876.8H877.8H878.8H879.8H880.8H881.8H882.8H883.8H884.8H885.8H886.8H887.8H888.8H889.8H890.8H891.8H892.8H893.8H894.8H895.8H896.8H897.8H898.8H899.8H900.8H901.8H902.8H903.8H904.8H905.8H906.8H907.8H908.8H909.8H910.8H911.8H912.8H913.8H914.8H915.8H916.8H917.8H918.8H919.8H920.8H921.8H922.8H923.8H924.8H925.8H926.8H927.8H928.8H929.8H930.8H931.8H932.8H933.8H934.8H935.8H936.8H937.8H938.8H939.8H940.8H941.8H942.8H943.8H944.8H945.8H946.8H947.8H948.8H949.8H950.8H951.8H952.8H953.8H954.8H955.8H956.8H957.8H958.8H959.8H960.8H961.8H962.8H963.8H964.8H965.8H966.8H967.8H968.8V1840.2H969.8V1840.5H970.8V1840.4H971.8V1839.9H972.8V1839.8H973.8V1839.4H974.8V1839.2H975.8V1839.9H976.8V1839.8H977.8V1839.1H978.8V1838.9H979.8V1841.2H980.8V1841.1H981.8V1837.3H982.8V1837.1H983.8V1837.5H984.8V1850.8H985.8H986.8H987.8V1846.5H988.8V1846.4H989.8V1846.1H990.8V1846H991.8V1845.6H992.8V1845.4H993.8V1837.8H994.8V1843.3H995.8V1846H996.8V1845.9H997.8H998.8V1845.7H999.8V1843.1H1000.8V1843H1001.8V1844.3H1002.8V1844.1H1003.8V1841.2H1004.8V1841.1H1005.8V1842H1006.8V1841.8H1007.8V1840.3H1008.8V1840.4H1009.8V1843.8H1010.8V1843.9H1011.8V1840.6H1012.8V1840.7H1013.8V1840.5H1014.8V1840.7H1015.8V1841H1016.8V1841.1H1017.8V1841.3H1018.8V1841.5H1019.8V1841.2H1020.8V1841.3H1021.8V1841.8H1022.8V1837.8H1023.8H1024.8V1843.7H1025.8V1842.5H1026.8V1842.6H1027.8V1842.9H1028.8V1843.1H1029.8V1843.3H1030.8V1843.4H1031.8V1844.8H1032.8V1844.9H1033.8V1845H1034.8V1845H1035.8V1846.2H1036.8V1846.3H1037.8V1850.8H1038.8H1039.8H1040.8H1041.8H1042.8H1043.8H1044.8H1045.8H1046.8H1047.8H1048.8H1049.8H1050.8H1051.8H1052.8H1053.8H1054.8H1055.8H1056.8H1057.8H1058.8V1846.8H1059.8V1848.2H1060.8H1061.8V1847.9H1062.8V1847.8H1063.8V1847.3H1064.8V1847.2H1065.8V1847.9H1066.8V1847.8H1067.8V1846H1068.8V1846H1069.8V1847.4H1070.8V1847.3H1071.8V1847.4H1072.8V1847.3H1073.8V1845.3H1074.8V1845.2H1075.8V1846.7H1076.8V1846.7H1077.8V1845H1078.8V1844.9H1079.8V1845.7H1080.8V1845.6H1081.8V1845.8H1082.8V1845.7H1083.8V1844.7H1084.8V1844.6H1085.8V1847H1086.8H1087.8V1844.2H1088.8V1844.1H1089.8V1845.6H1090.8V1845.5H1091.8V1844.5H1092.8V1849.6H1093.8H1094.8H1095.8V1850.5H1096.8H1097.8H1098.8V1850.8H1099.8H1100.8H1101.8V1850.5H1102.8H1103.8H1104.8V1850.2H1105.8H1106.8H1107.8V1850H1108.8H1109.8H1110.8V1850.7H1111.8H1112.8H1113.8H1114.8H1115.8H1116.8V1850.2H1117.8H1118.8H1119.8V1850.5H1120.8H1121.8H1122.8V1850.2H1123.8H1124.8H1125.8V1850.8H1126.8H1127.8H1128.8V1850H1129.8H1130.8H1131.8V1850.8H1132.8H1133.8H1134.8V1850.2H1135.8V1846.8H1136.8V1846.7H1137.8V1846.8H1138.8V1846.8H1139.8V1846.7H1140.8V1846.6H1141.8V1844.4H1142.8V1844.3H1143.8V1844.4H1144.8V1844.3H1145.8V1845.1H1146.8V1845H1147.8V1846.7H1148.8V1846.6H1149.8V1844.6H1150.8V1844.5H1151.8V1846H1152.8V1845.9H1153.8V1845.3H1154.8V1845.2H1155.8V1850.8Z" fill="#cc0000"/>
<text x="174.3" y="1868.8" font-size="12.9" textLength="25.7" lengthAdjust="spacingAndGlyphs" fill="#2a2a2a" stroke="#2a2a2a" stroke-width="0.4">[0 - 31]</text>
<rect x="167.8" y="1908.4" width="988.2" height="2.6" fill="#bcbcbc"/>
<path d="M167.8 1908.4V1908.4H168.8H169.8H170.8H171.8H172.8H173.8H174.8H175.8H176.8H177.8H178.8H179.8H180.8H181.8H182.8H183.8H184.8H185.8H186.8H187.8H188.8V1900.4H189.8V1899.7H190.8H191.8V1900.6H192.8H193.8V1908.4H194.8H195.8H196.8H197.8H198.8H199.8H200.8V1902.6H201.8V1903.9H202.8H203.8V1902.2H204.8H205.8H206.8H207.8V1904.6H208.8H209.8V1904H210.8H211.8V1903.5H212.8H213.8V1903.2H214.8H215.8V1902.6H216.8H217.8V1902.3H218.8H219.8V1901.6H220.8H221.8V1904.8H222.8H223.8V1902.4H224.8H225.8V1903.9H226.8H227.8V1902H228.8H229.8V1902.6H230.8H231.8V1901.7H232.8H233.8V1903.8H234.8H235.8V1902.3H236.8H237.8V1903.6H238.8H239.8V1903.5H240.8H241.8V1900.9H242.8H243.8V1903.9H244.8H245.8V1902.9H246.8H247.8V1904.1H248.8H249.8V1902.7H250.8H251.8V1901.3H252.8H253.8V1904.3H254.8H255.8V1903.3H256.8V1897.9H257.8V1902.7H258.8H259.8V1900.5H260.8H261.8V1903.1H262.8H263.8V1901.8H264.8H265.8V1900.5H266.8H267.8V1903.4H268.8H269.8V1908.4H270.8H271.8H272.8H273.8H274.8H275.8V1903H276.8H277.8V1904.3H278.8H279.8V1903.4H280.8H281.8V1903.2H282.8H283.8V1908.4H284.8H285.8H286.8H287.8H288.8H289.8H290.8H291.8H292.8H293.8H294.8H295.8H296.8H297.8H298.8H299.8H300.8H301.8H302.8H303.8H304.8H305.8H306.8H307.8H308.8H309.8H310.8H311.8H312.8V1899H313.8V1895.8H314.8V1892.4H315.8V1889.3H316.8H317.8V1892.4H318.8H319.8V1889.1H320.8V1892.3H321.8V1896.9H322.8V1908.4H323.8H324.8H325.8H326.8H327.8H328.8H329.8H330.8V1901.8H331.8V1901.4H332.8H333.8V1901.1H334.8H335.8V1908.4H336.8H337.8H338.8H339.8H340.8H341.8H342.8H343.8H344.8H345.8V1899.4H346.8V1898.8H347.8V1897.8H348.8V1897.2H349.8V1897.7H350.8V1897.9H351.8V1892.7H352.8V1892.9H353.8V1897.9H354.8V1898.1H355.8V1894.8H356.8V1895.1H357.8V1908.4H358.8H359.8H360.8H361.8V1897.3H362.8V1890.4H363.8V1885.3H364.8H365.8V1876.7H366.8H367.8V1889.9H368.8V1891.6H369.8V1898H370.8V1899.2H371.8V1897.1H372.8V1898.8H373.8V1900.8H374.8V1901.2H375.8V1901.9H376.8V1902.2H377.8V1901.6H378.8V1908.4H379.8H380.8H381.8H382.8H383.8H384.8H385.8H386.8H387.8H388.8V1873.5H389.8V1865.7H390.8V1869.3H391.8V1886H392.8V1908.4H393.8H394.8H395.8H396.8H397.8H398.8H399.8H400.8H401.8H402.8H403.8H404.8H405.8H406.8H407.8H408.8H409.8H410.8H411.8H412.8H413.8H414.8H415.8H416.8H417.8H418.8H419.8H420.8H421.8H422.8H423.8H424.8H425.8H426.8H427.8H428.8H429.8H430.8H431.8H432.8H433.8H434.8H435.8H436.8H437.8H438.8H439.8H440.8H441.8H442.8H443.8H444.8H445.8H446.8H447.8H448.8H449.8H450.8H451.8H452.8H453.8H454.8H455.8H456.8H457.8H458.8H459.8H460.8H461.8H462.8H463.8H464.8H465.8H466.8H467.8H468.8H469.8H470.8H471.8V1902.1H472.8H473.8V1904.6H474.8H475.8V1902.5H476.8H477.8V1903H478.8H479.8V1903.7H480.8H481.8V1904.1H482.8H483.8V1902.5H484.8H485.8V1902.1H486.8H487.8V1903.3H488.8V1908.4H489.8H490.8H491.8H492.8V1893.6H493.8H494.8H495.8H496.8V1908.4H497.8H498.8H499.8H500.8H501.8H502.8H503.8H504.8V1892.6H505.8V1894.4H506.8H507.8V1892.3H508.8H509.8V1894.3H510.8V1908.4H511.8H512.8V1900.8H513.8V1899.3H514.8H515.8V1899.8H516.8H517.8V1900.8H518.8H519.8V1908.4H520.8H521.8H522.8H523.8H524.8H525.8H526.8H527.8H528.8H529.8H530.8H531.8H532.8H533.8H534.8H535.8H536.8H537.8H538.8V1897.9H539.8H540.8H541.8H542.8V1908.4H543.8H544.8H545.8H546.8V1896.9H547.8V1899.3H548.8V1899.2H549.8V1897.3H550.8V1897.1H551.8V1894.3H552.8V1894.1H553.8V1898.4H554.8V1898.3H555.8V1893H556.8V1892.7H557.8V1895.3H558.8V1895.2H559.8V1894H560.8V1893.8H561.8V1893.3H562.8V1893.1H563.8V1892.6H564.8V1892.6H565.8V1891.6H566.8V1891.7H567.8V1896.2H568.8V1896.3H569.8V1896.4H570.8V1896.4H571.8V1897.5H572.8V1897.5H573.8V1893.2H574.8V1893.3H575.8V1896.9H576.8V1897H577.8V1892.6H578.8V1892.7H579.8V1894.1H580.8V1894.2H581.8V1894.7H582.8V1894.8H583.8V1898.1H584.8V1898.2H585.8V1896.1H586.8V1896.2H587.8V1894.1H588.8V1894.4H589.8V1896.9H590.8V1897.2H591.8V1897.5H592.8V1897.8H593.8V1899.8H594.8V1900H595.8V1896.4H596.8V1896.7H597.8V1899.9H598.8V1900.1H599.8V1897.1H600.8V1897.3H601.8V1900.7H602.8V1900.9H603.8V1899.5H604.8V1899.8H605.8V1901.8H606.8V1902H607.8V1900.6H608.8V1900.8H609.8V1903H610.8V1903.2H611.8V1902.5H612.8V1902.7H613.8V1902.2H614.8V1908.4H615.8H616.8H617.8H618.8H619.8H620.8H621.8H622.8H623.8H624.8H625.8H626.8H627.8H628.8H629.8H630.8H631.8H632.8H633.8H634.8H635.8H636.8H637.8H638.8H639.8H640.8H641.8H642.8H643.8H644.8H645.8H646.8H647.8H648.8H649.8H650.8H651.8H652.8H653.8H654.8H655.8H656.8H657.8H658.8V1900.2H659.8V1899.6H660.8V1899.5H661.8V1895.3H662.8V1895.2H663.8V1898.2H664.8V1898.1H665.8V1898.6H666.8V1898.5H667.8V1893.4H668.8V1893.3H669.8V1894.2H670.8V1894.1H671.8V1899.6H672.8V1899.5H673.8V1898.7H674.8V1898.6H675.8V1895.8H676.8V1889.4H677.8V1898.5H678.8V1898.4H679.8V1898.1H680.8V1898.1H681.8V1897.7H682.8V1908.4H683.8H684.8H685.8H686.8H687.8H688.8H689.8H690.8H691.8H692.8H693.8H694.8H695.8H696.8H697.8H698.8H699.8H700.8H701.8H702.8H703.8H704.8H705.8H706.8H707.8H708.8H709.8H710.8H711.8H712.8H713.8H714.8H715.8H716.8H717.8H718.8H719.8H720.8H721.8H722.8V1891.4H723.8V1891.9H724.8H725.8V1889.2H726.8H727.8V1908.4H728.8H729.8H730.8H731.8H732.8H733.8V1888.6H734.8H735.8V1891.2H736.8H737.8V1908.4H738.8H739.8H740.8H741.8H742.8H743.8H744.8H745.8H746.8H747.8H748.8H749.8H750.8H751.8H752.8H753.8H754.8H755.8H756.8H757.8H758.8H759.8H760.8H761.8H762.8H763.8H764.8H765.8H766.8H767.8H768.8H769.8H770.8H771.8H772.8V1899H773.8V1895.1H774.8V1894.2H775.8V1896.1H776.8V1895.4H777.8V1892.1H778.8V1892.6H779.8V1896.2H780.8V1896.6H781.8V1898H782.8V1898.4H783.8V1896.8H784.8V1897.3H785.8V1897.7H786.8V1908.4H787.8H788.8H789.8H790.8H791.8H792.8H793.8H794.8H795.8H796.8H797.8H798.8H799.8H800.8H801.8H802.8H803.8H804.8H805.8H806.8H807.8H808.8H809.8H810.8H811.8V1903.4H812.8H813.8H814.8H815.8V1908.4H816.8H817.8H818.8H819.8H820.8H821.8H822.8H823.8H824.8H825.8H826.8H827.8H828.8H829.8H830.8H831.8H832.8H833.8H834.8H835.8H836.8H837.8H838.8H839.8H840.8H841.8H842.8V1897.5H843.8V1896.1H844.8H845.8V1896.7H846.8H847.8V1894.4H848.8H849.8V1896.8H850.8H851.8V1897H852.8H853.8V1894.1H854.8H855.8V1893.8H856.8H857.8V1894H858.8H859.8H860.8H861.8V1895.2H862.8H863.8V1896.8H864.8H865.8V1908.4H866.8H867.8H868.8H869.8H870.8H871.8H872.8H873.8H874.8H875.8H876.8H877.8H878.8H879.8H880.8H881.8H882.8H883.8H884.8H885.8H886.8H887.8H888.8H889.8H890.8H891.8H892.8H893.8H894.8H895.8H896.8H897.8H898.8H899.8H900.8H901.8H902.8H903.8H904.8H905.8H906.8H907.8H908.8H909.8H910.8H911.8H912.8H913.8H914.8H915.8H916.8H917.8H918.8H919.8H920.8H921.8H922.8H923.8H924.8H925.8H926.8H927.8H928.8H929.8H930.8H931.8H932.8H933.8H934.8H935.8H936.8H937.8H938.8H939.8H940.8H941.8H942.8H943.8H944.8H945.8H946.8H947.8H948.8H949.8H950.8H951.8H952.8H953.8H954.8H955.8H956.8H957.8H958.8H959.8H960.8H961.8H962.8H963.8H964.8H965.8H966.8H967.8H968.8V1898.5H969.8V1896.3H970.8H971.8H972.8H973.8V1897.2H974.8H975.8V1896H976.8H977.8V1895.9H978.8H979.8V1898H980.8H981.8V1897.3H982.8H983.8V1895.3H984.8V1908.4H985.8V1903.3H986.8V1903.2H987.8V1901.5H988.8V1901.5H989.8V1901.3H990.8V1901.2H991.8V1900.5H992.8V1900.5H993.8V1900.3H994.8V1900.2H995.8V1901.5H996.8V1901.5H997.8V1903.5H998.8H999.8V1902.2H1000.8V1902.1H1001.8V1900.5H1002.8V1900.5H1003.8H1004.8V1900.4H1005.8V1902.9H1006.8H1007.8V1901.8H1008.8V1901.7H1009.8V1900.7H1010.8V1900.6H1011.8V1902.3H1012.8V1902.2H1013.8V1902.2H1014.8V1902.1H1015.8V1901.7H1016.8V1901.7H1017.8V1899.9H1018.8V1899.8H1019.8V1902.4H1020.8H1021.8V1897.5H1022.8V1897.4H1023.8V1902.2H1024.8H1025.8V1902.2H1026.8H1027.8V1897.6H1028.8V1897.5H1029.8H1030.8V1897.4H1031.8V1898H1032.8V1898H1033.8H1034.8V1897.9H1035.8V1898.3H1036.8V1898.2H1037.8V1908.4H1038.8H1039.8H1040.8H1041.8H1042.8H1043.8H1044.8H1045.8H1046.8H1047.8H1048.8H1049.8H1050.8H1051.8H1052.8H1053.8H1054.8H1055.8H1056.8H1057.8H1058.8V1904.5H1059.8V1904H1060.8V1904H1061.8V1904.8H1062.8V1904.7H1063.8V1903.6H1064.8V1903.5H1065.8V1903H1066.8V1903H1067.8V1903.5H1068.8V1903.5H1069.8V1903.9H1070.8V1903.9H1071.8V1904.4H1072.8H1073.8V1902H1074.8V1901.9H1075.8V1903.4H1076.8V1903.4H1077.8V1901.7H1078.8V1901.6H1079.8H1080.8V1901.5H1081.8V1904.3H1082.8H1083.8H1084.8H1085.8V1901.5H1086.8V1901.5H1087.8V1901.3H1088.8V1901.2H1089.8H1090.8V1901.1H1091.8V1902.4H1092.8V1908.4H1093.8H1094.8H1095.8H1096.8H1097.8H1098.8H1099.8H1100.8H1101.8H1102.8H1103.8H1104.8H1105.8H1106.8H1107.8H1108.8H1109.8H1110.8H1111.8H1112.8H1113.8H1114.8H1115.8H1116.8H1117.8H1118.8H1119.8H1120.8H1121.8H1122.8H1123.8H1124.8H1125.8H1126.8H1127.8V1903.1H1128.8V1903H1129.8V1905.1H1130.8V1905.1H1131.8V1904.4H1132.8V1904.3H1133.8V1903.7H1134.8V1903.6H1135.8V1903.7H1136.8V1903.6H1137.8V1903.2H1138.8V1903.1H1139.8V1904.6H1140.8V1904.5H1141.8V1902.9H1142.8V1902.8H1143.8V1902.2H1144.8V1902.1H1145.8V1903.2H1146.8V1903.1H1147.8V1901.2H1148.8V1901.1H1149.8V1900.5H1150.8V1900.4H1151.8V1900.7H1152.8V1900.6H1153.8V1902.2H1154.8V1902.1H1155.8V1908.4Z" fill="#cc0000"/>
<text x="174.3" y="1926.3" font-size="12.9" textLength="32.6" lengthAdjust="spacingAndGlyphs" fill="#2a2a2a" stroke="#2a2a2a" stroke-width="0.4">[0 - 4.99]</text>
<rect x="167.8" y="1965.9" width="988.2" height="2.6" fill="#bcbcbc"/>
<path d="M167.8 1965.9V1965.9H168.8H169.8V1957.5H170.8V1950H171.8V1947.5H172.8V1945H173.8V1945.8H174.8V1943.6H175.8V1941.5H176.8V1947.5H177.8V1948.1H178.8V1951.9H179.8V1951.3H180.8V1951H181.8V1950.6H182.8V1954.2H183.8V1954H184.8V1953.7H185.8V1946.8H186.8V1946.4H187.8V1946H188.8H189.8V1945.6H190.8V1945.2H191.8V1950.2H192.8V1949.9H193.8V1949.6H194.8V1941.1H195.8V1940.7H196.8V1940.3H197.8V1942.8H198.8V1943.6H199.8V1944.5H200.8V1948.5H201.8V1949.2H202.8V1949.8H203.8V1947.3H204.8V1948.1H205.8V1949H206.8V1949.1H207.8V1950H208.8V1950.8H209.8V1952.4H210.8V1953.2H211.8V1954.1H212.8V1958.6H213.8V1959.2H214.8V1959.7H215.8V1956.2H216.8V1957.1H217.8V1958H218.8V1960.6H219.8V1960H220.8V1959.4H221.8V1954.5H222.8V1953.5H223.8V1952.5H224.8V1955.5H225.8V1954.7H226.8V1954H227.8V1953.4H228.8V1952.8H229.8V1952.3H230.8V1954.3H231.8V1953.8H232.8V1953.4H233.8V1948.4H234.8V1947.8H235.8V1947.2H236.8V1948.8H237.8V1948.2H238.8V1947.7H239.8V1942.2H240.8V1941.5H241.8V1941.9H242.8V1945.1H243.8V1945.4H244.8V1945.7H245.8V1948.3H246.8V1948.6H247.8V1948.8H248.8V1942.2H249.8V1942.5H250.8V1942.9H251.8V1948.5H252.8V1948.8H253.8V1949H254.8V1944.2H255.8V1944.6H256.8V1945H257.8V1947.1H258.8V1947.4H259.8V1947.7H260.8V1955.1H261.8V1955.3H262.8V1955.5H263.8V1950.6H264.8V1950.9H265.8V1951.2H266.8V1952.6H267.8V1952.9H268.8V1952.5H269.8V1950.1H270.8V1949.7H271.8V1949.3H272.8V1953.4H273.8V1953.1H274.8V1952.8H275.8V1950.6H276.8V1950.2H277.8V1949.9H278.8V1953.7H279.8V1953.4H280.8V1953.2H281.8V1950.7H282.8V1950.4H283.8V1950.1H284.8V1945.5H285.8V1946.5H286.8V1947.5H287.8V1953.7H288.8V1954.4H289.8V1955.1H290.8V1948.6H291.8V1949.8H292.8V1951H293.8V1958.4H294.8V1959.4H295.8V1960.4H296.8V1961.1H297.8V1962.1H298.8V1960.8H299.8V1956.1H300.8V1954.1H301.8V1952.1H302.8V1949.3H303.8V1948.1H304.8V1946.8H305.8V1947.4H306.8V1946.3H307.8V1945.2H308.8V1950.4H309.8V1949.6H310.8V1949.1H311.8V1947.1H312.8V1947H313.8V1946.9H314.8V1948.7H315.8V1948.6H316.8V1948.5H317.8V1946.7H318.8V1946.6H319.8V1946.5H320.8V1935.7H321.8V1935.6H322.8V1935.4H323.8V1945.3H324.8V1945.2H325.8V1945.1H326.8H327.8V1945H328.8V1944.9H329.8H330.8V1944.8H331.8V1944.6H332.8V1933.4H333.8V1933.2H334.8V1932.9H335.8V1938.7H336.8V1938.6H337.8V1938.4H338.8V1937.1H339.8V1936.9H340.8V1936.7H341.8V1948.6H342.8V1948.4H343.8V1949.5H344.8V1937H345.8V1940.4H346.8V1943.9H347.8V1955.8H348.8V1957.7H349.8V1959.5H350.8V1955.8H351.8V1953.7H352.8V1951.5H353.8V1948.6H354.8V1946.3H355.8V1944.1H356.8V1941.9H357.8V1939.7H358.8V1938.4H359.8V1942H360.8V1942.9H361.8V1943.8H362.8V1937.6H363.8V1938.8H364.8V1940H365.8V1943.7H366.8V1944.8H367.8V1945.9H368.8V1949.2H369.8V1946.4H370.8V1943.6H371.8V1924.5H372.8V1920.7H373.8V1924.4H374.8V1940.9H375.8V1944.7H376.8V1948.5H377.8V1950H378.8V1951.4H379.8V1952.8H380.8V1954.5H381.8V1955.9H382.8V1957.3H383.8V1948.8H384.8V1943.1H385.8V1937.4H386.8V1936.7H387.8V1957.1H388.8H389.8V1955.8H390.8H391.8H392.8V1956.6H393.8H394.8H395.8V1958.4H396.8H397.8V1954.2H398.8V1950.4H399.8V1946.4H400.8H401.8V1934H402.8H403.8H404.8V1940.5H405.8H406.8H407.8V1942.2H408.8H409.8H410.8V1936.8H411.8H412.8H413.8V1949.6H414.8H415.8H416.8V1940.3H417.8H418.8H419.8V1936.3H420.8V1936.5H421.8V1936.6H422.8V1941.1H423.8V1941.2H424.8V1941.3H425.8V1935.9H426.8V1936H427.8V1936.1H428.8V1946.9H429.8V1947H430.8V1947.1H431.8V1938H432.8V1938.1H433.8V1938.2H434.8V1948.1H435.8V1948.2H436.8V1948.3H437.8V1944.6H438.8V1944.7H439.8V1944.8H440.8V1950.8H441.8V1950.8H442.8V1950.9H443.8V1942H444.8V1942.2H445.8V1942.3H446.8V1942.9H447.8V1943.1H448.8V1943.2H449.8V1946.8H450.8V1946.9H451.8V1947H452.8V1940.3H453.8V1940.4H454.8V1940.6H455.8V1945.8H456.8V1946H457.8V1946.1H458.8V1946H459.8V1946.1H460.8V1946.2H461.8V1940.1H462.8V1940.3H463.8V1940.4H464.8V1948.7H465.8V1948.8H466.8V1948.9H467.8V1942.1H468.8V1942.3H469.8V1942.4H470.8V1947.9H471.8V1948H472.8V1948.1H473.8V1951.6H474.8H475.8H476.8V1942.7H477.8H478.8H479.8V1951.8H480.8H481.8H482.8V1949.4H483.8H484.8H485.8V1946.1H486.8H487.8H488.8V1949.2H489.8H490.8H491.8V1937.1H492.8V1947.9H493.8V1948.1H494.8V1949.3H495.8V1949.4H496.8V1949.5H497.8V1950.1H498.8V1950.3H499.8V1950.4H500.8V1945.4H501.8V1945.6H502.8V1945.8H503.8V1954.6H504.8V1954.7H505.8V1954.8H506.8V1948.8H507.8V1949H508.8V1949.1H509.8V1952.3H510.8V1952.5H511.8V1952.6H512.8V1950.3H513.8V1950.4H514.8V1950.6H515.8V1953.7H516.8V1953.8H517.8V1954H518.8V1947.7H519.8V1947.9H520.8V1948.1H521.8V1950.8H522.8V1950.9H523.8V1951.1H524.8V1949.3H525.8V1949.5H526.8V1949.7H527.8V1950H528.8V1950.2H529.8V1950.4H530.8V1951.7H531.8V1951.9H532.8V1950.6H533.8V1952.1H534.8V1951H535.8V1949.9H536.8V1952.6H537.8V1951.7H538.8V1950.9H539.8V1941.7H540.8V1940.4H541.8V1939.1H542.8V1945.4H543.8V1946.1H544.8V1946.9H545.8V1941.8H546.8V1942.8H547.8V1943.7H548.8V1943.9H549.8V1944.9H550.8V1945.9H551.8V1950.9H552.8V1951.7H553.8V1952.5H554.8V1953.8H555.8V1954.5H556.8V1955.3H557.8V1951.9H558.8V1952.4H559.8V1952.5H560.8V1953.4H561.8V1953.4H562.8V1953.5H563.8V1957.6H564.8V1957.7H565.8V1957.7H566.8V1957.1H567.8V1957.2H568.8V1957.2H569.8V1959H570.8H571.8H572.8V1954.7H573.8V1954.8H574.8V1954.9H575.8V1957.5H576.8V1957.6H577.8V1957.6H578.8V1958.3H579.8V1958.4H580.8V1958.5H581.8V1958.6H582.8V1958.7H583.8V1958.7H584.8V1954H585.8V1954H586.8V1954.1H587.8V1956.9H588.8V1956.4H589.8V1955.9H590.8V1958.4H591.8V1958H592.8V1957.6H593.8V1951H594.8V1950.4H595.8V1949.8H596.8V1948.7H597.8V1948.1H598.8V1948.7H599.8V1949.6H600.8V1950.3H601.8V1950.9H602.8V1953.3H603.8V1953.8H604.8V1954.4H605.8V1952.7H606.8V1953.4H607.8V1954.1H608.8V1958.2H609.8V1958.4H610.8V1958.6H611.8V1958.7H612.8V1958.9H613.8V1959.1H614.8V1957.6H615.8V1957.9H616.8V1958.1H617.8V1957.8H618.8V1958.1H619.8V1958.3H620.8V1959.4H621.8V1961.4H622.8V1963.3H623.8V1965.5H624.8V1960.2H625.8V1954.9H626.8V1948.9H627.8V1948.9H628.8V1948.8H629.8V1947.3H630.8V1947.2H631.8V1947.1H632.8V1951.1H633.8H634.8H635.8V1947.6H636.8V1947.6H637.8V1947.5H638.8V1947.9H639.8V1947.8H640.8V1947.8H641.8V1947.2H642.8V1947.1H643.8V1947.1H644.8V1954.2H645.8H646.8H647.8V1951.9H648.8V1951.8H649.8V1951.6H650.8V1946.6H651.8V1946.4H652.8V1946.2H653.8V1954.3H654.8V1954.2H655.8V1954.1H656.8V1946H657.8V1945.8H658.8V1945.6H659.8V1953H660.8V1952.9H661.8V1952.8H662.8V1946.9H663.8V1946.8H664.8V1946.6H665.8V1953.2H666.8V1953.1H667.8V1953H668.8V1952.7H669.8V1952.6H670.8V1952.7H671.8V1954.1H672.8V1954.2H673.8V1954.3H674.8V1951.1H675.8V1951.3H676.8V1951.4H677.8V1944.4H678.8V1944.6H679.8V1944.8H680.8V1954.8H681.8V1954.9H682.8V1955H683.8V1952.9H684.8V1953.1H685.8V1953.2H686.8H687.8V1953.3H688.8H689.8V1949.8H690.8H691.8H692.8V1950.3H693.8H694.8H695.8V1955.1H696.8H697.8H698.8V1951.4H699.8H700.8H701.8V1947.7H702.8H703.8H704.8V1951.7H705.8V1949.2H706.8V1946.6H707.8V1933.6H708.8V1933.4H709.8V1933.1H710.8V1940.5H711.8V1940.4H712.8V1940.2H713.8V1929.6H714.8V1929.3H715.8V1929.1H716.8V1937.7H717.8V1937.5H718.8V1937.3H719.8V1938H720.8V1937.8H721.8V1937.6H722.8V1938.2H723.8V1938H724.8V1937.8H725.8V1924.4H726.8V1924.2H727.8V1923.9H728.8V1928.2H729.8V1927.9H730.8V1927.7H731.8V1940.9H732.8V1940.7H733.8V1940.5H734.8V1928.3H735.8V1928.1H736.8V1927.9H737.8V1921H738.8V1920.7H739.8V1920.4H740.8V1920.3H741.8V1920H742.8V1920.3H743.8V1924.2H744.8V1924.4H745.8V1924.6H746.8V1926.7H747.8V1926.9H748.8V1927.1H749.8V1939.4H750.8V1939.6H751.8V1939.7H752.8V1924.8H753.8V1925.1H754.8V1925.3H755.8V1935.1H756.8V1935.3H757.8V1935.5H758.8V1924.6H759.8V1924.8H760.8V1925.1H761.8V1940.5H762.8V1940.7H763.8V1940.9H764.8V1934.1H765.8V1934.3H766.8V1934.5H767.8V1928.9H768.8V1943.5H769.8V1943.5H770.8V1942.7H771.8V1942.8H772.8V1942.9H773.8V1929.9H774.8V1930H775.8V1930.2H776.8V1940.1H777.8V1940.2H778.8V1940.3H779.8V1930.7H780.8V1930.8H781.8V1931H782.8V1928.9H783.8V1929.1H784.8V1929.2H785.8V1929.7H786.8V1929.8H787.8V1927.9H788.8V1930.5H789.8V1930.4H790.8V1930.2H791.8V1943.9H792.8V1943.8H793.8V1943.8H794.8V1935.7H795.8V1935.6H796.8V1935.5H797.8V1929.9H798.8V1929.8H799.8V1929.6H800.8V1927.2H801.8V1927.1H802.8V1926.9H803.8V1939.3H804.8V1939.2H805.8V1939.1H806.8V1930.6H807.8V1930.5H808.8H809.8V1943.5H810.8H811.8H812.8V1926.1H813.8H814.8H815.8V1946.3H816.8H817.8H818.8V1937.3H819.8H820.8H821.8V1929.8H822.8H823.8H824.8V1935.9H825.8H826.8H827.8V1926H828.8H829.8H830.8V1944.1H831.8H832.8H833.8V1934.3H834.8H835.8H836.8V1942.9H837.8H838.8H839.8V1943.1H840.8H841.8H842.8V1944H843.8H844.8H845.8V1956H846.8H847.8H848.8V1958.6H849.8H850.8H851.8V1956.5H852.8H853.8H854.8V1957.8H855.8H856.8H857.8V1955H858.8H859.8H860.8V1956.2H861.8H862.8H863.8V1954.1H864.8H865.8H866.8V1953.8H867.8H868.8H869.8V1958.4H870.8H871.8H872.8V1955.5H873.8H874.8H875.8V1959H876.8H877.8H878.8V1954.7H879.8H880.8H881.8V1958.3H882.8H883.8H884.8V1957.1H885.8H886.8H887.8V1953.8H888.8H889.8H890.8V1957.6H891.8H892.8H893.8V1955.2H894.8H895.8H896.8V1953.1H897.8H898.8H899.8V1953.4H900.8H901.8H902.8V1953.4H903.8H904.8H905.8V1952.2H906.8H907.8H908.8V1952.4H909.8H910.8H911.8V1954.7H912.8H913.8H914.8V1954.6H915.8H916.8H917.8V1955.8H918.8H919.8H920.8V1955.4H921.8V1955.4H922.8V1955.3H923.8V1952.3H924.8V1952.2H925.8V1952.1H926.8V1952.5H927.8V1952.4H928.8V1952.4H929.8V1952.7H930.8V1952.6H931.8V1952.6H932.8V1953.9H933.8V1953.8H934.8V1953.8H935.8V1952.2H936.8V1952.2H937.8V1952.1H938.8V1952.4H939.8V1952.2H940.8V1952H941.8V1952.1H942.8V1952H943.8V1951.8H944.8V1955.6H945.8V1955.5H946.8V1955.4H947.8V1947.9H948.8V1947.7H949.8V1947.5H950.8V1954.5H951.8V1954.4H952.8V1954.3H953.8V1948.4H954.8V1948.2H955.8V1948H956.8V1947H957.8V1946.8H958.8V1947.2H959.8V1950H960.8V1950.4H961.8V1950.7H962.8V1954.6H963.8V1954.9H964.8V1955.1H965.8V1956.2H966.8V1956.4H967.8V1956.6H968.8V1956.5H969.8H970.8H971.8V1956.4H972.8H973.8H974.8V1952.7H975.8H976.8H977.8V1950.5H978.8H979.8H980.8V1952.4H981.8H982.8H983.8V1953.3H984.8H985.8H986.8V1952.7H987.8H988.8H989.8V1954.6H990.8H991.8H992.8V1952.7H993.8H994.8H995.8V1952.8H996.8H997.8H998.8V1955.6H999.8H1000.8H1001.8V1955.7H1002.8H1003.8H1004.8V1955.9H1005.8H1006.8H1007.8V1957.2H1008.8H1009.8H1010.8V1954.2H1011.8H1012.8H1013.8V1955.7H1014.8H1015.8H1016.8V1949.8H1017.8H1018.8H1019.8V1949.9H1020.8H1021.8H1022.8V1950.7H1023.8H1024.8H1025.8V1950H1026.8H1027.8H1028.8V1955.1H1029.8H1030.8H1031.8V1950.2H1032.8H1033.8H1034.8V1955.3H1035.8H1036.8H1037.8V1953.7H1038.8H1039.8H1040.8V1957.1H1041.8V1957H1042.8V1957H1043.8V1956.1H1044.8V1956.1H1045.8V1956H1046.8V1953.8H1047.8V1953.7H1048.8V1953.7H1049.8V1951.9H1050.8V1951.8H1051.8V1951.8H1052.8V1952.8H1053.8V1952.7H1054.8V1952.7H1055.8V1950.3H1056.8V1950.2H1057.8V1950.1H1058.8V1952.9H1059.8V1952.8H1060.8V1952.8H1061.8V1956.3H1062.8V1956.2H1063.8V1956.2H1064.8V1955H1065.8V1954.9H1066.8V1954.9H1067.8V1948.9H1068.8V1948.7H1069.8V1948.4H1070.8V1948.7H1071.8V1948.5H1072.8V1948.3H1073.8V1954.6H1074.8V1954.5H1075.8V1954.4H1076.8V1949.8H1077.8V1949.6H1078.8V1949.5H1079.8V1946.1H1080.8V1945.9H1081.8V1945.7H1082.8V1948.1H1083.8V1947.9H1084.8V1947.8H1085.8V1943.3H1086.8V1943.2H1087.8V1943.2H1088.8V1943.7H1089.8V1943.6H1090.8V1943.6H1091.8V1945.7H1092.8V1945.6H1093.8V1945.6H1094.8V1950.5H1095.8H1096.8H1097.8V1945.7H1098.8V1945.6H1099.8V1945.6H1100.8V1948.3H1101.8H1102.8H1103.8V1953.8H1104.8H1105.8H1106.8V1946.6H1107.8H1108.8H1109.8V1950.7H1110.8H1111.8H1112.8V1944.5H1113.8V1944.5H1114.8V1944.4H1115.8V1948.1H1116.8H1117.8H1118.8V1946.7H1119.8H1120.8H1121.8V1948.6H1122.8H1123.8H1124.8V1950H1125.8H1126.8H1127.8V1944H1128.8V1943.9H1129.8V1943.7H1130.8V1948.1H1131.8V1947.9H1132.8V1947.8H1133.8V1942.2H1134.8V1942H1135.8V1941.9H1136.8V1940.2H1137.8V1940.1H1138.8V1939.9H1139.8V1941.9H1140.8V1941.8H1141.8V1941.6H1142.8V1943.2H1143.8V1943.1H1144.8V1943H1145.8V1942.6H1146.8V1942.5H1147.8V1942.4H1148.8V1941.4H1149.8V1941.3H1150.8V1941.1H1151.8V1945.3H1152.8V1945.2H1153.8V1946H1154.8V1948.7H1155.8V1965.9Z" fill="#96ccfc"/>
<text x="174.3" y="1983.8" font-size="12.9" textLength="32.6" lengthAdjust="spacingAndGlyphs" fill="#2a2a2a" stroke="#2a2a2a" stroke-width="0.4">[0 - 4.99]</text>
<rect x="167.8" y="2023.4" width="988.2" height="2.6" fill="#bcbcbc"/>
<path d="M167.8 2023.4V2023.4H168.8H169.8V2007.6H170.8V2009H171.8V2007.6H172.8V2006.1H173.8V2007.9H174.8V2006.8H175.8V1995H176.8H177.8V2003H178.8V2003.7H179.8V1997.4H180.8V1998.4H181.8V1999.4H182.8V1999.2H183.8V2000.2H184.8V2001.2H185.8V2005.4H186.8V2006.3H187.8V2007.1H188.8V2012.9H189.8V2013.1H190.8V2013.3H191.8V2009.5H192.8V2009.8H193.8V2010H194.8V2010.2H195.8V2010.5H196.8V2010.8H197.8V2014.8H198.8V2015H199.8V2015.2H200.8V2013.5H201.8V2013.8H202.8V2014H203.8V2010.2H204.8V2010.6H205.8V2010.9H206.8V2015.5H207.8V2015.8H208.8V2016H209.8V2012.1H210.8V2012.5H211.8V2012.9H212.8V2017.4H213.8V2017.1H214.8V2016.8H215.8V2012.4H216.8V2011.9H217.8V2011.3H218.8V2012.2H219.8V2011.8H220.8V2011.3H221.8V2007.7H222.8V2007.1H223.8V2006.5H224.8V2010.7H225.8V2010.3H226.8V2009.9H227.8V2004H228.8V2003.4H229.8V2002.7H230.8V2011.7H231.8V2011.3H232.8V2010.9H233.8V2004.7H234.8V2004.1H235.8V2003.6H236.8V2006.6H237.8V2006.1H238.8V2005.7H239.8V2006.4H240.8V2006H241.8V2006.1H242.8V2004.1H243.8V2004.2H244.8V2004.3H245.8V2002.6H246.8V2002.7H247.8V2002.8H248.8V1996.3H249.8V1996.4H250.8V1996.5H251.8V2006.2H252.8V2006.3H253.8V2006.4H254.8V2003H255.8V2003.1H256.8V2003.2H257.8V2008.3H258.8V2008.4H259.8V2008.4H260.8V2001.4H261.8V2001.5H262.8V2001.7H263.8V2005.6H264.8V2005.7H265.8V2005.8H266.8V2000.1H267.8V2000.2H268.8V2000.4H269.8V1999.5H270.8V1999.6H271.8V1999.7H272.8V2002.6H273.8V2002.8H274.8V2002.9H275.8V2003.4H276.8V2003.5H277.8V2003.6H278.8V2001.8H279.8V2001.9H280.8V2002H281.8V2006.7H282.8V2006.8H283.8V2006.9H284.8V2006.6H285.8V2006.7H286.8V2006.8H287.8V2003.1H288.8V2003H289.8V2002.9H290.8V2002.4H291.8V2002.3H292.8V2002.2H293.8V2010.5H294.8V2010.4H295.8V2010.4H296.8V2005.4H297.8V2005.3H298.8V2005.3H299.8V2004.2H300.8V2004.1H301.8V2004H302.8V2002H303.8V2001.9H304.8V2001.8H305.8V2006.1H306.8V2006H307.8V2005.9H308.8V2003.7H309.8V2003.6H310.8V2003.5H311.8V2009.2H312.8V2009.1H313.8V2009.1H314.8V2005.3H315.8V2005.3H316.8V2005.2H317.8V2005.6H318.8V2005.5H319.8V2005.4H320.8V2004H321.8V2003.9H322.8V1995H323.8H324.8V2009.1H325.8V2009.2H326.8V2005.8H327.8V2005.9H328.8V2006H329.8V2001.2H330.8V2001.4H331.8V2001.5H332.8V2009.6H333.8V2009.7H334.8V2009.8H335.8V1999.1H336.8V1999.2H337.8V1999.4H338.8V1999.7H339.8V1999.8H340.8V1999.9H341.8V2006.8H342.8V2006.9H343.8V2008.1H344.8V2005H345.8V2006.6H346.8V2008.1H347.8V2013.8H348.8V2014.9H349.8V2015.9H350.8V2015.2H351.8V2014.4H352.8V2013.6H353.8V2006.8H354.8V2005.5H355.8V2004.2H356.8V2006H357.8V2004.9H358.8V2003.7H359.8V1999.9H360.8V1998.5H361.8V1997.2H362.8V1999.7H363.8V1998.6H364.8V1997.4H365.8V1991H366.8V1989.6H367.8V1988.3H368.8V1988H369.8V1986.7H370.8V1985.4H371.8V1989.1H372.8H373.8H374.8V1999.1H375.8H376.8H377.8V1982.2H378.8V1992.8H379.8V2007.9H380.8V2003.9H381.8V1999.6H382.8V1995.4H383.8V1991.1H384.8V1991.8H385.8V2011.9H386.8V2014.6H387.8H388.8H389.8V2015.4H390.8H391.8H392.8V2016H393.8H394.8H395.8V2014.4H396.8H397.8V2010.1H398.8V2006.1H399.8V2001.8H400.8H401.8V1998.3H402.8V1998.2H403.8V1998.2H404.8V2007.3H405.8H406.8H407.8V2006.3H408.8H409.8H410.8V2002.2H411.8H412.8H413.8V2005H414.8H415.8H416.8V2004.2H417.8H418.8H419.8V1998.9H420.8V1999H421.8V1999.1H422.8V2001.9H423.8V2002H424.8V2002.1H425.8V1998.7H426.8V1998.8H427.8V1998.9H428.8V2002.9H429.8V2003H430.8V2003.1H431.8V2005.7H432.8V2005.8H433.8V2005.8H434.8V2002.3H435.8V2002.4H436.8V2002.5H437.8V1997.7H438.8V1997.8H439.8V1998H440.8V2000.2H441.8V2000.3H442.8V2000.4H443.8V2008.3H444.8V2008.3H445.8V2008.4H446.8V1999H447.8V1999.1H448.8V1999.2H449.8V2000.2H450.8V2000.4H451.8V2000.5H452.8V2005.7H453.8V2005.8H454.8V2005.9H455.8V2008.9H456.8V2009H457.8V2009.1H458.8V2000.7H459.8V2000.8H460.8V2000.9H461.8V2002.4H462.8V2002.5H463.8V2002.6H464.8V2000.7H465.8V2000.8H466.8V2000.9H467.8V2001H468.8H469.8H470.8V2000.2H471.8H472.8H473.8V2007H474.8H475.8H476.8V2006.7H477.8H478.8H479.8V2002.8H480.8H481.8H482.8V2005.6H483.8H484.8H485.8V2002.6H486.8H487.8H488.8V2000.2H489.8H490.8H491.8V2008.9H492.8H493.8H494.8V2001H495.8H496.8H497.8V2005.1H498.8H499.8H500.8V2005.5H501.8H502.8H503.8V2006.4H504.8H505.8H506.8V2002.7H507.8H508.8H509.8V2010.6H510.8H511.8H512.8V2004H513.8H514.8H515.8V2005H516.8H517.8H518.8V2001.7H519.8H520.8H521.8V2002.2H522.8H523.8H524.8V2006.5H525.8H526.8H527.8V2003.9H528.8H529.8H530.8V2000.1H531.8H532.8H533.8V2002.8H534.8H535.8V1999.4H536.8H537.8V2003.1H538.8V2003.6H539.8V2001.9H540.8V2002.4H541.8V2002.9H542.8V2009.6H543.8V2010H544.8V2010.3H545.8V2006.7H546.8V2007.1H547.8V2007.6H548.8V2009.7H549.8V2010.1H550.8V2010.6H551.8V2012.2H552.8V2012.6H553.8V2013H554.8V2011.1H555.8V2011.6H556.8V2012.1H557.8V2012.2H558.8V2012.5H559.8H560.8V2011.9H561.8H562.8H563.8V2015H564.8H565.8H566.8V2014.2H567.8H568.8H569.8V2014.9H570.8H571.8H572.8V2016.7H573.8H574.8H575.8V2014.5H576.8H577.8H578.8V2013.6H579.8H580.8H581.8V2017.1H582.8H583.8H584.8V2016.4H585.8H586.8H587.8V2012.9H588.8H589.8H590.8V2012.4H591.8H592.8H593.8V2015.2H594.8H595.8H596.8V2015.4H597.8H598.8H599.8V2014.6H600.8H601.8H602.8V2016.9H603.8H604.8H605.8V2017.1H606.8H607.8H608.8V2013H609.8H610.8H611.8V2015.4H612.8H613.8H614.8V2014.1H615.8H616.8H617.8V2013.2H618.8H619.8H620.8V2014.2H621.8H622.8H623.8V2014.3H624.8H625.8H626.8V2015.3H627.8H628.8V2014.6H629.8V2014.2H630.8V2013.5H631.8V2012.8H632.8V2012.9H633.8V2012.3H634.8V2011.6H635.8V2012.1H636.8V2011.5H637.8V2011H638.8V2009.8H639.8V2009.7H640.8V2009.7H641.8V2012.1H642.8H643.8H644.8V2007.2H645.8V2007.1H646.8V2007H647.8V2010.8H648.8V2010.8H649.8V2010.7H650.8V2007H651.8V2007H652.8V2006.9H653.8V2006.2H654.8V2006.1H655.8V2001.6H656.8H657.8V2010.5H658.8H659.8V2009.9H660.8V2009.9H661.8V2009.8H662.8V2010.4H663.8H664.8H665.8V2006.9H666.8V2006.9H667.8V2006.8H668.8V2005.5H669.8V2005.5H670.8V2005.9H671.8V2002.7H672.8V2003.2H673.8V2003.8H674.8V2010.9H675.8V2011.2H676.8V2011.6H677.8V2012.5H678.8V2012.8H679.8V2013.1H680.8V2013.9H681.8V2014.2H682.8V2012.9H683.8V2005.9H684.8V2004H685.8V2002.1H686.8V2008H687.8V2006.7H688.8V2006.6H689.8V1995.3H690.8V1995.2H691.8V1995.1H692.8V2001.5H693.8V2001.5H694.8V2001.4H695.8V2003.9H696.8V2003.8H697.8V2003.7H698.8V1995H699.8V1994.9H700.8V1994.8H701.8V2003.2H702.8V2003.2H703.8V2003.1H704.8V2004H705.8V2003.9H706.8V2003.8H707.8V2001.5H708.8V2001.4H709.8V2001.3H710.8V1996.3H711.8V1996.2H712.8V1996.1H713.8V2000.8H714.8V2000.7H715.8V2000.6H716.8V1997.1H717.8V1997.1H718.8V1997H719.8V1993.6H720.8V1993.5H721.8V1993.4H722.8V2000.5H723.8V2000.4H724.8V2000.4H725.8V1995.4H726.8V1995.3H727.8V1995.3H728.8V1995.7H729.8H730.8H731.8V1994H732.8H733.8H734.8V1993H735.8H736.8H737.8V1987.4H738.8V2002.2H739.8H740.8V2000.5H741.8H742.8H743.8V2000.1H744.8H745.8H746.8V1995.5H747.8H748.8H749.8V1995.3H750.8H751.8H752.8V2005.3H753.8H754.8H755.8V2004.8H756.8H757.8H758.8V1999.9H759.8H760.8H761.8V1996.7H762.8H763.8H764.8V1995.1H765.8H766.8H767.8V2000.6H768.8H769.8H770.8V1998.1H771.8H772.8H773.8V1997H774.8H775.8H776.8V1998.2H777.8H778.8H779.8V1989.4H780.8V2004.8H781.8H782.8V1999.5H783.8H784.8H785.8V1993.8H786.8H787.8H788.8V1997.7H789.8H790.8H791.8V2003.2H792.8H793.8H794.8V2001.7H795.8H796.8H797.8V1997.3H798.8H799.8H800.8V1993.4H801.8H802.8H803.8V1998.2H804.8H805.8H806.8V1994.7H807.8V1989.4H808.8V1994.7H809.8V2005.9H810.8H811.8H812.8V2001.8H813.8H814.8H815.8V1996.4H816.8H817.8H818.8V1994.7H819.8H820.8H821.8V1997.1H822.8H823.8H824.8V2000H825.8H826.8H827.8V1996.7H828.8H829.8H830.8V1997.5H831.8H832.8H833.8V1995.3H834.8H835.8H836.8V1998.9H837.8H838.8H839.8V2004.5H840.8H841.8H842.8V2003.3H843.8H844.8H845.8V2011.2H846.8H847.8H848.8V2012.5H849.8H850.8H851.8V2012.8H852.8H853.8H854.8V2013.7H855.8H856.8H857.8V2013.1H858.8H859.8H860.8V2015.3H861.8H862.8H863.8V2010.6H864.8H865.8H866.8V2016.2H867.8H868.8H869.8V2010.4H870.8H871.8H872.8V2013.2H873.8H874.8H875.8V2012.3H876.8H877.8H878.8V2011.6H879.8H880.8H881.8V2011.4H882.8H883.8H884.8V2010.8H885.8H886.8H887.8V2011.3H888.8H889.8H890.8V2015H891.8H892.8H893.8V2009.9H894.8H895.8H896.8V2010.2H897.8H898.8H899.8V2012.6H900.8H901.8H902.8V2011.9H903.8H904.8H905.8V2010.8H906.8H907.8H908.8V2010.5H909.8H910.8H911.8V2014.5H912.8H913.8H914.8V2015.4H915.8H916.8H917.8V2009.5H918.8H919.8H920.8V2011.1H921.8H922.8H923.8V2012.5H924.8H925.8H926.8V2014.2H927.8H928.8H929.8V2015.1H930.8H931.8H932.8V2014.3H933.8H934.8H935.8V2012.9H936.8H937.8H938.8V2008.7H939.8H940.8H941.8V2011.8H942.8H943.8H944.8V2010.1H945.8H946.8H947.8V2015H948.8H949.8H950.8V2008.4H951.8H952.8H953.8V2008.7H954.8H955.8H956.8V2011.4H957.8H958.8H959.8V2012.3H960.8H961.8H962.8V2012.1H963.8H964.8H965.8V2009.5H966.8H967.8H968.8V2013.4H969.8H970.8H971.8V2013H972.8H973.8H974.8V2010.6H975.8H976.8H977.8V2011.8H978.8H979.8H980.8V2009.3H981.8H982.8H983.8V2011.4H984.8H985.8H986.8V2013.1H987.8H988.8H989.8V2012.6H990.8H991.8H992.8V2014.5H993.8H994.8H995.8V2011H996.8H997.8H998.8V2011.2H999.8H1000.8H1001.8V2007.4H1002.8H1003.8H1004.8V2007.3H1005.8H1006.8H1007.8V2011.9H1008.8H1009.8H1010.8V2014.4H1011.8H1012.8H1013.8V2009.6H1014.8H1015.8H1016.8V2009.8H1017.8H1018.8H1019.8V2014.1H1020.8H1021.8H1022.8V2010.6H1023.8H1024.8H1025.8V2013H1026.8H1027.8H1028.8V2012.7H1029.8H1030.8H1031.8V2007.7H1032.8H1033.8H1034.8V2011.9H1035.8H1036.8H1037.8V2008.6H1038.8H1039.8H1040.8V2006.6H1041.8H1042.8H1043.8V2013.6H1044.8H1045.8H1046.8V2008.3H1047.8H1048.8H1049.8V2013H1050.8H1051.8H1052.8V2007.5H1053.8H1054.8H1055.8V2007.3H1056.8H1057.8H1058.8V2012.4H1059.8H1060.8H1061.8V2008.1H1062.8H1063.8H1064.8V2010.6H1065.8H1066.8H1067.8V2008.6H1068.8V2008.5H1069.8V2008.3H1070.8V2007.8H1071.8V2007.6H1072.8V2007.4H1073.8V2010.2H1074.8V2010.1H1075.8V2009.9H1076.8V2003.3H1077.8V2003.1H1078.8V2002.9H1079.8V2003.6H1080.8V2003.4H1081.8V2003.2H1082.8V2008.7H1083.8V2008.5H1084.8V2008.4H1085.8V2003.2H1086.8H1087.8H1088.8V2001.9H1089.8H1090.8H1091.8V2005.3H1092.8H1093.8H1094.8V2002.7H1095.8H1096.8H1097.8V2009.1H1098.8H1099.8H1100.8V2006.5H1101.8H1102.8H1103.8V2009.3H1104.8H1105.8H1106.8V2001.8H1107.8H1108.8H1109.8V2007.6H1110.8H1111.8H1112.8V2003.1H1113.8H1114.8H1115.8V2008.7H1116.8H1117.8H1118.8V2002.7H1119.8H1120.8H1121.8V2005.5H1122.8H1123.8H1124.8V2007.2H1125.8H1126.8H1127.8V2001.9H1128.8H1129.8H1130.8V2008.9H1131.8H1132.8H1133.8V2009.1H1134.8H1135.8H1136.8V2008H1137.8H1138.8H1139.8V2001.8H1140.8H1141.8H1142.8V2006.6H1143.8H1144.8H1145.8V2002.6H1146.8H1147.8H1148.8V2008.9H1149.8H1150.8H1151.8V2006.7H1152.8H1153.8H1154.8V2000.9H1155.8V2023.4Z" fill="#96ccfc"/>
<text x="174.3" y="2041.3" font-size="12.9" textLength="25.7" lengthAdjust="spacingAndGlyphs" fill="#2a2a2a" stroke="#2a2a2a" stroke-width="0.4">[0 - 49]</text>
<rect x="167.8" y="2080.9" width="988.2" height="2.6" fill="#bcbcbc"/>
<path d="M167.8 2080.9V2080.9H168.8H169.8H170.8H171.8H172.8H173.8H174.8H175.8V2070.4H176.8V2080.9H177.8H178.8H179.8H180.8H181.8H182.8H183.8H184.8H185.8H186.8V2074.9H187.8V2080.9H188.8H189.8H190.8H191.8H192.8H193.8H194.8H195.8H196.8H197.8H198.8V2074.9H199.8V2080.9H200.8H201.8H202.8H203.8H204.8H205.8H206.8H207.8H208.8H209.8H210.8H211.8H212.8H213.8H214.8H215.8H216.8H217.8H218.8H219.8H220.8H221.8H222.8H223.8H224.8H225.8H226.8H227.8H228.8H229.8H230.8H231.8H232.8H233.8H234.8H235.8H236.8H237.8H238.8H239.8H240.8H241.8V2076.9H242.8V2080.9H243.8H244.8H245.8H246.8H247.8H248.8H249.8H250.8H251.8H252.8H253.8H254.8H255.8H256.8H257.8V2067.2H258.8V2080.9H259.8H260.8H261.8H262.8H263.8H264.8H265.8H266.8H267.8H268.8H269.8H270.8H271.8H272.8H273.8H274.8H275.8H276.8H277.8H278.8H279.8H280.8H281.8H282.8H283.8H284.8H285.8H286.8H287.8H288.8H289.8H290.8H291.8H292.8H293.8H294.8H295.8H296.8H297.8H298.8H299.8H300.8H301.8H302.8H303.8H304.8H305.8H306.8H307.8H308.8H309.8H310.8H311.8V2074.9H312.8H313.8V2080.9H314.8H315.8H316.8H317.8H318.8H319.8H320.8H321.8H322.8H323.8H324.8H325.8H326.8H327.8H328.8H329.8H330.8H331.8H332.8H333.8H334.8H335.8H336.8H337.8H338.8H339.8H340.8H341.8H342.8H343.8H344.8H345.8H346.8H347.8H348.8H349.8H350.8H351.8H352.8H353.8H354.8H355.8H356.8V2074.9H357.8H358.8V2080.9H359.8H360.8H361.8H362.8H363.8H364.8H365.8H366.8H367.8H368.8H369.8H370.8V2070H371.8V2066.4H372.8V2063.1H373.8V2056.4H374.8H375.8V2068H376.8V2080.9H377.8H378.8H379.8H380.8H381.8H382.8H383.8H384.8H385.8H386.8V2065.1H387.8V2053.1H388.8H389.8V2064.1H390.8V2080.9H391.8H392.8H393.8H394.8V2076.9H395.8H396.8V2080.9H397.8H398.8H399.8H400.8H401.8H402.8H403.8H404.8H405.8H406.8H407.8H408.8H409.8H410.8H411.8H412.8H413.8H414.8H415.8H416.8H417.8H418.8H419.8H420.8H421.8H422.8H423.8H424.8H425.8H426.8H427.8H428.8H429.8H430.8H431.8H432.8H433.8H434.8H435.8H436.8H437.8H438.8H439.8H440.8H441.8H442.8H443.8H444.8H445.8H446.8H447.8H448.8H449.8H450.8H451.8H452.8H453.8H454.8H455.8H456.8H457.8H458.8H459.8H460.8H461.8H462.8H463.8H464.8H465.8H466.8H467.8H468.8H469.8H470.8H471.8H472.8H473.8H474.8H475.8H476.8H477.8H478.8H479.8H480.8H481.8H482.8H483.8H484.8H485.8H486.8H487.8H488.8H489.8H490.8H491.8V2060.6H492.8V2080.9H493.8H494.8H495.8H496.8H497.8H498.8H499.8H500.8H501.8H502.8H503.8H504.8H505.8H506.8H507.8H508.8H509.8H510.8H511.8H512.8H513.8H514.8H515.8H516.8H517.8H518.8H519.8H520.8H521.8H522.8V2076.9H523.8H524.8V2080.9H525.8H526.8H527.8H528.8H529.8H530.8H531.8H532.8H533.8H534.8H535.8H536.8H537.8V2077.9H538.8H539.8V2080.9H540.8H541.8V2074.9H542.8H543.8H544.8V2080.9H545.8H546.8H547.8H548.8H549.8H550.8H551.8H552.8H553.8H554.8H555.8H556.8H557.8H558.8H559.8H560.8H561.8H562.8H563.8H564.8H565.8H566.8H567.8H568.8H569.8H570.8H571.8H572.8H573.8H574.8H575.8H576.8H577.8H578.8H579.8H580.8H581.8H582.8H583.8H584.8H585.8H586.8H587.8H588.8H589.8H590.8H591.8H592.8H593.8H594.8H595.8H596.8H597.8H598.8H599.8H600.8H601.8H602.8H603.8H604.8H605.8H606.8H607.8H608.8H609.8H610.8H611.8H612.8H613.8H614.8H615.8H616.8H617.8H618.8H619.8H620.8H621.8H622.8H623.8H624.8H625.8H626.8H627.8H628.8H629.8H630.8H631.8H632.8H633.8H634.8H635.8H636.8H637.8H638.8H639.8H640.8H641.8H642.8H643.8H644.8H645.8H646.8H647.8H648.8H649.8H650.8H651.8H652.8H653.8H654.8H655.8V2076.9H656.8H657.8V2080.9H658.8H659.8H660.8H661.8H662.8H663.8H664.8H665.8H666.8H667.8H668.8H669.8H670.8H671.8H672.8H673.8H674.8H675.8H676.8H677.8H678.8H679.8H680.8H681.8H682.8H683.8H684.8H685.8H686.8H687.8H688.8H689.8H690.8H691.8H692.8H693.8H694.8H695.8H696.8H697.8H698.8H699.8H700.8H701.8H702.8H703.8H704.8H705.8H706.8H707.8H708.8H709.8H710.8H711.8H712.8H713.8H714.8H715.8H716.8H717.8H718.8H719.8H720.8H721.8H722.8V2067.9H723.8V2076.3H724.8H725.8V2076H726.8V2065.9H727.8H728.8V2076.6H729.8V2076.5H730.8H731.8V2077.1H732.8H733.8V2076H734.8H735.8V2057.3H736.8H737.8V2075.9H738.8H739.8V2076.4H740.8V2065.9H741.8V2078H742.8H743.8V2076.2H744.8H745.8V2060.9H746.8V2077.4H747.8V2076.1H748.8H749.8V2076.4H750.8H751.8V2077.5H752.8H753.8V2060.6H754.8V2076.2H755.8V2076H756.8V2080.9H757.8H758.8H759.8H760.8H761.8V2076.9H762.8V2080.9H763.8H764.8H765.8H766.8H767.8H768.8V2071.9H769.8V2080.9H770.8H771.8H772.8H773.8H774.8V2049.9H775.8V2080.9H776.8H777.8H778.8H779.8H780.8H781.8H782.8H783.8V2073.9H784.8H785.8V2080.9H786.8H787.8H788.8H789.8H790.8H791.8H792.8H793.8H794.8H795.8H796.8H797.8H798.8H799.8H800.8H801.8H802.8H803.8H804.8H805.8H806.8H807.8H808.8H809.8V2074.9H810.8H811.8V2080.9H812.8H813.8H814.8H815.8H816.8H817.8H818.8H819.8V2077.9H820.8V2080.9H821.8H822.8H823.8H824.8H825.8H826.8H827.8H828.8H829.8H830.8H831.8V2078.9H832.8H833.8H834.8V2080.9H835.8H836.8H837.8H838.8H839.8H840.8H841.8H842.8H843.8H844.8H845.8H846.8H847.8H848.8H849.8H850.8H851.8H852.8H853.8H854.8H855.8H856.8H857.8H858.8H859.8H860.8H861.8H862.8H863.8H864.8H865.8H866.8H867.8H868.8H869.8H870.8H871.8H872.8H873.8H874.8H875.8H876.8H877.8H878.8H879.8H880.8H881.8H882.8H883.8H884.8H885.8H886.8H887.8H888.8H889.8H890.8H891.8H892.8H893.8H894.8H895.8H896.8H897.8H898.8H899.8H900.8H901.8H902.8H903.8H904.8H905.8H906.8H907.8H908.8H909.8H910.8H911.8H912.8H913.8H914.8H915.8H916.8H917.8H918.8H919.8H920.8H921.8H922.8H923.8H924.8H925.8H926.8H927.8H928.8H929.8H930.8H931.8H932.8H933.8H934.8H935.8H936.8H937.8H938.8H939.8H940.8H941.8H942.8H943.8H944.8H945.8H946.8H947.8H948.8H949.8H950.8H951.8H952.8H953.8H954.8H955.8H956.8H957.8H958.8H959.8H960.8H961.8H962.8H963.8H964.8H965.8H966.8H967.8H968.8H969.8H970.8H971.8H972.8H973.8H974.8H975.8H976.8H977.8H978.8H979.8H980.8H981.8H982.8H983.8H984.8H985.8H986.8H987.8H988.8H989.8H990.8H991.8H992.8H993.8H994.8H995.8H996.8H997.8H998.8H999.8H1000.8H1001.8H1002.8H1003.8H1004.8H1005.8H1006.8H1007.8H1008.8H1009.8H1010.8H1011.8H1012.8H1013.8H1014.8H1015.8H1016.8H1017.8H1018.8H1019.8H1020.8H1021.8H1022.8H1023.8H1024.8H1025.8H1026.8H1027.8H1028.8H1029.8H1030.8H1031.8H1032.8H1033.8H1034.8H1035.8H1036.8H1037.8H1038.8H1039.8H1040.8H1041.8H1042.8H1043.8H1044.8H1045.8H1046.8H1047.8H1048.8H1049.8H1050.8H1051.8H1052.8H1053.8H1054.8H1055.8H1056.8H1057.8H1058.8H1059.8H1060.8H1061.8H1062.8H1063.8H1064.8H1065.8H1066.8H1067.8H1068.8H1069.8H1070.8H1071.8H1072.8H1073.8H1074.8H1075.8H1076.8H1077.8H1078.8H1079.8H1080.8H1081.8H1082.8H1083.8H1084.8H1085.8H1086.8H1087.8H1088.8H1089.8H1090.8H1091.8H1092.8H1093.8H1094.8H1095.8H1096.8H1097.8H1098.8H1099.8H1100.8H1101.8H1102.8H1103.8H1104.8H1105.8H1106.8H1107.8H1108.8H1109.8H1110.8H1111.8H1112.8H1113.8H1114.8H1115.8H1116.8H1117.8H1118.8H1119.8H1120.8H1121.8H1122.8H1123.8H1124.8H1125.8V2077.9H1126.8V2080.9H1127.8H1128.8H1129.8H1130.8H1131.8H1132.8H1133.8H1134.8H1135.8H1136.8H1137.8H1138.8H1139.8H1140.8H1141.8H1142.8H1143.8H1144.8H1145.8H1146.8H1147.8H1148.8H1149.8H1150.8H1151.8H1152.8H1153.8H1154.8H1155.8V2080.9Z" fill="#fc62fc"/>
<text x="174.3" y="2098.8" font-size="12.9" textLength="25.7" lengthAdjust="spacingAndGlyphs" fill="#2a2a2a" stroke="#2a2a2a" stroke-width="0.4">[0 - 49]</text>
<rect x="167.8" y="2138.4" width="988.2" height="2.6" fill="#bcbcbc"/>
<path d="M167.8 2138.4V2138.4H168.8H169.8H170.8H171.8H172.8H173.8H174.8H175.8V2136H176.8V2138.4H177.8H178.8H179.8H180.8H181.8H182.8H183.8H184.8H185.8H186.8V2136H187.8V2138.4H188.8H189.8H190.8H191.8H192.8H193.8H194.8H195.8H196.8H197.8H198.8V2132.7H199.8H200.8V2138.4H201.8H202.8H203.8H204.8H205.8H206.8H207.8H208.8H209.8H210.8H211.8H212.8H213.8H214.8H215.8H216.8H217.8H218.8H219.8H220.8H221.8H222.8H223.8H224.8H225.8H226.8H227.8H228.8H229.8H230.8H231.8H232.8H233.8H234.8H235.8H236.8H237.8H238.8H239.8H240.8H241.8V2134.4H242.8V2138.4H243.8H244.8H245.8H246.8H247.8H248.8H249.8H250.8H251.8H252.8H253.8H254.8H255.8V2130.4H256.8V2108.7H257.8H258.8V2138.4H259.8H260.8H261.8H262.8H263.8H264.8H265.8H266.8H267.8H268.8H269.8H270.8H271.8H272.8H273.8H274.8H275.8H276.8H277.8H278.8H279.8H280.8H281.8H282.8H283.8H284.8H285.8H286.8H287.8H288.8H289.8H290.8H291.8H292.8H293.8H294.8H295.8H296.8H297.8H298.8H299.8H300.8H301.8H302.8H303.8H304.8H305.8H306.8H307.8H308.8H309.8H310.8H311.8V2131.6H312.8H313.8V2138.4H314.8H315.8H316.8H317.8H318.8H319.8H320.8H321.8H322.8H323.8H324.8H325.8H326.8H327.8H328.8H329.8H330.8H331.8H332.8H333.8H334.8H335.8H336.8H337.8H338.8H339.8H340.8H341.8H342.8H343.8H344.8H345.8H346.8H347.8H348.8H349.8H350.8H351.8H352.8H353.8H354.8H355.8H356.8V2134.9H357.8H358.8V2138.4H359.8H360.8H361.8H362.8H363.8H364.8H365.8H366.8H367.8H368.8H369.8V2128.1H370.8V2123.8H371.8V2119.2H372.8V2110.7H373.8V2093.6H374.8H375.8V2119.1H376.8V2138.4H377.8H378.8H379.8H380.8H381.8H382.8H383.8H384.8H385.8H386.8V2127.2H387.8V2099.2H388.8H389.8V2112.3H390.8V2138.4H391.8H392.8H393.8H394.8V2136H395.8H396.8V2138.4H397.8H398.8H399.8H400.8H401.8H402.8H403.8H404.8H405.8H406.8H407.8H408.8H409.8H410.8H411.8H412.8H413.8H414.8H415.8H416.8H417.8H418.8H419.8H420.8H421.8H422.8H423.8H424.8H425.8H426.8H427.8H428.8H429.8H430.8H431.8H432.8H433.8H434.8H435.8H436.8H437.8H438.8H439.8H440.8H441.8H442.8H443.8H444.8H445.8H446.8H447.8H448.8H449.8H450.8H451.8H452.8H453.8H454.8H455.8H456.8H457.8H458.8H459.8H460.8H461.8H462.8H463.8H464.8H465.8H466.8H467.8H468.8H469.8H470.8H471.8H472.8H473.8H474.8H475.8H476.8H477.8H478.8H479.8H480.8H481.8H482.8H483.8H484.8H485.8H486.8H487.8H488.8H489.8H490.8H491.8V2122.9H492.8V2138.4H493.8H494.8H495.8H496.8H497.8H498.8H499.8H500.8H501.8H502.8H503.8H504.8H505.8H506.8H507.8H508.8H509.8H510.8H511.8H512.8H513.8H514.8H515.8H516.8H517.8H518.8H519.8H520.8H521.8H522.8V2136H523.8H524.8V2138.4H525.8H526.8H527.8H528.8H529.8H530.8H531.8H532.8H533.8H534.8H535.8H536.8H537.8H538.8H539.8H540.8H541.8V2127.4H542.8H543.8V2131.4H544.8V2138.4H545.8H546.8H547.8H548.8H549.8H550.8H551.8H552.8H553.8H554.8H555.8H556.8H557.8H558.8H559.8H560.8H561.8H562.8H563.8H564.8H565.8H566.8H567.8H568.8H569.8H570.8H571.8H572.8H573.8H574.8H575.8H576.8H577.8H578.8H579.8H580.8H581.8H582.8H583.8H584.8H585.8H586.8H587.8H588.8H589.8H590.8H591.8H592.8H593.8H594.8H595.8H596.8H597.8H598.8H599.8H600.8H601.8H602.8H603.8H604.8H605.8H606.8H607.8H608.8H609.8H610.8H611.8H612.8H613.8H614.8H615.8H616.8H617.8H618.8H619.8H620.8H621.8H622.8H623.8H624.8H625.8H626.8H627.8H628.8H629.8H630.8H631.8H632.8H633.8H634.8H635.8H636.8H637.8H638.8H639.8H640.8H641.8H642.8H643.8H644.8H645.8H646.8H647.8H648.8H649.8H650.8H651.8H652.8H653.8H654.8H655.8V2136H656.8H657.8V2138.4H658.8H659.8H660.8H661.8H662.8H663.8H664.8H665.8H666.8H667.8H668.8H669.8H670.8H671.8H672.8H673.8H674.8H675.8H676.8H677.8H678.8H679.8H680.8H681.8H682.8H683.8H684.8H685.8H686.8H687.8H688.8H689.8H690.8H691.8H692.8H693.8H694.8H695.8H696.8V2133.8H697.8H698.8V2138.4H699.8V2135.4H700.8H701.8V2138.4H702.8V2133.8H703.8H704.8V2138.4H705.8V2135.4H706.8H707.8V2138.4H708.8V2133.8H709.8V2138.4H710.8H711.8H712.8H713.8H714.8H715.8H716.8H717.8H718.8H719.8H720.8H721.8H722.8H723.8H724.8V2135.4H725.8H726.8H727.8V2115.4H728.8H729.8V2135.4H730.8V2138.4H731.8H732.8H733.8H734.8H735.8V2125.1H736.8H737.8V2130.4H738.8H739.8V2125.1H740.8V2138.4H741.8V2128.4H742.8V2138.4H743.8V2125.4H744.8V2138.4H745.8V2129.4H746.8V2138.4H747.8H748.8H749.8H750.8H751.8H752.8H753.8V2134.4H754.8V2138.4H755.8H756.8H757.8H758.8H759.8H760.8H761.8V2134.4H762.8V2138.4H763.8H764.8H765.8H766.8H767.8V2132.4H768.8V2138.4H769.8H770.8H771.8H772.8H773.8V2115.4H774.8H775.8V2138.4H776.8H777.8H778.8H779.8H780.8H781.8H782.8H783.8V2127.4H784.8H785.8V2138.4H786.8H787.8H788.8H789.8H790.8H791.8H792.8H793.8H794.8H795.8H796.8H797.8H798.8H799.8H800.8H801.8H802.8H803.8H804.8H805.8H806.8H807.8H808.8H809.8V2131.6H810.8H811.8V2138.4H812.8H813.8H814.8H815.8H816.8H817.8H818.8H819.8V2134.4H820.8V2138.4H821.8H822.8H823.8H824.8H825.8H826.8H827.8H828.8H829.8H830.8H831.8V2131.6H832.8V2138.4H833.8H834.8H835.8H836.8H837.8H838.8H839.8H840.8H841.8H842.8H843.8V2134.4H844.8V2138.4H845.8H846.8H847.8H848.8H849.8H850.8H851.8H852.8H853.8H854.8H855.8H856.8H857.8H858.8H859.8H860.8H861.8H862.8H863.8H864.8H865.8H866.8H867.8H868.8H869.8H870.8H871.8H872.8H873.8H874.8H875.8H876.8H877.8H878.8H879.8H880.8H881.8H882.8H883.8H884.8H885.8H886.8H887.8H888.8H889.8H890.8H891.8H892.8H893.8H894.8H895.8H896.8H897.8H898.8H899.8H900.8H901.8H902.8H903.8H904.8H905.8H906.8H907.8H908.8H909.8H910.8H911.8H912.8H913.8H914.8H915.8H916.8H917.8H918.8H919.8H920.8H921.8H922.8H923.8H924.8H925.8H926.8H927.8H928.8H929.8H930.8H931.8H932.8H933.8H934.8H935.8H936.8H937.8H938.8H939.8H940.8H941.8H942.8H943.8H944.8H945.8H946.8H947.8H948.8H949.8H950.8H951.8H952.8H953.8H954.8H955.8H956.8H957.8H958.8H959.8H960.8H961.8H962.8H963.8H964.8H965.8H966.8H967.8H968.8V2136.9H969.8V2138.4H970.8H971.8H972.8H973.8H974.8H975.8H976.8H977.8H978.8H979.8H980.8H981.8H982.8H983.8H984.8H985.8H986.8H987.8H988.8H989.8H990.8H991.8H992.8H993.8H994.8H995.8H996.8H997.8H998.8H999.8H1000.8H1001.8H1002.8H1003.8H1004.8H1005.8H1006.8H1007.8H1008.8H1009.8H1010.8H1011.8H1012.8H1013.8H1014.8H1015.8H1016.8H1017.8H1018.8H1019.8H1020.8H1021.8H1022.8H1023.8H1024.8H1025.8H1026.8H1027.8H1028.8H1029.8H1030.8H1031.8H1032.8H1033.8H1034.8H1035.8H1036.8H1037.8H1038.8H1039.8H1040.8H1041.8H1042.8H1043.8H1044.8H1045.8H1046.8H1047.8H1048.8H1049.8H1050.8H1051.8H1052.8H1053.8H1054.8H1055.8H1056.8H1057.8H1058.8H1059.8H1060.8H1061.8H1062.8H1063.8H1064.8H1065.8H1066.8H1067.8H1068.8H1069.8H1070.8H1071.8H1072.8H1073.8H1074.8H1075.8H1076.8H1077.8H1078.8H1079.8H1080.8H1081.8H1082.8H1083.8H1084.8H1085.8H1086.8H1087.8H1088.8H1089.8H1090.8H1091.8H1092.8H1093.8H1094.8H1095.8H1096.8H1097.8H1098.8H1099.8H1100.8H1101.8H1102.8H1103.8H1104.8H1105.8H1106.8H1107.8H1108.8H1109.8H1110.8H1111.8H1112.8H1113.8H1114.8H1115.8H1116.8H1117.8H1118.8H1119.8H1120.8H1121.8H1122.8H1123.8H1124.8H1125.8V2136H1126.8V2138.4H1127.8H1128.8H1129.8H1130.8H1131.8H1132.8H1133.8H1134.8H1135.8H1136.8H1137.8H1138.8H1139.8H1140.8H1141.8H1142.8H1143.8H1144.8H1145.8H1146.8H1147.8H1148.8H1149.8H1150.8H1151.8H1152.8H1153.8H1154.8H1155.8V2138.4Z" fill="#fc62fc"/>
<text x="174.3" y="2156.4" font-size="12.9" textLength="32.6" lengthAdjust="spacingAndGlyphs" fill="#2a2a2a" stroke="#2a2a2a" stroke-width="0.4">[0 - 6.90]</text>
<rect x="167.8" y="2196" width="988.2" height="2.6" fill="#bcbcbc"/>
<path d="M167.8 2196V2185.2H168.8V2185.4H169.8V2186.4H170.8V2185.1H171.8V2188.5H172.8H173.8V2185.6H174.8V2184.4H175.8V2184.6H176.8V2185.6H177.8V2187H178.8V2187.2H179.8V2186.2H180.8V2187H181.8V2187.4H182.8V2187.7H183.8V2186.6H184.8V2188.9H185.8V2188.4H186.8V2188.3H187.8V2188.7H188.8V2188H189.8H190.8V2186H191.8V2186.9H192.8V2185.2H193.8V2186.8H194.8V2188H195.8H196.8H197.8V2189.9H198.8H199.8H200.8V2188.3H201.8H202.8H203.8V2187.2H204.8H205.8H206.8V2188.1H207.8H208.8H209.8V2190.2H210.8H211.8H212.8V2190.6H213.8H214.8H215.8V2188.5H216.8V2181H217.8V2188.5H218.8V2186.8H219.8H220.8H221.8V2189.7H222.8H223.8V2187.2H224.8V2187.4H225.8V2186.2H226.8V2186.8H227.8V2187.5H228.8V2188.1H229.8H230.8V2190.8H231.8H232.8H233.8V2189.6H234.8H235.8H236.8V2190.8H237.8H238.8V2187.7H239.8H240.8V2187.5H241.8V2188H242.8V2190.7H243.8H244.8H245.8V2187.6H246.8H247.8H248.8V2186.6H249.8H250.8H251.8V2187.8H252.8H253.8H254.8V2190.5H255.8H256.8H257.8V2191.2H258.8H259.8V2186.9H260.8V2186.8H261.8H262.8H263.8V2187.5H264.8H265.8H266.8V2187H267.8H268.8H269.8V2190.2H270.8H271.8H272.8V2187.1H273.8H274.8H275.8V2185.7H276.8V2186.9H277.8V2185.9H278.8V2186.3H279.8V2186H280.8V2187.8H281.8V2186H282.8V2186.2H283.8V2185.8H284.8V2189.4H285.8H286.8H287.8V2192.4H288.8H289.8V2187.3H290.8V2186.2H291.8V2185.6H292.8V2184.9H293.8V2185.3H294.8V2185.7H295.8V2186.7H296.8V2181H297.8H298.8V2185.5H299.8V2187.1H300.8V2187.5H301.8V2187.9H302.8V2187.6H303.8H304.8H305.8V2189.5H306.8H307.8H308.8V2190.9H309.8H310.8H311.8V2188.5H312.8H313.8H314.8V2187.5H315.8H316.8H317.8V2191.3H318.8H319.8H320.8V2190.1H321.8V2188.5H322.8V2188.4H323.8V2188.2H324.8H325.8V2185.4H326.8V2185.9H327.8V2186.9H328.8V2185.5H329.8V2189H330.8H331.8H332.8V2187.2H333.8H334.8H335.8V2188.9H336.8H337.8H338.8V2186.7H339.8H340.8H341.8V2185.1H342.8V2185.8H343.8V2185.5H344.8V2184.4H345.8H346.8V2189.2H347.8V2186.9H348.8H349.8H350.8V2183.6H351.8V2183.1H352.8V2183.2H353.8V2190.4H354.8H355.8H356.8V2191.7H357.8H358.8H359.8V2187.3H360.8H361.8V2187H362.8V2188.5H363.8V2192.1H364.8H365.8V2191.2H366.8H367.8H368.8V2185.7H369.8V2186.2H370.8V2185.3H371.8V2186.6H372.8V2189.5H373.8H374.8V2190.7H375.8V2186.2H376.8V2187.1H377.8V2185.7H378.8V2188.5H379.8H380.8V2191.7H381.8H382.8H383.8V2191.3H384.8H385.8V2187.9H386.8V2188.6H387.8V2185H388.8H389.8V2186.4H390.8V2181H391.8V2190H392.8V2189.6H393.8H394.8H395.8V2190.8H396.8H397.8H398.8V2187.7H399.8H400.8V2187.1H401.8V2186.7H402.8V2186.5H403.8V2186.3H404.8V2187.6H405.8V2185.7H406.8V2188.3H407.8V2186.9H408.8V2187.8H409.8H410.8V2182.6H411.8V2184.3H412.8V2183.1H413.8V2181.8H414.8V2186.7H415.8H416.8V2189H417.8V2188H418.8V2186.4H419.8V2184.8H420.8V2186.3H421.8V2190.4H422.8V2189.2H423.8H424.8H425.8V2191.9H426.8H427.8H428.8V2189.5H429.8H430.8H431.8V2187H432.8H433.8V2183.9H434.8V2183H435.8V2182.7H436.8V2183.1H437.8V2186.2H438.8V2187.2H439.8H440.8V2188.7H441.8H442.8H443.8V2186.3H444.8V2186.5H445.8V2187.5H446.8V2186.7H447.8V2187.2H448.8V2185.6H449.8V2185.7H450.8V2185.4H451.8V2185.8H452.8V2186.5H453.8V2186.2H454.8V2186.6H455.8V2187H456.8V2186.2H457.8V2187H458.8V2188.2H459.8V2188.3H460.8V2188.6H461.8V2188.2H462.8V2190.9H463.8V2188.5H464.8V2187.5H465.8V2188H466.8V2187.4H467.8V2187.1H468.8V2188.4H469.8V2187.9H470.8V2188.2H471.8V2187.6H472.8V2187.7H473.8H474.8V2186.5H475.8V2190.9H476.8V2188.9H477.8V2184.2H478.8V2186.5H479.8V2185.6H480.8V2186.5H481.8V2185.8H482.8V2187.7H483.8H484.8H485.8V2190.8H486.8H487.8H488.8V2188.2H489.8V2185.3H490.8V2186.7H491.8V2185.1H492.8V2189.7H493.8H494.8V2190.6H495.8H496.8H497.8V2182H498.8V2190.6H499.8H500.8V2187.6H501.8H502.8H503.8V2189.1H504.8V2189.3H505.8V2190.8H506.8V2188.3H507.8H508.8H509.8V2189.3H510.8V2187.9H511.8H512.8V2187.7H513.8V2187.4H514.8V2189H515.8V2189.6H516.8V2187.8H517.8V2183.8H518.8V2184.1H519.8V2181.7H520.8V2187.3H521.8V2185.6H522.8V2186H523.8H524.8V2186.9H525.8V2191.2H526.8V2187H527.8V2182H528.8V2186.3H529.8V2189.4H530.8V2187.9H531.8H532.8V2185.4H533.8V2184.6H534.8V2185.8H535.8V2192.2H536.8V2188.5H537.8H538.8H539.8V2188.2H540.8V2185.8H541.8V2187.1H542.8V2187.7H543.8V2187.4H544.8V2188.4H545.8H546.8V2188.8H547.8V2190.1H548.8V2191.2H549.8H550.8H551.8V2188.1H552.8H553.8V2186H554.8V2184.8H555.8V2184.5H556.8V2185.4H557.8V2184.6H558.8V2185.5H559.8V2189H560.8V2188.5H561.8V2188.3H562.8V2189.4H563.8V2187.9H564.8H565.8H566.8V2190.1H567.8H568.8H569.8V2191.4H570.8H571.8H572.8V2188.2H573.8H574.8V2185.6H575.8V2186.5H576.8V2184.8H577.8V2186.2H578.8H579.8V2187.4H580.8V2185.9H581.8V2187H582.8V2191H583.8H584.8V2187.7H585.8V2184.8H586.8V2186.3H587.8H588.8V2186.2H589.8V2187H590.8V2186.6H591.8H592.8H593.8V2186.8H594.8H595.8H596.8V2184.7H597.8V2184.5H598.8V2186H599.8V2186.4H600.8V2187.1H601.8V2186.6H602.8V2185.6H603.8V2186.5H604.8H605.8V2187.6H606.8H607.8V2184.5H608.8V2185.9H609.8V2184.2H610.8V2186.2H611.8V2184.4H612.8V2191.2H613.8V2182H614.8V2186.8H615.8H616.8H617.8V2188.8H618.8H619.8H620.8V2188.7H621.8H622.8H623.8V2186.5H624.8V2186.4H625.8V2186.4H626.8V2186.3H627.8V2185.8H628.8V2188H629.8V2185.2H630.8V2184.8H631.8V2186.2H632.8V2186H633.8V2185.9H634.8V2187.7H635.8V2186.7H636.8H637.8H638.8V2189.8H639.8H640.8H641.8V2189.3H642.8H643.8H644.8V2191.7H645.8H646.8H647.8V2187.5H648.8H649.8H650.8V2190H651.8H652.8H653.8V2188.2H654.8V2187.8H655.8V2186.5H656.8V2186.9H657.8V2187H658.8V2186.1H659.8V2187.8H660.8V2192.3H661.8V2183.8H662.8V2184.9H663.8V2183.9H664.8V2185.4H665.8V2186.9H666.8V2185.7H667.8V2186.6H668.8V2187.1H669.8V2186.1H670.8V2187.2H671.8V2186.5H672.8V2186.2H673.8V2192.4H674.8V2189.3H675.8H676.8H677.8V2190.4H678.8V2186.7H679.8V2185.6H680.8V2187H681.8V2185.5H682.8V2188.6H683.8V2189.4H684.8H685.8H686.8V2191.5H687.8H688.8H689.8V2189.3H690.8H691.8H692.8V2185.5H693.8V2184.6H694.8V2184.7H695.8V2184.7H696.8V2192.4H697.8H698.8V2191.5H699.8H700.8V2184.2H701.8V2184.3H702.8V2184H703.8V2184.8H704.8V2190.5H705.8V2183.9H706.8V2184.9H707.8V2183.8H708.8V2185.4H709.8V2190.4H710.8V2188.6H711.8H712.8H713.8V2189.7H714.8H715.8H716.8V2186.1H717.8V2185.5H718.8V2186.6H719.8V2186.5H720.8V2184.9H721.8V2186.6H722.8V2185.9H723.8V2187.1H724.8V2188.4H725.8V2187.1H726.8H727.8H728.8V2184.9H729.8V2185.4H730.8V2186.7H731.8V2186H732.8V2188.1H733.8H734.8V2185.8H735.8V2186.8H736.8V2186.5H737.8V2188H738.8V2191.7H739.8H740.8V2187.9H741.8H742.8H743.8V2188.3H744.8H745.8V2188.1H746.8V2187.6H747.8V2191.1H748.8H749.8V2187H750.8V2185.8H751.8V2185.5H752.8V2186.2H753.8V2185.6H754.8V2185.6H755.8V2185.8H756.8V2183.3H757.8V2182.2H758.8V2182H759.8V2182.2H760.8V2184.7H761.8V2186.4H762.8V2186.2H763.8V2188.1H764.8V2187.1H765.8H766.8V2183.2H767.8V2184H768.8V2182.6H769.8V2182.9H770.8V2192.3H771.8H772.8H773.8V2190H774.8H775.8V2187.2H776.8V2185.6H777.8V2186.9H778.8V2187.1H779.8V2189.2H780.8H781.8V2183.6H782.8V2184.5H783.8H784.8V2188.2H785.8V2186.7H786.8V2185.8H787.8V2184.9H788.8V2186.5H789.8V2186.8H790.8V2192.3H791.8V2191.1H792.8H793.8H794.8V2189.4H795.8V2185.4H796.8V2184.9H797.8V2184.4H798.8V2185.1H799.8V2185.8H800.8V2185.5H801.8V2184.8H802.8V2186H803.8V2189H804.8H805.8H806.8V2189.7H807.8H808.8H809.8V2190.3H810.8V2183.7H811.8V2182.6H812.8V2183.5H813.8V2187H814.8H815.8V2190.8H816.8H817.8H818.8V2186.9H819.8H820.8H821.8V2186.1H822.8V2185.3H823.8V2185.1H824.8V2186.7H825.8V2187.3H826.8V2186.3H827.8V2184.7H828.8V2186.8H829.8V2191.6H830.8V2189.8H831.8H832.8H833.8V2188.4H834.8H835.8V2186.3H836.8V2186.5H837.8V2187.9H838.8V2188H839.8V2189.4H840.8H841.8H842.8V2190.6H843.8H844.8V2187.5H845.8V2187.4H846.8V2188.5H847.8V2188.6H848.8V2186.9H849.8V2185.8H850.8V2184.7H851.8V2184.3H852.8V2184.2H853.8V2185.6H854.8H855.8V2186.4H856.8V2188H857.8V2191.9H858.8V2183.4H859.8V2183H860.8V2184.4H861.8V2185.3H862.8V2186.7H863.8V2181H864.8V2187.8H865.8V2187.3H866.8V2186.6H867.8H868.8H869.8V2192H870.8V2181.5H871.8V2181.8H872.8V2183.8H873.8V2183.4H874.8V2184.1H875.8V2183.2H876.8V2191.8H877.8H878.8V2187.1H879.8H880.8H881.8V2191H882.8H883.8H884.8V2187.3H885.8H886.8H887.8V2190.4H888.8H889.8H890.8V2187.4H891.8H892.8H893.8V2191.5H894.8H895.8H896.8V2188.2H897.8H898.8H899.8V2189.5H900.8H901.8V2187.3H902.8V2187.1H903.8V2186.3H904.8V2185.5H905.8V2186.4H906.8V2185.5H907.8V2186.6H908.8V2185.9H909.8H910.8V2184.8H911.8V2187.3H912.8V2187.5H913.8V2187.2H914.8V2185.7H915.8V2185.6H916.8V2186.5H917.8V2185.9H918.8V2187.1H919.8V2186.1H920.8V2187.2H921.8V2190.7H922.8H923.8V2186.2H924.8V2185.9H925.8V2185.1H926.8H927.8V2184.2H928.8V2184.6H929.8V2184.4H930.8V2185.9H931.8V2186.6H932.8V2190.7H933.8H934.8H935.8V2187.4H936.8V2187.1H937.8V2184.2H938.8V2183.6H939.8V2182.4H940.8V2185.2H941.8V2185H942.8V2183.5H943.8V2187.5H944.8V2188.4H945.8H946.8H947.8V2190.4H948.8H949.8H950.8V2190.1H951.8H952.8H953.8V2188.9H954.8H955.8H956.8V2187.2H957.8H958.8H959.8V2186.9H960.8H961.8H962.8V2183.4H963.8V2184.6H964.8V2192.1H965.8V2192.1H966.8V2187.1H967.8V2187H968.8H969.8V2190.6H970.8H971.8V2189H972.8H973.8H974.8V2189.7H975.8H976.8V2186H977.8V2186.5H978.8H979.8V2187.4H980.8V2187.9H981.8H982.8V2180H983.8V2192.2H984.8H985.8H986.8V2186.7H987.8H988.8H989.8V2184.7H990.8V2186.6H991.8V2185H992.8V2187.1H993.8H994.8V2186.6H995.8V2190.9H996.8H997.8H998.8V2191.8H999.8H1000.8H1001.8V2183.3H1002.8V2183H1003.8V2183.4H1004.8V2182.1H1005.8V2191.2H1006.8V2185.1H1007.8V2184.9H1008.8V2188.1H1009.8H1010.8V2187.2H1011.8H1012.8V2187.9H1013.8V2187.4H1014.8H1015.8H1016.8V2187.1H1017.8V2185.9H1018.8V2184.6H1019.8V2191.9H1020.8H1021.8H1022.8V2189.5H1023.8H1024.8H1025.8V2187H1026.8H1027.8H1028.8V2191.5H1029.8V2184.4H1030.8V2186.6H1031.8V2185.9H1032.8V2185.7H1033.8V2186.6H1034.8V2190.7H1035.8V2185.2H1036.8V2185.8H1037.8V2184.9H1038.8V2186.4H1039.8V2186H1040.8V2185.2H1041.8V2191.7H1042.8H1043.8V2186.7H1044.8H1045.8H1046.8V2192.3H1047.8H1048.8H1049.8V2191.9H1050.8H1051.8H1052.8V2188.9H1053.8H1054.8H1055.8V2186.6H1056.8H1057.8H1058.8V2187.9H1059.8H1060.8V2185.3H1061.8V2184.6H1062.8V2187.7H1063.8V2188.5H1064.8V2187.6H1065.8V2191.5H1066.8H1067.8V2189.4H1068.8V2184.5H1069.8V2184.3H1070.8V2185.1H1071.8V2185.4H1072.8V2186.6H1073.8V2186.7H1074.8V2187.3H1075.8H1076.8V2188.7H1077.8H1078.8H1079.8V2189.6H1080.8H1081.8H1082.8V2190.3H1083.8H1084.8H1085.8V2187.6H1086.8H1087.8H1088.8V2189.5H1089.8H1090.8H1091.8V2186.2H1092.8V2184.8H1093.8V2185.4H1094.8V2188.4H1095.8H1096.8H1097.8V2190.5H1098.8H1099.8V2188.3H1100.8V2187H1101.8V2187.5H1102.8H1103.8V2190H1104.8H1105.8H1106.8V2188.6H1107.8V2176.6H1108.8H1109.8V2191.4H1110.8H1111.8H1112.8V2191.8H1113.8V2186.1H1114.8V2184.5H1115.8V2185.5H1116.8V2186.5H1117.8V2186.4H1118.8V2186.3H1119.8V2190.5H1120.8H1121.8V2187.6H1122.8H1123.8H1124.8V2185.8H1125.8V2186.6H1126.8H1127.8V2185.9H1128.8V2186.6H1129.8V2187H1130.8V2186.8H1131.8H1132.8H1133.8V2188.8H1134.8H1135.8H1136.8V2190.8H1137.8V2182.5H1138.8V2181.6H1139.8V2183.3H1140.8V2182.5H1141.8V2185.2H1142.8H1143.8V2185.6H1144.8H1145.8V2191.1H1146.8H1147.8H1148.8V2186.5H1149.8H1150.8H1151.8V2189.4H1152.8H1153.8H1154.8V2186.7H1155.8V2196Z" fill="#07992f"/>
<text x="174.3" y="2213.9" font-size="12.9" textLength="32.6" lengthAdjust="spacingAndGlyphs" fill="#2a2a2a" stroke="#2a2a2a" stroke-width="0.4">[0 - 6.90]</text>
<rect x="167.8" y="2253.5" width="988.2" height="2.6" fill="#bcbcbc"/>
<path d="M167.8 2253.5V2241.5H168.8H169.8H170.8V2245H171.8V2238.7H172.8V2240.8H173.8V2238.7H174.8V2230.1H175.8V2231.2H176.8V2232.8H177.8V2243.3H178.8H179.8V2235.4H180.8V2231.3H181.8V2231H182.8V2234.1H183.8V2234.9H184.8V2234.6H185.8V2236.6H186.8V2235.7H187.8V2229.1H188.8H189.8V2232.6H190.8V2237.8H191.8V2239.9H192.8V2239H193.8V2234.4H194.8V2233.5H195.8V2234.4H196.8V2246.8H197.8V2243.4H198.8V2235.6H199.8V2234.7H200.8V2232.2H201.8V2234.1H202.8V2243.1H203.8V2240.7H204.8H205.8H206.8V2246.2H207.8H208.8V2233.3H209.8V2230.2H210.8V2232.1H211.8V2235.7H212.8V2237.3H213.8V2231.6H214.8V2231.9H215.8V2232.3H216.8V2232.8H217.8V2232.1H218.8V2233.7H219.8V2234.4H220.8V2234.9H221.8V2236.1H222.8V2232.9H223.8V2228.7H224.8V2233.6H225.8V2235.6H226.8V2237.2H227.8V2235.4H228.8V2239.6H229.8V2236H230.8V2231.4H231.8V2229.6H232.8V2224.8H233.8V2225H234.8V2238.3H235.8V2237.5H236.8V2236.9H237.8V2239.1H238.8V2235.6H239.8V2235.8H240.8V2238.5H241.8V2236.1H242.8V2242.4H243.8H244.8H245.8V2242.7H246.8V2230.8H247.8V2231.4H248.8V2232.8H249.8V2240.1H250.8V2240.5H251.8V2240.6H252.8V2242.4H253.8V2240.2H254.8V2239.3H255.8V2232.5H256.8V2239.4H257.8V2243.7H258.8H259.8H260.8V2238.8H261.8V2239.9H262.8V2237.8H263.8V2237H264.8V2236.2H265.8V2237.1H266.8V2242.2H267.8H268.8V2235.1H269.8V2232.8H270.8V2236.3H271.8V2234.5H272.8V2235.1H273.8V2241.4H274.8V2236.1H275.8V2238H276.8V2237.7H277.8V2230.7H278.8V2230H279.8V2239.7H280.8V2239.7H281.8V2240H282.8V2242.8H283.8H284.8V2241.2H285.8H286.8H287.8V2240.6H288.8V2229.9H289.8V2232.6H290.8V2230.5H291.8V2231.4H292.8V2230.4H293.8V2231H294.8V2228.3H295.8V2241.4H296.8V2234.9H297.8V2234.4H298.8V2235H299.8V2232.8H300.8V2233.2H301.8V2239.3H302.8V2240.4H303.8H304.8V2227.8H305.8V2228.5H306.8V2231.9H307.8V2241.7H308.8V2239.4H309.8H310.8V2238.5H311.8V2228H312.8V2226.8H313.8V2228.4H314.8V2226.5H315.8V2230H316.8V2242H317.8V2235.9H318.8V2233.7H319.8V2235.4H320.8V2232.5H321.8V2235.8H322.8V2232.2H323.8V2232H324.8V2235.7H325.8V2228.1H326.8V2227.8H327.8V2229.9H328.8V2239.4H329.8V2240.4H330.8V2230.9H331.8V2231.7H332.8V2237.9H333.8V2237.6H334.8V2237.4H335.8V2230.9H336.8V2230.5H337.8V2230.2H338.8V2232.5H339.8V2230.7H340.8V2231.7H341.8V2219.5H342.8V2230.9H343.8V2230.8H344.8V2230H345.8V2230.4H346.8V2230H347.8V2232.8H348.8V2232.6H349.8V2232.5H350.8V2238.5H351.8V2238.4H352.8V2238.3H353.8V2231.6H354.8V2227H355.8V2229.9H356.8V2228.8H357.8V2236.5H358.8V2216H359.8H360.8V2229.7H361.8V2229.9H362.8V2233.4H363.8V2231.2H364.8V2231H365.8V2232H366.8V2233H367.8V2231.5H368.8V2230.9H369.8V2231H370.8V2231.2H371.8V2223.5H372.8H373.8V2234.8H374.8V2239.2H375.8V2230.6H376.8V2233.7H377.8V2233.4H378.8V2231.1H379.8V2231.9H380.8V2227.8H381.8V2228H382.8V2232.2H383.8V2228.2H384.8V2227.8H385.8V2229.4H386.8V2230.9H387.8V2234.2H388.8V2238.6H389.8V2223.5H390.8V2231.6H391.8H392.8V2242.5H393.8V2228.9H394.8V2228.4H395.8V2230.3H396.8V2234.9H397.8V2238.9H398.8V2238.9H399.8V2239.6H400.8V2227.5H401.8V2231.6H402.8V2229.7H403.8V2241.5H404.8V2241.6H405.8V2239.6H406.8V2226.8H407.8V2227.8H408.8V2227.4H409.8V2238.5H410.8V2228H411.8V2227.5H412.8V2225.8H413.8V2239.1H414.8V2233.1H415.8V2232.4H416.8V2230H417.8V2230.6H418.8V2238.7H419.8V2239.1H420.8V2232.5H421.8V2236.8H422.8V2237.1H423.8V2233.9H424.8V2233.1H425.8V2231.6H426.8V2228H427.8V2230.7H428.8V2232.7H429.8V2229.7H430.8V2230.9H431.8V2229.3H432.8V2246H433.8H434.8V2242.3H435.8V2232.5H436.8V2242.3H437.8V2244.7H438.8H439.8V2227.2H440.8V2229.8H441.8V2226.7H442.8V2241.9H443.8V2232.5H444.8V2242.5H445.8V2237.2H446.8V2236.8H447.8V2237.4H448.8V2236.4H449.8V2244.9H450.8V2232.5H451.8V2244.9H452.8V2244.2H453.8H454.8H455.8V2236.7H456.8V2235.2H457.8V2232.5H458.8V2235.1H459.8V2243.5H460.8V2234H461.8V2226.7H462.8V2229.3H463.8V2229.7H464.8V2230.1H465.8V2231.2H466.8V2237.1H467.8V2235H468.8V2243.5H469.8V2232.5H470.8V2247.3H471.8H472.8H473.8V2243H474.8V2236.6H475.8V2238.6H476.8V2233.4H477.8V2234.6H478.8V2235.9H479.8V2237.8H480.8V2236H481.8V2231H482.8V2230H483.8V2234.4H484.8V2242.7H485.8V2246.5H486.8H487.8H488.8V2240.8H489.8V2233.6H490.8V2236.2H491.8V2232.9H492.8V2217.1H493.8V2235.1H494.8V2233.7H495.8V2235.4H496.8V2238.3H497.8V2241.3H498.8H499.8H500.8V2243.3H501.8H502.8H503.8V2236.5H504.8V2237.7H505.8V2236.3H506.8V2239H507.8V2238.2H508.8V2237.1H509.8V2237.8H510.8V2244.3H511.8H512.8V2239.3H513.8V2226.7H514.8V2225H515.8V2226.1H516.8V2227H517.8V2241.3H518.8V2237.3H519.8V2236.2H520.8V2237.2H521.8V2240.1H522.8H523.8H524.8V2217.1H525.8H526.8V2237.5H527.8V2235.8H528.8V2239.9H529.8H530.8V2239.2H531.8H532.8H533.8H534.8H535.8V2228.5H536.8V2242.8H537.8H538.8H539.8V2238.8H540.8H541.8H542.8V2234.5H543.8V2232.2H544.8V2231.5H545.8V2231.6H546.8V2233.5H547.8V2234.1H548.8V2233.6H549.8V2239.7H550.8V2240H551.8V2239.6H552.8V2240.7H553.8V2242H554.8V2234.9H555.8V2232.7H556.8V2233H557.8V2238.8H558.8V2238H559.8V2231.6H560.8V2232.4H561.8V2231.6H562.8V2233.4H563.8V2240.9H564.8V2240.7H565.8V2229.2H566.8V2228.7H567.8V2230H568.8V2232.7H569.8V2226.4H570.8V2227.5H571.8V2231.5H572.8V2234.1H573.8V2234.3H574.8V2245.7H575.8V2240.5H576.8H577.8H578.8V2247.1H579.8H580.8H581.8V2241.1H582.8V2238.3H583.8V2239.4H584.8V2238H585.8V2239.6H586.8V2238.4H587.8V2232.5H588.8V2244.4H589.8H590.8V2244.3H591.8H592.8V2233.7H593.8V2233.2H594.8V2231.6H595.8V2232.7H596.8V2233.9H597.8V2231.5H598.8V2243.6H599.8V2241H600.8H601.8H602.8V2237.6H603.8V2237.9H604.8V2236.6H605.8V2237.2H606.8V2237.8H607.8V2237.1H608.8V2238.9H609.8V2246.9H610.8H611.8V2242.9H612.8V2239.5H613.8V2238.4H614.8V2240.3H615.8V2237.3H616.8V2231.1H617.8V2233.2H618.8V2231.2H619.8V2230.1H620.8V2228H621.8V2225.3H622.8V2228.1H623.8V2244.6H624.8H625.8H626.8V2242.8H627.8V2234.9H628.8V2235.3H629.8V2235.5H630.8V2235.7H631.8V2236.7H632.8V2242.4H633.8H634.8H635.8V2243.1H636.8H637.8H638.8V2240.5H639.8H640.8H641.8H642.8V2240H643.8V2240.1H644.8V2240.5H645.8V2242.3H646.8V2243.5H647.8V2243.7H648.8H649.8V2240.2H650.8V2240.8H651.8V2241.3H652.8V2245.5H653.8V2243.3H654.8H655.8H656.8V2244.8H657.8V2239.6H658.8V2238H659.8V2223.5H660.8H661.8V2240.3H662.8V2246.6H663.8H664.8H665.8V2232.9H666.8V2233.1H667.8V2232.5H668.8V2233.9H669.8V2232H670.8V2234H671.8V2231.6H672.8V2234H673.8V2241.4H674.8V2243.3H675.8V2236.4H676.8V2231.3H677.8V2233.1H678.8V2233.9H679.8V2232.8H680.8V2233.2H681.8V2245.1H682.8H683.8V2233.1H684.8V2231.3H685.8V2232.5H686.8V2241H687.8V2245.1H688.8H689.8V2247.3H690.8H691.8H692.8V2246.6H693.8V2241.9H694.8V2230.4H695.8V2231.7H696.8V2233.9H697.8V2231.8H698.8V2233.9H699.8V2243.5H700.8H701.8V2241.1H702.8H703.8H704.8V2236.2H705.8V2235.8H706.8V2234.3H707.8V2236.7H708.8V2233.4H709.8V2231.7H710.8V2228.9H711.8V2228.6H712.8V2225.5H713.8V2229.3H714.8V2229.5H715.8V2233.9H716.8V2234.5H717.8H718.8V2231.6H719.8V2232.9H720.8V2229.9H721.8V2238.2H722.8V2238.2H723.8H724.8H725.8V2235.7H726.8H727.8V2233.5H728.8V2230.3H729.8V2229.2H730.8V2232.3H731.8V2240.9H732.8V2230.9H733.8V2228.5H734.8V2229H735.8V2233.1H736.8V2227.5H737.8V2217.1H738.8H739.8V2232.6H740.8V2229.1H741.8H742.8H743.8V2233.7H744.8V2227.7H745.8V2230.4H746.8V2227.5H747.8H748.8H749.8V2229.4H750.8H751.8V2227.9H752.8V2226.1H753.8V2234.4H754.8V2234.6H755.8V2233.2H756.8V2234.7H757.8V2218.5H758.8V2230.6H759.8V2233.5H760.8H761.8V2231.7H762.8H763.8H764.8V2234.6H765.8V2233H766.8V2235.3H767.8V2231.2H768.8V2227.4H769.8V2231.1H770.8V2234.3H771.8V2233.5H772.8V2228H773.8V2229.6H774.8V2228H775.8V2230.5H776.8V2226.7H777.8V2224.3H778.8V2228.6H779.8V2210.5H780.8V2225.6H781.8V2227.6H782.8V2229.1H783.8V2230.7H784.8V2229.1H785.8V2226H786.8V2226.3H787.8V2238.9H788.8V2227H789.8H790.8H791.8V2232.2H792.8V2227.6H793.8V2229.9H794.8V2232.7H795.8V2231.5H796.8V2231.1H797.8V2226H798.8V2225.4H799.8V2226H800.8V2229.4H801.8V2225.9H802.8V2228.7H803.8V2229.5H804.8V2227.5H805.8V2230.7H806.8V2232.6H807.8V2228.9H808.8V2230.6H809.8V2227.5H810.8V2228.2H811.8V2230.3H812.8V2231.1H813.8V2231.1H814.8V2231.2H815.8V2233.9H816.8V2230.4H817.8V2229.5H818.8V2241.4H819.8H820.8H821.8V2236.6H822.8V2236.7H823.8V2234.5H824.8V2232.5H825.8V2233.8H826.8V2225.3H827.8V2230H828.8V2226.2H829.8V2233.2H830.8V2235.1H831.8V2235.1H832.8V2235.2H833.8V2233.5H834.8V2231.9H835.8V2231.5H836.8V2233.6H837.8V2229.7H838.8V2229.5H839.8V2222.5H840.8V2226.6H841.8V2236.3H842.8V2233.7H843.8V2234.1H844.8V2233.7H845.8V2236.4H846.8V2242.9H847.8V2243H848.8V2244.7H849.8V2239.9H850.8V2233.7H851.8V2234.1H852.8V2236.7H853.8V2235H854.8V2239.2H855.8V2242.9H856.8V2243H857.8V2234.7H858.8V2231.1H859.8V2232.8H860.8V2230.8H861.8V2229.4H862.8V2226.1H863.8V2229.4H864.8V2247.1H865.8H866.8V2244.2H867.8H868.8H869.8V2244.6H870.8H871.8H872.8V2247.5H873.8H874.8H875.8V2245.5H876.8H877.8H878.8V2246.9H879.8H880.8H881.8V2246.1H882.8H883.8H884.8V2247.3H885.8H886.8H887.8V2243.7H888.8H889.8H890.8V2240.6H891.8H892.8H893.8V2245.4H894.8H895.8V2233.5H896.8H897.8V2242.5H898.8H899.8V2242.6H900.8H901.8V2239.7H902.8V2240.1H903.8V2238.7H904.8V2239.2H905.8V2239.7H906.8V2242.3H907.8H908.8V2243.7H909.8V2243.1H910.8V2242.9H911.8V2243.2H912.8V2243.6H913.8V2242.6H914.8V2247.1H915.8H916.8H917.8V2244.4H918.8H919.8H920.8V2243.2H921.8H922.8H923.8V2244.3H924.8V2240.1H925.8V2240H926.8V2240.7H927.8V2243.8H928.8H929.8V2240.6H930.8H931.8H932.8V2240.8H933.8V2240.2H934.8V2240.8H935.8V2241.3H936.8V2240.9H937.8V2241.3H938.8V2240.9H939.8V2240.1H940.8V2240.2H941.8V2242.5H942.8V2238.5H943.8V2240.2H944.8V2239.8H945.8V2240.8H946.8V2244.1H947.8V2240.9H948.8H949.8H950.8V2241.3H951.8H952.8H953.8V2244.8H954.8V2241.8H955.8H956.8V2242.8H957.8H958.8H959.8V2239.5H960.8H961.8H962.8V2237.3H963.8H964.8H965.8V2238.3H966.8H967.8H968.8V2236.2H969.8H970.8H971.8V2237.1H972.8H973.8H974.8V2242.2H975.8V2239.1H976.8V2239.8H977.8V2240.2H978.8V2238.7H979.8V2239.7H980.8V2242.4H981.8V2245.5H982.8H983.8V2240.8H984.8V2239.6H985.8V2240H986.8V2239.4H987.8H988.8H989.8V2239H990.8H991.8H992.8V2240.2H993.8H994.8V2239.5H995.8V2240.8H996.8V2239.8H997.8V2240.8H998.8V2239.9H999.8V2241.2H1000.8H1001.8V2243.6H1002.8H1003.8H1004.8V2240.4H1005.8V2242.5H1006.8V2240.8H1007.8V2240.6H1008.8V2242.2H1009.8V2240.6H1010.8V2241.5H1011.8V2244.7H1012.8H1013.8V2241.7H1014.8H1015.8V2240.6H1016.8V2239.4H1017.8V2241.5H1018.8V2240H1019.8V2241.6H1020.8H1021.8V2241H1022.8V2241.5H1023.8V2239.9H1024.8V2239.9H1025.8V2238.9H1026.8V2241.5H1027.8H1028.8V2242.6H1029.8H1030.8H1031.8V2242.5H1032.8H1033.8H1034.8V2243.2H1035.8H1036.8H1037.8V2243.6H1038.8V2241.6H1039.8V2242.5H1040.8V2240.8H1041.8H1042.8H1043.8V2242.1H1044.8H1045.8H1046.8V2242.2H1047.8H1048.8H1049.8V2240.5H1050.8H1051.8H1052.8V2244.8H1053.8H1054.8V2244.2H1055.8V2245.2H1056.8V2244.4H1057.8V2239.4H1058.8V2241.7H1059.8V2239.1H1060.8V2239.3H1061.8H1062.8V2240.6H1063.8H1064.8V2241.4H1065.8V2238.8H1066.8V2241.3H1067.8V2241.9H1068.8H1069.8H1070.8V2245H1071.8H1072.8H1073.8V2242.6H1074.8V2241.4H1075.8V2240.2H1076.8V2240.5H1077.8V2239.8H1078.8V2240.5H1079.8V2243.6H1080.8H1081.8V2240.6H1082.8V2241.7H1083.8V2240.9H1084.8V2241.7H1085.8V2240.5H1086.8H1087.8H1088.8H1089.8H1090.8H1091.8V2241.5H1092.8V2238.8H1093.8V2241.2H1094.8V2239.5H1095.8V2240.5H1096.8V2242.2H1097.8V2240.5H1098.8H1099.8H1100.8V2238.9H1101.8H1102.8H1103.8V2239.7H1104.8V2242.5H1105.8V2240.8H1106.8V2240.8H1107.8V2241.8H1108.8V2241.3H1109.8V2239.5H1110.8V2240H1111.8V2237.8H1112.8V2237.9H1113.8V2238.6H1114.8V2239.1H1115.8V2238.3H1116.8V2243.8H1117.8H1118.8V2242.2H1119.8H1120.8H1121.8V2240.8H1122.8V2239.5H1123.8V2240.2H1124.8V2240.3H1125.8V2241.1H1126.8V2232.5H1127.8V2239.6H1128.8H1129.8H1130.8V2240.5H1131.8H1132.8H1133.8V2242H1134.8H1135.8V2240H1136.8V2237.6H1137.8H1138.8V2234.5H1139.8V2241.1H1140.8H1141.8H1142.8V2244.5H1143.8H1144.8H1145.8V2241.7H1146.8V2240.9H1147.8V2241.2H1148.8V2237.6H1149.8H1150.8H1151.8V2237H1152.8H1153.8H1154.8V2240.9H1155.8V2253.5Z" fill="#07992f"/>
<text x="174.3" y="2271.4" font-size="12.9" textLength="34.9" lengthAdjust="spacingAndGlyphs" fill="#2a2a2a" stroke="#2a2a2a" stroke-width="0.4">[0 - 3000]</text>
<rect x="167.8" y="2311" width="988.2" height="2.6" fill="#bcbcbc"/>
<path d="M167.8 2311V2311H168.8H169.8H170.8H171.8H172.8H173.8H174.8H175.8H176.8H177.8H178.8H179.8H180.8H181.8H182.8H183.8H184.8H185.8H186.8H187.8H188.8H189.8H190.8H191.8H192.8H193.8H194.8H195.8H196.8H197.8H198.8H199.8H200.8H201.8H202.8H203.8H204.8H205.8H206.8H207.8H208.8H209.8H210.8H211.8H212.8H213.8H214.8H215.8H216.8H217.8H218.8H219.8H220.8H221.8H222.8H223.8H224.8H225.8H226.8H227.8H228.8H229.8H230.8H231.8H232.8H233.8H234.8H235.8H236.8H237.8H238.8H239.8H240.8H241.8H242.8H243.8H244.8H245.8H246.8H247.8H248.8H249.8H250.8H251.8H252.8H253.8H254.8H255.8H256.8H257.8H258.8H259.8H260.8H261.8H262.8H263.8H264.8H265.8H266.8H267.8H268.8H269.8H270.8H271.8H272.8H273.8H274.8H275.8H276.8H277.8H278.8H279.8H280.8H281.8H282.8H283.8H284.8H285.8H286.8H287.8H288.8H289.8H290.8H291.8H292.8H293.8H294.8H295.8H296.8H297.8H298.8H299.8H300.8H301.8H302.8H303.8H304.8H305.8H306.8H307.8H308.8H309.8H310.8H311.8H312.8H313.8H314.8H315.8H316.8H317.8H318.8H319.8H320.8H321.8H322.8H323.8H324.8H325.8H326.8H327.8H328.8H329.8H330.8H331.8H332.8H333.8H334.8H335.8H336.8H337.8H338.8H339.8H340.8H341.8H342.8H343.8H344.8H345.8H346.8H347.8H348.8H349.8H350.8H351.8H352.8H353.8H354.8H355.8H356.8H357.8H358.8H359.8H360.8H361.8H362.8H363.8H364.8H365.8H366.8H367.8H368.8H369.8H370.8H371.8H372.8H373.8H374.8H375.8H376.8H377.8H378.8H379.8H380.8H381.8H382.8H383.8H384.8H385.8H386.8V2309H387.8H388.8H389.8H390.8H391.8V2311H392.8H393.8H394.8H395.8H396.8H397.8H398.8H399.8H400.8H401.8H402.8H403.8H404.8H405.8H406.8H407.8H408.8H409.8H410.8H411.8H412.8H413.8H414.8H415.8H416.8H417.8H418.8H419.8H420.8H421.8H422.8H423.8H424.8H425.8H426.8H427.8H428.8H429.8H430.8H431.8H432.8H433.8H434.8H435.8H436.8H437.8H438.8H439.8H440.8H441.8H442.8H443.8H444.8H445.8H446.8H447.8H448.8H449.8H450.8H451.8H452.8H453.8H454.8H455.8H456.8H457.8H458.8H459.8H460.8H461.8H462.8H463.8H464.8H465.8H466.8H467.8H468.8H469.8H470.8H471.8H472.8H473.8H474.8H475.8H476.8H477.8H478.8H479.8H480.8H481.8H482.8H483.8H484.8H485.8H486.8H487.8H488.8H489.8H490.8H491.8H492.8H493.8H494.8H495.8H496.8H497.8H498.8H499.8H500.8H501.8H502.8H503.8H504.8H505.8H506.8H507.8H508.8H509.8H510.8H511.8H512.8H513.8H514.8H515.8H516.8H517.8H518.8H519.8H520.8H521.8H522.8H523.8H524.8H525.8H526.8H527.8H528.8H529.8H530.8H531.8H532.8H533.8H534.8H535.8H536.8H537.8H538.8H539.8H540.8H541.8H542.8H543.8H544.8H545.8H546.8H547.8H548.8H549.8H550.8H551.8H552.8H553.8H554.8H555.8H556.8H557.8H558.8H559.8H560.8H561.8H562.8H563.8H564.8H565.8H566.8H567.8H568.8H569.8H570.8H571.8H572.8H573.8H574.8H575.8H576.8H577.8H578.8H579.8H580.8H581.8H582.8H583.8H584.8H585.8H586.8H587.8H588.8H589.8H590.8H591.8H592.8H593.8H594.8H595.8H596.8H597.8H598.8H599.8H600.8H601.8H602.8H603.8H604.8H605.8H606.8H607.8H608.8H609.8H610.8H611.8H612.8H613.8H614.8H615.8H616.8H617.8H618.8H619.8H620.8H621.8H622.8H623.8H624.8H625.8H626.8H627.8H628.8H629.8H630.8H631.8H632.8H633.8H634.8H635.8H636.8H637.8H638.8H639.8H640.8H641.8H642.8H643.8H644.8H645.8H646.8H647.8H648.8H649.8H650.8H651.8H652.8H653.8H654.8H655.8H656.8H657.8H658.8H659.8H660.8H661.8H662.8H663.8H664.8H665.8H666.8H667.8H668.8H669.8H670.8H671.8H672.8H673.8H674.8H675.8H676.8H677.8H678.8H679.8H680.8H681.8H682.8H683.8H684.8H685.8H686.8H687.8H688.8H689.8H690.8H691.8H692.8H693.8H694.8H695.8H696.8H697.8H698.8H699.8H700.8H701.8H702.8H703.8H704.8H705.8H706.8H707.8H708.8H709.8H710.8H711.8H712.8H713.8H714.8H715.8H716.8H717.8H718.8H719.8H720.8H721.8H722.8H723.8H724.8H725.8H726.8H727.8H728.8H729.8H730.8H731.8H732.8V2305H733.8V2291.4H734.8H735.8V2311H736.8H737.8H738.8H739.8H740.8H741.8H742.8H743.8H744.8H745.8H746.8H747.8H748.8H749.8H750.8H751.8H752.8H753.8H754.8H755.8H756.8H757.8H758.8H759.8H760.8H761.8H762.8H763.8H764.8H765.8H766.8H767.8H768.8H769.8H770.8H771.8H772.8H773.8H774.8H775.8H776.8H777.8H778.8H779.8H780.8H781.8H782.8H783.8H784.8H785.8H786.8H787.8H788.8H789.8H790.8H791.8H792.8H793.8H794.8H795.8H796.8H797.8H798.8H799.8H800.8H801.8H802.8H803.8H804.8H805.8H806.8H807.8H808.8H809.8H810.8H811.8H812.8H813.8H814.8H815.8H816.8H817.8H818.8H819.8H820.8H821.8H822.8H823.8H824.8H825.8H826.8H827.8H828.8H829.8H830.8H831.8H832.8H833.8H834.8H835.8H836.8H837.8H838.8H839.8H840.8H841.8H842.8H843.8H844.8H845.8H846.8H847.8H848.8H849.8H850.8H851.8H852.8H853.8H854.8H855.8H856.8H857.8H858.8H859.8H860.8H861.8H862.8H863.8H864.8H865.8H866.8H867.8H868.8H869.8H870.8H871.8H872.8H873.8H874.8H875.8H876.8H877.8H878.8H879.8H880.8H881.8H882.8H883.8H884.8H885.8H886.8H887.8H888.8H889.8H890.8H891.8H892.8H893.8H894.8H895.8H896.8H897.8H898.8H899.8H900.8H901.8H902.8H903.8H904.8H905.8H906.8H907.8H908.8H909.8H910.8H911.8H912.8H913.8H914.8H915.8H916.8H917.8H918.8H919.8H920.8H921.8H922.8H923.8H924.8H925.8H926.8H927.8H928.8H929.8H930.8H931.8H932.8H933.8H934.8H935.8H936.8H937.8H938.8H939.8H940.8H941.8H942.8H943.8H944.8H945.8H946.8H947.8H948.8H949.8H950.8H951.8H952.8H953.8H954.8H955.8H956.8H957.8H958.8H959.8H960.8H961.8H962.8H963.8H964.8H965.8H966.8H967.8H968.8H969.8H970.8H971.8H972.8H973.8H974.8H975.8H976.8H977.8H978.8H979.8H980.8H981.8H982.8H983.8H984.8H985.8H986.8H987.8H988.8H989.8H990.8H991.8H992.8H993.8H994.8H995.8H996.8H997.8H998.8H999.8H1000.8H1001.8H1002.8H1003.8H1004.8H1005.8H1006.8H1007.8H1008.8H1009.8H1010.8H1011.8H1012.8H1013.8H1014.8H1015.8H1016.8H1017.8H1018.8H1019.8H1020.8H1021.8H1022.8H1023.8H1024.8H1025.8H1026.8H1027.8H1028.8H1029.8H1030.8H1031.8H1032.8H1033.8H1034.8H1035.8H1036.8H1037.8H1038.8H1039.8H1040.8H1041.8H1042.8H1043.8H1044.8H1045.8H1046.8H1047.8H1048.8H1049.8H1050.8H1051.8H1052.8H1053.8H1054.8H1055.8H1056.8H1057.8H1058.8H1059.8H1060.8H1061.8H1062.8H1063.8H1064.8H1065.8H1066.8H1067.8H1068.8H1069.8H1070.8H1071.8H1072.8H1073.8H1074.8H1075.8H1076.8H1077.8H1078.8H1079.8H1080.8H1081.8H1082.8H1083.8H1084.8H1085.8H1086.8H1087.8H1088.8H1089.8H1090.8H1091.8H1092.8H1093.8H1094.8H1095.8H1096.8H1097.8H1098.8H1099.8H1100.8H1101.8H1102.8H1103.8H1104.8H1105.8H1106.8H1107.8H1108.8H1109.8H1110.8H1111.8H1112.8H1113.8H1114.8H1115.8H1116.8H1117.8H1118.8H1119.8H1120.8H1121.8H1122.8H1123.8H1124.8H1125.8H1126.8H1127.8H1128.8H1129.8H1130.8H1131.8H1132.8H1133.8H1134.8H1135.8H1136.8H1137.8H1138.8H1139.8H1140.8H1141.8H1142.8H1143.8H1144.8H1145.8H1146.8H1147.8H1148.8H1149.8H1150.8H1151.8H1152.8H1153.8H1154.8H1155.8V2311Z" fill="#f99d03"/>
<text x="174.3" y="2328.9" font-size="12.9" textLength="34.9" lengthAdjust="spacingAndGlyphs" fill="#2a2a2a" stroke="#2a2a2a" stroke-width="0.4">[0 - 3000]</text>
<rect x="167.8" y="2368.5" width="988.2" height="2.6" fill="#bcbcbc"/>
<path d="M167.8 2368.5V2368.5H168.8H169.8H170.8H171.8H172.8H173.8H174.8H175.8H176.8H177.8H178.8H179.8H180.8H181.8H182.8H183.8H184.8H185.8H186.8H187.8H188.8H189.8H190.8H191.8H192.8H193.8H194.8H195.8H196.8H197.8H198.8H199.8H200.8H201.8H202.8H203.8H204.8H205.8H206.8H207.8H208.8H209.8H210.8H211.8H212.8H213.8H214.8H215.8H216.8H217.8H218.8H219.8H220.8H221.8H222.8H223.8H224.8H225.8H226.8H227.8H228.8H229.8H230.8H231.8H232.8H233.8H234.8H235.8H236.8H237.8H238.8H239.8H240.8H241.8H242.8H243.8H244.8H245.8H246.8H247.8H248.8H249.8H250.8H251.8H252.8H253.8H254.8H255.8H256.8H257.8H258.8H259.8H260.8H261.8H262.8H263.8H264.8H265.8H266.8H267.8H268.8H269.8H270.8H271.8H272.8H273.8H274.8H275.8H276.8H277.8H278.8H279.8H280.8H281.8H282.8H283.8H284.8H285.8H286.8H287.8H288.8H289.8H290.8H291.8H292.8H293.8H294.8H295.8H296.8H297.8H298.8H299.8H300.8H301.8H302.8H303.8H304.8H305.8H306.8H307.8H308.8H309.8H310.8H311.8H312.8H313.8H314.8H315.8H316.8H317.8H318.8H319.8H320.8H321.8H322.8H323.8H324.8H325.8H326.8H327.8H328.8H329.8H330.8H331.8H332.8H333.8H334.8H335.8H336.8H337.8H338.8H339.8H340.8H341.8H342.8H343.8H344.8H345.8H346.8H347.8H348.8H349.8H350.8H351.8H352.8H353.8H354.8H355.8H356.8H357.8H358.8H359.8H360.8H361.8H362.8H363.8H364.8H365.8H366.8H367.8H368.8H369.8H370.8H371.8H372.8H373.8H374.8H375.8H376.8H377.8H378.8H379.8H380.8H381.8H382.8H383.8H384.8H385.8H386.8V2352.5H387.8V2368.5H388.8H389.8V2341.7H390.8V2368.5H391.8H392.8H393.8H394.8H395.8H396.8H397.8H398.8H399.8H400.8H401.8H402.8H403.8H404.8H405.8H406.8H407.8H408.8H409.8H410.8H411.8H412.8H413.8H414.8H415.8H416.8H417.8H418.8H419.8H420.8H421.8H422.8H423.8H424.8H425.8H426.8H427.8H428.8H429.8H430.8H431.8H432.8H433.8H434.8H435.8H436.8H437.8H438.8H439.8H440.8H441.8H442.8H443.8H444.8H445.8H446.8H447.8H448.8H449.8H450.8H451.8H452.8H453.8H454.8H455.8H456.8H457.8H458.8H459.8H460.8H461.8H462.8H463.8H464.8H465.8H466.8H467.8H468.8H469.8H470.8H471.8H472.8H473.8H474.8H475.8H476.8H477.8H478.8H479.8H480.8H481.8H482.8H483.8H484.8H485.8H486.8H487.8H488.8H489.8H490.8H491.8H492.8H493.8H494.8H495.8H496.8H497.8H498.8H499.8H500.8H501.8H502.8H503.8H504.8H505.8H506.8H507.8H508.8H509.8H510.8H511.8H512.8H513.8H514.8H515.8H516.8H517.8H518.8H519.8H520.8H521.8H522.8H523.8H524.8H525.8H526.8H527.8H528.8H529.8H530.8H531.8H532.8H533.8H534.8H535.8H536.8H537.8H538.8H539.8H540.8H541.8H542.8H543.8H544.8H545.8H546.8H547.8H548.8H549.8H550.8H551.8H552.8H553.8H554.8H555.8H556.8H557.8H558.8H559.8H560.8H561.8H562.8H563.8H564.8H565.8H566.8H567.8H568.8H569.8H570.8H571.8H572.8H573.8H574.8H575.8H576.8H577.8H578.8H579.8H580.8H581.8H582.8H583.8H584.8H585.8H586.8H587.8H588.8H589.8H590.8H591.8H592.8H593.8H594.8H595.8H596.8H597.8H598.8H599.8H600.8H601.8H602.8H603.8H604.8H605.8H606.8H607.8H608.8H609.8H610.8H611.8H612.8H613.8H614.8H615.8H616.8H617.8H618.8H619.8H620.8H621.8H622.8H623.8H624.8H625.8H626.8H627.8H628.8H629.8H630.8H631.8H632.8H633.8H634.8H635.8H636.8H637.8H638.8H639.8H640.8H641.8H642.8H643.8H644.8H645.8H646.8H647.8H648.8H649.8H650.8H651.8H652.8H653.8H654.8H655.8H656.8H657.8H658.8H659.8H660.8H661.8H662.8H663.8H664.8H665.8H666.8H667.8H668.8H669.8H670.8H671.8H672.8H673.8H674.8H675.8H676.8H677.8H678.8H679.8H680.8H681.8H682.8H683.8H684.8H685.8H686.8H687.8H688.8H689.8H690.8H691.8H692.8H693.8H694.8H695.8H696.8H697.8H698.8H699.8H700.8H701.8H702.8H703.8H704.8H705.8H706.8H707.8H708.8H709.8H710.8H711.8H712.8H713.8H714.8H715.8H716.8H717.8H718.8H719.8H720.8H721.8H722.8H723.8V2363.5H724.8H725.8V2368.5H726.8H727.8H728.8H729.8H730.8H731.8H732.8H733.8V2347.1H734.8H735.8V2368.5H736.8H737.8H738.8H739.8H740.8H741.8H742.8H743.8H744.8H745.8H746.8H747.8H748.8H749.8H750.8H751.8H752.8H753.8H754.8H755.8H756.8H757.8H758.8H759.8H760.8H761.8H762.8H763.8H764.8H765.8H766.8H767.8H768.8H769.8H770.8H771.8H772.8V2362H773.8H774.8V2368.5H775.8H776.8H777.8H778.8H779.8H780.8H781.8H782.8V2366.5H783.8H784.8V2368.5H785.8H786.8H787.8H788.8H789.8H790.8H791.8H792.8H793.8H794.8H795.8H796.8H797.8H798.8H799.8H800.8H801.8H802.8H803.8H804.8H805.8H806.8H807.8H808.8H809.8H810.8H811.8H812.8H813.8H814.8H815.8H816.8H817.8H818.8H819.8H820.8H821.8H822.8H823.8H824.8H825.8H826.8H827.8H828.8H829.8H830.8H831.8H832.8H833.8H834.8H835.8H836.8H837.8H838.8H839.8H840.8H841.8H842.8H843.8H844.8H845.8H846.8H847.8H848.8H849.8H850.8H851.8H852.8H853.8H854.8H855.8H856.8H857.8H858.8H859.8H860.8H861.8H862.8H863.8H864.8H865.8H866.8H867.8H868.8H869.8H870.8H871.8H872.8H873.8H874.8H875.8H876.8H877.8H878.8H879.8H880.8H881.8H882.8H883.8H884.8H885.8H886.8H887.8H888.8H889.8H890.8H891.8H892.8H893.8H894.8H895.8H896.8H897.8H898.8H899.8H900.8H901.8H902.8H903.8H904.8H905.8H906.8H907.8H908.8H909.8H910.8H911.8H912.8H913.8H914.8H915.8H916.8H917.8H918.8H919.8H920.8H921.8H922.8H923.8H924.8H925.8H926.8H927.8H928.8H929.8H930.8H931.8H932.8H933.8H934.8H935.8H936.8H937.8H938.8H939.8H940.8H941.8H942.8H943.8H944.8H945.8H946.8H947.8H948.8H949.8H950.8H951.8H952.8H953.8H954.8H955.8H956.8H957.8H958.8H959.8H960.8H961.8H962.8H963.8H964.8H965.8H966.8H967.8H968.8H969.8H970.8H971.8H972.8H973.8H974.8H975.8H976.8H977.8H978.8H979.8H980.8H981.8H982.8H983.8H984.8H985.8H986.8H987.8H988.8H989.8H990.8H991.8H992.8H993.8H994.8H995.8H996.8H997.8H998.8H999.8H1000.8H1001.8H1002.8H1003.8H1004.8H1005.8H1006.8H1007.8H1008.8H1009.8H1010.8H1011.8H1012.8H1013.8H1014.8H1015.8H1016.8H1017.8H1018.8H1019.8H1020.8H1021.8H1022.8H1023.8H1024.8H1025.8H1026.8H1027.8H1028.8H1029.8H1030.8H1031.8H1032.8H1033.8H1034.8H1035.8H1036.8H1037.8H1038.8H1039.8H1040.8H1041.8H1042.8H1043.8H1044.8H1045.8H1046.8H1047.8H1048.8H1049.8H1050.8H1051.8H1052.8H1053.8H1054.8H1055.8H1056.8H1057.8H1058.8H1059.8H1060.8H1061.8H1062.8H1063.8H1064.8H1065.8H1066.8H1067.8H1068.8H1069.8H1070.8H1071.8H1072.8H1073.8H1074.8H1075.8H1076.8H1077.8H1078.8H1079.8H1080.8H1081.8H1082.8H1083.8H1084.8H1085.8H1086.8H1087.8H1088.8H1089.8H1090.8H1091.8H1092.8H1093.8H1094.8H1095.8H1096.8H1097.8H1098.8H1099.8H1100.8H1101.8H1102.8H1103.8H1104.8H1105.8H1106.8H1107.8H1108.8H1109.8H1110.8H1111.8H1112.8H1113.8H1114.8H1115.8H1116.8H1117.8H1118.8H1119.8H1120.8H1121.8H1122.8H1123.8H1124.8H1125.8H1126.8H1127.8H1128.8H1129.8H1130.8H1131.8H1132.8H1133.8H1134.8H1135.8H1136.8H1137.8H1138.8H1139.8H1140.8H1141.8H1142.8H1143.8H1144.8H1145.8H1146.8H1147.8H1148.8H1149.8H1150.8H1151.8H1152.8H1153.8H1154.8H1155.8V2368.5Z" fill="#f99d03"/>
<text x="174.3" y="2386.4" font-size="12.9" textLength="34.9" lengthAdjust="spacingAndGlyphs" fill="#2a2a2a" stroke="#2a2a2a" stroke-width="0.4">[0 - 3000]</text>
<rect x="167.8" y="2426" width="988.2" height="2.6" fill="#bcbcbc"/>
<path d="M167.8 2426V2426H168.8H169.8H170.8H171.8H172.8H173.8H174.8H175.8H176.8H177.8H178.8H179.8H180.8H181.8H182.8H183.8H184.8H185.8H186.8H187.8H188.8H189.8H190.8H191.8H192.8H193.8H194.8H195.8H196.8H197.8H198.8H199.8H200.8H201.8H202.8H203.8H204.8H205.8H206.8H207.8H208.8H209.8H210.8H211.8H212.8H213.8H214.8H215.8H216.8H217.8H218.8H219.8H220.8H221.8H222.8H223.8H224.8H225.8H226.8H227.8H228.8H229.8H230.8H231.8H232.8H233.8H234.8H235.8H236.8H237.8H238.8H239.8H240.8H241.8H242.8H243.8H244.8H245.8H246.8H247.8H248.8H249.8H250.8H251.8H252.8H253.8H254.8H255.8H256.8H257.8H258.8H259.8H260.8H261.8H262.8H263.8H264.8H265.8H266.8H267.8H268.8H269.8H270.8H271.8H272.8H273.8H274.8H275.8H276.8H277.8H278.8H279.8H280.8H281.8H282.8H283.8H284.8H285.8H286.8H287.8H288.8H289.8H290.8H291.8H292.8H293.8H294.8H295.8H296.8H297.8H298.8H299.8H300.8H301.8H302.8H303.8H304.8H305.8H306.8H307.8H308.8H309.8H310.8H311.8H312.8H313.8H314.8H315.8H316.8H317.8H318.8H319.8H320.8H321.8H322.8H323.8H324.8H325.8H326.8H327.8H328.8H329.8H330.8H331.8H332.8H333.8H334.8H335.8H336.8H337.8H338.8H339.8H340.8H341.8H342.8H343.8H344.8H345.8H346.8H347.8H348.8H349.8H350.8H351.8H352.8H353.8H354.8H355.8H356.8H357.8H358.8H359.8H360.8H361.8H362.8H363.8H364.8H365.8H366.8H367.8H368.8H369.8H370.8H371.8H372.8H373.8H374.8H375.8H376.8H377.8H378.8H379.8H380.8H381.8H382.8H383.8H384.8H385.8H386.8V2400.5H387.8V2426H388.8V2384.4H389.8H390.8V2426H391.8H392.8H393.8H394.8H395.8H396.8H397.8H398.8H399.8H400.8H401.8H402.8H403.8H404.8H405.8H406.8H407.8H408.8H409.8H410.8H411.8H412.8H413.8H414.8H415.8H416.8H417.8H418.8H419.8H420.8H421.8H422.8H423.8H424.8H425.8H426.8H427.8H428.8H429.8H430.8H431.8H432.8H433.8H434.8H435.8H436.8H437.8H438.8H439.8H440.8H441.8H442.8H443.8H444.8H445.8H446.8H447.8H448.8H449.8H450.8H451.8H452.8H453.8H454.8H455.8H456.8H457.8H458.8H459.8H460.8H461.8H462.8H463.8H464.8H465.8H466.8H467.8H468.8H469.8H470.8H471.8H472.8H473.8H474.8H475.8H476.8H477.8H478.8H479.8H480.8H481.8H482.8H483.8H484.8H485.8H486.8H487.8H488.8H489.8H490.8H491.8H492.8H493.8H494.8H495.8H496.8H497.8H498.8H499.8H500.8H501.8H502.8H503.8H504.8H505.8H506.8H507.8H508.8H509.8H510.8H511.8H512.8H513.8H514.8H515.8H516.8H517.8H518.8H519.8H520.8H521.8H522.8H523.8H524.8H525.8H526.8H527.8H528.8H529.8H530.8H531.8H532.8H533.8H534.8H535.8H536.8H537.8H538.8H539.8H540.8H541.8H542.8H543.8H544.8H545.8H546.8H547.8H548.8H549.8H550.8H551.8H552.8H553.8H554.8H555.8H556.8H557.8H558.8H559.8H560.8H561.8H562.8H563.8H564.8H565.8H566.8H567.8H568.8H569.8H570.8H571.8H572.8H573.8H574.8H575.8H576.8H577.8H578.8H579.8H580.8H581.8H582.8H583.8H584.8H585.8H586.8H587.8H588.8H589.8H590.8H591.8H592.8H593.8H594.8H595.8H596.8H597.8H598.8H599.8H600.8H601.8H602.8H603.8H604.8H605.8H606.8H607.8H608.8H609.8H610.8H611.8H612.8H613.8H614.8H615.8H616.8H617.8H618.8H619.8H620.8H621.8H622.8H623.8H624.8H625.8H626.8H627.8H628.8H629.8H630.8H631.8H632.8H633.8H634.8H635.8H636.8H637.8H638.8H639.8H640.8H641.8H642.8H643.8H644.8H645.8H646.8H647.8H648.8H649.8H650.8H651.8H652.8H653.8H654.8H655.8H656.8H657.8H658.8H659.8H660.8H661.8H662.8H663.8H664.8H665.8H666.8H667.8H668.8H669.8H670.8H671.8H672.8H673.8H674.8H675.8H676.8H677.8H678.8H679.8H680.8H681.8H682.8H683.8H684.8H685.8H686.8H687.8H688.8H689.8H690.8H691.8H692.8H693.8H694.8H695.8H696.8H697.8H698.8H699.8H700.8H701.8H702.8H703.8H704.8H705.8H706.8H707.8H708.8H709.8H710.8H711.8H712.8H713.8H714.8H715.8H716.8H717.8H718.8H719.8H720.8H721.8H722.8H723.8V2403.4H724.8H725.8H726.8V2426H727.8H728.8H729.8H730.8H731.8H732.8V2408H733.8H734.8H735.8V2426H736.8H737.8H738.8H739.8H740.8H741.8H742.8H743.8H744.8H745.8H746.8H747.8H748.8H749.8H750.8H751.8H752.8H753.8H754.8H755.8H756.8H757.8H758.8H759.8H760.8H761.8H762.8H763.8H764.8H765.8H766.8H767.8H768.8H769.8H770.8H771.8V2382.2H772.8H773.8H774.8V2426H775.8H776.8H777.8H778.8H779.8H780.8H781.8V2394.3H782.8H783.8H784.8V2426H785.8H786.8H787.8H788.8H789.8H790.8H791.8H792.8H793.8H794.8H795.8H796.8H797.8H798.8H799.8H800.8H801.8H802.8H803.8H804.8H805.8H806.8H807.8H808.8H809.8H810.8H811.8H812.8H813.8H814.8H815.8H816.8H817.8H818.8H819.8H820.8H821.8H822.8H823.8H824.8H825.8H826.8H827.8H828.8H829.8H830.8H831.8H832.8H833.8H834.8H835.8H836.8H837.8H838.8H839.8H840.8H841.8H842.8H843.8H844.8H845.8H846.8H847.8H848.8H849.8H850.8H851.8H852.8H853.8H854.8H855.8H856.8H857.8H858.8H859.8H860.8H861.8H862.8H863.8H864.8H865.8H866.8H867.8H868.8H869.8H870.8H871.8H872.8H873.8H874.8H875.8H876.8H877.8H878.8H879.8H880.8H881.8H882.8H883.8H884.8H885.8H886.8H887.8H888.8H889.8H890.8H891.8H892.8H893.8H894.8H895.8H896.8H897.8H898.8H899.8H900.8H901.8H902.8H903.8H904.8H905.8H906.8H907.8H908.8H909.8H910.8H911.8H912.8H913.8H914.8H915.8H916.8H917.8H918.8H919.8H920.8H921.8H922.8H923.8H924.8H925.8H926.8H927.8H928.8H929.8H930.8H931.8H932.8H933.8H934.8H935.8H936.8H937.8H938.8H939.8H940.8H941.8H942.8H943.8H944.8H945.8H946.8H947.8H948.8H949.8H950.8H951.8H952.8H953.8H954.8H955.8H956.8H957.8H958.8H959.8H960.8H961.8H962.8H963.8H964.8H965.8H966.8H967.8H968.8H969.8H970.8H971.8H972.8H973.8H974.8H975.8H976.8H977.8H978.8H979.8H980.8H981.8H982.8H983.8H984.8H985.8H986.8H987.8H988.8H989.8H990.8H991.8H992.8H993.8H994.8H995.8H996.8H997.8H998.8H999.8H1000.8H1001.8H1002.8H1003.8H1004.8H1005.8H1006.8H1007.8H1008.8H1009.8H1010.8H1011.8H1012.8H1013.8H1014.8H1015.8H1016.8H1017.8H1018.8H1019.8H1020.8H1021.8H1022.8H1023.8H1024.8H1025.8H1026.8H1027.8H1028.8H1029.8H1030.8H1031.8H1032.8H1033.8H1034.8H1035.8H1036.8H1037.8H1038.8H1039.8H1040.8H1041.8H1042.8H1043.8H1044.8H1045.8H1046.8H1047.8H1048.8H1049.8H1050.8H1051.8H1052.8H1053.8H1054.8H1055.8H1056.8H1057.8H1058.8H1059.8H1060.8H1061.8H1062.8H1063.8H1064.8H1065.8H1066.8H1067.8H1068.8H1069.8H1070.8H1071.8H1072.8H1073.8H1074.8H1075.8H1076.8H1077.8H1078.8H1079.8H1080.8H1081.8H1082.8H1083.8H1084.8H1085.8H1086.8H1087.8H1088.8H1089.8H1090.8H1091.8H1092.8H1093.8H1094.8H1095.8H1096.8H1097.8H1098.8H1099.8H1100.8H1101.8H1102.8H1103.8H1104.8H1105.8H1106.8H1107.8H1108.8H1109.8H1110.8H1111.8H1112.8H1113.8H1114.8H1115.8H1116.8H1117.8H1118.8H1119.8H1120.8H1121.8H1122.8H1123.8H1124.8H1125.8H1126.8H1127.8H1128.8H1129.8H1130.8H1131.8H1132.8H1133.8H1134.8H1135.8H1136.8H1137.8H1138.8H1139.8H1140.8H1141.8H1142.8H1143.8H1144.8H1145.8H1146.8H1147.8H1148.8H1149.8H1150.8H1151.8H1152.8H1153.8H1154.8H1155.8V2426Z" fill="#f99d03"/>
<text x="1156.5" y="1691.4" font-size="17" text-anchor="end" textLength="31" lengthAdjust="spacingAndGlyphs" fill="#c00000" stroke="#c00000" stroke-width="0.35">100kb</text>
<rect x="1086.2" y="1695.5" width="70.8" height="2.5" fill="#c00000"/>
<rect x="163" y="2445" width="158" height="3" fill="#0000aa"/>
<rect x="169.4" y="2434.4" width="5.4" height="24.2" fill="#0000aa"/>
<rect x="181.5" y="2434.4" width="2.7" height="24.2" fill="#0000aa"/>
<rect x="185.5" y="2434.4" width="4" height="24.2" fill="#0000aa"/>
<rect x="196.2" y="2434.4" width="25.5" height="24.2" fill="#0000aa"/>
<rect x="223" y="2434.4" width="2.8" height="24.2" fill="#0000aa"/>
<rect x="233.8" y="2434.4" width="2.7" height="24.2" fill="#0000aa"/>
<polyline points="242.5,2441.5 236.5,2446.5 242.5,2451.5" fill="none" stroke="#0000aa" stroke-width="2.8"/>
<rect x="240.5" y="2434.4" width="2.7" height="24.2" fill="#0000aa"/>
<polygon points="248.2,2446.5 252,2441 255.8,2446.5 252,2452" fill="#0000aa"/>
<rect x="258" y="2434.4" width="49.7" height="24.2" fill="#0000aa"/>
<rect x="314.4" y="2434.4" width="6.6" height="24.2" fill="#0000aa"/>
<rect x="332" y="2434.4" width="5" height="24.2" fill="#0000aa"/>
<rect x="345" y="2445" width="13.7" height="3" fill="#0000aa"/>
<rect x="345.2" y="2434.4" width="2.8" height="24.2" fill="#0000aa"/>
<rect x="349.3" y="2434.4" width="4" height="24.2" fill="#0000aa"/>
<rect x="354.6" y="2434.4" width="4.1" height="24.2" fill="#0000aa"/>
<rect x="362.7" y="2445" width="9.3" height="3" fill="#0000aa"/>
<rect x="363" y="2439" width="1.5" height="14.3" fill="#0000aa"/>
<rect x="366" y="2439" width="1.5" height="14.3" fill="#0000aa"/>
<rect x="369" y="2439" width="1.5" height="14.3" fill="#0000aa"/>
<rect x="385.5" y="2439" width="2" height="14.3" fill="#0000aa"/>
<rect x="387.5" y="2434.4" width="3.9" height="24.2" fill="#0000aa"/>
<rect x="420.5" y="2439" width="1.5" height="14.3" fill="#0000aa"/>
<rect x="421.7" y="2434.4" width="4.1" height="24.2" fill="#0000aa"/>
<rect x="458" y="2445" width="35.8" height="3" fill="#0000aa"/>
<rect x="466" y="2434.4" width="5.5" height="24.2" fill="#0000aa"/>
<rect x="484.2" y="2434.4" width="3.6" height="24.2" fill="#0000aa"/>
<rect x="491.7" y="2434.4" width="2.1" height="24.2" fill="#0000aa"/>
<rect x="526.4" y="2445" width="170.6" height="3" fill="#0000aa"/>
<rect x="526.4" y="2434.4" width="16.6" height="24.2" fill="#0000aa"/>
<rect x="546" y="2434.4" width="2" height="24.2" fill="#0000aa"/>
<rect x="550" y="2434.4" width="2" height="24.2" fill="#0000aa"/>
<rect x="554" y="2434.4" width="2" height="24.2" fill="#0000aa"/>
<rect x="558" y="2434.4" width="2" height="24.2" fill="#0000aa"/>
<rect x="564.2" y="2434.4" width="10.6" height="24.2" fill="#0000aa"/>
<rect x="585.3" y="2434.4" width="6.1" height="24.2" fill="#0000aa"/>
<rect x="602" y="2434.4" width="2" height="24.2" fill="#0000aa"/>
<rect x="606" y="2434.4" width="2" height="24.2" fill="#0000aa"/>
<rect x="610" y="2434.4" width="4" height="24.2" fill="#0000aa"/>
<rect x="617" y="2434.4" width="12" height="24.2" fill="#0000aa"/>
<rect x="635.2" y="2434.4" width="16.6" height="24.2" fill="#0000aa"/>
<rect x="657.8" y="2434.4" width="2.2" height="24.2" fill="#0000aa"/>
<rect x="662" y="2434.4" width="2" height="24.2" fill="#0000aa"/>
<rect x="666" y="2434.4" width="5.4" height="24.2" fill="#0000aa"/>
<rect x="671.4" y="2434.4" width="25.6" height="24.2" fill="#0000aa"/>
<rect x="724.3" y="2434.4" width="4.5" height="24.2" fill="#0000aa"/>
<rect x="733.3" y="2434.4" width="4.6" height="24.2" fill="#0000aa"/>
<rect x="737.9" y="2445" width="19.6" height="3" fill="#0000aa"/>
<rect x="756" y="2439" width="1.5" height="14.3" fill="#0000aa"/>
<rect x="774" y="2434.4" width="1.6" height="24.2" fill="#0000aa"/>
<rect x="783.2" y="2434.4" width="1.5" height="24.2" fill="#0000aa"/>
<rect x="810.3" y="2434.4" width="1.5" height="24.2" fill="#0000aa"/>
<rect x="813.4" y="2434.4" width="1.5" height="24.2" fill="#0000aa"/>
<rect x="837" y="2439" width="2" height="14.3" fill="#0000aa"/>
<rect x="838.8" y="2434.4" width="25.3" height="24.2" fill="#0000aa"/>
<rect x="907.9" y="2445" width="38.4" height="3" fill="#0000aa"/>
<rect x="908.5" y="2434.4" width="2.5" height="24.2" fill="#0000aa"/>
<rect x="913.5" y="2434.4" width="3.2" height="24.2" fill="#0000aa"/>
<rect x="928.2" y="2434.4" width="3.3" height="24.2" fill="#0000aa"/>
<rect x="933.2" y="2434.4" width="6.6" height="24.2" fill="#0000aa"/>
<rect x="944" y="2434.4" width="2.3" height="24.2" fill="#0000aa"/>
<rect x="967.7" y="2445" width="85.5" height="3" fill="#0000aa"/>
<rect x="967.7" y="2434.4" width="18.1" height="24.2" fill="#0000aa"/>
<rect x="989" y="2434.4" width="2" height="24.2" fill="#0000aa"/>
<rect x="993" y="2434.4" width="2" height="24.2" fill="#0000aa"/>
<rect x="997" y="2434.4" width="2" height="24.2" fill="#0000aa"/>
<rect x="1001" y="2434.4" width="4.5" height="24.2" fill="#0000aa"/>
<rect x="1008.8" y="2434.4" width="1.7" height="24.2" fill="#0000aa"/>
<rect x="1012" y="2434.4" width="3.4" height="24.2" fill="#0000aa"/>
<rect x="1020.3" y="2434.4" width="6.6" height="24.2" fill="#0000aa"/>
<rect x="1031.8" y="2434.4" width="3.3" height="24.2" fill="#0000aa"/>
<rect x="1038.4" y="2434.4" width="3.3" height="24.2" fill="#0000aa"/>
<rect x="1059.8" y="2445" width="34.5" height="3" fill="#0000aa"/>
<rect x="1059.8" y="2434.4" width="6.6" height="24.2" fill="#0000aa"/>
<rect x="1068" y="2434.4" width="3" height="24.2" fill="#0000aa"/>
<rect x="1076.2" y="2434.4" width="6.6" height="24.2" fill="#0000aa"/>
<rect x="1085" y="2434.4" width="3" height="24.2" fill="#0000aa"/>
<rect x="1090" y="2434.4" width="4.3" height="24.2" fill="#0000aa"/>
<rect x="1105.2" y="2434.4" width="8.8" height="24.2" fill="#0000aa"/>
<rect x="1116" y="2434.4" width="3.6" height="24.2" fill="#0000aa"/>
<rect x="1135.4" y="2445" width="26.3" height="3" fill="#0000aa"/>
<rect x="1137" y="2434.4" width="2.4" height="24.2" fill="#0000aa"/>
<rect x="1148.6" y="2434.4" width="3.3" height="24.2" fill="#0000aa"/>
<rect x="380.9" y="1693.5" width="17.4" height="769.7" fill="none" stroke="#bababa" stroke-width="3.1"/>
<rect x="706.6" y="1693.3" width="96.4" height="769.4" fill="none" stroke="#bababa" stroke-width="3.1"/>
<rect x="388" y="2460.8" width="3.6" height="10.7" fill="#b8000e"/>
<line x1="724.2" y1="2459.6" x2="709.1" y2="2474.7" stroke="#b8000e" stroke-width="3"/>
<line x1="737" y1="2460" x2="737" y2="2474.2" stroke="#b8000e" stroke-width="3"/>
<line x1="774.5" y1="2460" x2="774.5" y2="2474.2" stroke="#b8000e" stroke-width="3"/>
<line x1="788.2" y1="2460.1" x2="800.7" y2="2472.7" stroke="#b8000e" stroke-width="3"/>
<text x="389.8" y="2487.4" font-size="14" text-anchor="middle" textLength="23.6" lengthAdjust="spacingAndGlyphs" stroke="#000" stroke-width="0.2">Slfn2</text>
<text x="697.8" y="2487.4" font-size="14" text-anchor="middle" textLength="19.6" lengthAdjust="spacingAndGlyphs" stroke="#000" stroke-width="0.2">Ccl9</text>
<text x="737.8" y="2487.4" font-size="14" text-anchor="middle" textLength="19.4" lengthAdjust="spacingAndGlyphs" stroke="#000" stroke-width="0.2">Ccl6</text>
<text x="774.3" y="2487.4" font-size="14" text-anchor="middle" textLength="19.6" lengthAdjust="spacingAndGlyphs" stroke="#000" stroke-width="0.2">Ccl3</text>
<text x="810" y="2487.4" font-size="14" text-anchor="middle" textLength="19.6" lengthAdjust="spacingAndGlyphs" stroke="#000" stroke-width="0.2">Ccl4</text>
<text x="154.2" y="2519.6" font-size="24.5" textLength="296" lengthAdjust="spacingAndGlyphs" stroke="#000" stroke-width="0.3">Chromosome 11 Chemokine Locus</text>
</svg></body></html>
